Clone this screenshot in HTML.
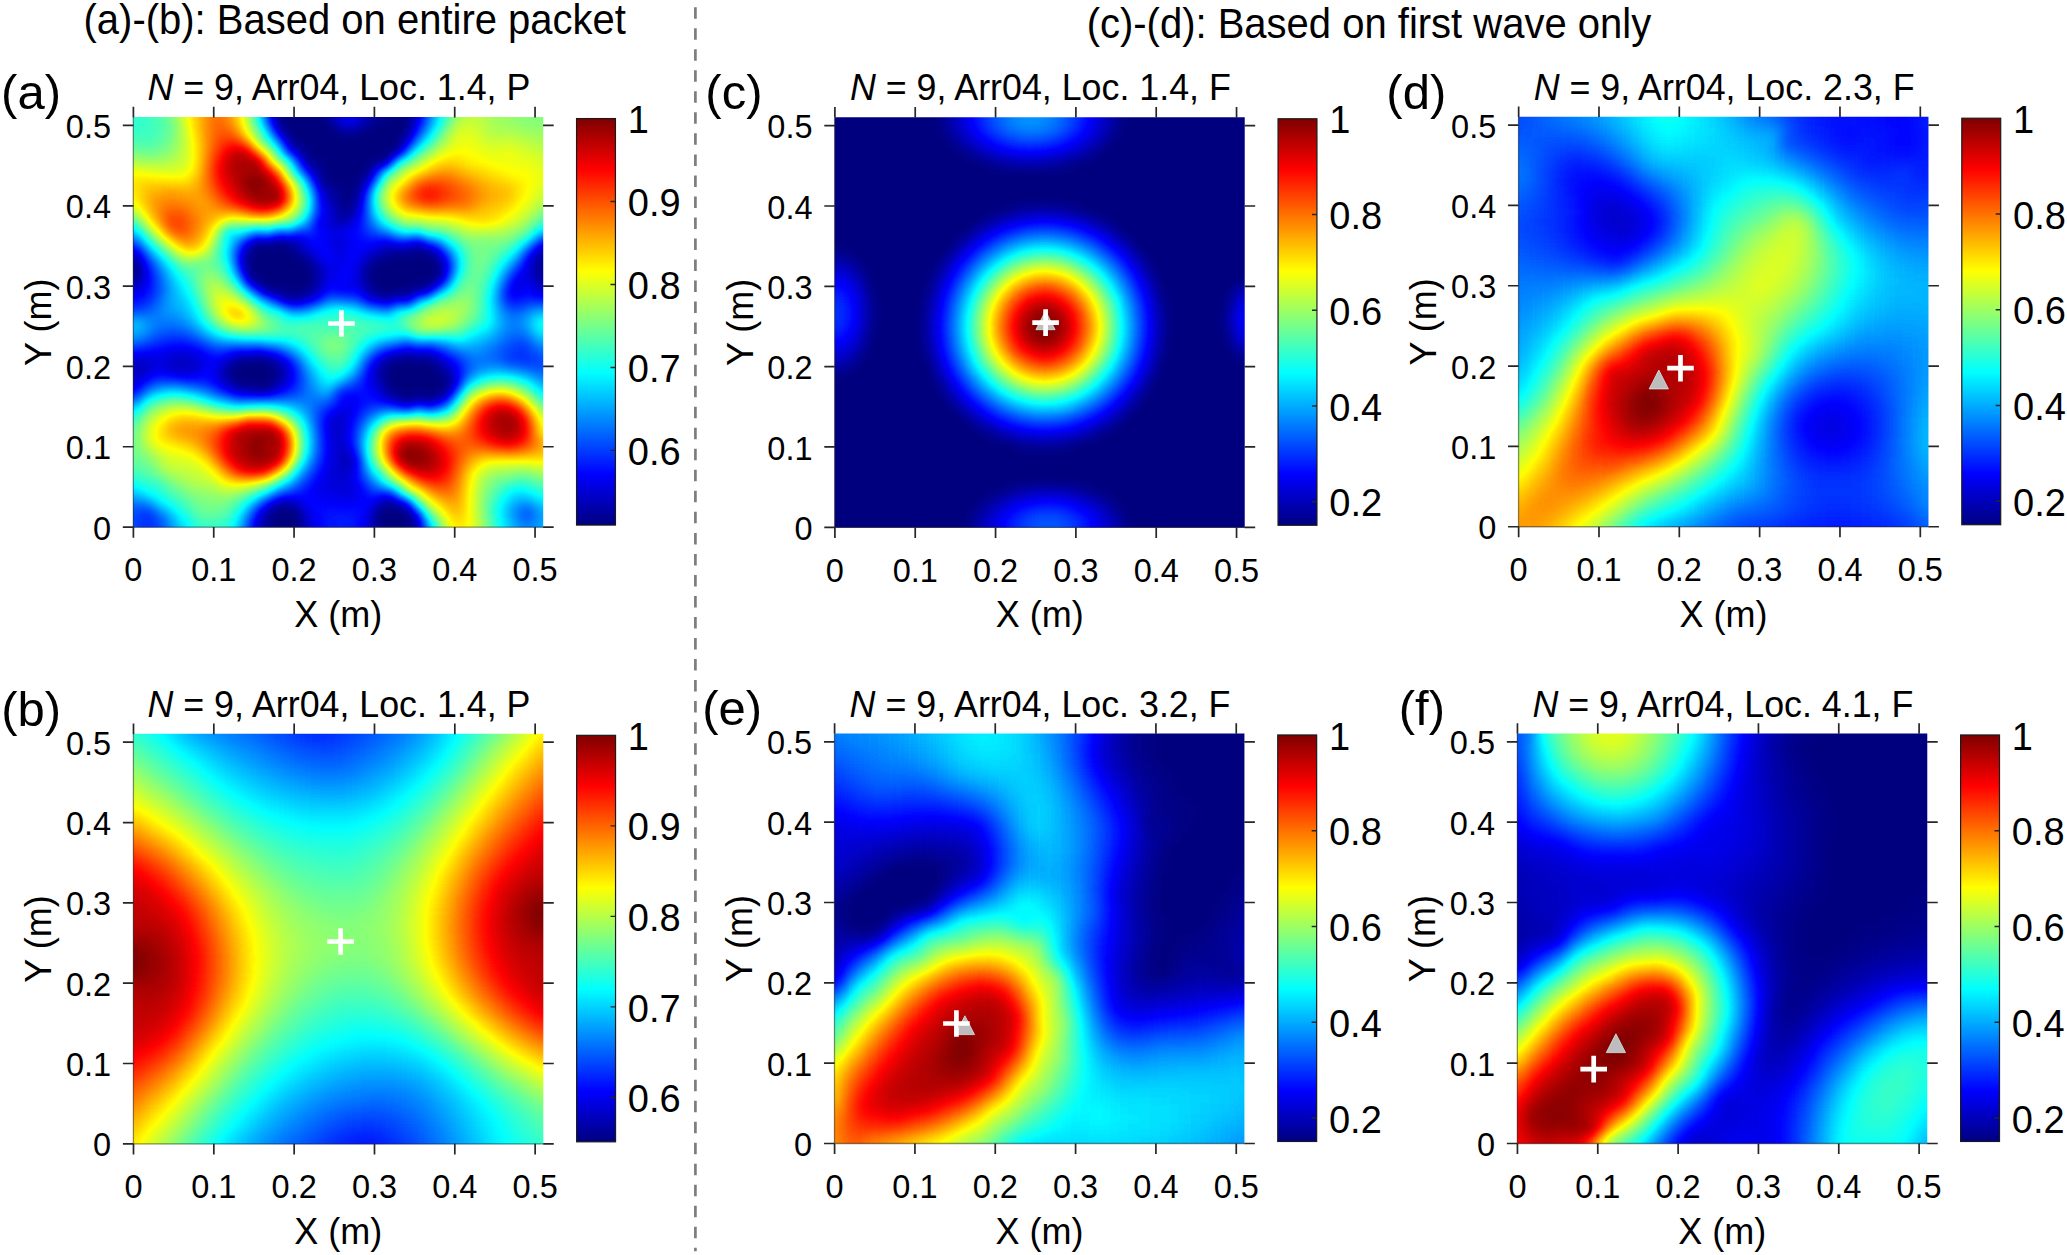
<!DOCTYPE html>
<html lang="en"><head><meta charset="utf-8"><title>Figure</title>
<style>html,body{margin:0;padding:0;background:#fff}svg{display:block}text{font-family:"Liberation Sans",sans-serif;fill:#000}.tk{font-size:32.5px}.lb{font-size:36px}.tt{font-size:36.6px}.cb{font-size:38px}.pl{font-size:49px}.hd{font-size:42px}</style></head><body>
<svg width="2067" height="1255" viewBox="0 0 2067 1255">
<defs>
<filter id="jet" filterUnits="userSpaceOnUse" x="0" y="0" width="600" height="600" color-interpolation-filters="sRGB"><feGaussianBlur stdDeviation="5.8"/><feComponentTransfer><feFuncR type="table" tableValues="0 0 0 0 .5 1 1 1 .5"/><feFuncG type="table" tableValues="0 0 .5 1 1 1 .5 0 0"/><feFuncB type="table" tableValues=".5 1 1 1 .5 0 0 0 0"/></feComponentTransfer></filter>
<linearGradient id="jg" x1="0" y1="1" x2="0" y2="0"><stop offset="0" stop-color="#000080"/><stop offset=".125" stop-color="#0000ff"/><stop offset=".375" stop-color="#00ffff"/><stop offset=".625" stop-color="#ffff00"/><stop offset=".875" stop-color="#ff0000"/><stop offset="1" stop-color="#800000"/></linearGradient>
</defs>
<rect width="2067" height="1255" fill="#fff"/>
<text class="hd" transform="translate(354.7 33.7) scale(.9524 1)" text-anchor="middle">(a)-(b): Based on entire packet</text>
<text class="hd" transform="translate(1368.9 37.5) scale(.9524 1)" text-anchor="middle">(c)-(d): Based on first wave only</text>
<path d="M695.4 7.2V1251.2" stroke="#7d7d7d" stroke-width="2.7" stroke-dasharray="11.5 9.528" fill="none"/>
<clipPath id="cla"><rect x="133.00" y="117.02" width="410.23" height="410.43"/></clipPath>
<g clip-path="url(#cla)"><g filter="url(#jet)" transform="translate(103.00 87.02)">
<path fill="#000000" d="M180 0h40.5v10.5h-40.5zM290 0h20.5v10.5h-20.5zM180 10h40.5v10.5h-40.5zM290 10h20.5v10.5h-20.5zM180 20h40.5v10.5h-40.5zM290 20h20.5v10.5h-20.5zM180 30h50.5v10.5h-50.5zM280 30h30.5v10.5h-30.5zM180 40h60.5v10.5h-60.5zM260 40h40.5v10.5h-40.5zM190 50h110.5v10.5h-110.5zM210 60h90.5v10.5h-90.5zM220 70h70.5v10.5h-70.5zM220 80h50.5v10.5h-50.5zM230 90h20.5v10.5h-20.5zM240 100h10.5v10.5h-10.5zM240 110h10.5v10.5h-10.5zM150 150h10.5v10.5h-10.5zM170 150h10.5v10.5h-10.5zM150 160h40.5v10.5h-40.5zM290 160h10.5v10.5h-10.5zM320 160h10.5v10.5h-10.5zM20 170h10.5v10.5h-10.5zM140 170h70.5v10.5h-70.5zM270 170h70.5v10.5h-70.5zM0 180h40.5v10.5h-40.5zM140 180h70.5v10.5h-70.5zM260 180h80.5v10.5h-80.5zM150 190h60.5v10.5h-60.5zM270 190h60.5v10.5h-60.5zM190 200h10.5v10.5h-10.5zM280 200h30.5v10.5h-30.5zM130 270h40.5v10.5h-40.5zM290 270h40.5v10.5h-40.5zM130 280h40.5v10.5h-40.5zM280 280h60.5v10.5h-60.5zM130 290h40.5v10.5h-40.5zM280 290h70.5v10.5h-70.5zM290 300h50.5v10.5h-50.5zM280 410h10.5v10.5h-10.5zM170 420h30.5v10.5h-30.5zM270 420h40.5v10.5h-40.5zM170 430h30.5v10.5h-30.5zM270 430h40.5v10.5h-40.5zM170 440h20.5v10.5h-20.5zM280 440h30.5v10.5h-30.5zM170 450h20.5v10.5h-20.5zM280 450h30.5v10.5h-30.5zM170 460h20.5v10.5h-20.5zM280 460h30.5v10.5h-30.5zM170 470h20.5v10.5h-20.5zM280 470h30.5v10.5h-30.5z"/>
<path fill="#010101" d="M170 30h10.5v10.5h-10.5zM270 30h10.5v10.5h-10.5zM250 40h10.5v10.5h-10.5zM200 60h10.5v10.5h-10.5zM200 70h10.5v10.5h-10.5zM250 90h10.5v10.5h-10.5zM310 160h10.5v10.5h-10.5zM270 200h10.5v10.5h-10.5zM120 280h10.5v10.5h-10.5zM300 310h10.5v10.5h-10.5z"/>
<path fill="#020202" d="M170 0h10.5v10.5h-10.5zM280 0h10.5v10.5h-10.5zM170 10h10.5v10.5h-10.5zM280 10h10.5v10.5h-10.5zM170 20h10.5v10.5h-10.5zM300 40h10.5v10.5h-10.5zM220 90h10.5v10.5h-10.5zM440 180h10.5v10.5h-10.5zM160 200h10.5v10.5h-10.5zM180 200h10.5v10.5h-10.5zM170 280h10.5v10.5h-10.5zM190 450h10.5v10.5h-10.5zM270 450h10.5v10.5h-10.5z"/>
<path fill="#030303" d="M280 20h10.5v10.5h-10.5zM210 70h10.5v10.5h-10.5zM250 100h10.5v10.5h-10.5zM180 150h10.5v10.5h-10.5zM140 160h10.5v10.5h-10.5zM0 170h10.5v10.5h-10.5zM460 180h20.5v10.5h-20.5zM170 200h10.5v10.5h-10.5zM280 270h10.5v10.5h-10.5zM320 310h10.5v10.5h-10.5zM160 430h10.5v10.5h-10.5zM190 460h10.5v10.5h-10.5zM270 460h10.5v10.5h-10.5zM190 470h10.5v10.5h-10.5zM270 470h10.5v10.5h-10.5z"/>
<path fill="#040404" d="M230 110h10.5v10.5h-10.5zM240 120h10.5v10.5h-10.5zM190 160h10.5v10.5h-10.5zM10 170h10.5v10.5h-10.5zM450 180h10.5v10.5h-10.5zM260 190h10.5v10.5h-10.5zM330 190h10.5v10.5h-10.5zM200 200h10.5v10.5h-10.5zM310 430h10.5v10.5h-10.5zM190 440h10.5v10.5h-10.5zM270 440h10.5v10.5h-10.5z"/>
<path fill="#050505" d="M240 40h10.5v10.5h-10.5zM160 150h10.5v10.5h-10.5zM440 170h10.5v10.5h-10.5zM460 170h20.5v10.5h-20.5zM430 180h10.5v10.5h-10.5zM160 450h10.5v10.5h-10.5zM160 460h10.5v10.5h-10.5zM160 470h10.5v10.5h-10.5z"/>
<path fill="#060606" d="M220 10h10.5v10.5h-10.5zM270 10h10.5v10.5h-10.5zM300 160h10.5v10.5h-10.5zM450 170h10.5v10.5h-10.5zM150 300h20.5v10.5h-20.5zM280 300h10.5v10.5h-10.5zM340 300h10.5v10.5h-10.5zM160 440h10.5v10.5h-10.5z"/>
<path fill="#070707" d="M220 0h10.5v10.5h-10.5zM270 0h10.5v10.5h-10.5zM230 100h10.5v10.5h-10.5zM30 170h10.5v10.5h-10.5zM430 170h10.5v10.5h-10.5zM20 190h10.5v10.5h-10.5zM170 290h10.5v10.5h-10.5zM160 420h10.5v10.5h-10.5z"/>
<path fill="#080808" d="M210 80h10.5v10.5h-10.5zM210 90h10.5v10.5h-10.5zM230 130h10.5v10.5h-10.5zM210 180h10.5v10.5h-10.5zM0 190h10.5v10.5h-10.5z"/>
<path fill="#090909" d="M260 30h10.5v10.5h-10.5zM180 50h10.5v10.5h-10.5zM250 110h10.5v10.5h-10.5zM280 160h10.5v10.5h-10.5zM440 160h10.5v10.5h-10.5zM10 190h10.5v10.5h-10.5zM440 190h10.5v10.5h-10.5zM330 270h10.5v10.5h-10.5zM170 410h10.5v10.5h-10.5z"/>
<path fill="#0a0a0a" d="M220 20h10.5v10.5h-10.5zM270 20h10.5v10.5h-10.5zM220 100h10.5v10.5h-10.5zM230 120h10.5v10.5h-10.5zM460 160h10.5v10.5h-10.5zM460 190h20.5v10.5h-20.5zM340 280h10.5v10.5h-10.5zM240 370h10.5v10.5h-10.5zM180 410h10.5v10.5h-10.5z"/>
<path fill="#0b0b0b" d="M190 60h10.5v10.5h-10.5zM430 160h10.5v10.5h-10.5zM450 160h10.5v10.5h-10.5zM470 160h10.5v10.5h-10.5zM260 170h10.5v10.5h-10.5zM210 190h10.5v10.5h-10.5zM450 190h10.5v10.5h-10.5zM260 200h10.5v10.5h-10.5zM320 200h10.5v10.5h-10.5zM180 210h10.5v10.5h-10.5zM170 270h10.5v10.5h-10.5zM270 280h10.5v10.5h-10.5z"/>
<path fill="#0c0c0c" d="M30 190h10.5v10.5h-10.5zM430 190h10.5v10.5h-10.5zM280 210h10.5v10.5h-10.5zM120 290h10.5v10.5h-10.5z"/>
<path fill="#0d0d0d" d="M260 10h10.5v10.5h-10.5zM240 130h10.5v10.5h-10.5zM310 150h10.5v10.5h-10.5zM310 200h10.5v10.5h-10.5zM300 260h10.5v10.5h-10.5zM140 300h10.5v10.5h-10.5z"/>
<path fill="#0e0e0e" d="M260 0h10.5v10.5h-10.5zM260 90h10.5v10.5h-10.5zM210 200h10.5v10.5h-10.5zM30 280h10.5v10.5h-10.5zM290 310h10.5v10.5h-10.5z"/>
<path fill="#0f0f0f" d="M170 40h10.5v10.5h-10.5zM20 160h10.5v10.5h-10.5zM330 160h10.5v10.5h-10.5zM190 210h10.5v10.5h-10.5zM30 270h10.5v10.5h-10.5zM70 270h10.5v10.5h-10.5zM120 270h10.5v10.5h-10.5zM270 290h10.5v10.5h-10.5zM290 410h10.5v10.5h-10.5zM310 450h10.5v10.5h-10.5z"/>
<path fill="#101010" d="M260 20h10.5v10.5h-10.5zM220 110h10.5v10.5h-10.5zM270 160h10.5v10.5h-10.5zM140 190h10.5v10.5h-10.5zM320 260h10.5v10.5h-10.5zM10 270h10.5v10.5h-10.5zM80 270h10.5v10.5h-10.5zM130 300h10.5v10.5h-10.5zM240 360h10.5v10.5h-10.5zM310 460h10.5v10.5h-10.5zM310 470h10.5v10.5h-10.5z"/>
<path fill="#111111" d="M230 150h10.5v10.5h-10.5zM410 190h10.5v10.5h-10.5zM150 260h10.5v10.5h-10.5zM0 270h10.5v10.5h-10.5zM20 270h10.5v10.5h-10.5zM70 280h10.5v10.5h-10.5zM330 310h10.5v10.5h-10.5zM230 330h10.5v10.5h-10.5zM230 340h10.5v10.5h-10.5zM230 350h10.5v10.5h-10.5z"/>
<path fill="#121212" d="M190 150h10.5v10.5h-10.5zM0 160h10.5v10.5h-10.5zM270 270h10.5v10.5h-10.5zM0 280h20.5v10.5h-20.5zM180 280h10.5v10.5h-10.5zM310 310h10.5v10.5h-10.5zM230 360h10.5v10.5h-10.5zM240 380h10.5v10.5h-10.5zM150 440h10.5v10.5h-10.5z"/>
<path fill="#131313" d="M230 30h10.5v10.5h-10.5zM250 120h10.5v10.5h-10.5zM210 170h10.5v10.5h-10.5zM40 270h10.5v10.5h-10.5zM60 270h10.5v10.5h-10.5zM90 270h10.5v10.5h-10.5zM40 280h10.5v10.5h-10.5zM80 280h10.5v10.5h-10.5zM20 290h10.5v10.5h-10.5zM230 370h10.5v10.5h-10.5zM150 430h10.5v10.5h-10.5zM150 450h10.5v10.5h-10.5zM150 460h10.5v10.5h-10.5zM150 470h10.5v10.5h-10.5z"/>
<path fill="#141414" d="M300 50h10.5v10.5h-10.5zM280 150h10.5v10.5h-10.5zM10 160h10.5v10.5h-10.5zM200 160h10.5v10.5h-10.5zM290 260h10.5v10.5h-10.5zM20 280h10.5v10.5h-10.5zM0 290h20.5v10.5h-20.5zM230 380h10.5v10.5h-10.5zM200 430h10.5v10.5h-10.5zM310 440h10.5v10.5h-10.5z"/>
<path fill="#151515" d="M420 170h10.5v10.5h-10.5zM430 200h10.5v10.5h-10.5zM300 210h10.5v10.5h-10.5zM240 390h10.5v10.5h-10.5zM270 410h10.5v10.5h-10.5zM200 440h10.5v10.5h-10.5zM200 450h10.5v10.5h-10.5zM200 460h10.5v10.5h-10.5zM200 470h10.5v10.5h-10.5z"/>
<path fill="#161616" d="M250 0h10.5v10.5h-10.5zM230 10h10.5v10.5h-10.5zM250 10h10.5v10.5h-10.5zM250 30h10.5v10.5h-10.5zM210 130h10.5v10.5h-10.5zM140 150h10.5v10.5h-10.5zM250 180h10.5v10.5h-10.5zM250 190h10.5v10.5h-10.5zM440 200h40.5v10.5h-40.5zM340 270h10.5v10.5h-10.5zM110 280h10.5v10.5h-10.5zM30 290h10.5v10.5h-10.5zM230 320h10.5v10.5h-10.5zM220 330h10.5v10.5h-10.5zM230 390h10.5v10.5h-10.5zM240 400h10.5v10.5h-10.5z"/>
<path fill="#171717" d="M230 0h10.5v10.5h-10.5zM250 20h10.5v10.5h-10.5zM310 30h10.5v10.5h-10.5zM230 160h10.5v10.5h-10.5zM260 160h10.5v10.5h-10.5zM230 170h10.5v10.5h-10.5zM220 180h10.5v10.5h-10.5zM70 260h20.5v10.5h-20.5zM310 260h10.5v10.5h-10.5zM60 280h10.5v10.5h-10.5zM220 390h10.5v10.5h-10.5zM230 400h10.5v10.5h-10.5zM190 410h10.5v10.5h-10.5zM260 430h10.5v10.5h-10.5z"/>
<path fill="#181818" d="M310 0h10.5v10.5h-10.5zM220 130h10.5v10.5h-10.5zM30 160h10.5v10.5h-10.5zM130 260h10.5v10.5h-10.5zM90 280h10.5v10.5h-10.5zM110 290h10.5v10.5h-10.5zM180 290h10.5v10.5h-10.5zM350 290h10.5v10.5h-10.5zM240 320h10.5v10.5h-10.5zM240 330h10.5v10.5h-10.5zM220 340h10.5v10.5h-10.5zM220 380h10.5v10.5h-10.5zM260 440h10.5v10.5h-10.5zM260 450h10.5v10.5h-10.5zM260 460h10.5v10.5h-10.5zM260 470h10.5v10.5h-10.5z"/>
<path fill="#191919" d="M310 10h10.5v10.5h-10.5zM230 20h10.5v10.5h-10.5zM310 20h10.5v10.5h-10.5zM440 150h10.5v10.5h-10.5zM420 180h10.5v10.5h-10.5zM0 200h10.5v10.5h-10.5zM20 200h10.5v10.5h-10.5zM50 270h10.5v10.5h-10.5zM180 270h10.5v10.5h-10.5zM280 310h10.5v10.5h-10.5zM240 350h10.5v10.5h-10.5zM250 370h10.5v10.5h-10.5zM250 400h10.5v10.5h-10.5z"/>
<path fill="#1a1a1a" d="M200 80h10.5v10.5h-10.5zM340 180h10.5v10.5h-10.5zM10 200h10.5v10.5h-10.5zM400 200h10.5v10.5h-10.5zM200 210h10.5v10.5h-10.5zM60 260h10.5v10.5h-10.5zM90 260h10.5v10.5h-10.5zM270 300h10.5v10.5h-10.5zM240 310h10.5v10.5h-10.5zM240 340h10.5v10.5h-10.5zM220 370h10.5v10.5h-10.5zM220 400h10.5v10.5h-10.5zM300 410h10.5v10.5h-10.5z"/>
<path fill="#1b1b1b" d="M230 140h10.5v10.5h-10.5zM240 150h10.5v10.5h-10.5zM300 150h10.5v10.5h-10.5zM250 170h10.5v10.5h-10.5zM30 200h10.5v10.5h-10.5zM410 200h10.5v10.5h-10.5zM140 260h10.5v10.5h-10.5zM160 260h10.5v10.5h-10.5zM210 400h10.5v10.5h-10.5zM150 420h10.5v10.5h-10.5zM200 420h10.5v10.5h-10.5z"/>
<path fill="#1c1c1c" d="M220 120h10.5v10.5h-10.5zM220 150h10.5v10.5h-10.5zM420 190h10.5v10.5h-10.5zM270 210h10.5v10.5h-10.5zM280 260h10.5v10.5h-10.5zM110 270h10.5v10.5h-10.5zM260 290h10.5v10.5h-10.5zM20 300h10.5v10.5h-10.5zM220 350h10.5v10.5h-10.5zM220 360h10.5v10.5h-10.5zM210 390h10.5v10.5h-10.5z"/>
<path fill="#1d1d1d" d="M460 150h10.5v10.5h-10.5zM340 170h10.5v10.5h-10.5zM230 180h10.5v10.5h-10.5zM220 190h10.5v10.5h-10.5zM240 200h10.5v10.5h-10.5zM50 260h10.5v10.5h-10.5zM100 270h10.5v10.5h-10.5zM50 280h10.5v10.5h-10.5zM170 300h10.5v10.5h-10.5zM230 410h20.5v10.5h-20.5zM260 420h10.5v10.5h-10.5z"/>
<path fill="#1e1e1e" d="M240 10h10.5v10.5h-10.5zM240 20h10.5v10.5h-10.5zM220 140h10.5v10.5h-10.5zM200 150h10.5v10.5h-10.5zM270 150h10.5v10.5h-10.5zM470 150h10.5v10.5h-10.5zM210 160h10.5v10.5h-10.5zM240 160h10.5v10.5h-10.5zM40 190h10.5v10.5h-10.5zM230 190h20.5v10.5h-20.5zM230 200h10.5v10.5h-10.5zM260 210h10.5v10.5h-10.5zM40 260h10.5v10.5h-10.5zM350 280h10.5v10.5h-10.5zM0 300h10.5v10.5h-10.5zM250 310h10.5v10.5h-10.5zM250 410h10.5v10.5h-10.5z"/>
<path fill="#1f1f1f" d="M240 0h10.5v10.5h-10.5zM210 100h10.5v10.5h-10.5zM250 150h10.5v10.5h-10.5zM220 170h10.5v10.5h-10.5zM40 180h10.5v10.5h-10.5zM330 260h10.5v10.5h-10.5zM260 280h10.5v10.5h-10.5zM250 390h10.5v10.5h-10.5zM200 400h10.5v10.5h-10.5zM220 410h10.5v10.5h-10.5zM210 440h10.5v10.5h-10.5zM210 450h10.5v10.5h-10.5zM210 460h10.5v10.5h-10.5zM210 470h10.5v10.5h-10.5z"/>
<path fill="#202020" d="M250 130h10.5v10.5h-10.5zM190 140h10.5v10.5h-10.5zM450 150h10.5v10.5h-10.5zM240 170h10.5v10.5h-10.5zM410 180h10.5v10.5h-10.5zM250 200h10.5v10.5h-10.5zM0 260h40.5v10.5h-40.5zM10 300h10.5v10.5h-10.5zM120 300h10.5v10.5h-10.5zM160 410h10.5v10.5h-10.5zM210 410h10.5v10.5h-10.5zM260 410h10.5v10.5h-10.5zM210 430h10.5v10.5h-10.5z"/>
<path fill="#212121" d="M240 30h10.5v10.5h-10.5zM210 140h10.5v10.5h-10.5zM130 170h10.5v10.5h-10.5zM240 300h10.5v10.5h-10.5z"/>
<path fill="#222222" d="M180 60h10.5v10.5h-10.5zM250 140h10.5v10.5h-10.5zM210 150h10.5v10.5h-10.5zM260 150h10.5v10.5h-10.5zM250 160h10.5v10.5h-10.5zM270 310h10.5v10.5h-10.5zM220 320h10.5v10.5h-10.5zM250 320h10.5v10.5h-10.5zM210 380h10.5v10.5h-10.5zM280 400h10.5v10.5h-10.5zM210 420h10.5v10.5h-10.5z"/>
<path fill="#232323" d="M210 110h10.5v10.5h-10.5zM240 140h10.5v10.5h-10.5zM240 180h10.5v10.5h-10.5zM40 200h10.5v10.5h-10.5zM0 210h30.5v10.5h-30.5zM100 260h10.5v10.5h-10.5zM100 280h10.5v10.5h-10.5zM100 290h10.5v10.5h-10.5zM30 300h10.5v10.5h-10.5zM250 300h20.5v10.5h-20.5zM250 380h10.5v10.5h-10.5zM200 410h10.5v10.5h-10.5zM240 420h10.5v10.5h-10.5zM250 430h10.5v10.5h-10.5zM250 440h10.5v10.5h-10.5zM250 450h10.5v10.5h-10.5zM250 460h10.5v10.5h-10.5zM250 470h10.5v10.5h-10.5z"/>
<path fill="#242424" d="M210 120h10.5v10.5h-10.5zM220 160h10.5v10.5h-10.5zM420 200h10.5v10.5h-10.5zM30 210h10.5v10.5h-10.5zM410 210h10.5v10.5h-10.5zM120 260h10.5v10.5h-10.5zM230 300h10.5v10.5h-10.5zM260 310h10.5v10.5h-10.5zM220 420h20.5v10.5h-20.5zM220 440h10.5v10.5h-10.5zM220 460h10.5v10.5h-10.5zM220 470h10.5v10.5h-10.5z"/>
<path fill="#252525" d="M290 150h10.5v10.5h-10.5zM420 160h10.5v10.5h-10.5zM150 200h10.5v10.5h-10.5zM220 200h10.5v10.5h-10.5zM170 210h10.5v10.5h-10.5zM70 250h10.5v10.5h-10.5zM170 260h10.5v10.5h-10.5zM350 270h10.5v10.5h-10.5zM40 290h10.5v10.5h-10.5zM250 420h10.5v10.5h-10.5zM220 430h10.5v10.5h-10.5zM220 450h10.5v10.5h-10.5z"/>
<path fill="#262626" d="M130 160h10.5v10.5h-10.5zM400 210h10.5v10.5h-10.5zM180 300h10.5v10.5h-10.5zM230 310h10.5v10.5h-10.5zM190 400h10.5v10.5h-10.5zM260 400h10.5v10.5h-10.5zM310 420h10.5v10.5h-10.5zM230 440h20.5v10.5h-20.5zM230 450h20.5v10.5h-20.5zM230 460h20.5v10.5h-20.5zM230 470h20.5v10.5h-20.5z"/>
<path fill="#272727" d="M160 20h10.5v10.5h-10.5zM270 80h10.5v10.5h-10.5zM290 210h10.5v10.5h-10.5zM60 250h10.5v10.5h-10.5zM80 250h10.5v10.5h-10.5zM90 290h10.5v10.5h-10.5zM230 430h20.5v10.5h-20.5z"/>
<path fill="#282828" d="M430 150h10.5v10.5h-10.5zM40 170h10.5v10.5h-10.5zM80 290h10.5v10.5h-10.5zM200 390h10.5v10.5h-10.5zM40 420h10.5v10.5h-10.5z"/>
<path fill="#292929" d="M160 0h10.5v10.5h-10.5zM40 210h10.5v10.5h-10.5zM210 210h10.5v10.5h-10.5zM110 260h10.5v10.5h-10.5zM260 270h10.5v10.5h-10.5zM190 280h10.5v10.5h-10.5z"/>
<path fill="#2a2a2a" d="M160 10h10.5v10.5h-10.5zM310 40h10.5v10.5h-10.5zM190 70h10.5v10.5h-10.5zM170 140h10.5v10.5h-10.5zM190 290h10.5v10.5h-10.5zM250 330h10.5v10.5h-10.5zM250 360h10.5v10.5h-10.5zM40 430h10.5v10.5h-10.5zM40 450h10.5v10.5h-10.5zM40 470h10.5v10.5h-10.5z"/>
<path fill="#2b2b2b" d="M320 150h10.5v10.5h-10.5zM400 190h10.5v10.5h-10.5zM420 210h20.5v10.5h-20.5zM50 250h10.5v10.5h-10.5zM410 260h10.5v10.5h-10.5zM420 270h10.5v10.5h-10.5zM40 440h10.5v10.5h-10.5zM40 460h10.5v10.5h-10.5z"/>
<path fill="#2c2c2c" d="M160 30h10.5v10.5h-10.5zM260 140h10.5v10.5h-10.5zM440 210h40.5v10.5h-40.5zM340 310h10.5v10.5h-10.5zM210 370h10.5v10.5h-10.5z"/>
<path fill="#2d2d2d" d="M260 100h10.5v10.5h-10.5zM200 140h10.5v10.5h-10.5zM270 260h10.5v10.5h-10.5zM420 260h10.5v10.5h-10.5zM410 270h10.5v10.5h-10.5zM250 290h10.5v10.5h-10.5zM140 440h10.5v10.5h-10.5z"/>
<path fill="#2e2e2e" d="M20 150h10.5v10.5h-10.5zM90 250h10.5v10.5h-10.5zM340 260h10.5v10.5h-10.5zM400 270h10.5v10.5h-10.5zM70 290h10.5v10.5h-10.5zM110 300h10.5v10.5h-10.5zM420 420h10.5v10.5h-10.5zM140 460h10.5v10.5h-10.5zM140 470h10.5v10.5h-10.5z"/>
<path fill="#2f2f2f" d="M20 220h10.5v10.5h-10.5zM430 270h10.5v10.5h-10.5zM50 290h10.5v10.5h-10.5zM210 330h10.5v10.5h-10.5zM180 400h10.5v10.5h-10.5zM270 400h10.5v10.5h-10.5zM140 450h10.5v10.5h-10.5z"/>
<path fill="#303030" d="M0 220h20.5v10.5h-20.5zM400 260h10.5v10.5h-10.5zM450 270h30.5v10.5h-30.5zM260 320h10.5v10.5h-10.5zM30 430h10.5v10.5h-10.5zM50 430h10.5v10.5h-10.5zM30 440h10.5v10.5h-10.5zM30 450h10.5v10.5h-10.5zM30 460h10.5v10.5h-10.5zM30 470h10.5v10.5h-10.5z"/>
<path fill="#313131" d="M50 200h10.5v10.5h-10.5zM40 250h10.5v10.5h-10.5zM410 250h10.5v10.5h-10.5zM440 270h10.5v10.5h-10.5zM60 290h10.5v10.5h-10.5zM190 300h10.5v10.5h-10.5zM30 420h10.5v10.5h-10.5zM10 430h10.5v10.5h-10.5zM140 430h10.5v10.5h-10.5zM50 440h10.5v10.5h-10.5zM50 450h10.5v10.5h-10.5zM50 460h10.5v10.5h-10.5zM50 470h10.5v10.5h-10.5z"/>
<path fill="#323232" d="M0 150h10.5v10.5h-10.5zM50 190h10.5v10.5h-10.5zM30 220h10.5v10.5h-10.5zM420 250h10.5v10.5h-10.5zM210 320h10.5v10.5h-10.5zM210 340h10.5v10.5h-10.5zM250 340h10.5v10.5h-10.5zM0 420h20.5v10.5h-20.5zM0 430h10.5v10.5h-10.5zM0 440h20.5v10.5h-20.5zM0 450h20.5v10.5h-20.5zM0 460h20.5v10.5h-20.5zM0 470h20.5v10.5h-20.5z"/>
<path fill="#333333" d="M260 130h10.5v10.5h-10.5zM210 360h10.5v10.5h-10.5zM260 390h10.5v10.5h-10.5zM20 420h10.5v10.5h-10.5zM20 430h10.5v10.5h-10.5zM20 440h10.5v10.5h-10.5zM20 450h10.5v10.5h-10.5zM20 460h10.5v10.5h-10.5zM20 470h10.5v10.5h-10.5z"/>
<path fill="#343434" d="M10 150h10.5v10.5h-10.5zM60 240h20.5v10.5h-20.5zM210 350h10.5v10.5h-10.5z"/>
<path fill="#353535" d="M130 180h10.5v10.5h-10.5zM340 190h10.5v10.5h-10.5zM300 250h10.5v10.5h-10.5zM190 270h10.5v10.5h-10.5zM360 270h10.5v10.5h-10.5zM360 280h10.5v10.5h-10.5zM220 310h10.5v10.5h-10.5z"/>
<path fill="#363636" d="M320 20h10.5v10.5h-10.5zM270 140h10.5v10.5h-10.5zM340 160h10.5v10.5h-10.5zM400 250h10.5v10.5h-10.5zM390 260h10.5v10.5h-10.5zM430 260h10.5v10.5h-10.5zM440 280h10.5v10.5h-10.5zM250 350h10.5v10.5h-10.5z"/>
<path fill="#373737" d="M410 170h10.5v10.5h-10.5zM50 180h10.5v10.5h-10.5zM450 280h30.5v10.5h-30.5zM350 300h10.5v10.5h-10.5zM200 380h10.5v10.5h-10.5z"/>
<path fill="#383838" d="M320 0h10.5v10.5h-10.5zM320 10h10.5v10.5h-10.5zM260 110h10.5v10.5h-10.5zM410 220h10.5v10.5h-10.5zM80 240h10.5v10.5h-10.5zM450 260h10.5v10.5h-10.5zM430 280h10.5v10.5h-10.5zM300 320h10.5v10.5h-10.5z"/>
<path fill="#393939" d="M260 120h10.5v10.5h-10.5zM30 150h10.5v10.5h-10.5zM50 210h10.5v10.5h-10.5zM250 210h10.5v10.5h-10.5zM40 220h10.5v10.5h-10.5zM50 240h10.5v10.5h-10.5zM100 250h10.5v10.5h-10.5zM350 260h10.5v10.5h-10.5zM460 260h20.5v10.5h-20.5z"/>
<path fill="#3a3a3a" d="M320 30h10.5v10.5h-10.5zM400 220h10.5v10.5h-10.5zM180 260h10.5v10.5h-10.5zM440 260h10.5v10.5h-10.5zM390 270h10.5v10.5h-10.5zM20 310h10.5v10.5h-10.5zM210 310h10.5v10.5h-10.5zM190 390h10.5v10.5h-10.5z"/>
<path fill="#3b3b3b" d="M330 150h10.5v10.5h-10.5zM0 250h20.5v10.5h-20.5zM30 250h10.5v10.5h-10.5zM380 270h10.5v10.5h-10.5zM50 420h10.5v10.5h-10.5zM410 420h10.5v10.5h-10.5zM420 430h10.5v10.5h-10.5z"/>
<path fill="#3c3c3c" d="M180 140h10.5v10.5h-10.5zM400 180h10.5v10.5h-10.5zM410 240h10.5v10.5h-10.5zM20 250h10.5v10.5h-10.5zM370 270h10.5v10.5h-10.5zM240 290h10.5v10.5h-10.5zM270 320h10.5v10.5h-10.5zM170 400h10.5v10.5h-10.5z"/>
<path fill="#3d3d3d" d="M150 140h10.5v10.5h-10.5zM130 150h10.5v10.5h-10.5zM240 210h10.5v10.5h-10.5zM320 250h10.5v10.5h-10.5zM380 260h10.5v10.5h-10.5zM100 300h10.5v10.5h-10.5zM200 300h10.5v10.5h-10.5zM0 310h10.5v10.5h-10.5zM60 430h10.5v10.5h-10.5z"/>
<path fill="#3e3e3e" d="M60 230h10.5v10.5h-10.5zM400 240h10.5v10.5h-10.5zM390 250h10.5v10.5h-10.5zM250 280h10.5v10.5h-10.5zM420 280h10.5v10.5h-10.5zM200 290h10.5v10.5h-10.5zM200 310h10.5v10.5h-10.5zM0 410h40.5v10.5h-40.5zM60 440h10.5v10.5h-10.5zM60 450h10.5v10.5h-10.5zM60 460h10.5v10.5h-10.5zM60 470h10.5v10.5h-10.5z"/>
<path fill="#3f3f3f" d="M40 160h10.5v10.5h-10.5zM50 220h10.5v10.5h-10.5zM50 230h10.5v10.5h-10.5zM10 310h10.5v10.5h-10.5zM420 450h10.5v10.5h-10.5z"/>
<path fill="#404040" d="M300 60h10.5v10.5h-10.5zM280 140h10.5v10.5h-10.5zM220 210h10.5v10.5h-10.5zM70 230h10.5v10.5h-10.5zM290 250h10.5v10.5h-10.5zM130 310h10.5v10.5h-10.5zM190 310h10.5v10.5h-10.5zM420 460h10.5v10.5h-10.5zM420 470h10.5v10.5h-10.5z"/>
<path fill="#414141" d="M400 230h20.5v10.5h-20.5zM40 240h10.5v10.5h-10.5z"/>
<path fill="#424242" d="M420 220h10.5v10.5h-10.5zM360 260h10.5v10.5h-10.5zM40 300h10.5v10.5h-10.5zM180 310h10.5v10.5h-10.5zM320 320h10.5v10.5h-10.5zM150 410h10.5v10.5h-10.5zM320 440h10.5v10.5h-10.5zM420 440h10.5v10.5h-10.5z"/>
<path fill="#434343" d="M170 50h10.5v10.5h-10.5zM90 240h10.5v10.5h-10.5zM420 240h10.5v10.5h-10.5zM110 250h10.5v10.5h-10.5zM310 250h10.5v10.5h-10.5zM370 260h10.5v10.5h-10.5zM140 310h10.5v10.5h-10.5zM200 320h10.5v10.5h-10.5zM410 430h10.5v10.5h-10.5z"/>
<path fill="#444444" d="M200 130h10.5v10.5h-10.5zM50 170h10.5v10.5h-10.5zM60 200h10.5v10.5h-10.5zM390 200h10.5v10.5h-10.5zM230 210h10.5v10.5h-10.5zM390 210h10.5v10.5h-10.5zM40 230h10.5v10.5h-10.5zM170 310h10.5v10.5h-10.5zM290 320h10.5v10.5h-10.5zM260 330h10.5v10.5h-10.5zM40 410h10.5v10.5h-10.5zM430 420h10.5v10.5h-10.5z"/>
<path fill="#454545" d="M330 250h10.5v10.5h-10.5zM200 280h10.5v10.5h-10.5zM370 280h10.5v10.5h-10.5zM440 290h10.5v10.5h-10.5zM210 300h10.5v10.5h-10.5zM30 310h10.5v10.5h-10.5zM140 420h10.5v10.5h-10.5zM320 460h10.5v10.5h-10.5zM320 470h10.5v10.5h-10.5z"/>
<path fill="#464646" d="M310 50h10.5v10.5h-10.5zM200 90h10.5v10.5h-10.5zM60 220h10.5v10.5h-10.5zM430 250h10.5v10.5h-10.5zM410 280h10.5v10.5h-10.5zM260 380h10.5v10.5h-10.5zM420 410h10.5v10.5h-10.5zM430 430h10.5v10.5h-10.5zM320 450h10.5v10.5h-10.5zM410 450h10.5v10.5h-10.5z"/>
<path fill="#474747" d="M60 190h10.5v10.5h-10.5zM330 200h10.5v10.5h-10.5zM190 220h10.5v10.5h-10.5zM280 220h10.5v10.5h-10.5zM80 230h10.5v10.5h-10.5zM120 250h10.5v10.5h-10.5zM380 250h10.5v10.5h-10.5zM260 260h10.5v10.5h-10.5zM460 290h20.5v10.5h-20.5zM90 300h10.5v10.5h-10.5zM150 310h20.5v10.5h-20.5zM450 420h10.5v10.5h-10.5zM410 470h10.5v10.5h-10.5z"/>
<path fill="#484848" d="M130 250h10.5v10.5h-10.5zM450 250h10.5v10.5h-10.5zM470 250h10.5v10.5h-10.5zM450 290h10.5v10.5h-10.5zM280 320h10.5v10.5h-10.5zM470 420h10.5v10.5h-10.5zM430 450h10.5v10.5h-10.5zM410 460h10.5v10.5h-10.5z"/>
<path fill="#494949" d="M60 210h10.5v10.5h-10.5zM70 220h10.5v10.5h-10.5zM390 240h10.5v10.5h-10.5zM460 250h10.5v10.5h-10.5zM200 370h10.5v10.5h-10.5zM270 390h10.5v10.5h-10.5zM460 420h10.5v10.5h-10.5zM410 440h10.5v10.5h-10.5zM430 460h10.5v10.5h-10.5zM430 470h10.5v10.5h-10.5z"/>
<path fill="#4a4a4a" d="M0 240h30.5v10.5h-30.5zM280 250h10.5v10.5h-10.5zM440 250h10.5v10.5h-10.5zM410 410h10.5v10.5h-10.5zM450 430h10.5v10.5h-10.5zM430 440h10.5v10.5h-10.5z"/>
<path fill="#4b4b4b" d="M20 140h10.5v10.5h-10.5zM160 210h10.5v10.5h-10.5zM420 230h10.5v10.5h-10.5zM360 290h10.5v10.5h-10.5zM430 290h10.5v10.5h-10.5zM120 310h10.5v10.5h-10.5zM440 420h10.5v10.5h-10.5zM460 430h20.5v10.5h-20.5zM450 450h10.5v10.5h-10.5z"/>
<path fill="#4c4c4c" d="M320 40h10.5v10.5h-10.5zM440 140h10.5v10.5h-10.5zM390 220h10.5v10.5h-10.5zM140 250h20.5v10.5h-20.5zM380 280h10.5v10.5h-10.5zM400 280h10.5v10.5h-10.5zM320 430h10.5v10.5h-10.5zM460 450h20.5v10.5h-20.5zM450 460h10.5v10.5h-10.5zM470 460h10.5v10.5h-10.5zM450 470h10.5v10.5h-10.5zM470 470h10.5v10.5h-10.5z"/>
<path fill="#4d4d4d" d="M190 80h10.5v10.5h-10.5zM270 90h10.5v10.5h-10.5zM430 220h50.5v10.5h-50.5zM30 240h10.5v10.5h-10.5zM340 250h10.5v10.5h-10.5zM370 250h10.5v10.5h-10.5zM200 330h10.5v10.5h-10.5zM400 420h10.5v10.5h-10.5zM440 430h10.5v10.5h-10.5zM450 440h10.5v10.5h-10.5zM470 440h10.5v10.5h-10.5zM460 460h10.5v10.5h-10.5zM460 470h10.5v10.5h-10.5z"/>
<path fill="#4e4e4e" d="M120 140h10.5v10.5h-10.5zM70 210h10.5v10.5h-10.5zM200 220h10.5v10.5h-10.5zM270 220h10.5v10.5h-10.5zM60 420h10.5v10.5h-10.5zM460 440h10.5v10.5h-10.5zM440 450h10.5v10.5h-10.5zM440 460h10.5v10.5h-10.5zM440 470h10.5v10.5h-10.5z"/>
<path fill="#4f4f4f" d="M270 130h10.5v10.5h-10.5zM0 140h10.5v10.5h-10.5zM60 180h10.5v10.5h-10.5zM390 190h10.5v10.5h-10.5zM180 220h10.5v10.5h-10.5zM190 260h10.5v10.5h-10.5zM390 280h10.5v10.5h-10.5zM210 290h10.5v10.5h-10.5zM290 400h10.5v10.5h-10.5zM440 440h10.5v10.5h-10.5z"/>
<path fill="#505050" d="M460 140h10.5v10.5h-10.5zM390 230h10.5v10.5h-10.5zM220 300h10.5v10.5h-10.5zM330 320h10.5v10.5h-10.5z"/>
<path fill="#515151" d="M10 140h10.5v10.5h-10.5zM470 140h10.5v10.5h-10.5zM310 210h10.5v10.5h-10.5zM80 220h10.5v10.5h-10.5zM0 230h40.5v10.5h-40.5zM50 300h10.5v10.5h-10.5zM80 300h10.5v10.5h-10.5zM190 380h10.5v10.5h-10.5zM70 440h10.5v10.5h-10.5z"/>
<path fill="#525252" d="M160 140h10.5v10.5h-10.5zM350 170h10.5v10.5h-10.5zM70 200h10.5v10.5h-10.5zM270 250h10.5v10.5h-10.5zM200 270h10.5v10.5h-10.5zM230 290h10.5v10.5h-10.5zM20 400h10.5v10.5h-10.5zM400 430h10.5v10.5h-10.5zM130 440h10.5v10.5h-10.5zM70 460h10.5v10.5h-10.5zM70 470h10.5v10.5h-10.5z"/>
<path fill="#535353" d="M160 40h10.5v10.5h-10.5zM140 140h10.5v10.5h-10.5zM450 140h10.5v10.5h-10.5zM100 240h10.5v10.5h-10.5zM360 250h10.5v10.5h-10.5zM250 270h10.5v10.5h-10.5zM440 300h10.5v10.5h-10.5zM0 400h10.5v10.5h-10.5zM70 450h10.5v10.5h-10.5z"/>
<path fill="#545454" d="M110 310h10.5v10.5h-10.5zM190 320h10.5v10.5h-10.5zM180 390h10.5v10.5h-10.5zM10 400h10.5v10.5h-10.5zM400 410h10.5v10.5h-10.5zM430 410h10.5v10.5h-10.5zM70 430h10.5v10.5h-10.5zM130 460h10.5v10.5h-10.5zM130 470h10.5v10.5h-10.5z"/>
<path fill="#555555" d="M120 160h10.5v10.5h-10.5zM140 200h10.5v10.5h-10.5zM260 220h10.5v10.5h-10.5zM90 230h10.5v10.5h-10.5zM160 250h10.5v10.5h-10.5zM130 450h10.5v10.5h-10.5zM400 450h10.5v10.5h-10.5zM400 470h10.5v10.5h-10.5z"/>
<path fill="#565656" d="M290 140h10.5v10.5h-10.5zM410 160h10.5v10.5h-10.5zM400 170h10.5v10.5h-10.5zM80 210h10.5v10.5h-10.5zM380 240h10.5v10.5h-10.5zM460 300h10.5v10.5h-10.5zM260 340h10.5v10.5h-10.5zM30 400h10.5v10.5h-10.5zM400 460h10.5v10.5h-10.5z"/>
<path fill="#575757" d="M330 20h10.5v10.5h-10.5zM170 250h10.5v10.5h-10.5zM470 300h10.5v10.5h-10.5zM200 360h10.5v10.5h-10.5zM410 400h10.5v10.5h-10.5zM400 440h10.5v10.5h-10.5z"/>
<path fill="#585858" d="M330 0h10.5v10.5h-10.5zM30 140h10.5v10.5h-10.5zM310 140h10.5v10.5h-10.5zM420 150h10.5v10.5h-10.5zM70 190h10.5v10.5h-10.5zM60 300h10.5v10.5h-10.5zM310 320h10.5v10.5h-10.5zM200 340h10.5v10.5h-10.5zM450 410h10.5v10.5h-10.5zM130 430h10.5v10.5h-10.5z"/>
<path fill="#595959" d="M330 10h10.5v10.5h-10.5zM430 140h10.5v10.5h-10.5zM350 180h10.5v10.5h-10.5zM350 250h10.5v10.5h-10.5zM210 280h10.5v10.5h-10.5zM450 300h10.5v10.5h-10.5zM470 410h10.5v10.5h-10.5z"/>
<path fill="#5a5a5a" d="M430 240h10.5v10.5h-10.5zM70 300h10.5v10.5h-10.5zM260 370h10.5v10.5h-10.5zM460 410h10.5v10.5h-10.5zM80 440h10.5v10.5h-10.5z"/>
<path fill="#5b5b5b" d="M330 30h10.5v10.5h-10.5zM450 240h30.5v10.5h-30.5zM20 320h10.5v10.5h-10.5zM50 410h10.5v10.5h-10.5z"/>
<path fill="#5c5c5c" d="M200 350h10.5v10.5h-10.5zM440 410h10.5v10.5h-10.5zM80 460h10.5v10.5h-10.5zM80 470h10.5v10.5h-10.5z"/>
<path fill="#5d5d5d" d="M350 160h10.5v10.5h-10.5zM60 170h10.5v10.5h-10.5zM370 240h10.5v10.5h-10.5zM440 240h10.5v10.5h-10.5zM240 280h10.5v10.5h-10.5zM270 330h10.5v10.5h-10.5zM160 400h10.5v10.5h-10.5zM420 400h10.5v10.5h-10.5zM80 450h10.5v10.5h-10.5z"/>
<path fill="#5e5e5e" d="M340 150h10.5v10.5h-10.5zM50 160h10.5v10.5h-10.5zM130 190h10.5v10.5h-10.5zM180 250h10.5v10.5h-10.5zM0 320h10.5v10.5h-10.5z"/>
<path fill="#5f5f5f" d="M390 180h10.5v10.5h-10.5zM80 200h10.5v10.5h-10.5zM150 210h10.5v10.5h-10.5zM420 290h10.5v10.5h-10.5zM430 300h10.5v10.5h-10.5zM390 420h10.5v10.5h-10.5zM80 430h10.5v10.5h-10.5z"/>
<path fill="#606060" d="M40 150h10.5v10.5h-10.5zM120 150h10.5v10.5h-10.5zM90 220h10.5v10.5h-10.5zM210 220h10.5v10.5h-10.5zM220 290h10.5v10.5h-10.5zM10 320h10.5v10.5h-10.5zM400 400h10.5v10.5h-10.5zM70 420h10.5v10.5h-10.5z"/>
<path fill="#616161" d="M200 120h10.5v10.5h-10.5zM250 220h10.5v10.5h-10.5zM260 250h10.5v10.5h-10.5zM370 290h10.5v10.5h-10.5zM100 310h10.5v10.5h-10.5zM140 410h10.5v10.5h-10.5z"/>
<path fill="#626262" d="M150 20h10.5v10.5h-10.5zM130 140h10.5v10.5h-10.5zM120 170h10.5v10.5h-10.5zM380 210h10.5v10.5h-10.5zM250 260h10.5v10.5h-10.5zM340 320h10.5v10.5h-10.5z"/>
<path fill="#636363" d="M150 0h10.5v10.5h-10.5zM290 70h10.5v10.5h-10.5zM200 100h10.5v10.5h-10.5zM430 230h10.5v10.5h-10.5zM20 390h10.5v10.5h-10.5zM40 400h10.5v10.5h-10.5zM390 430h10.5v10.5h-10.5z"/>
<path fill="#646464" d="M150 10h10.5v10.5h-10.5zM320 50h10.5v10.5h-10.5zM70 180h10.5v10.5h-10.5zM380 220h10.5v10.5h-10.5zM380 230h10.5v10.5h-10.5zM110 240h10.5v10.5h-10.5zM200 260h10.5v10.5h-10.5zM260 350h10.5v10.5h-10.5zM0 390h10.5v10.5h-10.5zM130 420h10.5v10.5h-10.5zM120 440h10.5v10.5h-10.5zM390 450h10.5v10.5h-10.5zM390 470h10.5v10.5h-10.5z"/>
<path fill="#656565" d="M150 30h10.5v10.5h-10.5zM270 120h10.5v10.5h-10.5zM340 200h10.5v10.5h-10.5zM450 230h10.5v10.5h-10.5zM470 230h10.5v10.5h-10.5zM30 320h10.5v10.5h-10.5zM10 390h10.5v10.5h-10.5zM60 410h10.5v10.5h-10.5zM390 410h10.5v10.5h-10.5zM90 440h10.5v10.5h-10.5zM390 440h10.5v10.5h-10.5zM390 460h10.5v10.5h-10.5z"/>
<path fill="#666666" d="M300 140h10.5v10.5h-10.5zM380 200h10.5v10.5h-10.5zM160 220h10.5v10.5h-10.5zM290 220h10.5v10.5h-10.5zM290 230h10.5v10.5h-10.5zM460 230h10.5v10.5h-10.5zM190 250h10.5v10.5h-10.5zM50 400h10.5v10.5h-10.5zM430 400h10.5v10.5h-10.5zM120 460h10.5v10.5h-10.5z"/>
<path fill="#676767" d="M80 190h10.5v10.5h-10.5zM320 210h10.5v10.5h-10.5zM440 230h10.5v10.5h-10.5zM210 270h10.5v10.5h-10.5zM220 280h10.5v10.5h-10.5zM260 360h10.5v10.5h-10.5zM30 390h10.5v10.5h-10.5zM120 470h10.5v10.5h-10.5z"/>
<path fill="#686868" d="M190 130h10.5v10.5h-10.5zM220 220h10.5v10.5h-10.5zM360 240h10.5v10.5h-10.5zM180 320h10.5v10.5h-10.5zM450 400h10.5v10.5h-10.5zM470 400h10.5v10.5h-10.5zM110 440h10.5v10.5h-10.5zM120 450h10.5v10.5h-10.5zM90 460h10.5v10.5h-10.5zM90 470h10.5v10.5h-10.5z"/>
<path fill="#696969" d="M280 80h10.5v10.5h-10.5zM440 130h10.5v10.5h-10.5zM90 210h10.5v10.5h-10.5zM180 230h10.5v10.5h-10.5zM440 310h10.5v10.5h-10.5zM270 380h10.5v10.5h-10.5zM460 400h10.5v10.5h-10.5zM100 440h10.5v10.5h-10.5zM90 450h10.5v10.5h-10.5z"/>
<path fill="#6a6a6a" d="M20 130h10.5v10.5h-10.5zM100 230h10.5v10.5h-10.5zM230 230h10.5v10.5h-10.5zM280 230h10.5v10.5h-10.5zM300 240h10.5v10.5h-10.5zM410 290h10.5v10.5h-10.5zM40 310h10.5v10.5h-10.5zM350 310h10.5v10.5h-10.5zM440 400h10.5v10.5h-10.5zM110 460h10.5v10.5h-10.5zM110 470h10.5v10.5h-10.5z"/>
<path fill="#6b6b6b" d="M0 0h40.5v10.5h-40.5zM0 10h40.5v10.5h-40.5zM0 20h40.5v10.5h-40.5zM0 30h40.5v10.5h-40.5zM170 60h10.5v10.5h-10.5zM280 130h10.5v10.5h-10.5zM400 160h10.5v10.5h-10.5zM240 220h10.5v10.5h-10.5zM220 230h10.5v10.5h-10.5zM290 240h10.5v10.5h-10.5zM110 450h10.5v10.5h-10.5zM100 460h10.5v10.5h-10.5z"/>
<path fill="#6c6c6c" d="M330 40h10.5v10.5h-10.5zM160 50h10.5v10.5h-10.5zM460 130h10.5v10.5h-10.5zM390 170h10.5v10.5h-10.5zM380 190h10.5v10.5h-10.5zM280 240h10.5v10.5h-10.5zM20 330h10.5v10.5h-10.5zM40 390h20.5v10.5h-20.5zM170 390h10.5v10.5h-10.5zM80 420h10.5v10.5h-10.5zM120 430h10.5v10.5h-10.5zM100 470h10.5v10.5h-10.5z"/>
<path fill="#6d6d6d" d="M0 40h20.5v10.5h-20.5zM30 40h10.5v10.5h-10.5zM470 130h10.5v10.5h-10.5zM120 180h10.5v10.5h-10.5zM270 240h10.5v10.5h-10.5zM230 280h10.5v10.5h-10.5zM410 390h10.5v10.5h-10.5zM70 410h10.5v10.5h-10.5zM330 440h10.5v10.5h-10.5zM100 450h10.5v10.5h-10.5z"/>
<path fill="#6e6e6e" d="M40 0h10.5v10.5h-10.5zM40 10h10.5v10.5h-10.5zM40 20h10.5v10.5h-10.5zM340 20h10.5v10.5h-10.5zM40 30h10.5v10.5h-10.5zM20 40h10.5v10.5h-10.5zM40 40h10.5v10.5h-10.5zM310 60h10.5v10.5h-10.5zM0 130h10.5v10.5h-10.5zM450 130h10.5v10.5h-10.5zM410 150h10.5v10.5h-10.5zM230 220h10.5v10.5h-10.5zM300 220h10.5v10.5h-10.5zM250 250h10.5v10.5h-10.5zM240 270h10.5v10.5h-10.5zM460 310h10.5v10.5h-10.5zM20 380h10.5v10.5h-10.5z"/>
<path fill="#6f6f6f" d="M200 110h10.5v10.5h-10.5zM350 150h10.5v10.5h-10.5zM350 190h10.5v10.5h-10.5zM170 220h10.5v10.5h-10.5zM200 230h10.5v10.5h-10.5zM370 230h10.5v10.5h-10.5zM470 310h10.5v10.5h-10.5zM190 330h10.5v10.5h-10.5zM0 380h20.5v10.5h-20.5zM420 390h10.5v10.5h-10.5zM90 430h10.5v10.5h-10.5zM110 430h10.5v10.5h-10.5z"/>
<path fill="#707070" d="M340 0h10.5v10.5h-10.5zM10 130h10.5v10.5h-10.5zM80 180h10.5v10.5h-10.5zM260 230h10.5v10.5h-10.5zM260 240h10.5v10.5h-10.5zM200 250h10.5v10.5h-10.5zM380 290h10.5v10.5h-10.5zM90 310h10.5v10.5h-10.5zM0 330h10.5v10.5h-10.5zM60 400h10.5v10.5h-10.5zM150 400h10.5v10.5h-10.5zM390 400h10.5v10.5h-10.5z"/>
<path fill="#717171" d="M340 10h10.5v10.5h-10.5zM40 50h10.5v10.5h-10.5zM110 160h10.5v10.5h-10.5zM190 230h10.5v10.5h-10.5zM270 230h10.5v10.5h-10.5zM120 240h10.5v10.5h-10.5zM450 310h10.5v10.5h-10.5zM10 330h10.5v10.5h-10.5zM100 430h10.5v10.5h-10.5zM330 460h10.5v10.5h-10.5zM330 470h10.5v10.5h-10.5z"/>
<path fill="#727272" d="M50 10h10.5v10.5h-10.5zM50 30h10.5v10.5h-10.5zM50 40h10.5v10.5h-10.5zM0 50h20.5v10.5h-20.5zM30 50h10.5v10.5h-10.5zM180 70h10.5v10.5h-10.5zM110 170h10.5v10.5h-10.5zM210 230h10.5v10.5h-10.5zM250 230h10.5v10.5h-10.5zM190 240h10.5v10.5h-10.5zM210 260h10.5v10.5h-10.5zM220 270h10.5v10.5h-10.5zM30 380h10.5v10.5h-10.5z"/>
<path fill="#737373" d="M50 0h10.5v10.5h-10.5zM50 20h10.5v10.5h-10.5zM20 50h10.5v10.5h-10.5zM330 140h10.5v10.5h-10.5zM90 200h10.5v10.5h-10.5zM170 230h10.5v10.5h-10.5zM240 230h10.5v10.5h-10.5zM250 240h10.5v10.5h-10.5zM50 310h10.5v10.5h-10.5zM190 370h10.5v10.5h-10.5zM280 390h10.5v10.5h-10.5zM130 410h10.5v10.5h-10.5zM330 450h10.5v10.5h-10.5z"/>
<path fill="#747474" d="M50 50h10.5v10.5h-10.5zM360 170h10.5v10.5h-10.5zM380 180h10.5v10.5h-10.5zM180 240h10.5v10.5h-10.5zM200 240h20.5v10.5h-20.5zM400 390h10.5v10.5h-10.5zM120 420h10.5v10.5h-10.5z"/>
<path fill="#757575" d="M340 30h10.5v10.5h-10.5zM270 110h10.5v10.5h-10.5zM430 130h10.5v10.5h-10.5zM360 160h10.5v10.5h-10.5zM220 240h30.5v10.5h-30.5zM240 260h10.5v10.5h-10.5zM230 270h10.5v10.5h-10.5zM20 370h10.5v10.5h-10.5zM80 410h10.5v10.5h-10.5zM380 420h10.5v10.5h-10.5z"/>
<path fill="#767676" d="M300 70h10.5v10.5h-10.5zM30 130h10.5v10.5h-10.5zM110 150h10.5v10.5h-10.5zM390 160h10.5v10.5h-10.5zM70 170h10.5v10.5h-10.5zM360 180h10.5v10.5h-10.5zM120 190h10.5v10.5h-10.5zM370 220h10.5v10.5h-10.5zM390 290h20.5v10.5h-20.5zM20 340h10.5v10.5h-10.5zM0 370h20.5v10.5h-20.5z"/>
<path fill="#777777" d="M60 30h10.5v10.5h-10.5zM60 40h10.5v10.5h-10.5zM270 100h10.5v10.5h-10.5zM90 170h10.5v10.5h-10.5zM170 240h10.5v10.5h-10.5zM170 320h10.5v10.5h-10.5zM30 330h10.5v10.5h-10.5zM40 380h10.5v10.5h-10.5zM430 390h10.5v10.5h-10.5zM70 400h10.5v10.5h-10.5zM380 410h10.5v10.5h-10.5zM320 420h10.5v10.5h-10.5z"/>
<path fill="#787878" d="M40 60h10.5v10.5h-10.5zM320 140h10.5v10.5h-10.5zM420 140h10.5v10.5h-10.5zM90 180h10.5v10.5h-10.5zM110 180h10.5v10.5h-10.5zM90 190h10.5v10.5h-10.5zM370 210h10.5v10.5h-10.5zM350 240h10.5v10.5h-10.5zM210 250h10.5v10.5h-10.5zM240 250h10.5v10.5h-10.5zM430 310h10.5v10.5h-10.5zM0 340h10.5v10.5h-10.5zM20 350h10.5v10.5h-10.5zM20 360h10.5v10.5h-10.5zM450 390h30.5v10.5h-30.5zM330 430h10.5v10.5h-10.5z"/>
<path fill="#797979" d="M60 10h10.5v10.5h-10.5zM380 170h10.5v10.5h-10.5zM370 200h10.5v10.5h-10.5zM310 220h10.5v10.5h-10.5zM340 240h10.5v10.5h-10.5zM0 360h10.5v10.5h-10.5zM30 370h10.5v10.5h-10.5zM390 390h10.5v10.5h-10.5zM440 390h10.5v10.5h-10.5zM90 420h10.5v10.5h-10.5z"/>
<path fill="#7a7a7a" d="M60 0h10.5v10.5h-10.5zM360 190h20.5v10.5h-20.5zM350 200h10.5v10.5h-10.5zM100 220h10.5v10.5h-10.5zM360 300h10.5v10.5h-10.5zM80 310h10.5v10.5h-10.5zM10 340h10.5v10.5h-10.5zM0 350h10.5v10.5h-10.5zM10 360h10.5v10.5h-10.5zM310 410h10.5v10.5h-10.5zM110 420h10.5v10.5h-10.5z"/>
<path fill="#7b7b7b" d="M60 20h10.5v10.5h-10.5zM60 50h10.5v10.5h-10.5zM440 120h10.5v10.5h-10.5zM400 150h10.5v10.5h-10.5zM60 160h10.5v10.5h-10.5zM130 200h10.5v10.5h-10.5zM130 240h10.5v10.5h-10.5zM160 240h10.5v10.5h-10.5zM420 300h10.5v10.5h-10.5zM130 320h10.5v10.5h-10.5zM10 350h10.5v10.5h-10.5zM40 370h10.5v10.5h-10.5zM60 390h10.5v10.5h-10.5zM380 430h10.5v10.5h-10.5z"/>
<path fill="#7c7c7c" d="M0 60h20.5v10.5h-20.5zM30 60h10.5v10.5h-10.5zM50 60h10.5v10.5h-10.5zM100 170h10.5v10.5h-10.5zM370 180h10.5v10.5h-10.5zM360 230h10.5v10.5h-10.5zM380 400h10.5v10.5h-10.5zM90 410h10.5v10.5h-10.5zM100 420h10.5v10.5h-10.5zM380 440h10.5v10.5h-10.5zM380 450h10.5v10.5h-10.5zM380 460h10.5v10.5h-10.5zM380 470h10.5v10.5h-10.5z"/>
<path fill="#7d7d7d" d="M150 40h10.5v10.5h-10.5zM20 60h10.5v10.5h-10.5zM340 140h10.5v10.5h-10.5zM380 150h10.5v10.5h-10.5zM380 160h10.5v10.5h-10.5zM150 240h10.5v10.5h-10.5zM220 260h10.5v10.5h-10.5zM60 310h10.5v10.5h-10.5zM30 360h10.5v10.5h-10.5zM120 410h10.5v10.5h-10.5z"/>
<path fill="#7e7e7e" d="M330 50h10.5v10.5h-10.5zM460 120h20.5v10.5h-20.5zM290 130h10.5v10.5h-10.5zM50 150h10.5v10.5h-10.5zM360 150h10.5v10.5h-10.5zM140 240h10.5v10.5h-10.5zM330 240h10.5v10.5h-10.5zM140 400h10.5v10.5h-10.5z"/>
<path fill="#7f7f7f" d="M440 0h40.5v10.5h-40.5zM440 10h10.5v10.5h-10.5zM430 20h50.5v10.5h-50.5zM320 60h10.5v10.5h-10.5zM180 80h10.5v10.5h-10.5zM450 120h10.5v10.5h-10.5zM40 140h10.5v10.5h-10.5zM370 150h10.5v10.5h-10.5zM370 160h10.5v10.5h-10.5zM370 170h10.5v10.5h-10.5zM160 230h10.5v10.5h-10.5zM230 260h10.5v10.5h-10.5zM70 310h10.5v10.5h-10.5zM120 320h10.5v10.5h-10.5zM30 340h10.5v10.5h-10.5zM30 350h10.5v10.5h-10.5zM100 410h10.5v10.5h-10.5z"/>
<path fill="#808080" d="M420 0h20.5v10.5h-20.5zM430 10h10.5v10.5h-10.5zM450 10h30.5v10.5h-30.5zM420 20h10.5v10.5h-10.5zM440 30h40.5v10.5h-40.5zM390 150h10.5v10.5h-10.5zM330 210h10.5v10.5h-10.5zM220 250h10.5v10.5h-10.5zM40 320h10.5v10.5h-10.5zM50 380h10.5v10.5h-10.5zM420 380h10.5v10.5h-10.5zM80 400h10.5v10.5h-10.5zM110 410h10.5v10.5h-10.5z"/>
<path fill="#818181" d="M420 10h10.5v10.5h-10.5zM420 30h20.5v10.5h-20.5zM190 90h10.5v10.5h-10.5zM410 140h10.5v10.5h-10.5zM80 170h10.5v10.5h-10.5zM360 200h10.5v10.5h-10.5zM140 210h10.5v10.5h-10.5zM110 230h10.5v10.5h-10.5z"/>
<path fill="#828282" d="M410 0h10.5v10.5h-10.5zM410 20h10.5v10.5h-10.5zM60 60h10.5v10.5h-10.5zM170 130h10.5v10.5h-10.5zM100 180h10.5v10.5h-10.5zM300 230h10.5v10.5h-10.5zM230 250h10.5v10.5h-10.5zM440 320h10.5v10.5h-10.5zM280 330h10.5v10.5h-10.5zM180 380h10.5v10.5h-10.5zM410 380h10.5v10.5h-10.5zM380 390h10.5v10.5h-10.5z"/>
<path fill="#838383" d="M410 10h10.5v10.5h-10.5zM410 30h10.5v10.5h-10.5zM290 80h10.5v10.5h-10.5zM180 130h10.5v10.5h-10.5zM340 210h10.5v10.5h-10.5z"/>
<path fill="#848484" d="M400 20h10.5v10.5h-10.5zM70 40h10.5v10.5h-10.5zM150 50h10.5v10.5h-10.5zM170 70h10.5v10.5h-10.5zM100 210h10.5v10.5h-10.5zM150 220h10.5v10.5h-10.5zM360 220h10.5v10.5h-10.5zM310 240h10.5v10.5h-10.5zM150 320h10.5v10.5h-10.5zM190 340h10.5v10.5h-10.5zM70 390h10.5v10.5h-10.5zM100 400h10.5v10.5h-10.5z"/>
<path fill="#858585" d="M400 0h10.5v10.5h-10.5zM400 10h10.5v10.5h-10.5zM70 30h10.5v10.5h-10.5zM440 40h40.5v10.5h-40.5zM190 120h10.5v10.5h-10.5zM280 120h10.5v10.5h-10.5zM430 120h10.5v10.5h-10.5zM350 140h10.5v10.5h-10.5zM360 210h10.5v10.5h-10.5zM320 240h10.5v10.5h-10.5zM140 320h10.5v10.5h-10.5zM270 370h10.5v10.5h-10.5zM280 380h10.5v10.5h-10.5zM90 400h10.5v10.5h-10.5z"/>
<path fill="#868686" d="M390 20h10.5v10.5h-10.5zM400 30h10.5v10.5h-10.5zM340 40h10.5v10.5h-10.5zM430 40h10.5v10.5h-10.5zM70 50h10.5v10.5h-10.5zM420 130h10.5v10.5h-10.5zM110 320h10.5v10.5h-10.5zM160 320h10.5v10.5h-10.5zM290 390h10.5v10.5h-10.5z"/>
<path fill="#878787" d="M390 0h10.5v10.5h-10.5zM70 10h10.5v10.5h-10.5zM390 10h10.5v10.5h-10.5zM140 20h10.5v10.5h-10.5zM420 40h10.5v10.5h-10.5zM130 130h10.5v10.5h-10.5zM110 140h10.5v10.5h-10.5zM350 210h10.5v10.5h-10.5zM350 230h10.5v10.5h-10.5zM460 320h10.5v10.5h-10.5zM40 360h10.5v10.5h-10.5zM390 380h10.5v10.5h-10.5zM130 400h10.5v10.5h-10.5z"/>
<path fill="#888888" d="M70 0h10.5v10.5h-10.5zM390 30h10.5v10.5h-10.5zM40 70h10.5v10.5h-10.5zM310 70h10.5v10.5h-10.5zM20 120h10.5v10.5h-10.5zM310 130h10.5v10.5h-10.5zM400 140h10.5v10.5h-10.5zM100 200h10.5v10.5h-10.5zM310 230h10.5v10.5h-10.5zM470 320h10.5v10.5h-10.5zM50 370h10.5v10.5h-10.5zM400 380h10.5v10.5h-10.5z"/>
<path fill="#898989" d="M140 0h10.5v10.5h-10.5zM70 20h10.5v10.5h-10.5zM350 20h10.5v10.5h-10.5zM410 40h10.5v10.5h-10.5zM50 70h10.5v10.5h-10.5zM150 130h10.5v10.5h-10.5zM350 320h10.5v10.5h-10.5zM270 340h10.5v10.5h-10.5zM190 360h10.5v10.5h-10.5zM110 400h10.5v10.5h-10.5z"/>
<path fill="#8a8a8a" d="M350 0h10.5v10.5h-10.5zM380 0h10.5v10.5h-10.5zM140 10h10.5v10.5h-10.5zM380 10h10.5v10.5h-10.5zM380 20h10.5v10.5h-10.5zM390 40h10.5v10.5h-10.5zM440 50h10.5v10.5h-10.5zM460 50h20.5v10.5h-20.5zM70 60h10.5v10.5h-10.5zM0 70h20.5v10.5h-20.5zM30 70h10.5v10.5h-10.5zM190 100h10.5v10.5h-10.5zM440 110h10.5v10.5h-10.5zM300 130h10.5v10.5h-10.5zM390 140h10.5v10.5h-10.5zM100 190h20.5v10.5h-20.5zM450 320h10.5v10.5h-10.5zM190 350h10.5v10.5h-10.5zM430 380h50.5v10.5h-50.5zM80 390h10.5v10.5h-10.5z"/>
<path fill="#8b8b8b" d="M350 10h10.5v10.5h-10.5zM380 30h10.5v10.5h-10.5zM400 40h10.5v10.5h-10.5zM430 50h10.5v10.5h-10.5zM450 50h10.5v10.5h-10.5zM20 70h10.5v10.5h-10.5zM60 70h10.5v10.5h-10.5zM0 120h10.5v10.5h-10.5zM320 220h10.5v10.5h-10.5zM60 380h10.5v10.5h-10.5zM160 390h10.5v10.5h-10.5z"/>
<path fill="#8c8c8c" d="M280 90h10.5v10.5h-10.5zM460 110h20.5v10.5h-20.5zM140 130h10.5v10.5h-10.5zM160 130h10.5v10.5h-10.5zM370 140h20.5v10.5h-20.5zM100 160h10.5v10.5h-10.5zM330 220h10.5v10.5h-10.5zM370 300h10.5v10.5h-10.5zM380 380h10.5v10.5h-10.5zM120 400h10.5v10.5h-10.5zM370 410h10.5v10.5h-10.5zM370 420h10.5v10.5h-10.5z"/>
<path fill="#8d8d8d" d="M360 20h10.5v10.5h-10.5zM140 30h10.5v10.5h-10.5zM350 30h10.5v10.5h-10.5zM380 40h10.5v10.5h-10.5zM450 110h10.5v10.5h-10.5zM10 120h10.5v10.5h-10.5zM350 220h10.5v10.5h-10.5zM50 320h10.5v10.5h-10.5zM370 400h10.5v10.5h-10.5z"/>
<path fill="#8e8e8e" d="M360 0h10.5v10.5h-10.5zM370 20h10.5v10.5h-10.5zM320 130h20.5v10.5h-20.5zM360 140h10.5v10.5h-10.5zM120 200h10.5v10.5h-10.5zM410 300h10.5v10.5h-10.5zM330 330h10.5v10.5h-10.5zM70 380h10.5v10.5h-10.5zM90 390h10.5v10.5h-10.5zM370 440h10.5v10.5h-10.5zM370 450h10.5v10.5h-10.5zM370 460h10.5v10.5h-10.5zM370 470h10.5v10.5h-10.5z"/>
<path fill="#8f8f8f" d="M370 0h10.5v10.5h-10.5zM360 10h20.5v10.5h-20.5zM420 50h10.5v10.5h-10.5zM440 60h10.5v10.5h-10.5zM120 130h10.5v10.5h-10.5zM340 220h10.5v10.5h-10.5zM40 330h10.5v10.5h-10.5zM370 430h10.5v10.5h-10.5z"/>
<path fill="#909090" d="M340 50h10.5v10.5h-10.5zM450 60h30.5v10.5h-30.5zM70 70h10.5v10.5h-10.5zM150 230h10.5v10.5h-10.5zM100 390h10.5v10.5h-10.5zM370 390h10.5v10.5h-10.5z"/>
<path fill="#919191" d="M360 30h20.5v10.5h-20.5zM410 50h10.5v10.5h-10.5zM440 100h10.5v10.5h-10.5zM430 110h10.5v10.5h-10.5zM410 130h10.5v10.5h-10.5zM320 330h10.5v10.5h-10.5zM80 380h10.5v10.5h-10.5zM300 400h10.5v10.5h-10.5z"/>
<path fill="#929292" d="M390 50h10.5v10.5h-10.5zM160 60h10.5v10.5h-10.5zM330 60h10.5v10.5h-10.5zM430 60h10.5v10.5h-10.5zM190 110h10.5v10.5h-10.5zM100 320h10.5v10.5h-10.5zM180 330h10.5v10.5h-10.5zM290 330h10.5v10.5h-10.5zM340 330h10.5v10.5h-10.5zM50 360h10.5v10.5h-10.5zM270 360h10.5v10.5h-10.5zM310 400h10.5v10.5h-10.5z"/>
<path fill="#939393" d="M380 50h10.5v10.5h-10.5zM460 100h20.5v10.5h-20.5zM30 120h10.5v10.5h-10.5zM420 120h10.5v10.5h-10.5zM340 130h10.5v10.5h-10.5zM70 160h10.5v10.5h-10.5zM430 320h10.5v10.5h-10.5zM440 330h10.5v10.5h-10.5zM40 350h10.5v10.5h-10.5zM90 380h10.5v10.5h-10.5z"/>
<path fill="#949494" d="M370 40h10.5v10.5h-10.5zM400 50h10.5v10.5h-10.5zM440 70h10.5v10.5h-10.5zM280 100h10.5v10.5h-10.5zM450 100h10.5v10.5h-10.5zM110 220h10.5v10.5h-10.5zM360 310h10.5v10.5h-10.5zM270 350h10.5v10.5h-10.5zM60 370h10.5v10.5h-10.5zM330 420h10.5v10.5h-10.5z"/>
<path fill="#959595" d="M140 40h10.5v10.5h-10.5zM80 60h10.5v10.5h-10.5zM420 60h10.5v10.5h-10.5zM80 70h10.5v10.5h-10.5zM450 70h30.5v10.5h-30.5zM290 90h10.5v10.5h-10.5zM280 110h10.5v10.5h-10.5zM110 200h10.5v10.5h-10.5zM130 210h10.5v10.5h-10.5zM340 230h10.5v10.5h-10.5zM70 370h10.5v10.5h-10.5zM320 410h10.5v10.5h-10.5zM340 440h10.5v10.5h-10.5z"/>
<path fill="#969696" d="M80 50h10.5v10.5h-10.5zM320 230h10.5v10.5h-10.5zM40 340h10.5v10.5h-10.5zM80 370h10.5v10.5h-10.5zM100 380h10.5v10.5h-10.5zM110 390h10.5v10.5h-10.5zM150 390h10.5v10.5h-10.5z"/>
<path fill="#979797" d="M430 70h10.5v10.5h-10.5zM60 80h20.5v10.5h-20.5zM300 80h10.5v10.5h-10.5zM440 90h10.5v10.5h-10.5zM440 340h10.5v10.5h-10.5zM370 380h10.5v10.5h-10.5zM340 460h10.5v10.5h-10.5z"/>
<path fill="#989898" d="M80 40h10.5v10.5h-10.5zM350 40h20.5v10.5h-20.5zM370 50h10.5v10.5h-10.5zM410 60h10.5v10.5h-10.5zM440 80h10.5v10.5h-10.5zM460 90h20.5v10.5h-20.5zM430 100h10.5v10.5h-10.5zM350 130h10.5v10.5h-10.5zM400 130h10.5v10.5h-10.5zM60 150h10.5v10.5h-10.5zM120 230h10.5v10.5h-10.5zM90 370h10.5v10.5h-10.5zM400 370h10.5v10.5h-10.5zM340 470h10.5v10.5h-10.5z"/>
<path fill="#999999" d="M380 60h20.5v10.5h-20.5zM320 70h10.5v10.5h-10.5zM50 80h10.5v10.5h-10.5zM450 80h30.5v10.5h-30.5zM450 90h10.5v10.5h-10.5zM50 140h10.5v10.5h-10.5zM60 320h10.5v10.5h-10.5zM90 320h10.5v10.5h-10.5zM300 330h10.5v10.5h-10.5zM460 330h10.5v10.5h-10.5zM60 360h10.5v10.5h-10.5zM340 450h10.5v10.5h-10.5z"/>
<path fill="#9a9a9a" d="M350 50h10.5v10.5h-10.5zM420 70h10.5v10.5h-10.5zM40 80h10.5v10.5h-10.5zM180 120h10.5v10.5h-10.5zM290 120h10.5v10.5h-10.5zM40 130h10.5v10.5h-10.5zM110 210h10.5v10.5h-10.5zM330 230h10.5v10.5h-10.5zM310 330h10.5v10.5h-10.5zM470 330h10.5v10.5h-10.5zM410 370h10.5v10.5h-10.5z"/>
<path fill="#9b9b9b" d="M360 50h10.5v10.5h-10.5zM410 70h10.5v10.5h-10.5zM80 80h10.5v10.5h-10.5zM430 80h10.5v10.5h-10.5zM430 90h10.5v10.5h-10.5zM420 110h10.5v10.5h-10.5zM410 120h10.5v10.5h-10.5zM70 360h10.5v10.5h-10.5zM390 370h10.5v10.5h-10.5zM420 370h10.5v10.5h-10.5z"/>
<path fill="#9c9c9c" d="M340 60h10.5v10.5h-10.5zM370 60h10.5v10.5h-10.5zM400 60h10.5v10.5h-10.5zM390 70h20.5v10.5h-20.5zM20 110h10.5v10.5h-10.5zM420 310h10.5v10.5h-10.5zM450 330h10.5v10.5h-10.5zM380 370h10.5v10.5h-10.5z"/>
<path fill="#9d9d9d" d="M380 300h10.5v10.5h-10.5zM50 330h10.5v10.5h-10.5zM460 340h10.5v10.5h-10.5zM440 370h10.5v10.5h-10.5zM340 430h10.5v10.5h-10.5z"/>
<path fill="#9e9e9e" d="M80 0h10.5v10.5h-10.5zM80 10h10.5v10.5h-10.5zM80 30h10.5v10.5h-10.5zM380 70h10.5v10.5h-10.5zM0 80h30.5v10.5h-30.5zM400 80h30.5v10.5h-30.5zM0 110h10.5v10.5h-10.5zM400 300h10.5v10.5h-10.5zM70 320h10.5v10.5h-10.5zM470 340h10.5v10.5h-10.5zM460 370h20.5v10.5h-20.5zM360 440h10.5v10.5h-10.5z"/>
<path fill="#9f9f9f" d="M80 20h10.5v10.5h-10.5zM350 60h20.5v10.5h-20.5zM30 80h10.5v10.5h-10.5zM420 100h10.5v10.5h-10.5zM100 150h10.5v10.5h-10.5zM80 360h10.5v10.5h-10.5zM450 370h10.5v10.5h-10.5zM360 450h10.5v10.5h-10.5zM360 460h10.5v10.5h-10.5zM360 470h10.5v10.5h-10.5z"/>
<path fill="#a0a0a0" d="M420 90h10.5v10.5h-10.5zM10 110h10.5v10.5h-10.5zM90 160h10.5v10.5h-10.5zM80 320h10.5v10.5h-10.5zM430 370h10.5v10.5h-10.5z"/>
<path fill="#a1a1a1" d="M370 70h10.5v10.5h-10.5zM310 80h10.5v10.5h-10.5zM390 130h10.5v10.5h-10.5zM120 210h10.5v10.5h-10.5zM140 220h10.5v10.5h-10.5zM140 230h10.5v10.5h-10.5zM450 340h10.5v10.5h-10.5zM360 430h10.5v10.5h-10.5z"/>
<path fill="#a2a2a2" d="M360 70h10.5v10.5h-10.5zM20 100h10.5v10.5h-10.5zM410 110h10.5v10.5h-10.5zM400 120h10.5v10.5h-10.5zM360 130h10.5v10.5h-10.5zM130 230h10.5v10.5h-10.5zM50 350h10.5v10.5h-10.5zM300 390h10.5v10.5h-10.5zM360 400h10.5v10.5h-10.5zM360 410h10.5v10.5h-10.5zM360 420h10.5v10.5h-10.5z"/>
<path fill="#a3a3a3" d="M390 80h10.5v10.5h-10.5zM20 90h10.5v10.5h-10.5zM120 390h10.5v10.5h-10.5zM350 440h10.5v10.5h-10.5z"/>
<path fill="#a4a4a4" d="M410 90h10.5v10.5h-10.5zM0 100h10.5v10.5h-10.5zM30 110h10.5v10.5h-10.5zM390 300h10.5v10.5h-10.5zM50 340h10.5v10.5h-10.5zM140 390h10.5v10.5h-10.5zM360 390h10.5v10.5h-10.5zM350 460h10.5v10.5h-10.5z"/>
<path fill="#a5a5a5" d="M330 70h10.5v10.5h-10.5zM0 90h20.5v10.5h-20.5zM180 90h10.5v10.5h-10.5zM10 100h10.5v10.5h-10.5zM350 330h10.5v10.5h-10.5zM430 330h10.5v10.5h-10.5zM60 350h10.5v10.5h-10.5zM350 470h10.5v10.5h-10.5z"/>
<path fill="#a6a6a6" d="M380 80h10.5v10.5h-10.5zM70 90h10.5v10.5h-10.5zM110 130h10.5v10.5h-10.5zM80 160h10.5v10.5h-10.5zM100 370h10.5v10.5h-10.5zM130 390h10.5v10.5h-10.5zM350 450h10.5v10.5h-10.5z"/>
<path fill="#a7a7a7" d="M30 100h10.5v10.5h-10.5zM410 100h10.5v10.5h-10.5zM300 120h10.5v10.5h-10.5zM370 130h10.5v10.5h-10.5zM370 370h10.5v10.5h-10.5zM110 380h10.5v10.5h-10.5z"/>
<path fill="#a8a8a8" d="M130 20h10.5v10.5h-10.5zM90 60h10.5v10.5h-10.5zM90 70h10.5v10.5h-10.5zM350 70h10.5v10.5h-10.5zM30 90h10.5v10.5h-10.5zM50 90h20.5v10.5h-20.5zM80 90h10.5v10.5h-10.5zM400 90h10.5v10.5h-10.5z"/>
<path fill="#a9a9a9" d="M90 50h10.5v10.5h-10.5zM40 90h10.5v10.5h-10.5zM310 120h10.5v10.5h-10.5zM380 130h10.5v10.5h-10.5zM120 220h10.5v10.5h-10.5zM170 380h10.5v10.5h-10.5zM340 420h10.5v10.5h-10.5zM350 430h10.5v10.5h-10.5z"/>
<path fill="#aaaaaa" d="M130 0h10.5v10.5h-10.5zM340 70h10.5v10.5h-10.5zM370 80h10.5v10.5h-10.5zM380 120h20.5v10.5h-20.5zM60 330h10.5v10.5h-10.5zM90 360h10.5v10.5h-10.5zM330 410h10.5v10.5h-10.5z"/>
<path fill="#ababab" d="M130 10h10.5v10.5h-10.5zM300 90h10.5v10.5h-10.5zM430 340h10.5v10.5h-10.5zM70 350h10.5v10.5h-10.5zM360 380h10.5v10.5h-10.5z"/>
<path fill="#acacac" d="M90 40h10.5v10.5h-10.5zM90 80h10.5v10.5h-10.5zM390 90h10.5v10.5h-10.5zM400 110h10.5v10.5h-10.5zM100 140h10.5v10.5h-10.5z"/>
<path fill="#adadad" d="M130 30h10.5v10.5h-10.5zM360 80h10.5v10.5h-10.5zM40 120h10.5v10.5h-10.5zM440 360h10.5v10.5h-10.5z"/>
<path fill="#aeaeae" d="M90 20h10.5v10.5h-10.5zM370 120h10.5v10.5h-10.5zM180 370h10.5v10.5h-10.5z"/>
<path fill="#afafaf" d="M90 0h10.5v10.5h-10.5zM90 10h10.5v10.5h-10.5zM90 30h10.5v10.5h-10.5zM320 80h10.5v10.5h-10.5zM380 90h10.5v10.5h-10.5zM290 100h10.5v10.5h-10.5zM290 110h10.5v10.5h-10.5zM440 350h10.5v10.5h-10.5zM460 360h20.5v10.5h-20.5z"/>
<path fill="#b0b0b0" d="M390 110h10.5v10.5h-10.5zM360 320h10.5v10.5h-10.5zM80 350h10.5v10.5h-10.5zM450 360h10.5v10.5h-10.5z"/>
<path fill="#b1b1b1" d="M40 100h10.5v10.5h-10.5zM400 100h10.5v10.5h-10.5zM320 120h10.5v10.5h-10.5zM340 120h10.5v10.5h-10.5zM60 340h10.5v10.5h-10.5zM280 370h10.5v10.5h-10.5zM350 420h10.5v10.5h-10.5z"/>
<path fill="#b2b2b2" d="M390 100h10.5v10.5h-10.5zM330 120h10.5v10.5h-10.5zM70 330h10.5v10.5h-10.5zM110 330h10.5v10.5h-10.5z"/>
<path fill="#b3b3b3" d="M160 70h10.5v10.5h-10.5zM90 90h10.5v10.5h-10.5zM80 100h10.5v10.5h-10.5zM40 110h10.5v10.5h-10.5zM380 110h10.5v10.5h-10.5zM460 350h20.5v10.5h-20.5z"/>
<path fill="#b4b4b4" d="M350 80h10.5v10.5h-10.5zM50 100h10.5v10.5h-10.5zM350 120h20.5v10.5h-20.5zM100 130h10.5v10.5h-10.5zM70 150h10.5v10.5h-10.5zM90 150h10.5v10.5h-10.5zM130 220h10.5v10.5h-10.5zM90 330h10.5v10.5h-10.5zM290 380h10.5v10.5h-10.5zM320 400h10.5v10.5h-10.5z"/>
<path fill="#b5b5b5" d="M370 90h10.5v10.5h-10.5zM380 100h10.5v10.5h-10.5zM50 130h10.5v10.5h-10.5zM370 310h10.5v10.5h-10.5zM80 330h10.5v10.5h-10.5zM100 330h10.5v10.5h-10.5zM280 340h10.5v10.5h-10.5zM450 350h10.5v10.5h-10.5zM430 360h10.5v10.5h-10.5zM350 410h10.5v10.5h-10.5z"/>
<path fill="#b6b6b6" d="M90 100h10.5v10.5h-10.5zM90 110h10.5v10.5h-10.5z"/>
<path fill="#b7b7b7" d="M60 100h20.5v10.5h-20.5zM100 110h10.5v10.5h-10.5zM100 120h20.5v10.5h-20.5zM170 330h10.5v10.5h-10.5zM360 370h10.5v10.5h-10.5zM340 410h10.5v10.5h-10.5z"/>
<path fill="#b8b8b8" d="M330 80h10.5v10.5h-10.5zM120 120h10.5v10.5h-10.5zM340 340h10.5v10.5h-10.5z"/>
<path fill="#b9b9b9" d="M130 40h10.5v10.5h-10.5zM140 50h10.5v10.5h-10.5zM150 60h10.5v10.5h-10.5zM340 80h10.5v10.5h-10.5zM70 340h10.5v10.5h-10.5zM90 350h10.5v10.5h-10.5z"/>
<path fill="#bababa" d="M120 20h10.5v10.5h-10.5zM370 110h10.5v10.5h-10.5zM130 120h10.5v10.5h-10.5zM90 140h10.5v10.5h-10.5zM410 310h10.5v10.5h-10.5zM100 360h10.5v10.5h-10.5zM420 360h10.5v10.5h-10.5z"/>
<path fill="#bbbbbb" d="M120 0h10.5v10.5h-10.5zM100 20h10.5v10.5h-10.5zM50 110h10.5v10.5h-10.5zM80 110h10.5v10.5h-10.5zM90 120h10.5v10.5h-10.5zM80 340h10.5v10.5h-10.5zM430 350h10.5v10.5h-10.5zM350 400h10.5v10.5h-10.5z"/>
<path fill="#bcbcbc" d="M100 0h10.5v10.5h-10.5zM100 10h10.5v10.5h-10.5zM120 10h10.5v10.5h-10.5zM360 90h10.5v10.5h-10.5zM370 100h10.5v10.5h-10.5zM70 110h10.5v10.5h-10.5zM80 150h10.5v10.5h-10.5zM120 330h10.5v10.5h-10.5zM90 340h10.5v10.5h-10.5z"/>
<path fill="#bdbdbd" d="M100 50h10.5v10.5h-10.5zM50 120h10.5v10.5h-10.5zM170 120h10.5v10.5h-10.5zM90 130h10.5v10.5h-10.5zM330 340h10.5v10.5h-10.5zM350 340h10.5v10.5h-10.5zM370 360h20.5v10.5h-20.5z"/>
<path fill="#bebebe" d="M100 30h10.5v10.5h-10.5zM100 40h10.5v10.5h-10.5zM100 60h10.5v10.5h-10.5zM60 110h10.5v10.5h-10.5zM110 370h10.5v10.5h-10.5zM350 390h10.5v10.5h-10.5z"/>
<path fill="#bfbfbf" d="M120 30h10.5v10.5h-10.5zM120 380h10.5v10.5h-10.5z"/>
<path fill="#c0c0c0" d="M170 80h10.5v10.5h-10.5zM100 100h10.5v10.5h-10.5zM60 140h10.5v10.5h-10.5zM420 320h10.5v10.5h-10.5zM180 340h10.5v10.5h-10.5zM390 360h10.5v10.5h-10.5zM410 360h10.5v10.5h-10.5z"/>
<path fill="#c1c1c1" d="M130 330h10.5v10.5h-10.5zM360 330h10.5v10.5h-10.5z"/>
<path fill="#c2c2c2" d="M100 70h10.5v10.5h-10.5zM350 90h10.5v10.5h-10.5zM100 340h10.5v10.5h-10.5zM360 360h10.5v10.5h-10.5zM330 400h10.5v10.5h-10.5z"/>
<path fill="#c3c3c3" d="M110 20h10.5v10.5h-10.5zM300 110h10.5v10.5h-10.5zM360 110h10.5v10.5h-10.5zM80 120h10.5v10.5h-10.5zM400 360h10.5v10.5h-10.5z"/>
<path fill="#c4c4c4" d="M110 0h10.5v10.5h-10.5zM100 90h10.5v10.5h-10.5zM310 90h10.5v10.5h-10.5zM360 100h10.5v10.5h-10.5zM100 350h10.5v10.5h-10.5zM350 380h10.5v10.5h-10.5zM340 400h10.5v10.5h-10.5z"/>
<path fill="#c5c5c5" d="M110 10h10.5v10.5h-10.5zM100 80h10.5v10.5h-10.5zM300 100h10.5v10.5h-10.5zM110 110h10.5v10.5h-10.5z"/>
<path fill="#c6c6c6" d="M180 110h10.5v10.5h-10.5zM80 140h10.5v10.5h-10.5zM290 340h10.5v10.5h-10.5zM280 350h10.5v10.5h-10.5zM310 390h10.5v10.5h-10.5z"/>
<path fill="#c7c7c7" d="M110 30h10.5v10.5h-10.5z"/>
<path fill="#c8c8c8" d="M110 40h10.5v10.5h-10.5zM60 120h10.5v10.5h-10.5zM140 120h10.5v10.5h-10.5zM380 310h10.5v10.5h-10.5zM320 340h10.5v10.5h-10.5zM350 350h10.5v10.5h-10.5zM280 360h10.5v10.5h-10.5z"/>
<path fill="#c9c9c9" d="M120 40h10.5v10.5h-10.5zM340 90h10.5v10.5h-10.5zM350 110h10.5v10.5h-10.5zM70 120h10.5v10.5h-10.5zM80 130h10.5v10.5h-10.5zM360 340h10.5v10.5h-10.5zM360 350h10.5v10.5h-10.5z"/>
<path fill="#cacaca" d="M320 90h10.5v10.5h-10.5zM180 100h10.5v10.5h-10.5zM350 100h10.5v10.5h-10.5zM350 370h10.5v10.5h-10.5z"/>
<path fill="#cbcbcb" d="M340 110h10.5v10.5h-10.5z"/>
<path fill="#cccccc" d="M110 50h10.5v10.5h-10.5zM330 90h10.5v10.5h-10.5z"/>
<path fill="#cdcdcd" d="M70 140h10.5v10.5h-10.5zM110 340h10.5v10.5h-10.5zM350 360h10.5v10.5h-10.5z"/>
<path fill="#cecece" d="M60 130h10.5v10.5h-10.5zM370 320h10.5v10.5h-10.5z"/>
<path fill="#cfcfcf" d="M310 110h10.5v10.5h-10.5zM340 350h10.5v10.5h-10.5zM180 360h10.5v10.5h-10.5zM340 390h10.5v10.5h-10.5z"/>
<path fill="#d0d0d0" d="M110 100h10.5v10.5h-10.5zM300 340h10.5v10.5h-10.5zM370 350h10.5v10.5h-10.5zM110 360h10.5v10.5h-10.5z"/>
<path fill="#d1d1d1" d="M340 100h10.5v10.5h-10.5zM120 110h10.5v10.5h-10.5zM160 120h10.5v10.5h-10.5zM70 130h10.5v10.5h-10.5zM310 340h10.5v10.5h-10.5zM420 350h10.5v10.5h-10.5z"/>
<path fill="#d2d2d2" d="M110 60h10.5v10.5h-10.5zM400 310h10.5v10.5h-10.5z"/>
<path fill="#d3d3d3" d="M130 50h10.5v10.5h-10.5zM330 110h10.5v10.5h-10.5zM180 350h10.5v10.5h-10.5z"/>
<path fill="#d4d4d4" d="M110 350h10.5v10.5h-10.5z"/>
<path fill="#d5d5d5" d="M120 50h10.5v10.5h-10.5zM310 100h10.5v10.5h-10.5zM320 110h10.5v10.5h-10.5zM320 390h10.5v10.5h-10.5z"/>
<path fill="#d6d6d6" d="M390 310h10.5v10.5h-10.5zM130 380h10.5v10.5h-10.5z"/>
<path fill="#d7d7d7" d="M150 120h10.5v10.5h-10.5zM150 330h10.5v10.5h-10.5zM160 380h10.5v10.5h-10.5zM330 390h10.5v10.5h-10.5z"/>
<path fill="#d8d8d8" d="M110 90h10.5v10.5h-10.5zM330 100h10.5v10.5h-10.5zM420 330h10.5v10.5h-10.5z"/>
<path fill="#d9d9d9" d="M340 380h10.5v10.5h-10.5z"/>
<path fill="#dadada" d="M370 330h10.5v10.5h-10.5zM370 340h10.5v10.5h-10.5zM420 340h10.5v10.5h-10.5zM380 350h10.5v10.5h-10.5zM340 360h10.5v10.5h-10.5zM120 370h10.5v10.5h-10.5z"/>
<path fill="#dbdbdb" d="M160 330h10.5v10.5h-10.5z"/>
<path fill="#dcdcdc" d="M110 70h10.5v10.5h-10.5z"/>
<path fill="#dddddd" d="M330 350h10.5v10.5h-10.5z"/>
<path fill="#dedede" d="M110 80h10.5v10.5h-10.5z"/>
<path fill="#dfdfdf" d="M340 370h10.5v10.5h-10.5zM300 380h10.5v10.5h-10.5z"/>
<path fill="#e0e0e0" d="M120 100h10.5v10.5h-10.5zM320 100h10.5v10.5h-10.5zM140 330h10.5v10.5h-10.5z"/>
<path fill="#e2e2e2" d="M130 110h10.5v10.5h-10.5zM410 350h10.5v10.5h-10.5z"/>
<path fill="#e4e4e4" d="M120 60h10.5v10.5h-10.5zM120 340h10.5v10.5h-10.5z"/>
<path fill="#e5e5e5" d="M410 320h10.5v10.5h-10.5zM120 350h10.5v10.5h-10.5zM290 350h10.5v10.5h-10.5zM390 350h10.5v10.5h-10.5zM140 380h10.5v10.5h-10.5z"/>
<path fill="#e6e6e6" d="M380 320h10.5v10.5h-10.5zM330 380h10.5v10.5h-10.5z"/>
<path fill="#e7e7e7" d="M170 90h10.5v10.5h-10.5z"/>
<path fill="#e8e8e8" d="M120 90h10.5v10.5h-10.5zM120 360h10.5v10.5h-10.5zM150 380h10.5v10.5h-10.5z"/>
<path fill="#e9e9e9" d="M380 340h10.5v10.5h-10.5zM330 360h10.5v10.5h-10.5z"/>
<path fill="#eaeaea" d="M400 350h10.5v10.5h-10.5z"/>
<path fill="#ececec" d="M140 60h10.5v10.5h-10.5zM160 80h10.5v10.5h-10.5zM320 350h10.5v10.5h-10.5zM310 380h10.5v10.5h-10.5z"/>
<path fill="#ededed" d="M120 70h10.5v10.5h-10.5zM120 80h10.5v10.5h-10.5zM130 100h10.5v10.5h-10.5zM320 380h10.5v10.5h-10.5z"/>
<path fill="#eeeeee" d="M140 110h10.5v10.5h-10.5zM380 330h10.5v10.5h-10.5zM130 370h10.5v10.5h-10.5zM170 370h10.5v10.5h-10.5zM290 370h10.5v10.5h-10.5zM330 370h10.5v10.5h-10.5z"/>
<path fill="#f0f0f0" d="M130 60h10.5v10.5h-10.5zM130 90h10.5v10.5h-10.5zM410 340h10.5v10.5h-10.5z"/>
<path fill="#f1f1f1" d="M160 100h10.5v10.5h-10.5zM130 350h10.5v10.5h-10.5z"/>
<path fill="#f2f2f2" d="M390 320h10.5v10.5h-10.5zM390 340h10.5v10.5h-10.5zM130 360h10.5v10.5h-10.5zM140 370h10.5v10.5h-10.5z"/>
<path fill="#f3f3f3" d="M140 70h10.5v10.5h-10.5zM130 80h20.5v10.5h-20.5zM410 330h10.5v10.5h-10.5zM160 350h10.5v10.5h-10.5zM300 350h20.5v10.5h-20.5zM160 360h10.5v10.5h-10.5z"/>
<path fill="#f4f4f4" d="M150 80h10.5v10.5h-10.5zM400 320h10.5v10.5h-10.5zM390 330h10.5v10.5h-10.5z"/>
<path fill="#f5f5f5" d="M140 100h10.5v10.5h-10.5zM140 340h10.5v10.5h-10.5zM170 340h10.5v10.5h-10.5zM290 360h10.5v10.5h-10.5z"/>
<path fill="#f6f6f6" d="M130 70h10.5v10.5h-10.5zM130 340h10.5v10.5h-10.5zM400 340h10.5v10.5h-10.5zM140 350h10.5v10.5h-10.5zM320 360h10.5v10.5h-10.5zM150 370h10.5v10.5h-10.5z"/>
<path fill="#f7f7f7" d="M150 110h10.5v10.5h-10.5zM150 340h10.5v10.5h-10.5zM140 360h10.5v10.5h-10.5zM170 360h10.5v10.5h-10.5zM160 370h10.5v10.5h-10.5z"/>
<path fill="#f8f8f8" d="M400 330h10.5v10.5h-10.5zM320 370h10.5v10.5h-10.5z"/>
<path fill="#f9f9f9" d="M160 90h10.5v10.5h-10.5zM170 350h10.5v10.5h-10.5z"/>
<path fill="#fafafa" d="M160 110h20.5v10.5h-20.5zM160 340h10.5v10.5h-10.5zM310 360h10.5v10.5h-10.5z"/>
<path fill="#fcfcfc" d="M150 100h10.5v10.5h-10.5zM170 100h10.5v10.5h-10.5zM300 370h20.5v10.5h-20.5z"/>
<path fill="#fdfdfd" d="M150 70h10.5v10.5h-10.5z"/>
<path fill="#fefefe" d="M150 360h10.5v10.5h-10.5z"/>
<path fill="#ffffff" d="M140 90h20.5v10.5h-20.5zM150 350h10.5v10.5h-10.5zM300 360h10.5v10.5h-10.5z"/>
</g></g>
<path d="M133.30 117.42V527.10H543.08" fill="none" stroke="#262626" stroke-width="1.3" stroke-opacity="0.5"/>
<path d="M133.40 527.10v10.6M133.40 117.42v-10.6M133.40 527.10h-10.6M543.08 527.10h10.6M213.73 527.10v10.6M213.73 117.42v-10.6M133.40 446.77h-10.6M543.08 446.77h10.6M294.06 527.10v10.6M294.06 117.42v-10.6M133.40 366.44h-10.6M543.08 366.44h10.6M374.39 527.10v10.6M374.39 117.42v-10.6M133.40 286.11h-10.6M543.08 286.11h10.6M454.72 527.10v10.6M454.72 117.42v-10.6M133.40 205.78h-10.6M543.08 205.78h10.6M535.05 527.10v10.6M535.05 117.42v-10.6M133.40 125.45h-10.6M543.08 125.45h10.6" stroke="#262626" stroke-width="1.7" fill="none"/>
<text class="tk" x="133.40" y="581.30" text-anchor="middle">0</text>
<text class="tk" x="111.00" y="539.70" text-anchor="end">0</text>
<text class="tk" x="213.73" y="581.30" text-anchor="middle">0.1</text>
<text class="tk" x="111.00" y="459.37" text-anchor="end">0.1</text>
<text class="tk" x="294.06" y="581.30" text-anchor="middle">0.2</text>
<text class="tk" x="111.00" y="379.04" text-anchor="end">0.2</text>
<text class="tk" x="374.39" y="581.30" text-anchor="middle">0.3</text>
<text class="tk" x="111.00" y="298.71" text-anchor="end">0.3</text>
<text class="tk" x="454.72" y="581.30" text-anchor="middle">0.4</text>
<text class="tk" x="111.00" y="218.38" text-anchor="end">0.4</text>
<text class="tk" x="535.05" y="581.30" text-anchor="middle">0.5</text>
<text class="tk" x="111.00" y="138.05" text-anchor="end">0.5</text>
<text class="lb" x="338.24" y="627.10" text-anchor="middle">X (m)</text>
<text class="lb" transform="translate(51.00 322.26) rotate(-90)" text-anchor="middle">Y (m)</text>
<text class="tt" transform="translate(338.84 100.22) scale(.978 1)" text-anchor="middle"><tspan font-style="italic">N</tspan> = 9, Arr04, Loc. 1.4, P</text>
<text class="pl" x="61.00" y="109.02" text-anchor="end">(a)</text>
<rect x="576.55" y="118.57" width="38.9" height="406.50" fill="url(#jg)" stroke="#1a1a1a" stroke-width="1.2"/>
<text class="cb" x="627.75" y="465.01">0.6</text>
<text class="cb" x="627.75" y="382.05">0.7</text>
<text class="cb" x="627.75" y="299.09">0.8</text>
<text class="cb" x="627.75" y="216.13">0.9</text>
<text class="cb" x="627.75" y="133.17">1</text>
<path d="M615.45 450.41h-5M615.45 367.45h-5M615.45 284.49h-5M615.45 201.53h-5" stroke="#262626" stroke-width="1.4" fill="none"/>
<path d="M328.1 323.5h26.6M341.4 310.2v26.6" stroke="#fff" stroke-width="4.7" fill="none"/>
<clipPath id="clb"><rect x="133.10" y="733.77" width="410.23" height="410.43"/></clipPath>
<g clip-path="url(#clb)"><g filter="url(#jet)" transform="translate(103.10 703.77)">
<path fill="#252525" d="M250 440h20.5v10.5h-20.5zM260 460h10.5v10.5h-10.5z"/>
<path fill="#262626" d="M270 440h10.5v10.5h-10.5zM250 450h20.5v10.5h-20.5zM250 460h10.5v10.5h-10.5zM250 470h20.5v10.5h-20.5z"/>
<path fill="#272727" d="M250 430h20.5v10.5h-20.5zM240 440h10.5v10.5h-10.5zM270 450h10.5v10.5h-10.5zM240 460h10.5v10.5h-10.5zM270 460h10.5v10.5h-10.5zM240 470h10.5v10.5h-10.5zM270 470h10.5v10.5h-10.5z"/>
<path fill="#282828" d="M270 430h10.5v10.5h-10.5zM240 450h10.5v10.5h-10.5z"/>
<path fill="#292929" d="M240 430h10.5v10.5h-10.5zM230 440h10.5v10.5h-10.5zM280 440h10.5v10.5h-10.5zM280 460h10.5v10.5h-10.5zM280 470h10.5v10.5h-10.5z"/>
<path fill="#2a2a2a" d="M210 20h10.5v10.5h-10.5zM230 450h10.5v10.5h-10.5zM280 450h10.5v10.5h-10.5zM230 460h10.5v10.5h-10.5zM230 470h10.5v10.5h-10.5z"/>
<path fill="#2b2b2b" d="M210 0h10.5v10.5h-10.5zM210 10h10.5v10.5h-10.5zM200 20h10.5v10.5h-10.5zM220 20h10.5v10.5h-10.5zM230 430h10.5v10.5h-10.5zM280 430h10.5v10.5h-10.5z"/>
<path fill="#2c2c2c" d="M200 0h10.5v10.5h-10.5zM220 0h10.5v10.5h-10.5zM200 10h10.5v10.5h-10.5zM220 10h10.5v10.5h-10.5zM210 30h10.5v10.5h-10.5zM260 420h10.5v10.5h-10.5zM220 440h10.5v10.5h-10.5zM290 440h10.5v10.5h-10.5zM290 460h10.5v10.5h-10.5zM290 470h10.5v10.5h-10.5z"/>
<path fill="#2d2d2d" d="M230 0h10.5v10.5h-10.5zM230 10h10.5v10.5h-10.5zM190 20h10.5v10.5h-10.5zM230 20h10.5v10.5h-10.5zM200 30h10.5v10.5h-10.5zM220 30h10.5v10.5h-10.5zM250 420h10.5v10.5h-10.5zM270 420h10.5v10.5h-10.5zM220 450h10.5v10.5h-10.5zM290 450h10.5v10.5h-10.5zM220 460h10.5v10.5h-10.5zM220 470h10.5v10.5h-10.5z"/>
<path fill="#2e2e2e" d="M190 0h10.5v10.5h-10.5zM190 10h10.5v10.5h-10.5zM230 30h10.5v10.5h-10.5zM240 420h10.5v10.5h-10.5zM220 430h10.5v10.5h-10.5zM290 430h10.5v10.5h-10.5z"/>
<path fill="#2f2f2f" d="M240 0h10.5v10.5h-10.5zM240 10h10.5v10.5h-10.5zM240 20h10.5v10.5h-10.5zM190 30h10.5v10.5h-10.5zM280 420h10.5v10.5h-10.5zM210 440h10.5v10.5h-10.5zM300 440h10.5v10.5h-10.5z"/>
<path fill="#303030" d="M180 0h10.5v10.5h-10.5zM180 20h10.5v10.5h-10.5zM240 30h10.5v10.5h-10.5zM210 450h10.5v10.5h-10.5zM300 450h10.5v10.5h-10.5zM210 460h10.5v10.5h-10.5zM300 460h10.5v10.5h-10.5zM210 470h10.5v10.5h-10.5zM300 470h10.5v10.5h-10.5z"/>
<path fill="#313131" d="M180 10h10.5v10.5h-10.5zM250 20h10.5v10.5h-10.5zM260 410h10.5v10.5h-10.5zM230 420h10.5v10.5h-10.5zM300 430h10.5v10.5h-10.5z"/>
<path fill="#323232" d="M250 0h10.5v10.5h-10.5zM250 10h10.5v10.5h-10.5zM170 20h10.5v10.5h-10.5zM180 30h10.5v10.5h-10.5zM210 40h20.5v10.5h-20.5zM250 410h10.5v10.5h-10.5zM270 410h10.5v10.5h-10.5zM290 420h10.5v10.5h-10.5zM210 430h10.5v10.5h-10.5z"/>
<path fill="#333333" d="M170 0h10.5v10.5h-10.5zM170 10h10.5v10.5h-10.5zM250 30h10.5v10.5h-10.5zM200 40h10.5v10.5h-10.5zM230 40h10.5v10.5h-10.5zM240 410h10.5v10.5h-10.5zM280 410h10.5v10.5h-10.5zM220 420h10.5v10.5h-10.5zM200 440h10.5v10.5h-10.5zM200 460h10.5v10.5h-10.5z"/>
<path fill="#343434" d="M260 20h10.5v10.5h-10.5zM170 30h10.5v10.5h-10.5zM310 440h10.5v10.5h-10.5zM200 450h10.5v10.5h-10.5zM310 450h10.5v10.5h-10.5zM310 460h10.5v10.5h-10.5zM200 470h10.5v10.5h-10.5zM310 470h10.5v10.5h-10.5z"/>
<path fill="#353535" d="M260 0h10.5v10.5h-10.5zM260 10h10.5v10.5h-10.5zM160 20h10.5v10.5h-10.5zM190 40h10.5v10.5h-10.5zM240 40h10.5v10.5h-10.5zM230 410h10.5v10.5h-10.5zM290 410h10.5v10.5h-10.5zM300 420h10.5v10.5h-10.5zM200 430h10.5v10.5h-10.5zM310 430h10.5v10.5h-10.5z"/>
<path fill="#363636" d="M160 0h10.5v10.5h-10.5zM160 10h10.5v10.5h-10.5zM260 30h10.5v10.5h-10.5zM220 50h10.5v10.5h-10.5zM190 440h10.5v10.5h-10.5z"/>
<path fill="#373737" d="M270 0h10.5v10.5h-10.5zM270 20h10.5v10.5h-10.5zM160 30h10.5v10.5h-10.5zM180 40h10.5v10.5h-10.5zM250 40h10.5v10.5h-10.5zM210 50h10.5v10.5h-10.5zM230 50h10.5v10.5h-10.5zM260 400h20.5v10.5h-20.5zM210 420h10.5v10.5h-10.5zM190 450h10.5v10.5h-10.5zM190 460h10.5v10.5h-10.5zM190 470h10.5v10.5h-10.5z"/>
<path fill="#383838" d="M270 10h10.5v10.5h-10.5zM150 20h10.5v10.5h-10.5zM270 30h10.5v10.5h-10.5zM200 50h10.5v10.5h-10.5zM250 400h10.5v10.5h-10.5zM280 400h10.5v10.5h-10.5zM220 410h10.5v10.5h-10.5zM300 410h10.5v10.5h-10.5zM310 420h10.5v10.5h-10.5zM320 440h10.5v10.5h-10.5zM320 460h10.5v10.5h-10.5z"/>
<path fill="#393939" d="M150 0h10.5v10.5h-10.5zM150 10h10.5v10.5h-10.5zM190 50h10.5v10.5h-10.5zM240 50h10.5v10.5h-10.5zM240 400h10.5v10.5h-10.5zM190 430h10.5v10.5h-10.5zM320 450h10.5v10.5h-10.5zM320 470h10.5v10.5h-10.5z"/>
<path fill="#3a3a3a" d="M280 0h10.5v10.5h-10.5zM140 20h10.5v10.5h-10.5zM280 20h10.5v10.5h-10.5zM150 30h10.5v10.5h-10.5zM170 40h10.5v10.5h-10.5zM260 40h10.5v10.5h-10.5zM290 400h10.5v10.5h-10.5zM200 420h10.5v10.5h-10.5zM320 430h10.5v10.5h-10.5zM180 440h10.5v10.5h-10.5zM180 460h10.5v10.5h-10.5z"/>
<path fill="#3b3b3b" d="M140 0h10.5v10.5h-10.5zM280 10h10.5v10.5h-10.5zM250 50h10.5v10.5h-10.5zM230 400h10.5v10.5h-10.5zM210 410h10.5v10.5h-10.5zM310 410h10.5v10.5h-10.5zM180 450h10.5v10.5h-10.5zM180 470h10.5v10.5h-10.5z"/>
<path fill="#3c3c3c" d="M140 10h10.5v10.5h-10.5zM280 30h10.5v10.5h-10.5zM180 50h10.5v10.5h-10.5zM210 60h30.5v10.5h-30.5zM270 390h10.5v10.5h-10.5zM300 400h10.5v10.5h-10.5zM180 430h10.5v10.5h-10.5z"/>
<path fill="#3d3d3d" d="M130 20h10.5v10.5h-10.5zM290 20h10.5v10.5h-10.5zM140 30h10.5v10.5h-10.5zM160 40h10.5v10.5h-10.5zM270 40h10.5v10.5h-10.5zM200 60h10.5v10.5h-10.5zM240 60h10.5v10.5h-10.5zM260 390h10.5v10.5h-10.5zM280 390h10.5v10.5h-10.5zM220 400h10.5v10.5h-10.5zM320 420h10.5v10.5h-10.5zM330 440h10.5v10.5h-10.5zM330 460h10.5v10.5h-10.5zM330 470h10.5v10.5h-10.5z"/>
<path fill="#3e3e3e" d="M130 0h10.5v10.5h-10.5zM290 0h10.5v10.5h-10.5zM130 10h10.5v10.5h-10.5zM290 10h10.5v10.5h-10.5zM170 50h10.5v10.5h-10.5zM260 50h10.5v10.5h-10.5zM250 390h10.5v10.5h-10.5zM290 390h10.5v10.5h-10.5zM200 410h10.5v10.5h-10.5zM190 420h10.5v10.5h-10.5zM330 430h10.5v10.5h-10.5zM170 440h10.5v10.5h-10.5zM330 450h10.5v10.5h-10.5zM170 460h10.5v10.5h-10.5z"/>
<path fill="#3f3f3f" d="M120 20h10.5v10.5h-10.5zM130 30h10.5v10.5h-10.5zM290 30h10.5v10.5h-10.5zM190 60h10.5v10.5h-10.5zM240 390h10.5v10.5h-10.5zM310 400h10.5v10.5h-10.5zM320 410h10.5v10.5h-10.5zM170 450h10.5v10.5h-10.5zM170 470h10.5v10.5h-10.5z"/>
<path fill="#404040" d="M120 0h10.5v10.5h-10.5zM120 10h10.5v10.5h-10.5zM150 40h10.5v10.5h-10.5zM280 40h10.5v10.5h-10.5zM250 60h10.5v10.5h-10.5zM230 390h10.5v10.5h-10.5zM300 390h10.5v10.5h-10.5zM210 400h10.5v10.5h-10.5zM170 430h10.5v10.5h-10.5z"/>
<path fill="#414141" d="M300 20h10.5v10.5h-10.5zM160 50h10.5v10.5h-10.5zM270 50h10.5v10.5h-10.5zM180 60h10.5v10.5h-10.5zM220 70h10.5v10.5h-10.5zM180 420h10.5v10.5h-10.5zM330 420h10.5v10.5h-10.5z"/>
<path fill="#424242" d="M300 0h10.5v10.5h-10.5zM300 10h10.5v10.5h-10.5zM110 20h10.5v10.5h-10.5zM120 30h10.5v10.5h-10.5zM210 70h10.5v10.5h-10.5zM230 70h10.5v10.5h-10.5zM260 380h30.5v10.5h-30.5zM190 410h10.5v10.5h-10.5zM160 440h10.5v10.5h-10.5zM340 440h10.5v10.5h-10.5z"/>
<path fill="#434343" d="M110 0h10.5v10.5h-10.5zM110 10h10.5v10.5h-10.5zM300 30h10.5v10.5h-10.5zM140 40h10.5v10.5h-10.5zM260 60h10.5v10.5h-10.5zM200 70h10.5v10.5h-10.5zM240 70h10.5v10.5h-10.5zM250 380h10.5v10.5h-10.5zM290 380h10.5v10.5h-10.5zM220 390h10.5v10.5h-10.5zM310 390h10.5v10.5h-10.5zM200 400h10.5v10.5h-10.5zM320 400h10.5v10.5h-10.5zM160 450h10.5v10.5h-10.5zM340 450h10.5v10.5h-10.5zM160 460h10.5v10.5h-10.5zM340 460h10.5v10.5h-10.5zM160 470h10.5v10.5h-10.5zM340 470h10.5v10.5h-10.5z"/>
<path fill="#444444" d="M290 40h10.5v10.5h-10.5zM150 50h10.5v10.5h-10.5zM280 50h10.5v10.5h-10.5zM170 60h10.5v10.5h-10.5zM240 380h10.5v10.5h-10.5zM330 410h10.5v10.5h-10.5zM340 430h10.5v10.5h-10.5z"/>
<path fill="#454545" d="M100 20h10.5v10.5h-10.5zM110 30h10.5v10.5h-10.5zM130 40h10.5v10.5h-10.5zM190 70h10.5v10.5h-10.5zM250 70h10.5v10.5h-10.5zM300 380h10.5v10.5h-10.5zM210 390h10.5v10.5h-10.5zM160 430h10.5v10.5h-10.5z"/>
<path fill="#464646" d="M100 0h10.5v10.5h-10.5zM310 20h10.5v10.5h-10.5zM160 60h10.5v10.5h-10.5zM270 60h10.5v10.5h-10.5zM230 380h10.5v10.5h-10.5zM320 390h10.5v10.5h-10.5zM180 410h10.5v10.5h-10.5zM170 420h10.5v10.5h-10.5zM340 420h10.5v10.5h-10.5z"/>
<path fill="#474747" d="M310 0h10.5v10.5h-10.5zM100 10h10.5v10.5h-10.5zM310 10h10.5v10.5h-10.5zM140 50h10.5v10.5h-10.5zM180 70h10.5v10.5h-10.5zM260 370h30.5v10.5h-30.5zM310 380h10.5v10.5h-10.5zM190 400h10.5v10.5h-10.5zM330 400h10.5v10.5h-10.5zM150 440h10.5v10.5h-10.5zM150 460h10.5v10.5h-10.5z"/>
<path fill="#484848" d="M100 30h10.5v10.5h-10.5zM310 30h10.5v10.5h-10.5zM120 40h10.5v10.5h-10.5zM300 40h10.5v10.5h-10.5zM290 50h10.5v10.5h-10.5zM260 70h10.5v10.5h-10.5zM210 80h30.5v10.5h-30.5zM250 370h10.5v10.5h-10.5zM290 370h10.5v10.5h-10.5zM220 380h10.5v10.5h-10.5zM350 440h10.5v10.5h-10.5zM150 450h10.5v10.5h-10.5zM350 450h10.5v10.5h-10.5zM350 460h10.5v10.5h-10.5zM150 470h10.5v10.5h-10.5zM350 470h10.5v10.5h-10.5z"/>
<path fill="#494949" d="M90 20h10.5v10.5h-10.5zM150 60h10.5v10.5h-10.5zM280 60h10.5v10.5h-10.5zM170 70h10.5v10.5h-10.5zM200 80h10.5v10.5h-10.5zM240 80h10.5v10.5h-10.5zM200 390h10.5v10.5h-10.5zM340 410h10.5v10.5h-10.5zM150 430h10.5v10.5h-10.5zM350 430h10.5v10.5h-10.5z"/>
<path fill="#4a4a4a" d="M90 0h10.5v10.5h-10.5zM90 10h10.5v10.5h-10.5zM130 50h10.5v10.5h-10.5zM240 370h10.5v10.5h-10.5zM300 370h10.5v10.5h-10.5zM170 410h10.5v10.5h-10.5zM160 420h10.5v10.5h-10.5z"/>
<path fill="#4b4b4b" d="M270 70h10.5v10.5h-10.5zM190 80h10.5v10.5h-10.5zM250 80h10.5v10.5h-10.5zM230 370h10.5v10.5h-10.5zM210 380h10.5v10.5h-10.5zM320 380h10.5v10.5h-10.5zM330 390h10.5v10.5h-10.5zM180 400h10.5v10.5h-10.5zM350 420h10.5v10.5h-10.5z"/>
<path fill="#4c4c4c" d="M320 0h10.5v10.5h-10.5zM320 20h10.5v10.5h-10.5zM90 30h10.5v10.5h-10.5zM110 40h10.5v10.5h-10.5zM140 60h10.5v10.5h-10.5zM160 70h10.5v10.5h-10.5zM310 370h10.5v10.5h-10.5zM190 390h10.5v10.5h-10.5zM340 400h10.5v10.5h-10.5zM140 440h10.5v10.5h-10.5z"/>
<path fill="#4d4d4d" d="M320 10h10.5v10.5h-10.5zM80 20h10.5v10.5h-10.5zM320 30h10.5v10.5h-10.5zM310 40h10.5v10.5h-10.5zM300 50h10.5v10.5h-10.5zM290 60h10.5v10.5h-10.5zM180 80h10.5v10.5h-10.5zM260 80h10.5v10.5h-10.5zM260 360h30.5v10.5h-30.5zM360 440h10.5v10.5h-10.5zM140 450h10.5v10.5h-10.5zM140 460h10.5v10.5h-10.5zM360 460h10.5v10.5h-10.5zM140 470h10.5v10.5h-10.5z"/>
<path fill="#4e4e4e" d="M80 0h10.5v10.5h-10.5zM120 50h10.5v10.5h-10.5zM280 70h10.5v10.5h-10.5zM220 90h20.5v10.5h-20.5zM250 360h10.5v10.5h-10.5zM290 360h10.5v10.5h-10.5zM220 370h10.5v10.5h-10.5zM200 380h10.5v10.5h-10.5zM350 410h10.5v10.5h-10.5zM360 430h10.5v10.5h-10.5zM360 450h10.5v10.5h-10.5zM360 470h10.5v10.5h-10.5z"/>
<path fill="#4f4f4f" d="M80 10h10.5v10.5h-10.5zM150 70h10.5v10.5h-10.5zM170 80h10.5v10.5h-10.5zM210 90h10.5v10.5h-10.5zM240 90h10.5v10.5h-10.5zM240 360h10.5v10.5h-10.5zM330 380h10.5v10.5h-10.5zM340 390h10.5v10.5h-10.5zM170 400h10.5v10.5h-10.5zM160 410h10.5v10.5h-10.5zM150 420h10.5v10.5h-10.5zM140 430h10.5v10.5h-10.5z"/>
<path fill="#505050" d="M80 30h10.5v10.5h-10.5zM100 40h10.5v10.5h-10.5zM130 60h10.5v10.5h-10.5zM270 80h10.5v10.5h-10.5zM200 90h10.5v10.5h-10.5zM300 360h10.5v10.5h-10.5zM210 370h10.5v10.5h-10.5zM320 370h10.5v10.5h-10.5zM180 390h10.5v10.5h-10.5z"/>
<path fill="#515151" d="M110 50h10.5v10.5h-10.5zM310 50h10.5v10.5h-10.5zM160 80h10.5v10.5h-10.5zM190 90h10.5v10.5h-10.5zM250 90h10.5v10.5h-10.5zM230 360h10.5v10.5h-10.5zM190 380h10.5v10.5h-10.5zM350 400h10.5v10.5h-10.5zM360 420h10.5v10.5h-10.5z"/>
<path fill="#525252" d="M330 0h10.5v10.5h-10.5zM330 20h10.5v10.5h-10.5zM320 40h10.5v10.5h-10.5zM300 60h10.5v10.5h-10.5zM140 70h10.5v10.5h-10.5zM290 70h10.5v10.5h-10.5zM260 350h20.5v10.5h-20.5zM310 360h10.5v10.5h-10.5zM130 440h10.5v10.5h-10.5zM370 440h10.5v10.5h-10.5zM130 460h10.5v10.5h-10.5zM370 460h10.5v10.5h-10.5z"/>
<path fill="#535353" d="M330 10h10.5v10.5h-10.5zM120 60h10.5v10.5h-10.5zM180 90h10.5v10.5h-10.5zM260 90h10.5v10.5h-10.5zM250 350h10.5v10.5h-10.5zM280 350h10.5v10.5h-10.5zM220 360h10.5v10.5h-10.5zM200 370h10.5v10.5h-10.5zM360 410h10.5v10.5h-10.5zM370 430h10.5v10.5h-10.5zM130 450h10.5v10.5h-10.5zM370 450h10.5v10.5h-10.5zM130 470h10.5v10.5h-10.5zM370 470h10.5v10.5h-10.5z"/>
<path fill="#545454" d="M70 0h10.5v10.5h-10.5zM70 20h10.5v10.5h-10.5zM330 30h10.5v10.5h-10.5zM90 40h10.5v10.5h-10.5zM150 80h10.5v10.5h-10.5zM280 80h10.5v10.5h-10.5zM290 350h10.5v10.5h-10.5zM330 370h10.5v10.5h-10.5zM340 380h10.5v10.5h-10.5zM170 390h10.5v10.5h-10.5zM350 390h10.5v10.5h-10.5zM160 400h10.5v10.5h-10.5zM150 410h10.5v10.5h-10.5zM130 430h10.5v10.5h-10.5z"/>
<path fill="#555555" d="M70 10h10.5v10.5h-10.5zM130 70h10.5v10.5h-10.5zM170 90h10.5v10.5h-10.5zM210 100h30.5v10.5h-30.5zM240 350h10.5v10.5h-10.5zM180 380h10.5v10.5h-10.5zM140 420h10.5v10.5h-10.5z"/>
<path fill="#565656" d="M70 30h10.5v10.5h-10.5zM100 50h10.5v10.5h-10.5zM270 90h10.5v10.5h-10.5zM200 100h10.5v10.5h-10.5zM240 100h10.5v10.5h-10.5zM230 350h10.5v10.5h-10.5zM300 350h10.5v10.5h-10.5zM210 360h10.5v10.5h-10.5zM320 360h10.5v10.5h-10.5zM360 400h10.5v10.5h-10.5zM370 420h10.5v10.5h-10.5z"/>
<path fill="#575757" d="M320 50h10.5v10.5h-10.5zM310 60h10.5v10.5h-10.5zM300 70h10.5v10.5h-10.5zM140 80h10.5v10.5h-10.5zM160 90h10.5v10.5h-10.5zM190 100h10.5v10.5h-10.5zM250 100h10.5v10.5h-10.5zM190 370h10.5v10.5h-10.5zM380 440h10.5v10.5h-10.5z"/>
<path fill="#585858" d="M330 40h10.5v10.5h-10.5zM110 60h10.5v10.5h-10.5zM290 80h10.5v10.5h-10.5zM260 340h20.5v10.5h-20.5zM220 350h10.5v10.5h-10.5zM310 350h10.5v10.5h-10.5zM370 410h10.5v10.5h-10.5zM120 440h10.5v10.5h-10.5zM380 450h10.5v10.5h-10.5zM380 460h10.5v10.5h-10.5zM380 470h10.5v10.5h-10.5z"/>
<path fill="#595959" d="M340 0h10.5v10.5h-10.5zM340 10h10.5v10.5h-10.5zM340 20h10.5v10.5h-10.5zM80 40h10.5v10.5h-10.5zM120 70h10.5v10.5h-10.5zM180 100h10.5v10.5h-10.5zM260 100h10.5v10.5h-10.5zM250 340h10.5v10.5h-10.5zM280 340h10.5v10.5h-10.5zM200 360h10.5v10.5h-10.5zM340 370h10.5v10.5h-10.5zM350 380h10.5v10.5h-10.5zM160 390h10.5v10.5h-10.5zM380 430h10.5v10.5h-10.5zM120 450h10.5v10.5h-10.5zM120 460h10.5v10.5h-10.5zM120 470h10.5v10.5h-10.5z"/>
<path fill="#5a5a5a" d="M60 20h10.5v10.5h-10.5zM340 30h10.5v10.5h-10.5zM150 90h10.5v10.5h-10.5zM280 90h10.5v10.5h-10.5zM240 340h10.5v10.5h-10.5zM290 340h10.5v10.5h-10.5zM330 360h10.5v10.5h-10.5zM170 380h10.5v10.5h-10.5zM360 390h10.5v10.5h-10.5zM150 400h10.5v10.5h-10.5zM140 410h10.5v10.5h-10.5z"/>
<path fill="#5b5b5b" d="M60 0h10.5v10.5h-10.5zM60 10h10.5v10.5h-10.5zM90 50h10.5v10.5h-10.5zM130 80h10.5v10.5h-10.5zM170 100h10.5v10.5h-10.5zM210 110h40.5v10.5h-40.5zM210 350h10.5v10.5h-10.5zM180 370h10.5v10.5h-10.5zM370 400h10.5v10.5h-10.5zM130 420h10.5v10.5h-10.5zM380 420h10.5v10.5h-10.5zM120 430h10.5v10.5h-10.5z"/>
<path fill="#5c5c5c" d="M100 60h10.5v10.5h-10.5zM320 60h10.5v10.5h-10.5zM310 70h10.5v10.5h-10.5zM270 100h10.5v10.5h-10.5zM200 110h10.5v10.5h-10.5zM230 340h10.5v10.5h-10.5zM300 340h10.5v10.5h-10.5zM320 350h10.5v10.5h-10.5zM190 360h10.5v10.5h-10.5z"/>
<path fill="#5d5d5d" d="M60 30h10.5v10.5h-10.5zM330 50h10.5v10.5h-10.5zM110 70h10.5v10.5h-10.5zM300 80h10.5v10.5h-10.5zM140 90h10.5v10.5h-10.5zM160 100h10.5v10.5h-10.5zM190 110h10.5v10.5h-10.5zM250 110h10.5v10.5h-10.5zM380 410h10.5v10.5h-10.5zM390 440h10.5v10.5h-10.5zM390 450h10.5v10.5h-10.5zM390 460h10.5v10.5h-10.5zM390 470h10.5v10.5h-10.5z"/>
<path fill="#5e5e5e" d="M290 90h10.5v10.5h-10.5zM250 330h30.5v10.5h-30.5zM220 340h10.5v10.5h-10.5zM200 350h10.5v10.5h-10.5zM390 430h10.5v10.5h-10.5zM110 440h10.5v10.5h-10.5z"/>
<path fill="#5f5f5f" d="M70 40h10.5v10.5h-10.5zM340 40h10.5v10.5h-10.5zM120 80h10.5v10.5h-10.5zM280 100h10.5v10.5h-10.5zM180 110h10.5v10.5h-10.5zM260 110h10.5v10.5h-10.5zM280 330h10.5v10.5h-10.5zM310 340h10.5v10.5h-10.5zM340 360h10.5v10.5h-10.5zM170 370h10.5v10.5h-10.5zM350 370h10.5v10.5h-10.5zM160 380h10.5v10.5h-10.5zM360 380h10.5v10.5h-10.5zM150 390h10.5v10.5h-10.5zM370 390h10.5v10.5h-10.5zM140 400h10.5v10.5h-10.5zM390 420h10.5v10.5h-10.5zM110 460h10.5v10.5h-10.5zM110 470h10.5v10.5h-10.5z"/>
<path fill="#606060" d="M50 20h10.5v10.5h-10.5zM350 20h10.5v10.5h-10.5zM80 50h10.5v10.5h-10.5zM150 100h10.5v10.5h-10.5zM220 120h20.5v10.5h-20.5zM240 330h10.5v10.5h-10.5zM290 330h10.5v10.5h-10.5zM210 340h10.5v10.5h-10.5zM180 360h10.5v10.5h-10.5zM380 400h10.5v10.5h-10.5zM130 410h10.5v10.5h-10.5zM110 450h10.5v10.5h-10.5z"/>
<path fill="#616161" d="M50 0h10.5v10.5h-10.5zM350 0h10.5v10.5h-10.5zM50 10h10.5v10.5h-10.5zM350 10h10.5v10.5h-10.5zM130 90h10.5v10.5h-10.5zM170 110h10.5v10.5h-10.5zM270 110h10.5v10.5h-10.5zM200 120h20.5v10.5h-20.5zM240 120h10.5v10.5h-10.5zM230 330h10.5v10.5h-10.5zM190 350h10.5v10.5h-10.5zM330 350h10.5v10.5h-10.5zM390 410h10.5v10.5h-10.5zM120 420h10.5v10.5h-10.5zM110 430h10.5v10.5h-10.5zM400 440h10.5v10.5h-10.5zM400 460h10.5v10.5h-10.5zM400 470h10.5v10.5h-10.5z"/>
<path fill="#626262" d="M350 30h10.5v10.5h-10.5zM90 60h10.5v10.5h-10.5zM100 70h10.5v10.5h-10.5zM320 70h10.5v10.5h-10.5zM310 80h10.5v10.5h-10.5zM250 120h10.5v10.5h-10.5zM400 430h10.5v10.5h-10.5zM400 450h10.5v10.5h-10.5z"/>
<path fill="#636363" d="M50 30h10.5v10.5h-10.5zM330 60h10.5v10.5h-10.5zM110 80h10.5v10.5h-10.5zM300 90h10.5v10.5h-10.5zM290 100h10.5v10.5h-10.5zM160 110h10.5v10.5h-10.5zM190 120h10.5v10.5h-10.5zM250 320h20.5v10.5h-20.5zM220 330h10.5v10.5h-10.5zM300 330h10.5v10.5h-10.5zM200 340h10.5v10.5h-10.5z"/>
<path fill="#646464" d="M40 20h10.5v10.5h-10.5zM60 40h10.5v10.5h-10.5zM340 50h10.5v10.5h-10.5zM140 100h10.5v10.5h-10.5zM180 120h10.5v10.5h-10.5zM260 120h10.5v10.5h-10.5zM240 320h10.5v10.5h-10.5zM270 320h10.5v10.5h-10.5zM320 340h10.5v10.5h-10.5zM160 370h10.5v10.5h-10.5zM150 380h10.5v10.5h-10.5zM400 420h10.5v10.5h-10.5zM410 440h10.5v10.5h-10.5z"/>
<path fill="#656565" d="M40 0h10.5v10.5h-10.5zM40 10h10.5v10.5h-10.5zM70 50h10.5v10.5h-10.5zM120 90h10.5v10.5h-10.5zM280 110h10.5v10.5h-10.5zM210 130h40.5v10.5h-40.5zM280 320h10.5v10.5h-10.5zM210 330h10.5v10.5h-10.5zM180 350h10.5v10.5h-10.5zM170 360h10.5v10.5h-10.5zM360 370h10.5v10.5h-10.5zM370 380h10.5v10.5h-10.5zM140 390h10.5v10.5h-10.5zM380 390h10.5v10.5h-10.5zM410 450h10.5v10.5h-10.5zM410 460h10.5v10.5h-10.5zM410 470h10.5v10.5h-10.5z"/>
<path fill="#666666" d="M150 110h10.5v10.5h-10.5zM170 120h10.5v10.5h-10.5zM200 130h10.5v10.5h-10.5zM230 320h10.5v10.5h-10.5zM350 360h10.5v10.5h-10.5zM130 400h10.5v10.5h-10.5zM390 400h10.5v10.5h-10.5zM120 410h10.5v10.5h-10.5zM410 430h10.5v10.5h-10.5zM100 440h10.5v10.5h-10.5z"/>
<path fill="#676767" d="M360 20h10.5v10.5h-10.5zM40 30h10.5v10.5h-10.5zM350 40h10.5v10.5h-10.5zM80 60h10.5v10.5h-10.5zM130 100h10.5v10.5h-10.5zM270 120h10.5v10.5h-10.5zM190 130h10.5v10.5h-10.5zM250 130h10.5v10.5h-10.5zM290 320h10.5v10.5h-10.5zM310 330h10.5v10.5h-10.5zM190 340h10.5v10.5h-10.5zM340 350h10.5v10.5h-10.5zM400 410h10.5v10.5h-10.5zM420 440h10.5v10.5h-10.5zM100 450h10.5v10.5h-10.5zM100 460h10.5v10.5h-10.5zM100 470h10.5v10.5h-10.5z"/>
<path fill="#686868" d="M360 0h10.5v10.5h-10.5zM360 10h10.5v10.5h-10.5zM90 70h10.5v10.5h-10.5zM320 80h10.5v10.5h-10.5zM310 90h10.5v10.5h-10.5zM300 100h10.5v10.5h-10.5zM250 310h20.5v10.5h-20.5zM220 320h10.5v10.5h-10.5zM200 330h10.5v10.5h-10.5zM110 420h10.5v10.5h-10.5zM420 450h10.5v10.5h-10.5zM420 460h10.5v10.5h-10.5zM420 470h10.5v10.5h-10.5z"/>
<path fill="#696969" d="M30 20h10.5v10.5h-10.5zM360 30h10.5v10.5h-10.5zM330 70h10.5v10.5h-10.5zM100 80h10.5v10.5h-10.5zM290 110h10.5v10.5h-10.5zM160 120h10.5v10.5h-10.5zM180 130h10.5v10.5h-10.5zM260 130h10.5v10.5h-10.5zM220 140h30.5v10.5h-30.5zM240 310h10.5v10.5h-10.5zM270 310h10.5v10.5h-10.5zM330 340h10.5v10.5h-10.5zM410 420h10.5v10.5h-10.5zM100 430h10.5v10.5h-10.5zM420 430h10.5v10.5h-10.5z"/>
<path fill="#6a6a6a" d="M30 0h10.5v10.5h-10.5zM0 20h20.5v10.5h-20.5zM50 40h10.5v10.5h-10.5zM60 50h10.5v10.5h-10.5zM340 60h10.5v10.5h-10.5zM110 90h10.5v10.5h-10.5zM140 110h10.5v10.5h-10.5zM280 120h10.5v10.5h-10.5zM210 140h10.5v10.5h-10.5zM230 310h10.5v10.5h-10.5zM210 320h10.5v10.5h-10.5zM300 320h10.5v10.5h-10.5zM170 350h10.5v10.5h-10.5zM160 360h10.5v10.5h-10.5zM150 370h10.5v10.5h-10.5z"/>
<path fill="#6b6b6b" d="M0 0h20.5v10.5h-20.5zM30 10h10.5v10.5h-10.5zM20 20h10.5v10.5h-10.5zM270 130h10.5v10.5h-10.5zM200 140h10.5v10.5h-10.5zM250 140h10.5v10.5h-10.5zM280 310h10.5v10.5h-10.5zM180 340h10.5v10.5h-10.5zM140 380h10.5v10.5h-10.5zM380 380h10.5v10.5h-10.5zM130 390h10.5v10.5h-10.5zM390 390h10.5v10.5h-10.5zM400 400h10.5v10.5h-10.5zM430 440h10.5v10.5h-10.5z"/>
<path fill="#6c6c6c" d="M20 0h10.5v10.5h-10.5zM0 10h20.5v10.5h-20.5zM30 30h10.5v10.5h-10.5zM350 50h10.5v10.5h-10.5zM70 60h10.5v10.5h-10.5zM120 100h10.5v10.5h-10.5zM150 120h10.5v10.5h-10.5zM170 130h10.5v10.5h-10.5zM190 140h10.5v10.5h-10.5zM230 150h10.5v10.5h-10.5zM220 310h10.5v10.5h-10.5zM190 330h10.5v10.5h-10.5zM320 330h10.5v10.5h-10.5zM370 370h10.5v10.5h-10.5zM120 400h10.5v10.5h-10.5zM410 410h10.5v10.5h-10.5zM420 420h10.5v10.5h-10.5zM450 440h10.5v10.5h-10.5zM430 450h10.5v10.5h-10.5zM430 460h10.5v10.5h-10.5zM430 470h10.5v10.5h-10.5z"/>
<path fill="#6d6d6d" d="M20 10h10.5v10.5h-10.5zM10 30h10.5v10.5h-10.5zM80 70h10.5v10.5h-10.5zM260 140h10.5v10.5h-10.5zM210 150h20.5v10.5h-20.5zM240 150h10.5v10.5h-10.5zM240 300h30.5v10.5h-30.5zM290 310h10.5v10.5h-10.5zM200 320h10.5v10.5h-10.5zM360 360h10.5v10.5h-10.5zM430 430h10.5v10.5h-10.5zM90 440h10.5v10.5h-10.5zM460 440h20.5v10.5h-20.5zM450 450h10.5v10.5h-10.5zM450 460h10.5v10.5h-10.5zM470 460h10.5v10.5h-10.5zM450 470h10.5v10.5h-10.5zM470 470h10.5v10.5h-10.5z"/>
<path fill="#6e6e6e" d="M370 20h10.5v10.5h-10.5zM0 30h10.5v10.5h-10.5zM20 30h10.5v10.5h-10.5zM40 40h10.5v10.5h-10.5zM90 80h10.5v10.5h-10.5zM320 90h10.5v10.5h-10.5zM310 100h10.5v10.5h-10.5zM130 110h10.5v10.5h-10.5zM300 110h10.5v10.5h-10.5zM290 120h10.5v10.5h-10.5zM160 130h10.5v10.5h-10.5zM180 140h10.5v10.5h-10.5zM250 150h10.5v10.5h-10.5zM230 300h10.5v10.5h-10.5zM270 300h10.5v10.5h-10.5zM210 310h10.5v10.5h-10.5zM350 350h10.5v10.5h-10.5zM110 410h10.5v10.5h-10.5zM450 430h10.5v10.5h-10.5zM440 440h10.5v10.5h-10.5zM460 450h20.5v10.5h-20.5zM90 460h10.5v10.5h-10.5zM440 460h10.5v10.5h-10.5zM460 460h10.5v10.5h-10.5zM440 470h10.5v10.5h-10.5zM460 470h10.5v10.5h-10.5z"/>
<path fill="#6f6f6f" d="M370 0h10.5v10.5h-10.5zM370 10h10.5v10.5h-10.5zM360 40h10.5v10.5h-10.5zM330 80h10.5v10.5h-10.5zM100 90h10.5v10.5h-10.5zM280 130h10.5v10.5h-10.5zM200 150h10.5v10.5h-10.5zM310 320h10.5v10.5h-10.5zM160 350h10.5v10.5h-10.5zM460 430h20.5v10.5h-20.5zM90 450h10.5v10.5h-10.5zM440 450h10.5v10.5h-10.5zM90 470h10.5v10.5h-10.5z"/>
<path fill="#707070" d="M50 50h10.5v10.5h-10.5zM340 70h10.5v10.5h-10.5zM140 120h10.5v10.5h-10.5zM270 140h10.5v10.5h-10.5zM190 150h10.5v10.5h-10.5zM220 160h30.5v10.5h-30.5zM220 300h10.5v10.5h-10.5zM280 300h10.5v10.5h-10.5zM180 330h10.5v10.5h-10.5zM170 340h10.5v10.5h-10.5zM340 340h10.5v10.5h-10.5zM150 360h10.5v10.5h-10.5zM140 370h10.5v10.5h-10.5zM400 390h10.5v10.5h-10.5zM410 400h10.5v10.5h-10.5zM420 410h10.5v10.5h-10.5zM100 420h10.5v10.5h-10.5zM440 430h10.5v10.5h-10.5z"/>
<path fill="#717171" d="M370 30h10.5v10.5h-10.5zM60 60h10.5v10.5h-10.5zM110 100h10.5v10.5h-10.5zM170 140h10.5v10.5h-10.5zM260 150h10.5v10.5h-10.5zM210 160h10.5v10.5h-10.5zM240 290h20.5v10.5h-20.5zM200 310h10.5v10.5h-10.5zM300 310h10.5v10.5h-10.5zM190 320h10.5v10.5h-10.5zM130 380h10.5v10.5h-10.5zM430 420h10.5v10.5h-10.5zM90 430h10.5v10.5h-10.5z"/>
<path fill="#727272" d="M350 60h10.5v10.5h-10.5zM70 70h10.5v10.5h-10.5zM120 110h10.5v10.5h-10.5zM150 130h10.5v10.5h-10.5zM250 160h10.5v10.5h-10.5zM230 290h10.5v10.5h-10.5zM260 290h10.5v10.5h-10.5zM330 330h10.5v10.5h-10.5zM390 380h10.5v10.5h-10.5z"/>
<path fill="#737373" d="M300 120h10.5v10.5h-10.5zM290 130h10.5v10.5h-10.5zM280 140h10.5v10.5h-10.5zM180 150h10.5v10.5h-10.5zM200 160h10.5v10.5h-10.5zM230 170h20.5v10.5h-20.5zM270 290h10.5v10.5h-10.5zM210 300h10.5v10.5h-10.5zM380 370h10.5v10.5h-10.5zM120 390h10.5v10.5h-10.5zM450 420h30.5v10.5h-30.5z"/>
<path fill="#747474" d="M30 40h10.5v10.5h-10.5zM40 50h10.5v10.5h-10.5zM80 80h10.5v10.5h-10.5zM320 100h10.5v10.5h-10.5zM310 110h10.5v10.5h-10.5zM130 120h10.5v10.5h-10.5zM160 140h10.5v10.5h-10.5zM270 150h10.5v10.5h-10.5zM190 160h10.5v10.5h-10.5zM260 160h10.5v10.5h-10.5zM220 170h10.5v10.5h-10.5zM220 290h10.5v10.5h-10.5zM290 300h10.5v10.5h-10.5zM320 320h10.5v10.5h-10.5zM370 360h10.5v10.5h-10.5zM110 400h10.5v10.5h-10.5zM420 400h10.5v10.5h-10.5zM440 420h10.5v10.5h-10.5z"/>
<path fill="#757575" d="M0 40h20.5v10.5h-20.5zM360 50h10.5v10.5h-10.5zM90 90h10.5v10.5h-10.5zM330 90h10.5v10.5h-10.5zM170 150h10.5v10.5h-10.5zM210 170h10.5v10.5h-10.5zM250 170h10.5v10.5h-10.5zM250 280h10.5v10.5h-10.5zM190 310h10.5v10.5h-10.5zM180 320h10.5v10.5h-10.5zM170 330h10.5v10.5h-10.5zM160 340h10.5v10.5h-10.5zM360 350h10.5v10.5h-10.5zM100 410h10.5v10.5h-10.5zM430 410h10.5v10.5h-10.5zM80 440h10.5v10.5h-10.5z"/>
<path fill="#767676" d="M380 20h10.5v10.5h-10.5zM20 40h10.5v10.5h-10.5zM50 60h10.5v10.5h-10.5zM100 100h10.5v10.5h-10.5zM140 130h10.5v10.5h-10.5zM200 170h10.5v10.5h-10.5zM230 280h20.5v10.5h-20.5zM260 280h10.5v10.5h-10.5zM280 290h10.5v10.5h-10.5zM200 300h10.5v10.5h-10.5zM310 310h10.5v10.5h-10.5zM150 350h10.5v10.5h-10.5zM140 360h10.5v10.5h-10.5zM410 390h10.5v10.5h-10.5zM80 460h10.5v10.5h-10.5z"/>
<path fill="#777777" d="M380 0h10.5v10.5h-10.5zM380 10h10.5v10.5h-10.5zM60 70h10.5v10.5h-10.5zM340 80h10.5v10.5h-10.5zM180 160h10.5v10.5h-10.5zM270 160h10.5v10.5h-10.5zM260 170h10.5v10.5h-10.5zM220 180h30.5v10.5h-30.5zM210 290h10.5v10.5h-10.5zM350 340h10.5v10.5h-10.5zM130 370h10.5v10.5h-10.5zM450 410h30.5v10.5h-30.5zM80 450h10.5v10.5h-10.5zM80 470h10.5v10.5h-10.5z"/>
<path fill="#787878" d="M380 30h10.5v10.5h-10.5zM370 40h10.5v10.5h-10.5zM110 110h10.5v10.5h-10.5zM150 140h10.5v10.5h-10.5zM290 140h10.5v10.5h-10.5zM280 150h10.5v10.5h-10.5zM190 170h10.5v10.5h-10.5zM210 180h10.5v10.5h-10.5zM250 180h10.5v10.5h-10.5zM220 280h10.5v10.5h-10.5zM270 280h10.5v10.5h-10.5zM300 300h10.5v10.5h-10.5zM400 380h10.5v10.5h-10.5zM440 410h10.5v10.5h-10.5zM90 420h10.5v10.5h-10.5z"/>
<path fill="#797979" d="M350 70h10.5v10.5h-10.5zM70 80h10.5v10.5h-10.5zM120 120h10.5v10.5h-10.5zM310 120h10.5v10.5h-10.5zM300 130h10.5v10.5h-10.5zM160 150h10.5v10.5h-10.5zM240 270h20.5v10.5h-20.5zM290 290h10.5v10.5h-10.5zM190 300h10.5v10.5h-10.5zM340 330h10.5v10.5h-10.5zM120 380h10.5v10.5h-10.5zM80 430h10.5v10.5h-10.5z"/>
<path fill="#7a7a7a" d="M30 50h10.5v10.5h-10.5zM80 90h10.5v10.5h-10.5zM320 110h10.5v10.5h-10.5zM170 160h10.5v10.5h-10.5zM270 170h10.5v10.5h-10.5zM200 180h10.5v10.5h-10.5zM260 180h10.5v10.5h-10.5zM220 190h30.5v10.5h-30.5zM230 270h10.5v10.5h-10.5zM260 270h10.5v10.5h-10.5zM210 280h10.5v10.5h-10.5zM280 280h10.5v10.5h-10.5zM200 290h10.5v10.5h-10.5zM180 310h10.5v10.5h-10.5zM170 320h10.5v10.5h-10.5zM390 370h10.5v10.5h-10.5zM110 390h10.5v10.5h-10.5zM430 400h10.5v10.5h-10.5z"/>
<path fill="#7b7b7b" d="M0 50h20.5v10.5h-20.5zM40 60h10.5v10.5h-10.5zM360 60h10.5v10.5h-10.5zM130 130h10.5v10.5h-10.5zM280 160h10.5v10.5h-10.5zM180 170h10.5v10.5h-10.5zM250 190h10.5v10.5h-10.5zM330 320h10.5v10.5h-10.5zM160 330h10.5v10.5h-10.5zM150 340h10.5v10.5h-10.5zM380 360h10.5v10.5h-10.5zM420 390h10.5v10.5h-10.5z"/>
<path fill="#7c7c7c" d="M20 50h10.5v10.5h-10.5zM90 100h10.5v10.5h-10.5zM330 100h10.5v10.5h-10.5zM140 140h10.5v10.5h-10.5zM290 150h10.5v10.5h-10.5zM190 180h10.5v10.5h-10.5zM210 190h10.5v10.5h-10.5zM220 270h10.5v10.5h-10.5zM270 270h10.5v10.5h-10.5zM320 310h10.5v10.5h-10.5zM140 350h10.5v10.5h-10.5zM100 400h10.5v10.5h-10.5zM450 400h30.5v10.5h-30.5z"/>
<path fill="#7d7d7d" d="M390 20h10.5v10.5h-10.5zM370 50h10.5v10.5h-10.5zM50 70h10.5v10.5h-10.5zM340 90h10.5v10.5h-10.5zM100 110h10.5v10.5h-10.5zM300 140h10.5v10.5h-10.5zM150 150h10.5v10.5h-10.5zM270 180h10.5v10.5h-10.5zM200 190h10.5v10.5h-10.5zM260 190h10.5v10.5h-10.5zM220 200h30.5v10.5h-30.5zM230 260h40.5v10.5h-40.5zM200 280h10.5v10.5h-10.5zM190 290h10.5v10.5h-10.5zM310 300h10.5v10.5h-10.5zM370 350h10.5v10.5h-10.5zM410 380h10.5v10.5h-10.5zM440 400h10.5v10.5h-10.5z"/>
<path fill="#7e7e7e" d="M390 0h10.5v10.5h-10.5zM60 80h10.5v10.5h-10.5zM160 160h10.5v10.5h-10.5zM170 170h10.5v10.5h-10.5zM280 170h10.5v10.5h-10.5zM250 200h10.5v10.5h-10.5zM210 270h10.5v10.5h-10.5zM280 270h10.5v10.5h-10.5zM290 280h10.5v10.5h-10.5zM300 290h10.5v10.5h-10.5zM180 300h10.5v10.5h-10.5zM130 360h10.5v10.5h-10.5zM90 410h10.5v10.5h-10.5zM70 440h10.5v10.5h-10.5z"/>
<path fill="#7f7f7f" d="M390 10h10.5v10.5h-10.5zM350 80h10.5v10.5h-10.5zM110 120h10.5v10.5h-10.5zM310 130h10.5v10.5h-10.5zM180 180h10.5v10.5h-10.5zM190 190h10.5v10.5h-10.5zM210 200h10.5v10.5h-10.5zM260 200h10.5v10.5h-10.5zM230 210h20.5v10.5h-20.5zM240 250h20.5v10.5h-20.5zM220 260h10.5v10.5h-10.5zM270 260h10.5v10.5h-10.5zM170 310h10.5v10.5h-10.5zM360 340h10.5v10.5h-10.5zM120 370h10.5v10.5h-10.5zM70 450h10.5v10.5h-10.5zM70 460h10.5v10.5h-10.5zM70 470h10.5v10.5h-10.5z"/>
<path fill="#808080" d="M390 30h10.5v10.5h-10.5zM380 40h10.5v10.5h-10.5zM70 90h10.5v10.5h-10.5zM320 120h10.5v10.5h-10.5zM120 130h10.5v10.5h-10.5zM290 160h10.5v10.5h-10.5zM270 190h10.5v10.5h-10.5zM200 200h10.5v10.5h-10.5zM220 210h10.5v10.5h-10.5zM250 210h10.5v10.5h-10.5zM230 250h10.5v10.5h-10.5zM260 250h10.5v10.5h-10.5zM210 260h10.5v10.5h-10.5zM200 270h10.5v10.5h-10.5zM160 320h10.5v10.5h-10.5zM400 370h10.5v10.5h-10.5zM80 420h10.5v10.5h-10.5z"/>
<path fill="#818181" d="M30 60h10.5v10.5h-10.5zM40 70h10.5v10.5h-10.5zM360 70h10.5v10.5h-10.5zM130 140h10.5v10.5h-10.5zM280 180h10.5v10.5h-10.5zM210 210h10.5v10.5h-10.5zM260 210h10.5v10.5h-10.5zM230 220h30.5v10.5h-30.5zM240 240h30.5v10.5h-30.5zM220 250h10.5v10.5h-10.5zM270 250h10.5v10.5h-10.5zM280 260h10.5v10.5h-10.5zM190 280h10.5v10.5h-10.5zM150 330h10.5v10.5h-10.5zM350 330h10.5v10.5h-10.5zM110 380h10.5v10.5h-10.5zM430 390h10.5v10.5h-10.5zM70 430h10.5v10.5h-10.5z"/>
<path fill="#828282" d="M0 60h20.5v10.5h-20.5zM80 100h10.5v10.5h-10.5zM330 110h10.5v10.5h-10.5zM140 150h10.5v10.5h-10.5zM300 150h10.5v10.5h-10.5zM150 160h10.5v10.5h-10.5zM160 170h10.5v10.5h-10.5zM170 180h10.5v10.5h-10.5zM180 190h10.5v10.5h-10.5zM270 200h10.5v10.5h-10.5zM220 220h10.5v10.5h-10.5zM260 220h10.5v10.5h-10.5zM240 230h30.5v10.5h-30.5zM230 240h10.5v10.5h-10.5zM290 270h10.5v10.5h-10.5zM180 290h10.5v10.5h-10.5zM340 320h10.5v10.5h-10.5zM140 340h10.5v10.5h-10.5zM450 390h10.5v10.5h-10.5z"/>
<path fill="#838383" d="M20 60h10.5v10.5h-10.5zM90 110h10.5v10.5h-10.5zM290 170h10.5v10.5h-10.5zM190 200h10.5v10.5h-10.5zM200 210h10.5v10.5h-10.5zM270 210h10.5v10.5h-10.5zM210 220h10.5v10.5h-10.5zM220 230h20.5v10.5h-20.5zM270 230h10.5v10.5h-10.5zM220 240h10.5v10.5h-10.5zM270 240h10.5v10.5h-10.5zM210 250h10.5v10.5h-10.5zM200 260h10.5v10.5h-10.5zM300 280h10.5v10.5h-10.5zM170 300h10.5v10.5h-10.5zM330 310h10.5v10.5h-10.5zM390 360h10.5v10.5h-10.5zM420 380h10.5v10.5h-10.5zM100 390h10.5v10.5h-10.5zM460 390h20.5v10.5h-20.5z"/>
<path fill="#848484" d="M370 60h10.5v10.5h-10.5zM50 80h10.5v10.5h-10.5zM340 100h10.5v10.5h-10.5zM310 140h10.5v10.5h-10.5zM280 190h10.5v10.5h-10.5zM270 220h10.5v10.5h-10.5zM210 230h10.5v10.5h-10.5zM210 240h10.5v10.5h-10.5zM280 250h10.5v10.5h-10.5zM190 270h10.5v10.5h-10.5zM310 290h10.5v10.5h-10.5zM320 300h10.5v10.5h-10.5zM130 350h10.5v10.5h-10.5zM440 390h10.5v10.5h-10.5zM90 400h10.5v10.5h-10.5z"/>
<path fill="#858585" d="M400 20h10.5v10.5h-10.5zM100 120h10.5v10.5h-10.5zM280 200h10.5v10.5h-10.5zM190 210h10.5v10.5h-10.5zM200 220h10.5v10.5h-10.5zM280 240h10.5v10.5h-10.5zM200 250h10.5v10.5h-10.5zM180 280h10.5v10.5h-10.5zM160 310h10.5v10.5h-10.5zM380 350h10.5v10.5h-10.5z"/>
<path fill="#868686" d="M400 0h10.5v10.5h-10.5zM380 50h10.5v10.5h-10.5zM60 90h10.5v10.5h-10.5zM350 90h10.5v10.5h-10.5zM110 130h10.5v10.5h-10.5zM320 130h10.5v10.5h-10.5zM300 160h10.5v10.5h-10.5zM290 180h10.5v10.5h-10.5zM170 190h10.5v10.5h-10.5zM180 200h10.5v10.5h-10.5zM280 210h10.5v10.5h-10.5zM200 230h10.5v10.5h-10.5zM280 230h10.5v10.5h-10.5zM200 240h10.5v10.5h-10.5zM190 260h10.5v10.5h-10.5zM290 260h10.5v10.5h-10.5zM120 360h10.5v10.5h-10.5zM410 370h10.5v10.5h-10.5zM80 410h10.5v10.5h-10.5zM60 440h10.5v10.5h-10.5z"/>
<path fill="#878787" d="M400 10h10.5v10.5h-10.5zM120 140h10.5v10.5h-10.5zM130 150h10.5v10.5h-10.5zM140 160h10.5v10.5h-10.5zM150 170h10.5v10.5h-10.5zM160 180h10.5v10.5h-10.5zM190 220h10.5v10.5h-10.5zM280 220h10.5v10.5h-10.5zM170 290h10.5v10.5h-10.5zM150 320h10.5v10.5h-10.5zM370 340h10.5v10.5h-10.5zM60 450h10.5v10.5h-10.5zM60 460h10.5v10.5h-10.5zM60 470h10.5v10.5h-10.5z"/>
<path fill="#888888" d="M400 30h10.5v10.5h-10.5zM390 40h10.5v10.5h-10.5zM30 70h10.5v10.5h-10.5zM40 80h10.5v10.5h-10.5zM360 80h10.5v10.5h-10.5zM70 100h10.5v10.5h-10.5zM330 120h10.5v10.5h-10.5zM310 150h10.5v10.5h-10.5zM290 190h10.5v10.5h-10.5zM180 210h10.5v10.5h-10.5zM190 230h10.5v10.5h-10.5zM190 250h10.5v10.5h-10.5zM290 250h10.5v10.5h-10.5zM180 270h10.5v10.5h-10.5zM300 270h10.5v10.5h-10.5zM140 330h10.5v10.5h-10.5zM110 370h10.5v10.5h-10.5zM70 420h10.5v10.5h-10.5z"/>
<path fill="#898989" d="M0 70h20.5v10.5h-20.5zM300 170h10.5v10.5h-10.5zM170 200h10.5v10.5h-10.5zM190 240h10.5v10.5h-10.5zM290 240h10.5v10.5h-10.5zM310 280h10.5v10.5h-10.5zM160 300h10.5v10.5h-10.5zM360 330h10.5v10.5h-10.5zM430 380h10.5v10.5h-10.5zM60 430h10.5v10.5h-10.5z"/>
<path fill="#8a8a8a" d="M20 70h10.5v10.5h-10.5zM370 70h10.5v10.5h-10.5zM80 110h10.5v10.5h-10.5zM340 110h10.5v10.5h-10.5zM290 200h10.5v10.5h-10.5zM180 220h10.5v10.5h-10.5zM290 230h10.5v10.5h-10.5zM180 260h10.5v10.5h-10.5zM170 280h10.5v10.5h-10.5zM130 340h10.5v10.5h-10.5zM400 360h10.5v10.5h-10.5zM100 380h10.5v10.5h-10.5z"/>
<path fill="#8b8b8b" d="M50 90h10.5v10.5h-10.5zM90 120h10.5v10.5h-10.5zM320 140h10.5v10.5h-10.5zM160 190h10.5v10.5h-10.5zM290 210h10.5v10.5h-10.5zM290 220h10.5v10.5h-10.5zM180 250h10.5v10.5h-10.5zM300 260h10.5v10.5h-10.5zM320 290h10.5v10.5h-10.5zM330 300h10.5v10.5h-10.5zM340 310h10.5v10.5h-10.5zM350 320h10.5v10.5h-10.5zM450 380h10.5v10.5h-10.5zM90 390h10.5v10.5h-10.5z"/>
<path fill="#8c8c8c" d="M350 100h10.5v10.5h-10.5zM100 130h10.5v10.5h-10.5zM310 160h10.5v10.5h-10.5zM150 180h10.5v10.5h-10.5zM300 180h10.5v10.5h-10.5zM170 210h10.5v10.5h-10.5zM180 230h10.5v10.5h-10.5zM180 240h10.5v10.5h-10.5zM150 310h10.5v10.5h-10.5zM120 350h10.5v10.5h-10.5zM420 370h10.5v10.5h-10.5zM460 380h20.5v10.5h-20.5z"/>
<path fill="#8d8d8d" d="M380 60h10.5v10.5h-10.5zM330 130h10.5v10.5h-10.5zM110 140h10.5v10.5h-10.5zM130 160h10.5v10.5h-10.5zM140 170h10.5v10.5h-10.5zM170 270h10.5v10.5h-10.5zM390 350h10.5v10.5h-10.5zM440 380h10.5v10.5h-10.5zM80 400h10.5v10.5h-10.5z"/>
<path fill="#8e8e8e" d="M410 20h10.5v10.5h-10.5zM360 90h10.5v10.5h-10.5zM60 100h10.5v10.5h-10.5zM120 150h10.5v10.5h-10.5zM300 190h10.5v10.5h-10.5zM160 200h10.5v10.5h-10.5zM170 220h10.5v10.5h-10.5zM300 250h10.5v10.5h-10.5zM310 270h10.5v10.5h-10.5zM160 290h10.5v10.5h-10.5zM140 320h10.5v10.5h-10.5zM110 360h10.5v10.5h-10.5zM50 440h10.5v10.5h-10.5z"/>
<path fill="#8f8f8f" d="M410 0h10.5v10.5h-10.5zM390 50h10.5v10.5h-10.5zM30 80h10.5v10.5h-10.5zM300 240h10.5v10.5h-10.5zM170 260h10.5v10.5h-10.5zM380 340h10.5v10.5h-10.5zM70 410h10.5v10.5h-10.5zM50 460h10.5v10.5h-10.5zM50 470h10.5v10.5h-10.5z"/>
<path fill="#909090" d="M410 10h10.5v10.5h-10.5zM10 80h10.5v10.5h-10.5zM40 90h10.5v10.5h-10.5zM70 110h10.5v10.5h-10.5zM340 120h10.5v10.5h-10.5zM320 150h10.5v10.5h-10.5zM310 170h10.5v10.5h-10.5zM150 190h10.5v10.5h-10.5zM300 200h10.5v10.5h-10.5zM170 230h10.5v10.5h-10.5zM300 230h10.5v10.5h-10.5zM170 240h10.5v10.5h-10.5zM170 250h10.5v10.5h-10.5zM50 450h10.5v10.5h-10.5z"/>
<path fill="#919191" d="M410 30h10.5v10.5h-10.5zM400 40h10.5v10.5h-10.5zM0 80h10.5v10.5h-10.5zM20 80h10.5v10.5h-10.5zM370 80h10.5v10.5h-10.5zM160 210h10.5v10.5h-10.5zM300 210h10.5v10.5h-10.5zM300 220h10.5v10.5h-10.5zM160 280h10.5v10.5h-10.5zM320 280h10.5v10.5h-10.5zM150 300h10.5v10.5h-10.5zM130 330h10.5v10.5h-10.5zM410 360h10.5v10.5h-10.5zM100 370h10.5v10.5h-10.5zM60 420h10.5v10.5h-10.5z"/>
<path fill="#929292" d="M80 120h10.5v10.5h-10.5zM140 180h10.5v10.5h-10.5zM310 260h10.5v10.5h-10.5zM370 330h10.5v10.5h-10.5zM50 430h10.5v10.5h-10.5z"/>
<path fill="#939393" d="M380 70h10.5v10.5h-10.5zM350 110h10.5v10.5h-10.5zM90 130h10.5v10.5h-10.5zM330 140h10.5v10.5h-10.5zM130 170h10.5v10.5h-10.5zM310 180h10.5v10.5h-10.5zM160 220h10.5v10.5h-10.5zM160 270h10.5v10.5h-10.5zM330 290h10.5v10.5h-10.5zM360 320h10.5v10.5h-10.5zM120 340h10.5v10.5h-10.5zM430 370h10.5v10.5h-10.5zM90 380h10.5v10.5h-10.5z"/>
<path fill="#949494" d="M50 100h10.5v10.5h-10.5zM100 140h10.5v10.5h-10.5zM120 160h10.5v10.5h-10.5zM320 160h10.5v10.5h-10.5zM150 200h10.5v10.5h-10.5zM340 300h10.5v10.5h-10.5zM140 310h10.5v10.5h-10.5zM350 310h10.5v10.5h-10.5zM400 350h10.5v10.5h-10.5zM80 390h10.5v10.5h-10.5z"/>
<path fill="#959595" d="M360 100h10.5v10.5h-10.5zM110 150h10.5v10.5h-10.5zM160 230h10.5v10.5h-10.5zM310 250h10.5v10.5h-10.5zM160 260h10.5v10.5h-10.5zM150 290h10.5v10.5h-10.5zM450 370h30.5v10.5h-30.5zM40 440h10.5v10.5h-10.5z"/>
<path fill="#969696" d="M420 20h10.5v10.5h-10.5zM390 60h10.5v10.5h-10.5zM60 110h10.5v10.5h-10.5zM340 130h10.5v10.5h-10.5zM310 190h10.5v10.5h-10.5zM160 240h10.5v10.5h-10.5zM160 250h10.5v10.5h-10.5zM320 270h10.5v10.5h-10.5zM110 350h10.5v10.5h-10.5zM420 360h10.5v10.5h-10.5zM70 400h10.5v10.5h-10.5zM40 460h10.5v10.5h-10.5z"/>
<path fill="#979797" d="M420 0h10.5v10.5h-10.5zM420 10h10.5v10.5h-10.5zM400 50h10.5v10.5h-10.5zM30 90h10.5v10.5h-10.5zM140 190h10.5v10.5h-10.5zM310 200h10.5v10.5h-10.5zM150 210h10.5v10.5h-10.5zM310 240h10.5v10.5h-10.5zM130 320h10.5v10.5h-10.5zM440 370h10.5v10.5h-10.5zM60 410h10.5v10.5h-10.5zM40 450h10.5v10.5h-10.5zM40 470h10.5v10.5h-10.5z"/>
<path fill="#989898" d="M0 90h20.5v10.5h-20.5zM370 90h10.5v10.5h-10.5zM330 150h10.5v10.5h-10.5zM320 170h10.5v10.5h-10.5zM310 210h10.5v10.5h-10.5zM310 220h10.5v10.5h-10.5zM310 230h10.5v10.5h-10.5zM150 280h10.5v10.5h-10.5zM390 340h10.5v10.5h-10.5zM100 360h10.5v10.5h-10.5z"/>
<path fill="#999999" d="M420 30h10.5v10.5h-10.5zM410 40h10.5v10.5h-10.5zM20 90h10.5v10.5h-10.5zM40 100h10.5v10.5h-10.5zM70 120h10.5v10.5h-10.5zM350 120h10.5v10.5h-10.5zM130 180h10.5v10.5h-10.5zM330 280h10.5v10.5h-10.5zM140 300h10.5v10.5h-10.5zM50 420h10.5v10.5h-10.5zM40 430h10.5v10.5h-10.5z"/>
<path fill="#9a9a9a" d="M380 80h10.5v10.5h-10.5zM150 220h10.5v10.5h-10.5zM320 260h10.5v10.5h-10.5zM380 330h10.5v10.5h-10.5z"/>
<path fill="#9b9b9b" d="M80 130h10.5v10.5h-10.5zM90 140h10.5v10.5h-10.5zM340 140h10.5v10.5h-10.5zM120 170h10.5v10.5h-10.5zM320 180h10.5v10.5h-10.5zM140 200h10.5v10.5h-10.5zM150 230h10.5v10.5h-10.5zM150 270h10.5v10.5h-10.5zM120 330h10.5v10.5h-10.5zM90 370h10.5v10.5h-10.5z"/>
<path fill="#9c9c9c" d="M390 70h10.5v10.5h-10.5zM360 110h10.5v10.5h-10.5zM100 150h10.5v10.5h-10.5zM110 160h10.5v10.5h-10.5zM150 240h10.5v10.5h-10.5zM150 260h10.5v10.5h-10.5zM340 290h10.5v10.5h-10.5zM370 320h10.5v10.5h-10.5zM410 350h10.5v10.5h-10.5zM80 380h10.5v10.5h-10.5z"/>
<path fill="#9d9d9d" d="M50 110h10.5v10.5h-10.5zM330 160h10.5v10.5h-10.5zM150 250h10.5v10.5h-10.5zM320 250h10.5v10.5h-10.5zM350 300h10.5v10.5h-10.5zM130 310h10.5v10.5h-10.5zM360 310h10.5v10.5h-10.5zM110 340h10.5v10.5h-10.5z"/>
<path fill="#9e9e9e" d="M370 100h10.5v10.5h-10.5zM130 190h10.5v10.5h-10.5zM320 190h10.5v10.5h-10.5zM140 210h10.5v10.5h-10.5zM140 290h10.5v10.5h-10.5zM430 360h10.5v10.5h-10.5zM70 390h10.5v10.5h-10.5z"/>
<path fill="#9f9f9f" d="M430 20h10.5v10.5h-10.5zM400 60h10.5v10.5h-10.5zM30 100h10.5v10.5h-10.5zM60 120h10.5v10.5h-10.5zM350 130h10.5v10.5h-10.5zM320 240h10.5v10.5h-10.5zM330 270h10.5v10.5h-10.5zM100 350h10.5v10.5h-10.5zM450 360h10.5v10.5h-10.5zM60 400h10.5v10.5h-10.5zM30 440h10.5v10.5h-10.5z"/>
<path fill="#a0a0a0" d="M430 0h10.5v10.5h-10.5zM430 10h10.5v10.5h-10.5zM410 50h10.5v10.5h-10.5zM320 200h10.5v10.5h-10.5zM400 340h10.5v10.5h-10.5zM460 360h20.5v10.5h-20.5zM50 410h10.5v10.5h-10.5zM40 420h10.5v10.5h-10.5zM30 460h10.5v10.5h-10.5zM30 470h10.5v10.5h-10.5z"/>
<path fill="#a1a1a1" d="M450 20h10.5v10.5h-10.5zM420 40h10.5v10.5h-10.5zM380 90h10.5v10.5h-10.5zM0 100h20.5v10.5h-20.5zM340 150h10.5v10.5h-10.5zM330 170h10.5v10.5h-10.5zM120 180h10.5v10.5h-10.5zM320 210h10.5v10.5h-10.5zM140 220h10.5v10.5h-10.5zM320 220h10.5v10.5h-10.5zM320 230h10.5v10.5h-10.5zM140 280h10.5v10.5h-10.5zM120 320h10.5v10.5h-10.5zM440 360h10.5v10.5h-10.5zM0 440h20.5v10.5h-20.5zM30 450h10.5v10.5h-10.5z"/>
<path fill="#a2a2a2" d="M450 0h10.5v10.5h-10.5zM460 20h20.5v10.5h-20.5zM430 30h10.5v10.5h-10.5zM20 100h10.5v10.5h-10.5zM40 110h10.5v10.5h-10.5zM360 120h10.5v10.5h-10.5zM70 130h10.5v10.5h-10.5zM420 350h10.5v10.5h-10.5zM20 440h10.5v10.5h-10.5zM10 450h10.5v10.5h-10.5zM0 460h20.5v10.5h-20.5zM10 470h10.5v10.5h-10.5z"/>
<path fill="#a3a3a3" d="M460 0h20.5v10.5h-20.5zM450 10h30.5v10.5h-30.5zM440 20h10.5v10.5h-10.5zM390 80h10.5v10.5h-10.5zM110 170h10.5v10.5h-10.5zM130 200h10.5v10.5h-10.5zM330 260h10.5v10.5h-10.5zM340 280h10.5v10.5h-10.5zM130 300h10.5v10.5h-10.5zM390 330h10.5v10.5h-10.5zM90 360h10.5v10.5h-10.5zM30 430h10.5v10.5h-10.5zM0 450h10.5v10.5h-10.5zM20 460h10.5v10.5h-10.5zM0 470h10.5v10.5h-10.5z"/>
<path fill="#a4a4a4" d="M440 0h10.5v10.5h-10.5zM450 30h10.5v10.5h-10.5zM80 140h10.5v10.5h-10.5zM90 150h10.5v10.5h-10.5zM330 180h10.5v10.5h-10.5zM140 230h10.5v10.5h-10.5zM140 270h10.5v10.5h-10.5zM10 430h10.5v10.5h-10.5zM20 450h10.5v10.5h-10.5zM20 470h10.5v10.5h-10.5z"/>
<path fill="#a5a5a5" d="M440 10h10.5v10.5h-10.5zM460 30h20.5v10.5h-20.5zM400 70h10.5v10.5h-10.5zM370 110h10.5v10.5h-10.5zM350 140h10.5v10.5h-10.5zM100 160h10.5v10.5h-10.5zM140 240h10.5v10.5h-10.5zM140 250h10.5v10.5h-10.5zM140 260h10.5v10.5h-10.5zM110 330h10.5v10.5h-10.5zM80 370h10.5v10.5h-10.5zM0 430h10.5v10.5h-10.5z"/>
<path fill="#a6a6a6" d="M440 30h10.5v10.5h-10.5zM50 120h10.5v10.5h-10.5zM340 160h10.5v10.5h-10.5zM350 290h10.5v10.5h-10.5zM380 320h10.5v10.5h-10.5zM70 380h10.5v10.5h-10.5zM60 390h10.5v10.5h-10.5zM20 430h10.5v10.5h-10.5z"/>
<path fill="#a7a7a7" d="M420 50h10.5v10.5h-10.5zM410 60h10.5v10.5h-10.5zM120 190h10.5v10.5h-10.5zM330 190h10.5v10.5h-10.5zM130 210h10.5v10.5h-10.5zM330 250h10.5v10.5h-10.5zM360 300h10.5v10.5h-10.5zM370 310h10.5v10.5h-10.5zM50 400h10.5v10.5h-10.5zM40 410h10.5v10.5h-10.5z"/>
<path fill="#a8a8a8" d="M380 100h10.5v10.5h-10.5zM360 130h10.5v10.5h-10.5zM130 290h10.5v10.5h-10.5zM120 310h10.5v10.5h-10.5zM100 340h10.5v10.5h-10.5zM410 340h10.5v10.5h-10.5z"/>
<path fill="#a9a9a9" d="M30 110h10.5v10.5h-10.5zM330 240h10.5v10.5h-10.5zM340 270h10.5v10.5h-10.5z"/>
<path fill="#aaaaaa" d="M430 40h10.5v10.5h-10.5zM390 90h10.5v10.5h-10.5zM10 110h10.5v10.5h-10.5zM60 130h10.5v10.5h-10.5zM110 180h10.5v10.5h-10.5zM330 200h10.5v10.5h-10.5zM430 350h10.5v10.5h-10.5zM30 420h10.5v10.5h-10.5z"/>
<path fill="#ababab" d="M0 110h10.5v10.5h-10.5zM350 150h10.5v10.5h-10.5zM340 170h10.5v10.5h-10.5zM330 210h10.5v10.5h-10.5zM130 220h10.5v10.5h-10.5zM330 220h10.5v10.5h-10.5zM330 230h10.5v10.5h-10.5zM90 350h10.5v10.5h-10.5zM450 350h10.5v10.5h-10.5z"/>
<path fill="#acacac" d="M450 40h10.5v10.5h-10.5zM400 80h10.5v10.5h-10.5zM20 110h10.5v10.5h-10.5zM40 120h10.5v10.5h-10.5zM370 120h10.5v10.5h-10.5zM70 140h10.5v10.5h-10.5zM130 280h10.5v10.5h-10.5zM400 330h10.5v10.5h-10.5zM460 350h20.5v10.5h-20.5zM0 420h20.5v10.5h-20.5z"/>
<path fill="#adadad" d="M460 40h20.5v10.5h-20.5zM80 150h10.5v10.5h-10.5zM100 170h10.5v10.5h-10.5zM120 200h10.5v10.5h-10.5zM130 230h10.5v10.5h-10.5zM340 260h10.5v10.5h-10.5zM350 280h10.5v10.5h-10.5zM110 320h10.5v10.5h-10.5zM440 350h10.5v10.5h-10.5zM20 420h10.5v10.5h-10.5z"/>
<path fill="#aeaeae" d="M440 40h10.5v10.5h-10.5zM420 60h10.5v10.5h-10.5zM410 70h10.5v10.5h-10.5zM380 110h10.5v10.5h-10.5zM90 160h10.5v10.5h-10.5zM130 270h10.5v10.5h-10.5zM120 300h10.5v10.5h-10.5zM80 360h10.5v10.5h-10.5zM40 400h10.5v10.5h-10.5z"/>
<path fill="#afafaf" d="M360 140h10.5v10.5h-10.5zM340 180h10.5v10.5h-10.5zM130 240h10.5v10.5h-10.5zM390 320h10.5v10.5h-10.5zM420 340h10.5v10.5h-10.5zM70 370h10.5v10.5h-10.5zM60 380h10.5v10.5h-10.5zM50 390h10.5v10.5h-10.5z"/>
<path fill="#b0b0b0" d="M430 50h10.5v10.5h-10.5zM350 160h10.5v10.5h-10.5zM130 250h10.5v10.5h-10.5zM130 260h10.5v10.5h-10.5zM360 290h10.5v10.5h-10.5zM30 410h10.5v10.5h-10.5z"/>
<path fill="#b1b1b1" d="M390 100h10.5v10.5h-10.5zM50 130h10.5v10.5h-10.5zM110 190h10.5v10.5h-10.5zM120 210h10.5v10.5h-10.5zM340 250h10.5v10.5h-10.5zM370 300h10.5v10.5h-10.5zM380 310h10.5v10.5h-10.5zM100 330h10.5v10.5h-10.5z"/>
<path fill="#b2b2b2" d="M450 50h10.5v10.5h-10.5zM470 50h10.5v10.5h-10.5zM400 90h10.5v10.5h-10.5zM370 130h10.5v10.5h-10.5zM340 190h10.5v10.5h-10.5zM0 410h20.5v10.5h-20.5z"/>
<path fill="#b3b3b3" d="M460 50h10.5v10.5h-10.5zM350 270h10.5v10.5h-10.5zM120 290h10.5v10.5h-10.5zM20 410h10.5v10.5h-10.5z"/>
<path fill="#b4b4b4" d="M440 50h10.5v10.5h-10.5zM410 80h10.5v10.5h-10.5zM30 120h10.5v10.5h-10.5zM60 140h10.5v10.5h-10.5zM100 180h10.5v10.5h-10.5zM340 200h10.5v10.5h-10.5zM340 240h10.5v10.5h-10.5zM110 310h10.5v10.5h-10.5zM410 330h10.5v10.5h-10.5zM90 340h10.5v10.5h-10.5z"/>
<path fill="#b5b5b5" d="M420 70h10.5v10.5h-10.5zM0 120h20.5v10.5h-20.5zM380 120h10.5v10.5h-10.5zM360 150h10.5v10.5h-10.5zM350 170h10.5v10.5h-10.5zM340 210h10.5v10.5h-10.5zM120 220h10.5v10.5h-10.5zM340 230h10.5v10.5h-10.5z"/>
<path fill="#b6b6b6" d="M430 60h10.5v10.5h-10.5zM20 120h10.5v10.5h-10.5zM70 150h10.5v10.5h-10.5zM90 170h10.5v10.5h-10.5zM340 220h10.5v10.5h-10.5zM430 340h10.5v10.5h-10.5zM40 390h10.5v10.5h-10.5z"/>
<path fill="#b7b7b7" d="M390 110h10.5v10.5h-10.5zM40 130h10.5v10.5h-10.5zM80 160h10.5v10.5h-10.5zM110 200h10.5v10.5h-10.5zM120 280h10.5v10.5h-10.5zM360 280h10.5v10.5h-10.5zM80 350h10.5v10.5h-10.5zM30 400h10.5v10.5h-10.5z"/>
<path fill="#b8b8b8" d="M120 230h10.5v10.5h-10.5zM350 260h10.5v10.5h-10.5zM400 320h10.5v10.5h-10.5zM450 340h30.5v10.5h-30.5zM70 360h10.5v10.5h-10.5zM60 370h10.5v10.5h-10.5zM50 380h10.5v10.5h-10.5z"/>
<path fill="#b9b9b9" d="M450 60h30.5v10.5h-30.5zM400 100h10.5v10.5h-10.5zM370 140h10.5v10.5h-10.5zM350 180h10.5v10.5h-10.5zM100 320h10.5v10.5h-10.5zM440 340h10.5v10.5h-10.5zM10 400h10.5v10.5h-10.5z"/>
<path fill="#bababa" d="M120 240h10.5v10.5h-10.5zM120 270h10.5v10.5h-10.5zM370 290h10.5v10.5h-10.5zM110 300h10.5v10.5h-10.5zM390 310h10.5v10.5h-10.5zM0 400h10.5v10.5h-10.5z"/>
<path fill="#bbbbbb" d="M440 60h10.5v10.5h-10.5zM420 80h10.5v10.5h-10.5zM410 90h10.5v10.5h-10.5zM360 160h10.5v10.5h-10.5zM120 250h10.5v10.5h-10.5zM120 260h10.5v10.5h-10.5zM380 300h10.5v10.5h-10.5zM420 330h10.5v10.5h-10.5zM20 400h10.5v10.5h-10.5z"/>
<path fill="#bcbcbc" d="M380 130h10.5v10.5h-10.5zM50 140h10.5v10.5h-10.5zM100 190h10.5v10.5h-10.5zM110 210h10.5v10.5h-10.5zM350 250h10.5v10.5h-10.5z"/>
<path fill="#bdbdbd" d="M430 70h10.5v10.5h-10.5zM350 190h10.5v10.5h-10.5zM360 270h10.5v10.5h-10.5zM90 330h10.5v10.5h-10.5z"/>
<path fill="#bebebe" d="M390 120h10.5v10.5h-10.5zM30 130h10.5v10.5h-10.5z"/>
<path fill="#bfbfbf" d="M450 70h10.5v10.5h-10.5zM470 70h10.5v10.5h-10.5zM60 150h10.5v10.5h-10.5zM370 150h10.5v10.5h-10.5zM90 180h10.5v10.5h-10.5zM350 200h10.5v10.5h-10.5zM350 240h10.5v10.5h-10.5zM110 290h10.5v10.5h-10.5zM40 380h10.5v10.5h-10.5zM30 390h10.5v10.5h-10.5z"/>
<path fill="#c0c0c0" d="M460 70h10.5v10.5h-10.5zM400 110h10.5v10.5h-10.5zM0 130h20.5v10.5h-20.5zM70 160h10.5v10.5h-10.5zM80 170h10.5v10.5h-10.5zM360 170h10.5v10.5h-10.5zM110 220h10.5v10.5h-10.5zM350 230h10.5v10.5h-10.5zM410 320h10.5v10.5h-10.5zM80 340h10.5v10.5h-10.5zM50 370h10.5v10.5h-10.5zM10 390h10.5v10.5h-10.5z"/>
<path fill="#c1c1c1" d="M440 70h10.5v10.5h-10.5zM410 100h10.5v10.5h-10.5zM20 130h10.5v10.5h-10.5zM350 210h10.5v10.5h-10.5zM350 220h10.5v10.5h-10.5zM370 280h10.5v10.5h-10.5zM100 310h10.5v10.5h-10.5zM60 360h10.5v10.5h-10.5zM0 390h10.5v10.5h-10.5z"/>
<path fill="#c2c2c2" d="M420 90h10.5v10.5h-10.5zM40 140h10.5v10.5h-10.5zM380 140h10.5v10.5h-10.5zM100 200h10.5v10.5h-10.5zM70 350h10.5v10.5h-10.5zM20 390h10.5v10.5h-10.5z"/>
<path fill="#c3c3c3" d="M430 80h10.5v10.5h-10.5zM110 230h10.5v10.5h-10.5zM360 260h10.5v10.5h-10.5zM110 280h10.5v10.5h-10.5zM400 310h10.5v10.5h-10.5zM430 330h10.5v10.5h-10.5z"/>
<path fill="#c4c4c4" d="M360 180h10.5v10.5h-10.5zM380 290h10.5v10.5h-10.5zM390 300h10.5v10.5h-10.5zM450 330h10.5v10.5h-10.5z"/>
<path fill="#c5c5c5" d="M450 80h10.5v10.5h-10.5zM390 130h10.5v10.5h-10.5zM370 160h10.5v10.5h-10.5zM460 330h20.5v10.5h-20.5z"/>
<path fill="#c6c6c6" d="M460 80h20.5v10.5h-20.5zM400 120h10.5v10.5h-10.5zM90 190h10.5v10.5h-10.5zM110 240h10.5v10.5h-10.5zM110 270h10.5v10.5h-10.5zM90 320h10.5v10.5h-10.5zM440 330h10.5v10.5h-10.5zM30 380h10.5v10.5h-10.5z"/>
<path fill="#c7c7c7" d="M440 80h10.5v10.5h-10.5zM50 150h10.5v10.5h-10.5zM100 210h10.5v10.5h-10.5zM110 250h10.5v10.5h-10.5zM360 250h10.5v10.5h-10.5zM110 260h10.5v10.5h-10.5zM100 300h10.5v10.5h-10.5zM40 370h10.5v10.5h-10.5z"/>
<path fill="#c8c8c8" d="M420 100h10.5v10.5h-10.5zM410 110h10.5v10.5h-10.5zM80 180h10.5v10.5h-10.5zM360 190h10.5v10.5h-10.5zM370 270h10.5v10.5h-10.5zM420 320h10.5v10.5h-10.5zM0 380h20.5v10.5h-20.5z"/>
<path fill="#c9c9c9" d="M30 140h10.5v10.5h-10.5zM380 150h10.5v10.5h-10.5zM60 160h10.5v10.5h-10.5zM70 170h10.5v10.5h-10.5zM360 240h10.5v10.5h-10.5zM80 330h10.5v10.5h-10.5zM20 380h10.5v10.5h-10.5z"/>
<path fill="#cacaca" d="M430 90h10.5v10.5h-10.5zM370 170h10.5v10.5h-10.5zM360 200h10.5v10.5h-10.5zM50 360h10.5v10.5h-10.5z"/>
<path fill="#cbcbcb" d="M0 140h20.5v10.5h-20.5zM390 140h10.5v10.5h-10.5zM100 220h10.5v10.5h-10.5zM360 230h10.5v10.5h-10.5zM380 280h10.5v10.5h-10.5zM70 340h10.5v10.5h-10.5zM60 350h10.5v10.5h-10.5z"/>
<path fill="#cccccc" d="M450 90h30.5v10.5h-30.5zM20 140h10.5v10.5h-10.5zM360 210h10.5v10.5h-10.5zM360 220h10.5v10.5h-10.5zM100 290h10.5v10.5h-10.5zM410 310h10.5v10.5h-10.5z"/>
<path fill="#cdcdcd" d="M440 90h10.5v10.5h-10.5zM400 130h10.5v10.5h-10.5zM40 150h10.5v10.5h-10.5zM90 200h10.5v10.5h-10.5zM370 260h10.5v10.5h-10.5zM390 290h10.5v10.5h-10.5zM400 300h10.5v10.5h-10.5zM90 310h10.5v10.5h-10.5z"/>
<path fill="#cecece" d="M420 110h10.5v10.5h-10.5zM410 120h10.5v10.5h-10.5zM30 370h10.5v10.5h-10.5z"/>
<path fill="#cfcfcf" d="M380 160h10.5v10.5h-10.5zM370 180h10.5v10.5h-10.5zM100 230h10.5v10.5h-10.5zM100 280h10.5v10.5h-10.5zM430 320h10.5v10.5h-10.5z"/>
<path fill="#d0d0d0" d="M430 100h10.5v10.5h-10.5zM50 160h10.5v10.5h-10.5zM80 190h10.5v10.5h-10.5zM450 320h10.5v10.5h-10.5zM40 360h10.5v10.5h-10.5zM0 370h20.5v10.5h-20.5z"/>
<path fill="#d1d1d1" d="M390 150h10.5v10.5h-10.5zM70 180h10.5v10.5h-10.5zM100 240h10.5v10.5h-10.5zM370 250h10.5v10.5h-10.5zM100 270h10.5v10.5h-10.5zM80 320h10.5v10.5h-10.5zM460 320h20.5v10.5h-20.5zM20 370h10.5v10.5h-10.5z"/>
<path fill="#d2d2d2" d="M450 100h30.5v10.5h-30.5zM60 170h10.5v10.5h-10.5zM370 190h10.5v10.5h-10.5zM90 210h10.5v10.5h-10.5zM100 250h10.5v10.5h-10.5zM100 260h10.5v10.5h-10.5zM380 270h10.5v10.5h-10.5zM440 320h10.5v10.5h-10.5z"/>
<path fill="#d3d3d3" d="M440 100h10.5v10.5h-10.5zM400 140h10.5v10.5h-10.5zM90 300h10.5v10.5h-10.5zM420 310h10.5v10.5h-10.5zM50 350h10.5v10.5h-10.5z"/>
<path fill="#d4d4d4" d="M420 120h10.5v10.5h-10.5zM410 130h10.5v10.5h-10.5zM30 150h10.5v10.5h-10.5zM380 170h10.5v10.5h-10.5zM370 240h10.5v10.5h-10.5zM70 330h10.5v10.5h-10.5zM60 340h10.5v10.5h-10.5z"/>
<path fill="#d5d5d5" d="M0 150h20.5v10.5h-20.5zM370 200h10.5v10.5h-10.5zM390 280h10.5v10.5h-10.5zM410 300h10.5v10.5h-10.5z"/>
<path fill="#d6d6d6" d="M430 110h10.5v10.5h-10.5zM20 150h10.5v10.5h-10.5zM370 210h10.5v10.5h-10.5zM90 220h10.5v10.5h-10.5zM370 220h10.5v10.5h-10.5zM370 230h10.5v10.5h-10.5zM400 290h10.5v10.5h-10.5zM30 360h10.5v10.5h-10.5z"/>
<path fill="#d7d7d7" d="M40 160h10.5v10.5h-10.5zM390 160h10.5v10.5h-10.5zM80 200h10.5v10.5h-10.5zM380 260h10.5v10.5h-10.5zM90 290h10.5v10.5h-10.5zM0 360h20.5v10.5h-20.5z"/>
<path fill="#d8d8d8" d="M450 110h30.5v10.5h-30.5zM80 310h10.5v10.5h-10.5zM40 350h10.5v10.5h-10.5zM20 360h10.5v10.5h-10.5z"/>
<path fill="#d9d9d9" d="M440 110h10.5v10.5h-10.5zM400 150h10.5v10.5h-10.5zM50 170h10.5v10.5h-10.5zM60 180h10.5v10.5h-10.5zM380 180h10.5v10.5h-10.5zM70 190h10.5v10.5h-10.5zM90 230h10.5v10.5h-10.5z"/>
<path fill="#dadada" d="M420 130h10.5v10.5h-10.5zM410 140h10.5v10.5h-10.5zM380 250h10.5v10.5h-10.5zM90 280h10.5v10.5h-10.5zM430 310h10.5v10.5h-10.5z"/>
<path fill="#dbdbdb" d="M390 270h10.5v10.5h-10.5zM70 320h10.5v10.5h-10.5zM50 340h10.5v10.5h-10.5z"/>
<path fill="#dcdcdc" d="M430 120h10.5v10.5h-10.5zM380 190h10.5v10.5h-10.5zM80 210h10.5v10.5h-10.5zM90 240h10.5v10.5h-10.5zM90 270h10.5v10.5h-10.5zM420 300h10.5v10.5h-10.5zM450 310h30.5v10.5h-30.5z"/>
<path fill="#dddddd" d="M450 120h10.5v10.5h-10.5zM30 160h10.5v10.5h-10.5zM390 170h10.5v10.5h-10.5zM380 240h10.5v10.5h-10.5zM90 250h10.5v10.5h-10.5zM90 260h10.5v10.5h-10.5zM400 280h10.5v10.5h-10.5zM410 290h10.5v10.5h-10.5zM440 310h10.5v10.5h-10.5zM60 330h10.5v10.5h-10.5zM30 350h10.5v10.5h-10.5z"/>
<path fill="#dedede" d="M460 120h20.5v10.5h-20.5zM10 160h10.5v10.5h-10.5zM80 300h10.5v10.5h-10.5zM0 350h20.5v10.5h-20.5z"/>
<path fill="#dfdfdf" d="M440 120h10.5v10.5h-10.5zM420 140h10.5v10.5h-10.5zM0 160h10.5v10.5h-10.5zM20 160h10.5v10.5h-10.5zM400 160h10.5v10.5h-10.5zM40 170h10.5v10.5h-10.5zM70 200h10.5v10.5h-10.5zM380 200h10.5v10.5h-10.5zM380 230h10.5v10.5h-10.5zM390 260h10.5v10.5h-10.5zM20 350h10.5v10.5h-10.5z"/>
<path fill="#e0e0e0" d="M410 150h10.5v10.5h-10.5zM50 180h10.5v10.5h-10.5zM60 190h10.5v10.5h-10.5zM380 210h10.5v10.5h-10.5zM80 220h10.5v10.5h-10.5zM380 220h10.5v10.5h-10.5zM40 340h10.5v10.5h-10.5z"/>
<path fill="#e1e1e1" d="M430 130h10.5v10.5h-10.5zM80 290h10.5v10.5h-10.5zM70 310h10.5v10.5h-10.5z"/>
<path fill="#e2e2e2" d="M450 130h10.5v10.5h-10.5zM390 180h10.5v10.5h-10.5zM390 250h10.5v10.5h-10.5zM400 270h10.5v10.5h-10.5zM50 330h10.5v10.5h-10.5z"/>
<path fill="#e3e3e3" d="M460 130h20.5v10.5h-20.5zM80 230h10.5v10.5h-10.5zM410 280h10.5v10.5h-10.5zM420 290h10.5v10.5h-10.5zM430 300h10.5v10.5h-10.5zM60 320h10.5v10.5h-10.5z"/>
<path fill="#e4e4e4" d="M440 130h10.5v10.5h-10.5zM420 150h10.5v10.5h-10.5zM410 160h10.5v10.5h-10.5zM30 170h10.5v10.5h-10.5zM400 170h10.5v10.5h-10.5zM70 210h10.5v10.5h-10.5zM80 280h10.5v10.5h-10.5zM450 300h30.5v10.5h-30.5zM0 340h20.5v10.5h-20.5zM30 340h10.5v10.5h-10.5z"/>
<path fill="#e5e5e5" d="M430 140h10.5v10.5h-10.5zM0 170h30.5v10.5h-30.5zM40 180h10.5v10.5h-10.5zM50 190h10.5v10.5h-10.5zM390 190h10.5v10.5h-10.5zM60 200h10.5v10.5h-10.5zM80 240h10.5v10.5h-10.5zM390 240h10.5v10.5h-10.5zM400 260h10.5v10.5h-10.5zM440 300h10.5v10.5h-10.5zM20 340h10.5v10.5h-10.5z"/>
<path fill="#e6e6e6" d="M390 230h10.5v10.5h-10.5zM80 250h10.5v10.5h-10.5zM80 260h10.5v10.5h-10.5zM80 270h10.5v10.5h-10.5zM70 300h10.5v10.5h-10.5zM40 330h10.5v10.5h-10.5z"/>
<path fill="#e7e7e7" d="M450 140h30.5v10.5h-30.5zM390 200h10.5v10.5h-10.5zM70 220h10.5v10.5h-10.5zM410 270h10.5v10.5h-10.5zM60 310h10.5v10.5h-10.5z"/>
<path fill="#e8e8e8" d="M440 140h10.5v10.5h-10.5zM400 180h10.5v10.5h-10.5zM390 210h10.5v10.5h-10.5zM390 220h10.5v10.5h-10.5zM400 250h10.5v10.5h-10.5zM420 280h10.5v10.5h-10.5zM430 290h10.5v10.5h-10.5zM50 320h10.5v10.5h-10.5z"/>
<path fill="#e9e9e9" d="M430 150h10.5v10.5h-10.5zM420 160h10.5v10.5h-10.5zM410 170h10.5v10.5h-10.5zM0 180h20.5v10.5h-20.5zM30 180h10.5v10.5h-10.5zM40 190h10.5v10.5h-10.5zM50 200h10.5v10.5h-10.5zM60 210h10.5v10.5h-10.5zM70 290h10.5v10.5h-10.5zM450 290h30.5v10.5h-30.5zM0 330h40.5v10.5h-40.5z"/>
<path fill="#eaeaea" d="M450 150h10.5v10.5h-10.5zM20 180h10.5v10.5h-10.5zM70 230h10.5v10.5h-10.5zM400 240h10.5v10.5h-10.5zM410 260h10.5v10.5h-10.5zM440 290h10.5v10.5h-10.5zM40 320h10.5v10.5h-10.5z"/>
<path fill="#ebebeb" d="M460 150h20.5v10.5h-20.5zM420 270h10.5v10.5h-10.5zM70 280h10.5v10.5h-10.5zM60 300h10.5v10.5h-10.5zM50 310h10.5v10.5h-10.5z"/>
<path fill="#ececec" d="M440 150h10.5v10.5h-10.5zM10 190h10.5v10.5h-10.5zM30 190h10.5v10.5h-10.5zM400 190h10.5v10.5h-10.5zM40 200h10.5v10.5h-10.5zM50 210h10.5v10.5h-10.5zM60 220h10.5v10.5h-10.5zM400 230h10.5v10.5h-10.5zM70 240h10.5v10.5h-10.5zM410 250h10.5v10.5h-10.5zM420 260h10.5v10.5h-10.5zM430 280h10.5v10.5h-10.5zM0 320h20.5v10.5h-20.5zM30 320h10.5v10.5h-10.5z"/>
<path fill="#ededed" d="M430 160h10.5v10.5h-10.5zM420 170h10.5v10.5h-10.5zM0 190h10.5v10.5h-10.5zM20 190h10.5v10.5h-10.5zM70 250h10.5v10.5h-10.5zM70 260h10.5v10.5h-10.5zM70 270h10.5v10.5h-10.5zM450 280h30.5v10.5h-30.5zM60 290h10.5v10.5h-10.5zM40 310h10.5v10.5h-10.5zM20 320h10.5v10.5h-10.5z"/>
<path fill="#eeeeee" d="M450 160h30.5v10.5h-30.5zM410 180h10.5v10.5h-10.5zM10 200h10.5v10.5h-10.5zM30 200h10.5v10.5h-10.5zM400 200h10.5v10.5h-10.5zM40 210h10.5v10.5h-10.5zM400 220h10.5v10.5h-10.5zM410 240h10.5v10.5h-10.5zM420 250h10.5v10.5h-10.5zM430 270h10.5v10.5h-10.5zM440 280h10.5v10.5h-10.5zM50 300h10.5v10.5h-10.5zM0 310h20.5v10.5h-20.5zM30 310h10.5v10.5h-10.5z"/>
<path fill="#efefef" d="M440 160h10.5v10.5h-10.5zM0 200h10.5v10.5h-10.5zM20 200h10.5v10.5h-10.5zM30 210h10.5v10.5h-10.5zM400 210h10.5v10.5h-10.5zM60 230h10.5v10.5h-10.5zM430 260h10.5v10.5h-10.5zM450 270h30.5v10.5h-30.5zM30 300h20.5v10.5h-20.5zM20 310h10.5v10.5h-10.5z"/>
<path fill="#f0f0f0" d="M430 170h10.5v10.5h-10.5zM0 210h30.5v10.5h-30.5zM50 220h10.5v10.5h-10.5zM420 240h10.5v10.5h-10.5zM430 250h10.5v10.5h-10.5zM450 260h30.5v10.5h-30.5zM440 270h10.5v10.5h-10.5zM60 280h10.5v10.5h-10.5zM30 290h10.5v10.5h-10.5zM50 290h10.5v10.5h-10.5zM0 300h30.5v10.5h-30.5z"/>
<path fill="#f1f1f1" d="M450 170h10.5v10.5h-10.5zM470 170h10.5v10.5h-10.5zM410 190h10.5v10.5h-10.5zM30 220h20.5v10.5h-20.5zM410 230h10.5v10.5h-10.5zM430 240h10.5v10.5h-10.5zM450 250h30.5v10.5h-30.5zM440 260h10.5v10.5h-10.5zM0 290h30.5v10.5h-30.5zM40 290h10.5v10.5h-10.5z"/>
<path fill="#f2f2f2" d="M440 170h10.5v10.5h-10.5zM460 170h10.5v10.5h-10.5zM420 180h10.5v10.5h-10.5zM0 220h30.5v10.5h-30.5zM60 240h10.5v10.5h-10.5zM440 240h40.5v10.5h-40.5zM440 250h10.5v10.5h-10.5zM60 270h10.5v10.5h-10.5z"/>
<path fill="#f3f3f3" d="M410 220h10.5v10.5h-10.5zM50 230h10.5v10.5h-10.5zM420 230h10.5v10.5h-10.5zM60 250h10.5v10.5h-10.5zM60 260h10.5v10.5h-10.5zM50 280h10.5v10.5h-10.5z"/>
<path fill="#f4f4f4" d="M410 200h10.5v10.5h-10.5zM410 210h10.5v10.5h-10.5zM0 280h50.5v10.5h-50.5z"/>
<path fill="#f5f5f5" d="M430 180h10.5v10.5h-10.5zM40 230h10.5v10.5h-10.5zM50 270h10.5v10.5h-10.5z"/>
<path fill="#f6f6f6" d="M450 180h10.5v10.5h-10.5zM420 190h10.5v10.5h-10.5zM430 230h10.5v10.5h-10.5zM50 240h10.5v10.5h-10.5z"/>
<path fill="#f7f7f7" d="M440 180h10.5v10.5h-10.5zM460 180h20.5v10.5h-20.5zM420 220h10.5v10.5h-10.5zM0 230h40.5v10.5h-40.5zM440 230h40.5v10.5h-40.5zM50 250h10.5v10.5h-10.5zM50 260h10.5v10.5h-10.5zM40 270h10.5v10.5h-10.5z"/>
<path fill="#f9f9f9" d="M420 200h10.5v10.5h-10.5zM420 210h10.5v10.5h-10.5zM40 240h10.5v10.5h-10.5zM0 270h40.5v10.5h-40.5z"/>
<path fill="#fafafa" d="M430 190h10.5v10.5h-10.5zM40 260h10.5v10.5h-10.5z"/>
<path fill="#fbfbfb" d="M450 190h10.5v10.5h-10.5zM470 190h10.5v10.5h-10.5zM430 220h10.5v10.5h-10.5zM40 250h10.5v10.5h-10.5z"/>
<path fill="#fcfcfc" d="M440 190h10.5v10.5h-10.5zM460 190h10.5v10.5h-10.5zM440 220h40.5v10.5h-40.5zM30 240h10.5v10.5h-10.5z"/>
<path fill="#fdfdfd" d="M0 240h30.5v10.5h-30.5z"/>
<path fill="#fefefe" d="M0 260h40.5v10.5h-40.5z"/>
<path fill="#ffffff" d="M430 200h50.5v10.5h-50.5zM430 210h50.5v10.5h-50.5zM0 250h40.5v10.5h-40.5z"/>
</g></g>
<path d="M133.40 734.17V1143.85H543.18" fill="none" stroke="#262626" stroke-width="1.3" stroke-opacity="0.5"/>
<path d="M133.50 1143.85v10.6M133.50 734.17v-10.6M133.50 1143.85h-10.6M543.18 1143.85h10.6M213.83 1143.85v10.6M213.83 734.17v-10.6M133.50 1063.52h-10.6M543.18 1063.52h10.6M294.16 1143.85v10.6M294.16 734.17v-10.6M133.50 983.19h-10.6M543.18 983.19h10.6M374.49 1143.85v10.6M374.49 734.17v-10.6M133.50 902.86h-10.6M543.18 902.86h10.6M454.82 1143.85v10.6M454.82 734.17v-10.6M133.50 822.53h-10.6M543.18 822.53h10.6M535.15 1143.85v10.6M535.15 734.17v-10.6M133.50 742.20h-10.6M543.18 742.20h10.6" stroke="#262626" stroke-width="1.7" fill="none"/>
<text class="tk" x="133.50" y="1198.05" text-anchor="middle">0</text>
<text class="tk" x="111.10" y="1156.45" text-anchor="end">0</text>
<text class="tk" x="213.83" y="1198.05" text-anchor="middle">0.1</text>
<text class="tk" x="111.10" y="1076.12" text-anchor="end">0.1</text>
<text class="tk" x="294.16" y="1198.05" text-anchor="middle">0.2</text>
<text class="tk" x="111.10" y="995.79" text-anchor="end">0.2</text>
<text class="tk" x="374.49" y="1198.05" text-anchor="middle">0.3</text>
<text class="tk" x="111.10" y="915.46" text-anchor="end">0.3</text>
<text class="tk" x="454.82" y="1198.05" text-anchor="middle">0.4</text>
<text class="tk" x="111.10" y="835.13" text-anchor="end">0.4</text>
<text class="tk" x="535.15" y="1198.05" text-anchor="middle">0.5</text>
<text class="tk" x="111.10" y="754.80" text-anchor="end">0.5</text>
<text class="lb" x="338.34" y="1243.85" text-anchor="middle">X (m)</text>
<text class="lb" transform="translate(51.10 939.01) rotate(-90)" text-anchor="middle">Y (m)</text>
<text class="tt" transform="translate(338.94 716.97) scale(.978 1)" text-anchor="middle"><tspan font-style="italic">N</tspan> = 9, Arr04, Loc. 1.4, P</text>
<text class="pl" x="61.10" y="725.77" text-anchor="end">(b)</text>
<rect x="576.65" y="735.32" width="38.9" height="406.50" fill="url(#jg)" stroke="#1a1a1a" stroke-width="1.2"/>
<text class="cb" x="627.85" y="1112.06">0.6</text>
<text class="cb" x="627.85" y="1021.52">0.7</text>
<text class="cb" x="627.85" y="930.99">0.8</text>
<text class="cb" x="627.85" y="840.45">0.9</text>
<text class="cb" x="627.85" y="749.92">1</text>
<path d="M615.55 1097.46h-5M615.55 1006.92h-5M615.55 916.39h-5M615.55 825.85h-5" stroke="#262626" stroke-width="1.4" fill="none"/>
<path d="M327.3 941.5h26.6M340.6 928.2v26.6" stroke="#fff" stroke-width="4.7" fill="none"/>
<clipPath id="clc"><rect x="834.50" y="117.22" width="410.23" height="410.43"/></clipPath>
<g clip-path="url(#clc)"><g filter="url(#jet)" transform="translate(804.50 87.22)">
<path fill="#000000" d="M0 0h140.5v10.5h-140.5zM320 0h160.5v10.5h-160.5zM0 10h140.5v10.5h-140.5zM320 10h160.5v10.5h-160.5zM0 20h140.5v10.5h-140.5zM320 20h160.5v10.5h-160.5zM0 30h140.5v10.5h-140.5zM320 30h160.5v10.5h-160.5zM0 40h140.5v10.5h-140.5zM310 40h170.5v10.5h-170.5zM0 50h150.5v10.5h-150.5zM300 50h180.5v10.5h-180.5zM0 60h160.5v10.5h-160.5zM290 60h190.5v10.5h-190.5zM0 70h180.5v10.5h-180.5zM270 70h210.5v10.5h-210.5zM0 80h480.5v10.5h-480.5zM0 90h480.5v10.5h-480.5zM0 100h480.5v10.5h-480.5zM0 110h480.5v10.5h-480.5zM0 120h200.5v10.5h-200.5zM280 120h200.5v10.5h-200.5zM0 130h180.5v10.5h-180.5zM300 130h180.5v10.5h-180.5zM0 140h170.5v10.5h-170.5zM310 140h170.5v10.5h-170.5zM0 150h150.5v10.5h-150.5zM330 150h150.5v10.5h-150.5zM40 160h110.5v10.5h-110.5zM330 160h150.5v10.5h-150.5zM50 170h90.5v10.5h-90.5zM340 170h140.5v10.5h-140.5zM60 180h70.5v10.5h-70.5zM350 180h130.5v10.5h-130.5zM60 190h70.5v10.5h-70.5zM350 190h90.5v10.5h-90.5zM70 200h50.5v10.5h-50.5zM360 200h70.5v10.5h-70.5zM70 210h50.5v10.5h-50.5zM360 210h60.5v10.5h-60.5zM70 220h50.5v10.5h-50.5zM360 220h60.5v10.5h-60.5zM70 230h50.5v10.5h-50.5zM360 230h60.5v10.5h-60.5zM70 240h50.5v10.5h-50.5zM360 240h60.5v10.5h-60.5zM60 250h60.5v10.5h-60.5zM360 250h70.5v10.5h-70.5zM60 260h60.5v10.5h-60.5zM360 260h70.5v10.5h-70.5zM50 270h80.5v10.5h-80.5zM350 270h130.5v10.5h-130.5zM40 280h90.5v10.5h-90.5zM350 280h130.5v10.5h-130.5zM0 290h130.5v10.5h-130.5zM350 290h130.5v10.5h-130.5zM0 300h140.5v10.5h-140.5zM340 300h140.5v10.5h-140.5zM0 310h150.5v10.5h-150.5zM330 310h150.5v10.5h-150.5zM0 320h160.5v10.5h-160.5zM320 320h160.5v10.5h-160.5zM0 330h170.5v10.5h-170.5zM310 330h170.5v10.5h-170.5zM0 340h180.5v10.5h-180.5zM300 340h180.5v10.5h-180.5zM0 350h210.5v10.5h-210.5zM270 350h210.5v10.5h-210.5zM0 360h480.5v10.5h-480.5zM0 370h480.5v10.5h-480.5zM0 380h480.5v10.5h-480.5zM0 390h480.5v10.5h-480.5zM0 400h200.5v10.5h-200.5zM290 400h190.5v10.5h-190.5zM0 410h180.5v10.5h-180.5zM310 410h170.5v10.5h-170.5zM0 420h170.5v10.5h-170.5zM320 420h160.5v10.5h-160.5zM0 430h160.5v10.5h-160.5zM320 430h160.5v10.5h-160.5zM0 440h160.5v10.5h-160.5zM320 440h160.5v10.5h-160.5zM0 450h160.5v10.5h-160.5zM320 450h160.5v10.5h-160.5zM0 460h160.5v10.5h-160.5zM320 460h160.5v10.5h-160.5zM0 470h160.5v10.5h-160.5zM320 470h160.5v10.5h-160.5z"/>
<path fill="#010101" d="M320 150h10.5v10.5h-10.5zM30 160h10.5v10.5h-10.5zM450 190h10.5v10.5h-10.5zM350 200h10.5v10.5h-10.5zM160 430h10.5v10.5h-10.5zM160 440h10.5v10.5h-10.5zM160 450h10.5v10.5h-10.5zM160 460h10.5v10.5h-10.5zM160 470h10.5v10.5h-10.5z"/>
<path fill="#020202" d="M310 0h10.5v10.5h-10.5zM310 10h10.5v10.5h-10.5zM310 20h10.5v10.5h-10.5zM310 30h10.5v10.5h-10.5zM180 70h10.5v10.5h-10.5zM270 120h10.5v10.5h-10.5zM150 150h10.5v10.5h-10.5zM0 160h30.5v10.5h-30.5zM440 190h10.5v10.5h-10.5zM460 190h20.5v10.5h-20.5zM60 200h10.5v10.5h-10.5zM120 200h10.5v10.5h-10.5zM420 210h10.5v10.5h-10.5zM60 240h10.5v10.5h-10.5zM0 280h40.5v10.5h-40.5zM340 290h10.5v10.5h-10.5zM180 340h10.5v10.5h-10.5zM290 340h10.5v10.5h-10.5zM280 400h10.5v10.5h-10.5zM300 410h10.5v10.5h-10.5zM310 420h10.5v10.5h-10.5z"/>
<path fill="#030303" d="M260 70h10.5v10.5h-10.5zM200 120h10.5v10.5h-10.5zM130 290h10.5v10.5h-10.5z"/>
<path fill="#040404" d="M160 60h10.5v10.5h-10.5z"/>
<path fill="#050505" d="M340 180h10.5v10.5h-10.5zM210 350h10.5v10.5h-10.5zM260 350h10.5v10.5h-10.5zM200 400h10.5v10.5h-10.5z"/>
<path fill="#060606" d="M180 130h10.5v10.5h-10.5zM290 130h10.5v10.5h-10.5zM50 180h10.5v10.5h-10.5zM130 180h10.5v10.5h-10.5zM60 210h10.5v10.5h-10.5zM60 230h10.5v10.5h-10.5zM420 240h10.5v10.5h-10.5zM350 260h10.5v10.5h-10.5zM430 260h10.5v10.5h-10.5zM180 410h10.5v10.5h-10.5z"/>
<path fill="#070707" d="M140 40h10.5v10.5h-10.5zM280 60h10.5v10.5h-10.5zM190 70h10.5v10.5h-10.5zM350 210h10.5v10.5h-10.5zM60 220h10.5v10.5h-10.5zM50 260h10.5v10.5h-10.5zM120 260h10.5v10.5h-10.5zM170 420h10.5v10.5h-10.5z"/>
<path fill="#080808" d="M250 70h10.5v10.5h-10.5zM120 210h10.5v10.5h-10.5zM440 260h40.5v10.5h-40.5zM220 350h10.5v10.5h-10.5zM250 350h10.5v10.5h-10.5zM310 440h10.5v10.5h-10.5zM310 450h10.5v10.5h-10.5zM310 460h10.5v10.5h-10.5zM310 470h10.5v10.5h-10.5z"/>
<path fill="#090909" d="M150 50h10.5v10.5h-10.5zM210 120h10.5v10.5h-10.5zM260 120h10.5v10.5h-10.5zM40 170h10.5v10.5h-10.5zM420 220h10.5v10.5h-10.5zM420 230h10.5v10.5h-10.5zM350 250h10.5v10.5h-10.5zM270 400h10.5v10.5h-10.5zM310 430h10.5v10.5h-10.5z"/>
<path fill="#0a0a0a" d="M300 40h10.5v10.5h-10.5zM350 220h10.5v10.5h-10.5zM120 250h10.5v10.5h-10.5zM40 270h10.5v10.5h-10.5zM230 350h20.5v10.5h-20.5z"/>
<path fill="#0b0b0b" d="M140 0h10.5v10.5h-10.5zM140 10h10.5v10.5h-10.5zM140 20h10.5v10.5h-10.5zM140 30h10.5v10.5h-10.5zM200 70h10.5v10.5h-10.5zM240 70h10.5v10.5h-10.5zM120 220h10.5v10.5h-10.5zM350 240h10.5v10.5h-10.5zM330 300h10.5v10.5h-10.5zM170 330h10.5v10.5h-10.5zM300 330h10.5v10.5h-10.5zM210 400h10.5v10.5h-10.5zM170 440h10.5v10.5h-10.5z"/>
<path fill="#0c0c0c" d="M290 50h10.5v10.5h-10.5zM220 120h10.5v10.5h-10.5zM250 120h10.5v10.5h-10.5zM120 230h10.5v10.5h-10.5zM350 230h10.5v10.5h-10.5zM120 240h10.5v10.5h-10.5zM140 300h10.5v10.5h-10.5zM170 430h10.5v10.5h-10.5zM170 450h10.5v10.5h-10.5zM170 460h10.5v10.5h-10.5zM170 470h10.5v10.5h-10.5z"/>
<path fill="#0d0d0d" d="M300 0h10.5v10.5h-10.5zM300 10h10.5v10.5h-10.5zM300 20h10.5v10.5h-10.5zM300 30h10.5v10.5h-10.5zM170 60h10.5v10.5h-10.5zM210 70h10.5v10.5h-10.5zM230 70h10.5v10.5h-10.5zM0 170h30.5v10.5h-30.5zM190 340h10.5v10.5h-10.5zM280 340h10.5v10.5h-10.5zM260 400h10.5v10.5h-10.5zM290 410h10.5v10.5h-10.5z"/>
<path fill="#0e0e0e" d="M220 70h10.5v10.5h-10.5zM230 120h20.5v10.5h-20.5zM30 170h10.5v10.5h-10.5zM330 170h10.5v10.5h-10.5zM440 200h10.5v10.5h-10.5zM0 270h30.5v10.5h-30.5zM130 280h10.5v10.5h-10.5zM340 280h10.5v10.5h-10.5zM220 400h10.5v10.5h-10.5zM300 420h10.5v10.5h-10.5z"/>
<path fill="#0f0f0f" d="M270 60h10.5v10.5h-10.5zM300 140h10.5v10.5h-10.5zM140 170h10.5v10.5h-10.5zM50 190h10.5v10.5h-10.5zM340 190h10.5v10.5h-10.5zM450 200h30.5v10.5h-30.5zM30 270h10.5v10.5h-10.5zM190 410h10.5v10.5h-10.5z"/>
<path fill="#101010" d="M150 40h10.5v10.5h-10.5zM280 130h10.5v10.5h-10.5zM170 140h10.5v10.5h-10.5zM130 190h10.5v10.5h-10.5zM50 250h10.5v10.5h-10.5zM320 310h10.5v10.5h-10.5zM160 320h10.5v10.5h-10.5zM310 320h10.5v10.5h-10.5zM250 400h10.5v10.5h-10.5zM180 420h10.5v10.5h-10.5zM300 440h10.5v10.5h-10.5zM300 450h10.5v10.5h-10.5zM300 460h10.5v10.5h-10.5zM300 470h10.5v10.5h-10.5z"/>
<path fill="#111111" d="M290 40h10.5v10.5h-10.5zM160 50h10.5v10.5h-10.5zM190 130h10.5v10.5h-10.5zM430 200h10.5v10.5h-10.5zM440 250h10.5v10.5h-10.5zM150 310h10.5v10.5h-10.5zM230 400h20.5v10.5h-20.5zM300 430h10.5v10.5h-10.5z"/>
<path fill="#121212" d="M40 180h10.5v10.5h-10.5zM450 250h30.5v10.5h-30.5zM40 260h10.5v10.5h-10.5z"/>
<path fill="#131313" d="M150 0h10.5v10.5h-10.5zM150 10h10.5v10.5h-10.5zM150 20h10.5v10.5h-10.5zM150 30h10.5v10.5h-10.5zM280 50h10.5v10.5h-10.5zM160 150h10.5v10.5h-10.5zM310 150h10.5v10.5h-10.5zM150 160h10.5v10.5h-10.5zM320 160h10.5v10.5h-10.5zM280 410h10.5v10.5h-10.5zM180 440h10.5v10.5h-10.5zM180 450h10.5v10.5h-10.5zM180 460h10.5v10.5h-10.5zM180 470h10.5v10.5h-10.5z"/>
<path fill="#141414" d="M180 60h10.5v10.5h-10.5zM200 340h10.5v10.5h-10.5zM270 340h10.5v10.5h-10.5zM290 420h10.5v10.5h-10.5zM180 430h10.5v10.5h-10.5z"/>
<path fill="#151515" d="M290 0h10.5v10.5h-10.5zM290 10h10.5v10.5h-10.5zM290 20h10.5v10.5h-10.5zM290 30h10.5v10.5h-10.5zM260 60h10.5v10.5h-10.5zM0 180h30.5v10.5h-30.5zM50 200h10.5v10.5h-10.5zM440 210h10.5v10.5h-10.5zM50 240h10.5v10.5h-10.5zM130 270h10.5v10.5h-10.5zM340 270h10.5v10.5h-10.5zM200 410h10.5v10.5h-10.5z"/>
<path fill="#161616" d="M30 180h10.5v10.5h-10.5zM130 200h10.5v10.5h-10.5zM340 200h10.5v10.5h-10.5zM450 210h30.5v10.5h-30.5zM430 250h10.5v10.5h-10.5zM0 260h30.5v10.5h-30.5zM140 290h10.5v10.5h-10.5zM330 290h10.5v10.5h-10.5zM180 330h10.5v10.5h-10.5zM290 330h10.5v10.5h-10.5z"/>
<path fill="#171717" d="M200 130h10.5v10.5h-10.5zM270 130h10.5v10.5h-10.5zM140 180h10.5v10.5h-10.5zM330 180h10.5v10.5h-10.5zM30 260h10.5v10.5h-10.5zM190 420h10.5v10.5h-10.5z"/>
<path fill="#181818" d="M160 40h10.5v10.5h-10.5zM170 50h10.5v10.5h-10.5zM190 60h10.5v10.5h-10.5zM180 140h10.5v10.5h-10.5zM290 140h10.5v10.5h-10.5zM50 210h10.5v10.5h-10.5zM50 230h10.5v10.5h-10.5zM440 240h10.5v10.5h-10.5zM210 340h10.5v10.5h-10.5zM260 340h10.5v10.5h-10.5zM270 410h10.5v10.5h-10.5z"/>
<path fill="#191919" d="M250 60h10.5v10.5h-10.5zM40 190h10.5v10.5h-10.5zM50 220h10.5v10.5h-10.5zM450 240h30.5v10.5h-30.5zM40 250h10.5v10.5h-10.5zM340 260h10.5v10.5h-10.5zM320 300h10.5v10.5h-10.5zM170 320h10.5v10.5h-10.5zM300 320h10.5v10.5h-10.5zM290 440h10.5v10.5h-10.5zM290 450h10.5v10.5h-10.5zM290 460h10.5v10.5h-10.5zM290 470h10.5v10.5h-10.5z"/>
<path fill="#1a1a1a" d="M280 40h10.5v10.5h-10.5zM270 50h10.5v10.5h-10.5zM130 210h10.5v10.5h-10.5zM340 210h10.5v10.5h-10.5zM430 210h10.5v10.5h-10.5zM130 260h10.5v10.5h-10.5zM150 300h10.5v10.5h-10.5zM310 310h10.5v10.5h-10.5zM210 410h10.5v10.5h-10.5zM290 430h10.5v10.5h-10.5z"/>
<path fill="#1b1b1b" d="M210 130h10.5v10.5h-10.5zM260 130h10.5v10.5h-10.5zM300 150h10.5v10.5h-10.5zM320 170h10.5v10.5h-10.5zM440 220h10.5v10.5h-10.5zM160 310h10.5v10.5h-10.5zM220 340h10.5v10.5h-10.5zM250 340h10.5v10.5h-10.5z"/>
<path fill="#1c1c1c" d="M200 60h10.5v10.5h-10.5zM240 60h10.5v10.5h-10.5zM170 150h10.5v10.5h-10.5zM150 170h10.5v10.5h-10.5zM450 220h30.5v10.5h-30.5zM440 230h10.5v10.5h-10.5zM430 240h10.5v10.5h-10.5zM340 250h10.5v10.5h-10.5zM280 330h10.5v10.5h-10.5zM280 420h10.5v10.5h-10.5zM190 440h10.5v10.5h-10.5zM190 450h10.5v10.5h-10.5zM190 460h10.5v10.5h-10.5zM190 470h10.5v10.5h-10.5z"/>
<path fill="#1d1d1d" d="M160 0h10.5v10.5h-10.5zM160 10h10.5v10.5h-10.5zM160 20h10.5v10.5h-10.5zM160 160h10.5v10.5h-10.5zM310 160h10.5v10.5h-10.5zM130 220h10.5v10.5h-10.5zM340 220h10.5v10.5h-10.5zM450 230h30.5v10.5h-30.5zM130 250h10.5v10.5h-10.5zM330 280h10.5v10.5h-10.5zM190 330h10.5v10.5h-10.5zM230 340h20.5v10.5h-20.5zM260 410h10.5v10.5h-10.5zM190 430h10.5v10.5h-10.5z"/>
<path fill="#1e1e1e" d="M160 30h10.5v10.5h-10.5zM210 60h10.5v10.5h-10.5zM230 60h10.5v10.5h-10.5zM220 130h10.5v10.5h-10.5zM250 130h10.5v10.5h-10.5zM0 190h30.5v10.5h-30.5zM330 190h10.5v10.5h-10.5zM340 230h10.5v10.5h-10.5zM340 240h10.5v10.5h-10.5zM140 280h10.5v10.5h-10.5zM220 410h10.5v10.5h-10.5z"/>
<path fill="#1f1f1f" d="M280 0h10.5v10.5h-10.5zM280 10h10.5v10.5h-10.5zM280 20h10.5v10.5h-10.5zM180 50h10.5v10.5h-10.5zM220 60h10.5v10.5h-10.5zM280 140h10.5v10.5h-10.5zM30 190h10.5v10.5h-10.5zM140 190h10.5v10.5h-10.5zM40 200h10.5v10.5h-10.5zM430 220h10.5v10.5h-10.5zM130 230h10.5v10.5h-10.5zM40 240h10.5v10.5h-10.5zM130 240h10.5v10.5h-10.5zM0 250h30.5v10.5h-30.5zM200 420h10.5v10.5h-10.5z"/>
<path fill="#202020" d="M280 30h10.5v10.5h-10.5zM230 130h20.5v10.5h-20.5zM190 140h10.5v10.5h-10.5zM430 230h10.5v10.5h-10.5zM30 250h10.5v10.5h-10.5zM230 410h10.5v10.5h-10.5zM250 410h10.5v10.5h-10.5z"/>
<path fill="#212121" d="M260 50h10.5v10.5h-10.5zM240 410h10.5v10.5h-10.5zM280 440h10.5v10.5h-10.5z"/>
<path fill="#222222" d="M170 40h10.5v10.5h-10.5zM280 450h10.5v10.5h-10.5zM280 460h10.5v10.5h-10.5zM280 470h10.5v10.5h-10.5z"/>
<path fill="#232323" d="M40 210h10.5v10.5h-10.5zM290 320h10.5v10.5h-10.5zM270 330h10.5v10.5h-10.5zM270 420h10.5v10.5h-10.5zM280 430h10.5v10.5h-10.5z"/>
<path fill="#242424" d="M270 40h10.5v10.5h-10.5zM40 230h10.5v10.5h-10.5zM330 270h10.5v10.5h-10.5zM320 290h10.5v10.5h-10.5zM180 320h10.5v10.5h-10.5zM200 330h10.5v10.5h-10.5zM200 440h10.5v10.5h-10.5z"/>
<path fill="#252525" d="M0 200h10.5v10.5h-10.5zM20 200h10.5v10.5h-10.5zM330 200h10.5v10.5h-10.5zM40 220h10.5v10.5h-10.5zM140 270h10.5v10.5h-10.5zM150 290h10.5v10.5h-10.5zM200 450h10.5v10.5h-10.5zM200 460h10.5v10.5h-10.5zM200 470h10.5v10.5h-10.5z"/>
<path fill="#262626" d="M190 50h10.5v10.5h-10.5zM320 180h10.5v10.5h-10.5zM10 200h10.5v10.5h-10.5zM140 200h10.5v10.5h-10.5zM0 240h30.5v10.5h-30.5zM210 420h10.5v10.5h-10.5zM200 430h10.5v10.5h-10.5z"/>
<path fill="#272727" d="M170 0h10.5v10.5h-10.5zM170 10h10.5v10.5h-10.5zM170 20h10.5v10.5h-10.5zM170 30h10.5v10.5h-10.5zM250 50h10.5v10.5h-10.5zM200 140h10.5v10.5h-10.5zM270 140h10.5v10.5h-10.5zM180 150h10.5v10.5h-10.5zM290 150h10.5v10.5h-10.5zM150 180h10.5v10.5h-10.5zM30 200h10.5v10.5h-10.5zM30 240h10.5v10.5h-10.5z"/>
<path fill="#282828" d="M310 300h10.5v10.5h-10.5zM170 310h10.5v10.5h-10.5zM300 310h10.5v10.5h-10.5z"/>
<path fill="#292929" d="M270 0h10.5v10.5h-10.5zM270 10h10.5v10.5h-10.5zM270 20h10.5v10.5h-10.5zM160 300h10.5v10.5h-10.5zM260 420h10.5v10.5h-10.5zM270 440h10.5v10.5h-10.5z"/>
<path fill="#2a2a2a" d="M270 30h10.5v10.5h-10.5zM0 210h30.5v10.5h-30.5zM0 230h10.5v10.5h-10.5zM20 230h10.5v10.5h-10.5zM210 330h10.5v10.5h-10.5zM260 330h10.5v10.5h-10.5zM270 450h10.5v10.5h-10.5zM270 460h10.5v10.5h-10.5zM270 470h10.5v10.5h-10.5z"/>
<path fill="#2b2b2b" d="M180 40h10.5v10.5h-10.5zM200 50h10.5v10.5h-10.5zM300 160h10.5v10.5h-10.5zM160 170h10.5v10.5h-10.5zM310 170h10.5v10.5h-10.5zM30 210h10.5v10.5h-10.5zM10 230h10.5v10.5h-10.5zM330 260h10.5v10.5h-10.5zM220 420h10.5v10.5h-10.5zM270 430h10.5v10.5h-10.5z"/>
<path fill="#2c2c2c" d="M260 40h10.5v10.5h-10.5zM240 50h10.5v10.5h-10.5zM170 160h10.5v10.5h-10.5zM330 210h10.5v10.5h-10.5zM0 220h30.5v10.5h-30.5zM30 230h10.5v10.5h-10.5zM140 260h10.5v10.5h-10.5zM210 440h10.5v10.5h-10.5zM210 450h10.5v10.5h-10.5zM210 460h10.5v10.5h-10.5zM210 470h10.5v10.5h-10.5z"/>
<path fill="#2d2d2d" d="M140 210h10.5v10.5h-10.5zM30 220h10.5v10.5h-10.5zM250 420h10.5v10.5h-10.5zM210 430h10.5v10.5h-10.5z"/>
<path fill="#2e2e2e" d="M210 140h10.5v10.5h-10.5zM260 140h10.5v10.5h-10.5zM280 320h10.5v10.5h-10.5zM220 330h10.5v10.5h-10.5zM250 330h10.5v10.5h-10.5zM230 420h10.5v10.5h-10.5z"/>
<path fill="#2f2f2f" d="M210 50h10.5v10.5h-10.5zM230 50h10.5v10.5h-10.5zM330 250h10.5v10.5h-10.5zM320 280h10.5v10.5h-10.5zM190 320h10.5v10.5h-10.5zM240 420h10.5v10.5h-10.5z"/>
<path fill="#303030" d="M180 0h10.5v10.5h-10.5zM180 10h10.5v10.5h-10.5zM180 20h10.5v10.5h-10.5zM220 50h10.5v10.5h-10.5zM330 220h10.5v10.5h-10.5zM140 250h10.5v10.5h-10.5zM150 280h10.5v10.5h-10.5zM240 330h10.5v10.5h-10.5zM260 440h10.5v10.5h-10.5zM260 450h10.5v10.5h-10.5zM260 460h10.5v10.5h-10.5zM260 470h10.5v10.5h-10.5z"/>
<path fill="#313131" d="M180 30h10.5v10.5h-10.5zM320 190h10.5v10.5h-10.5zM140 220h10.5v10.5h-10.5zM230 330h10.5v10.5h-10.5zM260 430h10.5v10.5h-10.5zM220 440h10.5v10.5h-10.5z"/>
<path fill="#323232" d="M260 0h10.5v10.5h-10.5zM260 10h10.5v10.5h-10.5zM260 20h10.5v10.5h-10.5zM190 40h10.5v10.5h-10.5zM250 140h10.5v10.5h-10.5zM280 150h10.5v10.5h-10.5zM150 190h10.5v10.5h-10.5zM330 230h10.5v10.5h-10.5zM330 240h10.5v10.5h-10.5zM220 450h10.5v10.5h-10.5zM220 460h10.5v10.5h-10.5zM220 470h10.5v10.5h-10.5z"/>
<path fill="#333333" d="M260 30h10.5v10.5h-10.5zM220 140h10.5v10.5h-10.5zM190 150h10.5v10.5h-10.5zM140 230h10.5v10.5h-10.5zM140 240h10.5v10.5h-10.5zM220 430h10.5v10.5h-10.5z"/>
<path fill="#343434" d="M250 40h10.5v10.5h-10.5zM250 440h10.5v10.5h-10.5zM250 450h10.5v10.5h-10.5zM250 460h10.5v10.5h-10.5zM250 470h10.5v10.5h-10.5z"/>
<path fill="#353535" d="M230 140h20.5v10.5h-20.5zM250 430h10.5v10.5h-10.5zM230 440h10.5v10.5h-10.5zM230 450h10.5v10.5h-10.5zM230 460h10.5v10.5h-10.5zM230 470h10.5v10.5h-10.5z"/>
<path fill="#363636" d="M310 290h10.5v10.5h-10.5zM180 310h10.5v10.5h-10.5zM290 310h10.5v10.5h-10.5zM230 430h10.5v10.5h-10.5zM240 440h10.5v10.5h-10.5zM240 450h10.5v10.5h-10.5zM240 460h10.5v10.5h-10.5zM240 470h10.5v10.5h-10.5z"/>
<path fill="#373737" d="M160 290h10.5v10.5h-10.5zM240 430h10.5v10.5h-10.5z"/>
<path fill="#383838" d="M190 20h10.5v10.5h-10.5zM200 40h10.5v10.5h-10.5zM300 300h10.5v10.5h-10.5zM200 320h10.5v10.5h-10.5zM270 320h10.5v10.5h-10.5z"/>
<path fill="#393939" d="M190 0h10.5v10.5h-10.5zM190 10h10.5v10.5h-10.5zM190 30h10.5v10.5h-10.5zM290 160h10.5v10.5h-10.5zM160 180h10.5v10.5h-10.5zM310 180h10.5v10.5h-10.5zM320 270h10.5v10.5h-10.5zM170 300h10.5v10.5h-10.5z"/>
<path fill="#3a3a3a" d="M250 0h10.5v10.5h-10.5zM250 10h10.5v10.5h-10.5zM250 20h10.5v10.5h-10.5zM240 40h10.5v10.5h-10.5zM180 160h10.5v10.5h-10.5zM150 270h10.5v10.5h-10.5z"/>
<path fill="#3b3b3b" d="M250 30h10.5v10.5h-10.5zM320 200h10.5v10.5h-10.5z"/>
<path fill="#3c3c3c" d="M210 40h10.5v10.5h-10.5zM270 150h10.5v10.5h-10.5zM170 170h10.5v10.5h-10.5zM300 170h10.5v10.5h-10.5zM150 200h10.5v10.5h-10.5z"/>
<path fill="#3d3d3d" d="M230 40h10.5v10.5h-10.5zM200 150h10.5v10.5h-10.5z"/>
<path fill="#3e3e3e" d="M220 40h10.5v10.5h-10.5z"/>
<path fill="#3f3f3f" d="M200 0h10.5v10.5h-10.5zM200 10h10.5v10.5h-10.5zM200 20h10.5v10.5h-10.5z"/>
<path fill="#404040" d="M240 0h10.5v10.5h-10.5zM240 20h10.5v10.5h-10.5zM200 30h10.5v10.5h-10.5zM210 320h10.5v10.5h-10.5zM260 320h10.5v10.5h-10.5z"/>
<path fill="#414141" d="M240 10h10.5v10.5h-10.5zM240 30h10.5v10.5h-10.5zM320 260h10.5v10.5h-10.5z"/>
<path fill="#424242" d="M320 210h10.5v10.5h-10.5zM150 260h10.5v10.5h-10.5z"/>
<path fill="#434343" d="M210 20h10.5v10.5h-10.5zM150 210h10.5v10.5h-10.5zM310 280h10.5v10.5h-10.5zM190 310h10.5v10.5h-10.5zM280 310h10.5v10.5h-10.5z"/>
<path fill="#444444" d="M210 0h10.5v10.5h-10.5zM230 0h10.5v10.5h-10.5zM210 10h10.5v10.5h-10.5zM230 10h10.5v10.5h-10.5zM230 20h10.5v10.5h-10.5zM260 150h10.5v10.5h-10.5zM160 280h10.5v10.5h-10.5z"/>
<path fill="#454545" d="M220 0h10.5v10.5h-10.5zM220 10h10.5v10.5h-10.5zM220 20h10.5v10.5h-10.5zM210 30h10.5v10.5h-10.5zM230 30h10.5v10.5h-10.5zM210 150h10.5v10.5h-10.5z"/>
<path fill="#464646" d="M220 30h10.5v10.5h-10.5zM310 190h10.5v10.5h-10.5zM220 320h10.5v10.5h-10.5zM250 320h10.5v10.5h-10.5z"/>
<path fill="#474747" d="M190 160h10.5v10.5h-10.5zM280 160h10.5v10.5h-10.5zM160 190h10.5v10.5h-10.5zM320 250h10.5v10.5h-10.5z"/>
<path fill="#484848" d="M320 220h10.5v10.5h-10.5zM150 250h10.5v10.5h-10.5z"/>
<path fill="#494949" d="M150 220h10.5v10.5h-10.5zM300 290h10.5v10.5h-10.5zM180 300h10.5v10.5h-10.5zM290 300h10.5v10.5h-10.5zM230 320h20.5v10.5h-20.5z"/>
<path fill="#4a4a4a" d="M220 150h10.5v10.5h-10.5zM250 150h10.5v10.5h-10.5zM320 230h10.5v10.5h-10.5zM320 240h10.5v10.5h-10.5zM170 290h10.5v10.5h-10.5z"/>
<path fill="#4b4b4b" d="M150 240h10.5v10.5h-10.5z"/>
<path fill="#4c4c4c" d="M290 170h10.5v10.5h-10.5zM300 180h10.5v10.5h-10.5zM150 230h10.5v10.5h-10.5z"/>
<path fill="#4d4d4d" d="M230 150h20.5v10.5h-20.5zM180 170h10.5v10.5h-10.5zM170 180h10.5v10.5h-10.5z"/>
<path fill="#4f4f4f" d="M310 270h10.5v10.5h-10.5zM200 310h10.5v10.5h-10.5zM270 310h10.5v10.5h-10.5z"/>
<path fill="#505050" d="M160 270h10.5v10.5h-10.5z"/>
<path fill="#525252" d="M310 200h10.5v10.5h-10.5z"/>
<path fill="#535353" d="M200 160h10.5v10.5h-10.5zM270 160h10.5v10.5h-10.5zM160 200h10.5v10.5h-10.5z"/>
<path fill="#585858" d="M260 310h10.5v10.5h-10.5z"/>
<path fill="#595959" d="M300 280h10.5v10.5h-10.5zM190 300h10.5v10.5h-10.5zM280 300h10.5v10.5h-10.5zM210 310h10.5v10.5h-10.5z"/>
<path fill="#5a5a5a" d="M310 260h10.5v10.5h-10.5zM170 280h10.5v10.5h-10.5z"/>
<path fill="#5b5b5b" d="M310 210h10.5v10.5h-10.5zM160 260h10.5v10.5h-10.5z"/>
<path fill="#5c5c5c" d="M300 190h10.5v10.5h-10.5zM160 210h10.5v10.5h-10.5zM290 290h10.5v10.5h-10.5z"/>
<path fill="#5d5d5d" d="M260 160h10.5v10.5h-10.5zM190 170h10.5v10.5h-10.5zM280 170h10.5v10.5h-10.5zM170 190h10.5v10.5h-10.5zM180 290h10.5v10.5h-10.5z"/>
<path fill="#5e5e5e" d="M210 160h10.5v10.5h-10.5z"/>
<path fill="#5f5f5f" d="M250 310h10.5v10.5h-10.5z"/>
<path fill="#606060" d="M290 180h10.5v10.5h-10.5zM220 310h10.5v10.5h-10.5z"/>
<path fill="#616161" d="M180 180h10.5v10.5h-10.5zM310 250h10.5v10.5h-10.5z"/>
<path fill="#626262" d="M310 220h10.5v10.5h-10.5zM160 250h10.5v10.5h-10.5z"/>
<path fill="#636363" d="M160 220h10.5v10.5h-10.5zM230 310h20.5v10.5h-20.5z"/>
<path fill="#646464" d="M250 160h10.5v10.5h-10.5z"/>
<path fill="#656565" d="M220 160h10.5v10.5h-10.5zM310 230h10.5v10.5h-10.5zM310 240h10.5v10.5h-10.5z"/>
<path fill="#666666" d="M160 230h10.5v10.5h-10.5zM160 240h10.5v10.5h-10.5z"/>
<path fill="#676767" d="M200 300h10.5v10.5h-10.5zM270 300h10.5v10.5h-10.5z"/>
<path fill="#686868" d="M230 160h20.5v10.5h-20.5zM300 270h10.5v10.5h-10.5z"/>
<path fill="#696969" d="M170 270h10.5v10.5h-10.5z"/>
<path fill="#6a6a6a" d="M300 200h10.5v10.5h-10.5z"/>
<path fill="#6b6b6b" d="M270 170h10.5v10.5h-10.5zM170 200h10.5v10.5h-10.5z"/>
<path fill="#6c6c6c" d="M200 170h10.5v10.5h-10.5z"/>
<path fill="#6f6f6f" d="M290 280h10.5v10.5h-10.5zM280 290h10.5v10.5h-10.5z"/>
<path fill="#707070" d="M180 280h10.5v10.5h-10.5zM190 290h10.5v10.5h-10.5z"/>
<path fill="#737373" d="M280 180h10.5v10.5h-10.5zM180 190h10.5v10.5h-10.5zM290 190h10.5v10.5h-10.5zM210 300h10.5v10.5h-10.5zM260 300h10.5v10.5h-10.5z"/>
<path fill="#747474" d="M190 180h10.5v10.5h-10.5zM300 260h10.5v10.5h-10.5z"/>
<path fill="#757575" d="M170 260h10.5v10.5h-10.5z"/>
<path fill="#767676" d="M300 210h10.5v10.5h-10.5z"/>
<path fill="#777777" d="M170 210h10.5v10.5h-10.5z"/>
<path fill="#787878" d="M210 170h10.5v10.5h-10.5zM260 170h10.5v10.5h-10.5z"/>
<path fill="#7b7b7b" d="M220 300h10.5v10.5h-10.5zM250 300h10.5v10.5h-10.5z"/>
<path fill="#7d7d7d" d="M300 250h10.5v10.5h-10.5z"/>
<path fill="#7e7e7e" d="M300 220h10.5v10.5h-10.5zM170 250h10.5v10.5h-10.5z"/>
<path fill="#7f7f7f" d="M170 220h10.5v10.5h-10.5z"/>
<path fill="#808080" d="M250 170h10.5v10.5h-10.5zM290 270h10.5v10.5h-10.5zM200 290h10.5v10.5h-10.5zM270 290h10.5v10.5h-10.5zM230 300h20.5v10.5h-20.5z"/>
<path fill="#818181" d="M220 170h10.5v10.5h-10.5zM300 240h10.5v10.5h-10.5zM180 270h10.5v10.5h-10.5z"/>
<path fill="#828282" d="M300 230h10.5v10.5h-10.5z"/>
<path fill="#838383" d="M290 200h10.5v10.5h-10.5zM170 230h10.5v10.5h-10.5zM170 240h10.5v10.5h-10.5z"/>
<path fill="#848484" d="M270 180h10.5v10.5h-10.5zM180 200h10.5v10.5h-10.5zM280 280h10.5v10.5h-10.5z"/>
<path fill="#858585" d="M230 170h20.5v10.5h-20.5zM200 180h10.5v10.5h-10.5zM190 280h10.5v10.5h-10.5z"/>
<path fill="#888888" d="M280 190h10.5v10.5h-10.5z"/>
<path fill="#898989" d="M190 190h10.5v10.5h-10.5z"/>
<path fill="#8e8e8e" d="M210 290h10.5v10.5h-10.5zM260 290h10.5v10.5h-10.5z"/>
<path fill="#8f8f8f" d="M290 260h10.5v10.5h-10.5z"/>
<path fill="#909090" d="M180 260h10.5v10.5h-10.5z"/>
<path fill="#919191" d="M290 210h10.5v10.5h-10.5z"/>
<path fill="#929292" d="M180 210h10.5v10.5h-10.5z"/>
<path fill="#939393" d="M210 180h10.5v10.5h-10.5zM260 180h10.5v10.5h-10.5z"/>
<path fill="#979797" d="M250 290h10.5v10.5h-10.5z"/>
<path fill="#989898" d="M280 270h10.5v10.5h-10.5zM200 280h10.5v10.5h-10.5zM270 280h10.5v10.5h-10.5zM220 290h10.5v10.5h-10.5z"/>
<path fill="#999999" d="M290 250h10.5v10.5h-10.5zM190 270h10.5v10.5h-10.5z"/>
<path fill="#9a9a9a" d="M290 220h10.5v10.5h-10.5zM180 250h10.5v10.5h-10.5z"/>
<path fill="#9b9b9b" d="M280 200h10.5v10.5h-10.5z"/>
<path fill="#9c9c9c" d="M270 190h10.5v10.5h-10.5zM190 200h10.5v10.5h-10.5zM180 220h10.5v10.5h-10.5z"/>
<path fill="#9d9d9d" d="M220 180h10.5v10.5h-10.5zM250 180h10.5v10.5h-10.5zM200 190h10.5v10.5h-10.5zM230 290h20.5v10.5h-20.5z"/>
<path fill="#9f9f9f" d="M290 230h10.5v10.5h-10.5zM290 240h10.5v10.5h-10.5z"/>
<path fill="#a0a0a0" d="M180 230h10.5v10.5h-10.5zM180 240h10.5v10.5h-10.5z"/>
<path fill="#a2a2a2" d="M230 180h20.5v10.5h-20.5z"/>
<path fill="#a8a8a8" d="M280 260h10.5v10.5h-10.5zM210 280h10.5v10.5h-10.5zM260 280h10.5v10.5h-10.5z"/>
<path fill="#a9a9a9" d="M190 260h10.5v10.5h-10.5z"/>
<path fill="#ababab" d="M280 210h10.5v10.5h-10.5z"/>
<path fill="#acacac" d="M260 190h10.5v10.5h-10.5zM190 210h10.5v10.5h-10.5z"/>
<path fill="#adadad" d="M210 190h10.5v10.5h-10.5z"/>
<path fill="#aeaeae" d="M200 270h10.5v10.5h-10.5zM270 270h10.5v10.5h-10.5z"/>
<path fill="#b1b1b1" d="M270 200h10.5v10.5h-10.5z"/>
<path fill="#b2b2b2" d="M200 200h10.5v10.5h-10.5z"/>
<path fill="#b3b3b3" d="M220 280h10.5v10.5h-10.5zM250 280h10.5v10.5h-10.5z"/>
<path fill="#b4b4b4" d="M280 250h10.5v10.5h-10.5z"/>
<path fill="#b5b5b5" d="M190 250h10.5v10.5h-10.5z"/>
<path fill="#b6b6b6" d="M280 220h10.5v10.5h-10.5z"/>
<path fill="#b7b7b7" d="M190 220h10.5v10.5h-10.5z"/>
<path fill="#b8b8b8" d="M220 190h10.5v10.5h-10.5zM250 190h10.5v10.5h-10.5z"/>
<path fill="#b9b9b9" d="M230 280h20.5v10.5h-20.5z"/>
<path fill="#bbbbbb" d="M280 230h10.5v10.5h-10.5zM280 240h10.5v10.5h-10.5z"/>
<path fill="#bcbcbc" d="M190 230h10.5v10.5h-10.5zM190 240h10.5v10.5h-10.5z"/>
<path fill="#bebebe" d="M230 190h20.5v10.5h-20.5z"/>
<path fill="#bfbfbf" d="M260 270h10.5v10.5h-10.5z"/>
<path fill="#c0c0c0" d="M270 260h10.5v10.5h-10.5zM210 270h10.5v10.5h-10.5z"/>
<path fill="#c1c1c1" d="M200 260h10.5v10.5h-10.5z"/>
<path fill="#c3c3c3" d="M260 200h10.5v10.5h-10.5zM270 210h10.5v10.5h-10.5z"/>
<path fill="#c4c4c4" d="M210 200h10.5v10.5h-10.5zM200 210h10.5v10.5h-10.5z"/>
<path fill="#cccccc" d="M220 270h10.5v10.5h-10.5zM250 270h10.5v10.5h-10.5z"/>
<path fill="#cdcdcd" d="M270 250h10.5v10.5h-10.5z"/>
<path fill="#cecece" d="M200 250h10.5v10.5h-10.5z"/>
<path fill="#cfcfcf" d="M270 220h10.5v10.5h-10.5z"/>
<path fill="#d0d0d0" d="M250 200h10.5v10.5h-10.5zM200 220h10.5v10.5h-10.5z"/>
<path fill="#d1d1d1" d="M220 200h10.5v10.5h-10.5z"/>
<path fill="#d3d3d3" d="M260 260h10.5v10.5h-10.5zM230 270h20.5v10.5h-20.5z"/>
<path fill="#d4d4d4" d="M270 240h10.5v10.5h-10.5zM210 260h10.5v10.5h-10.5z"/>
<path fill="#d5d5d5" d="M270 230h10.5v10.5h-10.5zM200 240h10.5v10.5h-10.5z"/>
<path fill="#d6d6d6" d="M260 210h10.5v10.5h-10.5zM200 230h10.5v10.5h-10.5z"/>
<path fill="#d7d7d7" d="M230 200h20.5v10.5h-20.5zM210 210h10.5v10.5h-10.5z"/>
<path fill="#e1e1e1" d="M260 250h10.5v10.5h-10.5zM220 260h10.5v10.5h-10.5zM250 260h10.5v10.5h-10.5z"/>
<path fill="#e2e2e2" d="M210 250h10.5v10.5h-10.5z"/>
<path fill="#e3e3e3" d="M260 220h10.5v10.5h-10.5z"/>
<path fill="#e4e4e4" d="M220 210h10.5v10.5h-10.5zM250 210h10.5v10.5h-10.5zM210 220h10.5v10.5h-10.5z"/>
<path fill="#e8e8e8" d="M230 260h20.5v10.5h-20.5z"/>
<path fill="#e9e9e9" d="M260 230h10.5v10.5h-10.5zM260 240h10.5v10.5h-10.5z"/>
<path fill="#eaeaea" d="M210 230h10.5v10.5h-10.5zM210 240h10.5v10.5h-10.5z"/>
<path fill="#ebebeb" d="M230 210h20.5v10.5h-20.5z"/>
<path fill="#f0f0f0" d="M220 250h10.5v10.5h-10.5zM250 250h10.5v10.5h-10.5z"/>
<path fill="#f2f2f2" d="M220 220h10.5v10.5h-10.5zM250 220h10.5v10.5h-10.5z"/>
<path fill="#f8f8f8" d="M250 240h10.5v10.5h-10.5zM230 250h20.5v10.5h-20.5z"/>
<path fill="#f9f9f9" d="M250 230h10.5v10.5h-10.5zM220 240h10.5v10.5h-10.5z"/>
<path fill="#fafafa" d="M230 220h20.5v10.5h-20.5zM220 230h10.5v10.5h-10.5z"/>
<path fill="#ffffff" d="M230 230h20.5v10.5h-20.5zM230 240h20.5v10.5h-20.5z"/>
</g></g>
<path d="M834.80 117.62V527.30H1244.58" fill="none" stroke="#262626" stroke-width="1.3" stroke-opacity="0.5"/>
<path d="M834.90 527.30v10.6M834.90 117.62v-10.6M834.90 527.30h-10.6M1244.58 527.30h10.6M915.23 527.30v10.6M915.23 117.62v-10.6M834.90 446.97h-10.6M1244.58 446.97h10.6M995.56 527.30v10.6M995.56 117.62v-10.6M834.90 366.64h-10.6M1244.58 366.64h10.6M1075.89 527.30v10.6M1075.89 117.62v-10.6M834.90 286.31h-10.6M1244.58 286.31h10.6M1156.22 527.30v10.6M1156.22 117.62v-10.6M834.90 205.98h-10.6M1244.58 205.98h10.6M1236.55 527.30v10.6M1236.55 117.62v-10.6M834.90 125.65h-10.6M1244.58 125.65h10.6" stroke="#262626" stroke-width="1.7" fill="none"/>
<text class="tk" x="834.90" y="581.50" text-anchor="middle">0</text>
<text class="tk" x="812.50" y="539.90" text-anchor="end">0</text>
<text class="tk" x="915.23" y="581.50" text-anchor="middle">0.1</text>
<text class="tk" x="812.50" y="459.57" text-anchor="end">0.1</text>
<text class="tk" x="995.56" y="581.50" text-anchor="middle">0.2</text>
<text class="tk" x="812.50" y="379.24" text-anchor="end">0.2</text>
<text class="tk" x="1075.89" y="581.50" text-anchor="middle">0.3</text>
<text class="tk" x="812.50" y="298.91" text-anchor="end">0.3</text>
<text class="tk" x="1156.22" y="581.50" text-anchor="middle">0.4</text>
<text class="tk" x="812.50" y="218.58" text-anchor="end">0.4</text>
<text class="tk" x="1236.55" y="581.50" text-anchor="middle">0.5</text>
<text class="tk" x="812.50" y="138.25" text-anchor="end">0.5</text>
<text class="lb" x="1039.74" y="627.30" text-anchor="middle">X (m)</text>
<text class="lb" transform="translate(752.50 322.46) rotate(-90)" text-anchor="middle">Y (m)</text>
<text class="tt" transform="translate(1040.34 100.42) scale(.978 1)" text-anchor="middle"><tspan font-style="italic">N</tspan> = 9, Arr04, Loc. 1.4, F</text>
<text class="pl" x="762.50" y="109.22" text-anchor="end">(c)</text>
<rect x="1278.05" y="118.77" width="38.9" height="406.50" fill="url(#jg)" stroke="#1a1a1a" stroke-width="1.2"/>
<text class="cb" x="1329.25" y="516.41">0.2</text>
<text class="cb" x="1329.25" y="420.65">0.4</text>
<text class="cb" x="1329.25" y="324.89">0.6</text>
<text class="cb" x="1329.25" y="229.13">0.8</text>
<text class="cb" x="1329.25" y="133.37">1</text>
<path d="M1316.95 501.81h-5M1316.95 406.05h-5M1316.95 310.29h-5M1316.95 214.53h-5" stroke="#262626" stroke-width="1.4" fill="none"/>
<path d="M1035.9 329.7h19.2l-9.6 -18.8z" fill="#bdbdbd" stroke="#cfe9e9" stroke-width="0.8"/>
<path d="M1032.3 322.6h26.6M1045.6 309.3v26.6" stroke="#fff" stroke-width="4.7" fill="none"/>
<clipPath id="cld"><rect x="1518.25" y="116.67" width="410.23" height="410.43"/></clipPath>
<g clip-path="url(#cld)"><g filter="url(#jet)" transform="translate(1488.25 86.67)">
<path fill="#141414" d="M120 120h10.5v10.5h-10.5zM120 130h20.5v10.5h-20.5z"/>
<path fill="#151515" d="M130 120h10.5v10.5h-10.5zM130 140h10.5v10.5h-10.5z"/>
<path fill="#161616" d="M110 120h10.5v10.5h-10.5zM110 130h10.5v10.5h-10.5zM140 130h10.5v10.5h-10.5zM120 140h10.5v10.5h-10.5z"/>
<path fill="#171717" d="M120 110h10.5v10.5h-10.5zM140 140h10.5v10.5h-10.5z"/>
<path fill="#181818" d="M110 110h10.5v10.5h-10.5zM100 120h10.5v10.5h-10.5zM140 120h10.5v10.5h-10.5zM110 140h10.5v10.5h-10.5z"/>
<path fill="#191919" d="M130 110h10.5v10.5h-10.5zM130 150h10.5v10.5h-10.5zM340 330h10.5v10.5h-10.5zM340 340h10.5v10.5h-10.5z"/>
<path fill="#1a1a1a" d="M100 110h10.5v10.5h-10.5zM100 130h10.5v10.5h-10.5zM150 130h10.5v10.5h-10.5zM120 150h10.5v10.5h-10.5zM330 330h10.5v10.5h-10.5zM330 340h10.5v10.5h-10.5z"/>
<path fill="#1b1b1b" d="M110 100h10.5v10.5h-10.5zM150 140h10.5v10.5h-10.5zM350 330h10.5v10.5h-10.5zM350 340h10.5v10.5h-10.5z"/>
<path fill="#1c1c1c" d="M120 100h10.5v10.5h-10.5zM150 120h10.5v10.5h-10.5zM100 140h10.5v10.5h-10.5zM110 150h10.5v10.5h-10.5zM140 150h10.5v10.5h-10.5zM330 320h20.5v10.5h-20.5zM340 350h10.5v10.5h-10.5z"/>
<path fill="#1d1d1d" d="M100 100h10.5v10.5h-10.5zM140 110h10.5v10.5h-10.5zM350 320h10.5v10.5h-10.5zM320 330h10.5v10.5h-10.5zM320 340h10.5v10.5h-10.5zM330 350h10.5v10.5h-10.5zM350 350h10.5v10.5h-10.5z"/>
<path fill="#1e1e1e" d="M360 330h10.5v10.5h-10.5zM360 340h10.5v10.5h-10.5z"/>
<path fill="#1f1f1f" d="M130 100h10.5v10.5h-10.5zM90 110h10.5v10.5h-10.5zM90 130h10.5v10.5h-10.5zM100 150h10.5v10.5h-10.5zM120 160h10.5v10.5h-10.5zM320 320h10.5v10.5h-10.5zM320 350h10.5v10.5h-10.5z"/>
<path fill="#202020" d="M410 50h10.5v10.5h-10.5zM100 90h20.5v10.5h-20.5zM90 100h10.5v10.5h-10.5zM90 120h10.5v10.5h-10.5zM160 130h10.5v10.5h-10.5zM130 160h10.5v10.5h-10.5zM340 310h10.5v10.5h-10.5zM360 320h10.5v10.5h-10.5zM360 350h10.5v10.5h-10.5zM340 360h10.5v10.5h-10.5z"/>
<path fill="#212121" d="M400 0h20.5v10.5h-20.5zM400 10h20.5v10.5h-20.5zM400 20h20.5v10.5h-20.5zM400 30h20.5v10.5h-20.5zM410 40h10.5v10.5h-10.5zM410 60h10.5v10.5h-10.5zM90 90h10.5v10.5h-10.5zM90 140h10.5v10.5h-10.5zM110 160h10.5v10.5h-10.5zM330 310h10.5v10.5h-10.5zM350 310h10.5v10.5h-10.5zM310 330h10.5v10.5h-10.5zM310 340h10.5v10.5h-10.5zM330 360h10.5v10.5h-10.5zM350 360h10.5v10.5h-10.5z"/>
<path fill="#222222" d="M390 0h10.5v10.5h-10.5zM390 10h10.5v10.5h-10.5zM390 20h10.5v10.5h-10.5zM390 30h10.5v10.5h-10.5zM420 30h10.5v10.5h-10.5zM400 40h10.5v10.5h-10.5zM420 40h10.5v10.5h-10.5zM400 50h10.5v10.5h-10.5zM420 50h10.5v10.5h-10.5zM120 90h10.5v10.5h-10.5zM150 110h10.5v10.5h-10.5zM150 150h10.5v10.5h-10.5z"/>
<path fill="#232323" d="M370 0h20.5v10.5h-20.5zM420 0h10.5v10.5h-10.5zM370 10h20.5v10.5h-20.5zM420 10h10.5v10.5h-10.5zM370 20h20.5v10.5h-20.5zM420 20h10.5v10.5h-10.5zM370 30h20.5v10.5h-20.5zM350 40h20.5v10.5h-20.5zM360 50h10.5v10.5h-10.5zM400 60h10.5v10.5h-10.5zM420 60h10.5v10.5h-10.5zM80 90h10.5v10.5h-10.5zM80 100h10.5v10.5h-10.5zM160 120h10.5v10.5h-10.5zM160 140h10.5v10.5h-10.5zM90 150h10.5v10.5h-10.5zM360 310h10.5v10.5h-10.5zM370 330h10.5v10.5h-10.5zM370 340h10.5v10.5h-10.5zM320 360h10.5v10.5h-10.5z"/>
<path fill="#242424" d="M340 0h30.5v10.5h-30.5zM340 10h30.5v10.5h-30.5zM340 20h30.5v10.5h-30.5zM340 30h30.5v10.5h-30.5zM370 40h30.5v10.5h-30.5zM350 50h10.5v10.5h-10.5zM390 50h10.5v10.5h-10.5zM390 60h10.5v10.5h-10.5zM80 80h30.5v10.5h-30.5zM140 100h10.5v10.5h-10.5zM100 160h10.5v10.5h-10.5zM140 160h10.5v10.5h-10.5zM320 310h10.5v10.5h-10.5zM310 320h10.5v10.5h-10.5zM370 320h10.5v10.5h-10.5zM310 350h10.5v10.5h-10.5zM370 350h10.5v10.5h-10.5zM360 360h10.5v10.5h-10.5z"/>
<path fill="#252525" d="M330 20h10.5v10.5h-10.5zM340 40h10.5v10.5h-10.5zM430 40h10.5v10.5h-10.5zM370 50h20.5v10.5h-20.5zM430 50h10.5v10.5h-10.5zM380 60h10.5v10.5h-10.5zM80 110h10.5v10.5h-10.5zM80 130h10.5v10.5h-10.5zM80 140h10.5v10.5h-10.5zM120 170h10.5v10.5h-10.5zM340 370h10.5v10.5h-10.5zM340 440h20.5v10.5h-20.5z"/>
<path fill="#262626" d="M330 0h10.5v10.5h-10.5zM430 0h10.5v10.5h-10.5zM330 10h10.5v10.5h-10.5zM430 10h10.5v10.5h-10.5zM430 20h10.5v10.5h-10.5zM330 30h10.5v10.5h-10.5zM430 30h10.5v10.5h-10.5zM450 40h30.5v10.5h-30.5zM340 50h10.5v10.5h-10.5zM450 50h30.5v10.5h-30.5zM430 60h10.5v10.5h-10.5zM450 60h10.5v10.5h-10.5zM470 60h10.5v10.5h-10.5zM380 70h10.5v10.5h-10.5zM110 80h10.5v10.5h-10.5zM130 90h10.5v10.5h-10.5zM80 120h10.5v10.5h-10.5zM340 300h20.5v10.5h-20.5zM330 370h10.5v10.5h-10.5zM350 370h10.5v10.5h-10.5zM320 440h20.5v10.5h-20.5zM360 440h10.5v10.5h-10.5zM340 450h30.5v10.5h-30.5zM330 460h40.5v10.5h-40.5zM330 470h40.5v10.5h-40.5z"/>
<path fill="#272727" d="M320 0h10.5v10.5h-10.5zM440 0h40.5v10.5h-40.5zM320 10h10.5v10.5h-10.5zM440 10h40.5v10.5h-40.5zM320 20h10.5v10.5h-10.5zM440 20h40.5v10.5h-40.5zM440 30h40.5v10.5h-40.5zM330 40h10.5v10.5h-10.5zM440 40h10.5v10.5h-10.5zM440 50h10.5v10.5h-10.5zM350 60h30.5v10.5h-30.5zM440 60h10.5v10.5h-10.5zM460 60h10.5v10.5h-10.5zM370 70h10.5v10.5h-10.5zM390 70h20.5v10.5h-20.5zM420 70h20.5v10.5h-20.5zM450 70h30.5v10.5h-30.5zM430 80h10.5v10.5h-10.5zM70 90h10.5v10.5h-10.5zM80 150h10.5v10.5h-10.5zM370 310h10.5v10.5h-10.5zM310 360h10.5v10.5h-10.5zM370 360h10.5v10.5h-10.5zM320 370h10.5v10.5h-10.5zM360 370h10.5v10.5h-10.5zM340 430h20.5v10.5h-20.5zM310 440h10.5v10.5h-10.5zM370 440h10.5v10.5h-10.5zM320 450h20.5v10.5h-20.5zM320 460h10.5v10.5h-10.5zM370 460h10.5v10.5h-10.5zM320 470h10.5v10.5h-10.5zM370 470h10.5v10.5h-10.5z"/>
<path fill="#282828" d="M320 30h10.5v10.5h-10.5zM80 70h10.5v10.5h-10.5zM410 70h10.5v10.5h-10.5zM440 70h10.5v10.5h-10.5zM70 80h10.5v10.5h-10.5zM450 80h30.5v10.5h-30.5zM70 100h10.5v10.5h-10.5zM70 110h10.5v10.5h-10.5zM170 130h10.5v10.5h-10.5zM90 160h10.5v10.5h-10.5zM130 170h10.5v10.5h-10.5zM330 300h10.5v10.5h-10.5zM360 300h10.5v10.5h-10.5zM300 330h10.5v10.5h-10.5zM380 330h10.5v10.5h-10.5zM300 340h10.5v10.5h-10.5zM380 340h10.5v10.5h-10.5zM320 430h20.5v10.5h-20.5zM360 430h10.5v10.5h-10.5zM380 440h10.5v10.5h-10.5zM310 450h10.5v10.5h-10.5zM370 450h10.5v10.5h-10.5zM310 460h10.5v10.5h-10.5zM380 460h10.5v10.5h-10.5zM310 470h10.5v10.5h-10.5zM380 470h10.5v10.5h-10.5z"/>
<path fill="#292929" d="M320 40h10.5v10.5h-10.5zM330 50h10.5v10.5h-10.5zM90 70h10.5v10.5h-10.5zM120 80h10.5v10.5h-10.5zM420 80h10.5v10.5h-10.5zM440 80h10.5v10.5h-10.5zM160 110h10.5v10.5h-10.5zM70 120h10.5v10.5h-10.5zM70 130h10.5v10.5h-10.5zM70 140h10.5v10.5h-10.5zM110 170h10.5v10.5h-10.5zM380 320h10.5v10.5h-10.5zM380 350h10.5v10.5h-10.5zM370 430h10.5v10.5h-10.5zM300 440h10.5v10.5h-10.5zM390 440h10.5v10.5h-10.5zM380 450h10.5v10.5h-10.5zM300 460h10.5v10.5h-10.5z"/>
<path fill="#2a2a2a" d="M310 0h10.5v10.5h-10.5zM310 10h10.5v10.5h-10.5zM310 20h10.5v10.5h-10.5zM340 60h10.5v10.5h-10.5zM100 70h10.5v10.5h-10.5zM360 70h10.5v10.5h-10.5zM380 80h20.5v10.5h-20.5zM430 90h50.5v10.5h-50.5zM150 100h10.5v10.5h-10.5zM160 150h10.5v10.5h-10.5zM370 300h10.5v10.5h-10.5zM310 310h10.5v10.5h-10.5zM300 350h10.5v10.5h-10.5zM310 370h10.5v10.5h-10.5zM370 370h10.5v10.5h-10.5zM330 380h30.5v10.5h-30.5zM340 420h20.5v10.5h-20.5zM310 430h10.5v10.5h-10.5zM380 430h10.5v10.5h-10.5zM290 440h10.5v10.5h-10.5zM300 450h10.5v10.5h-10.5zM390 450h10.5v10.5h-10.5zM390 460h10.5v10.5h-10.5zM300 470h10.5v10.5h-10.5zM390 470h10.5v10.5h-10.5z"/>
<path fill="#2b2b2b" d="M310 30h10.5v10.5h-10.5zM70 70h10.5v10.5h-10.5zM370 80h10.5v10.5h-10.5zM400 80h10.5v10.5h-10.5zM420 90h10.5v10.5h-10.5zM170 120h10.5v10.5h-10.5zM70 150h10.5v10.5h-10.5zM80 160h10.5v10.5h-10.5zM100 170h10.5v10.5h-10.5zM320 300h10.5v10.5h-10.5zM380 310h10.5v10.5h-10.5zM300 320h10.5v10.5h-10.5zM380 360h10.5v10.5h-10.5zM320 380h10.5v10.5h-10.5zM360 380h10.5v10.5h-10.5zM330 420h10.5v10.5h-10.5zM360 420h10.5v10.5h-10.5zM300 430h10.5v10.5h-10.5zM390 430h10.5v10.5h-10.5zM400 440h10.5v10.5h-10.5zM290 450h10.5v10.5h-10.5zM290 460h10.5v10.5h-10.5zM400 460h10.5v10.5h-10.5zM290 470h10.5v10.5h-10.5zM400 470h10.5v10.5h-10.5z"/>
<path fill="#2c2c2c" d="M310 40h10.5v10.5h-10.5zM320 50h10.5v10.5h-10.5zM350 70h10.5v10.5h-10.5zM60 90h10.5v10.5h-10.5zM60 100h10.5v10.5h-10.5zM60 110h10.5v10.5h-10.5zM60 120h10.5v10.5h-10.5zM60 130h10.5v10.5h-10.5zM60 140h10.5v10.5h-10.5zM170 140h10.5v10.5h-10.5zM150 160h10.5v10.5h-10.5zM350 290h10.5v10.5h-10.5zM300 360h10.5v10.5h-10.5zM370 380h10.5v10.5h-10.5zM330 390h10.5v10.5h-10.5zM350 390h10.5v10.5h-10.5zM330 410h30.5v10.5h-30.5zM320 420h10.5v10.5h-10.5zM370 420h10.5v10.5h-10.5zM280 440h10.5v10.5h-10.5zM400 450h10.5v10.5h-10.5z"/>
<path fill="#2d2d2d" d="M330 60h10.5v10.5h-10.5zM110 70h10.5v10.5h-10.5zM60 80h10.5v10.5h-10.5zM140 90h10.5v10.5h-10.5zM390 90h30.5v10.5h-30.5zM420 100h60.5v10.5h-60.5zM340 290h10.5v10.5h-10.5zM360 290h10.5v10.5h-10.5zM320 390h10.5v10.5h-10.5zM340 390h10.5v10.5h-10.5zM360 390h10.5v10.5h-10.5zM330 400h40.5v10.5h-40.5zM360 410h10.5v10.5h-10.5zM380 420h10.5v10.5h-10.5zM290 430h10.5v10.5h-10.5zM400 430h10.5v10.5h-10.5zM270 440h10.5v10.5h-10.5zM410 440h10.5v10.5h-10.5zM280 450h10.5v10.5h-10.5zM280 460h10.5v10.5h-10.5zM280 470h10.5v10.5h-10.5z"/>
<path fill="#2e2e2e" d="M300 20h10.5v10.5h-10.5zM80 60h10.5v10.5h-10.5zM360 80h10.5v10.5h-10.5zM410 80h10.5v10.5h-10.5zM380 90h10.5v10.5h-10.5zM410 100h10.5v10.5h-10.5zM50 130h10.5v10.5h-10.5zM60 150h10.5v10.5h-10.5zM70 160h10.5v10.5h-10.5zM90 170h10.5v10.5h-10.5zM380 300h10.5v10.5h-10.5zM390 340h10.5v10.5h-10.5zM380 370h10.5v10.5h-10.5zM310 380h10.5v10.5h-10.5zM370 390h10.5v10.5h-10.5zM320 400h10.5v10.5h-10.5zM370 400h10.5v10.5h-10.5zM320 410h10.5v10.5h-10.5zM370 410h10.5v10.5h-10.5zM310 420h10.5v10.5h-10.5zM260 440h10.5v10.5h-10.5zM410 450h10.5v10.5h-10.5zM270 460h10.5v10.5h-10.5zM410 460h10.5v10.5h-10.5zM270 470h10.5v10.5h-10.5zM410 470h10.5v10.5h-10.5z"/>
<path fill="#2f2f2f" d="M300 0h10.5v10.5h-10.5zM300 10h10.5v10.5h-10.5zM300 30h10.5v10.5h-10.5zM310 50h10.5v10.5h-10.5zM70 60h10.5v10.5h-10.5zM90 60h10.5v10.5h-10.5zM60 70h10.5v10.5h-10.5zM130 80h10.5v10.5h-10.5zM400 100h10.5v10.5h-10.5zM420 110h10.5v10.5h-10.5zM50 120h10.5v10.5h-10.5zM50 140h10.5v10.5h-10.5zM330 290h10.5v10.5h-10.5zM370 290h10.5v10.5h-10.5zM390 320h10.5v10.5h-10.5zM390 330h10.5v10.5h-10.5zM300 370h10.5v10.5h-10.5zM380 380h10.5v10.5h-10.5zM310 410h10.5v10.5h-10.5zM380 410h10.5v10.5h-10.5zM390 420h10.5v10.5h-10.5zM280 430h10.5v10.5h-10.5zM410 430h10.5v10.5h-10.5zM270 450h10.5v10.5h-10.5zM260 460h10.5v10.5h-10.5z"/>
<path fill="#303030" d="M340 70h10.5v10.5h-10.5zM370 90h10.5v10.5h-10.5zM390 100h10.5v10.5h-10.5zM50 110h10.5v10.5h-10.5zM170 110h10.5v10.5h-10.5zM410 110h10.5v10.5h-10.5zM430 110h50.5v10.5h-50.5zM40 130h10.5v10.5h-10.5zM50 150h10.5v10.5h-10.5zM390 350h10.5v10.5h-10.5zM310 390h10.5v10.5h-10.5zM380 390h10.5v10.5h-10.5zM310 400h10.5v10.5h-10.5zM380 400h10.5v10.5h-10.5zM300 420h10.5v10.5h-10.5zM250 440h10.5v10.5h-10.5zM260 450h10.5v10.5h-10.5zM260 470h10.5v10.5h-10.5z"/>
<path fill="#313131" d="M300 40h10.5v10.5h-10.5zM60 60h10.5v10.5h-10.5zM100 60h10.5v10.5h-10.5zM320 60h10.5v10.5h-10.5zM50 100h10.5v10.5h-10.5zM160 100h10.5v10.5h-10.5zM40 120h10.5v10.5h-10.5zM40 140h10.5v10.5h-10.5zM60 160h10.5v10.5h-10.5zM80 170h10.5v10.5h-10.5zM140 170h10.5v10.5h-10.5zM310 300h10.5v10.5h-10.5zM300 310h10.5v10.5h-10.5zM390 310h10.5v10.5h-10.5zM390 360h10.5v10.5h-10.5zM390 410h10.5v10.5h-10.5zM400 420h10.5v10.5h-10.5zM270 430h10.5v10.5h-10.5zM420 440h10.5v10.5h-10.5zM250 460h10.5v10.5h-10.5zM250 470h10.5v10.5h-10.5z"/>
<path fill="#323232" d="M300 50h10.5v10.5h-10.5zM120 70h10.5v10.5h-10.5zM50 80h10.5v10.5h-10.5zM350 80h10.5v10.5h-10.5zM50 90h10.5v10.5h-10.5zM380 100h10.5v10.5h-10.5zM400 110h10.5v10.5h-10.5zM10 130h10.5v10.5h-10.5zM30 130h10.5v10.5h-10.5zM30 140h10.5v10.5h-10.5zM40 150h10.5v10.5h-10.5zM380 290h10.5v10.5h-10.5zM290 340h10.5v10.5h-10.5zM290 350h10.5v10.5h-10.5zM390 370h10.5v10.5h-10.5zM300 380h10.5v10.5h-10.5zM300 410h10.5v10.5h-10.5zM260 430h10.5v10.5h-10.5zM240 440h10.5v10.5h-10.5zM250 450h10.5v10.5h-10.5zM420 450h10.5v10.5h-10.5zM420 460h10.5v10.5h-10.5zM420 470h10.5v10.5h-10.5z"/>
<path fill="#333333" d="M0 0h40.5v10.5h-40.5zM0 10h40.5v10.5h-40.5zM0 20h40.5v10.5h-40.5zM0 30h40.5v10.5h-40.5zM50 70h10.5v10.5h-10.5zM360 90h10.5v10.5h-10.5zM40 110h10.5v10.5h-10.5zM410 120h30.5v10.5h-30.5zM0 130h10.5v10.5h-10.5zM20 130h10.5v10.5h-10.5zM0 140h30.5v10.5h-30.5zM170 150h10.5v10.5h-10.5zM50 160h10.5v10.5h-10.5zM70 170h10.5v10.5h-10.5zM350 280h20.5v10.5h-20.5zM320 290h10.5v10.5h-10.5zM390 300h10.5v10.5h-10.5zM290 330h10.5v10.5h-10.5zM390 380h10.5v10.5h-10.5zM300 390h10.5v10.5h-10.5zM390 390h10.5v10.5h-10.5zM300 400h10.5v10.5h-10.5zM390 400h10.5v10.5h-10.5zM290 420h10.5v10.5h-10.5zM250 430h10.5v10.5h-10.5zM420 430h10.5v10.5h-10.5zM240 460h10.5v10.5h-10.5zM240 470h10.5v10.5h-10.5z"/>
<path fill="#343434" d="M290 20h10.5v10.5h-10.5zM60 50h30.5v10.5h-30.5zM50 60h10.5v10.5h-10.5zM330 70h10.5v10.5h-10.5zM150 90h10.5v10.5h-10.5zM390 110h10.5v10.5h-10.5zM0 120h20.5v10.5h-20.5zM30 120h10.5v10.5h-10.5zM440 120h40.5v10.5h-40.5zM180 130h10.5v10.5h-10.5zM0 150h40.5v10.5h-40.5zM40 160h10.5v10.5h-10.5zM160 160h10.5v10.5h-10.5zM120 180h10.5v10.5h-10.5zM370 280h10.5v10.5h-10.5zM290 360h10.5v10.5h-10.5zM400 410h10.5v10.5h-10.5zM410 420h10.5v10.5h-10.5zM240 450h10.5v10.5h-10.5z"/>
<path fill="#353535" d="M290 0h10.5v10.5h-10.5zM290 10h10.5v10.5h-10.5zM0 40h40.5v10.5h-40.5zM50 50h10.5v10.5h-10.5zM90 50h10.5v10.5h-10.5zM110 60h10.5v10.5h-10.5zM310 60h10.5v10.5h-10.5zM40 100h10.5v10.5h-10.5zM370 100h10.5v10.5h-10.5zM20 120h10.5v10.5h-10.5zM180 120h10.5v10.5h-10.5zM400 120h10.5v10.5h-10.5zM60 170h10.5v10.5h-10.5zM110 180h10.5v10.5h-10.5zM340 280h10.5v10.5h-10.5zM390 290h10.5v10.5h-10.5zM290 410h10.5v10.5h-10.5zM230 440h10.5v10.5h-10.5z"/>
<path fill="#363636" d="M40 0h10.5v10.5h-10.5zM40 10h10.5v10.5h-10.5zM40 20h10.5v10.5h-10.5zM40 30h10.5v10.5h-10.5zM290 30h10.5v10.5h-10.5zM40 40h10.5v10.5h-10.5zM40 50h10.5v10.5h-10.5zM290 50h10.5v10.5h-10.5zM140 80h10.5v10.5h-10.5zM30 110h10.5v10.5h-10.5zM0 160h40.5v10.5h-40.5zM50 170h10.5v10.5h-10.5zM380 280h10.5v10.5h-10.5zM290 320h10.5v10.5h-10.5zM400 320h10.5v10.5h-10.5zM400 330h10.5v10.5h-10.5zM400 340h10.5v10.5h-10.5zM290 370h10.5v10.5h-10.5zM400 400h10.5v10.5h-10.5zM280 420h10.5v10.5h-10.5zM240 430h10.5v10.5h-10.5zM430 440h10.5v10.5h-10.5zM230 460h10.5v10.5h-10.5z"/>
<path fill="#373737" d="M50 40h20.5v10.5h-20.5zM0 50h40.5v10.5h-40.5zM40 60h10.5v10.5h-10.5zM40 70h10.5v10.5h-10.5zM40 80h10.5v10.5h-10.5zM340 80h10.5v10.5h-10.5zM40 90h10.5v10.5h-10.5zM170 100h10.5v10.5h-10.5zM0 110h30.5v10.5h-30.5zM380 110h10.5v10.5h-10.5zM420 130h20.5v10.5h-20.5zM180 140h10.5v10.5h-10.5zM40 170h10.5v10.5h-10.5zM100 180h10.5v10.5h-10.5zM400 310h10.5v10.5h-10.5zM400 350h10.5v10.5h-10.5zM400 360h10.5v10.5h-10.5zM290 380h10.5v10.5h-10.5zM400 390h10.5v10.5h-10.5zM290 400h10.5v10.5h-10.5zM410 410h10.5v10.5h-10.5zM270 420h10.5v10.5h-10.5zM450 440h10.5v10.5h-10.5zM470 440h10.5v10.5h-10.5zM230 450h10.5v10.5h-10.5zM430 450h10.5v10.5h-10.5zM430 460h10.5v10.5h-10.5zM230 470h10.5v10.5h-10.5zM430 470h10.5v10.5h-10.5z"/>
<path fill="#383838" d="M50 30h10.5v10.5h-10.5zM70 40h10.5v10.5h-10.5zM100 50h10.5v10.5h-10.5zM130 70h10.5v10.5h-10.5zM350 90h10.5v10.5h-10.5zM390 120h10.5v10.5h-10.5zM410 130h10.5v10.5h-10.5zM440 130h40.5v10.5h-40.5zM80 180h20.5v10.5h-20.5zM130 180h10.5v10.5h-10.5zM330 280h10.5v10.5h-10.5zM390 280h10.5v10.5h-10.5zM400 300h10.5v10.5h-10.5zM400 370h10.5v10.5h-10.5zM400 380h10.5v10.5h-10.5zM290 390h10.5v10.5h-10.5zM420 420h10.5v10.5h-10.5zM430 430h10.5v10.5h-10.5zM440 440h10.5v10.5h-10.5zM460 440h10.5v10.5h-10.5zM450 450h10.5v10.5h-10.5zM450 460h30.5v10.5h-30.5zM450 470h30.5v10.5h-30.5z"/>
<path fill="#393939" d="M50 0h10.5v10.5h-10.5zM50 10h10.5v10.5h-10.5zM50 20h10.5v10.5h-10.5zM80 40h10.5v10.5h-10.5zM0 60h40.5v10.5h-40.5zM300 60h10.5v10.5h-10.5zM320 70h10.5v10.5h-10.5zM30 100h10.5v10.5h-10.5zM360 100h10.5v10.5h-10.5zM180 110h10.5v10.5h-10.5zM0 170h40.5v10.5h-40.5zM150 170h10.5v10.5h-10.5zM60 180h20.5v10.5h-20.5zM360 270h20.5v10.5h-20.5zM400 290h10.5v10.5h-10.5zM300 300h10.5v10.5h-10.5zM280 410h10.5v10.5h-10.5zM260 420h10.5v10.5h-10.5zM230 430h10.5v10.5h-10.5zM220 440h10.5v10.5h-10.5zM440 450h10.5v10.5h-10.5zM460 450h20.5v10.5h-20.5zM440 460h10.5v10.5h-10.5zM440 470h10.5v10.5h-10.5z"/>
<path fill="#3a3a3a" d="M280 20h10.5v10.5h-10.5zM120 60h10.5v10.5h-10.5zM160 90h10.5v10.5h-10.5zM0 100h30.5v10.5h-30.5zM370 110h10.5v10.5h-10.5zM400 130h10.5v10.5h-10.5zM50 180h10.5v10.5h-10.5zM380 270h10.5v10.5h-10.5zM310 290h10.5v10.5h-10.5zM410 400h10.5v10.5h-10.5zM250 420h10.5v10.5h-10.5zM450 430h30.5v10.5h-30.5zM220 460h10.5v10.5h-10.5zM220 470h10.5v10.5h-10.5z"/>
<path fill="#3b3b3b" d="M280 0h10.5v10.5h-10.5zM280 10h10.5v10.5h-10.5zM60 30h10.5v10.5h-10.5zM90 40h10.5v10.5h-10.5zM290 40h10.5v10.5h-10.5zM0 70h20.5v10.5h-20.5zM30 70h10.5v10.5h-10.5zM0 180h50.5v10.5h-50.5zM350 270h10.5v10.5h-10.5zM400 280h10.5v10.5h-10.5zM410 390h10.5v10.5h-10.5zM420 410h10.5v10.5h-10.5zM440 430h10.5v10.5h-10.5zM220 450h10.5v10.5h-10.5z"/>
<path fill="#3c3c3c" d="M60 0h10.5v10.5h-10.5zM60 10h10.5v10.5h-10.5zM60 20h10.5v10.5h-10.5zM280 30h10.5v10.5h-10.5zM110 50h10.5v10.5h-10.5zM20 70h10.5v10.5h-10.5zM330 80h10.5v10.5h-10.5zM10 90h10.5v10.5h-10.5zM30 90h10.5v10.5h-10.5zM380 120h10.5v10.5h-10.5zM420 140h60.5v10.5h-60.5zM390 270h10.5v10.5h-10.5zM320 280h10.5v10.5h-10.5zM290 310h10.5v10.5h-10.5zM280 400h10.5v10.5h-10.5zM270 410h10.5v10.5h-10.5z"/>
<path fill="#3d3d3d" d="M270 20h10.5v10.5h-10.5zM70 30h10.5v10.5h-10.5zM10 80h10.5v10.5h-10.5zM30 80h10.5v10.5h-10.5zM0 90h10.5v10.5h-10.5zM20 90h10.5v10.5h-10.5zM390 130h10.5v10.5h-10.5zM410 140h10.5v10.5h-10.5zM180 150h10.5v10.5h-10.5zM170 160h10.5v10.5h-10.5zM340 270h10.5v10.5h-10.5zM410 300h10.5v10.5h-10.5zM410 310h10.5v10.5h-10.5zM410 320h10.5v10.5h-10.5zM280 340h10.5v10.5h-10.5zM280 350h10.5v10.5h-10.5zM280 360h10.5v10.5h-10.5zM280 370h10.5v10.5h-10.5zM410 380h10.5v10.5h-10.5zM280 390h10.5v10.5h-10.5zM240 420h10.5v10.5h-10.5zM430 420h10.5v10.5h-10.5zM220 430h10.5v10.5h-10.5zM210 440h10.5v10.5h-10.5z"/>
<path fill="#3e3e3e" d="M70 0h10.5v10.5h-10.5zM270 0h10.5v10.5h-10.5zM70 10h10.5v10.5h-10.5zM270 10h10.5v10.5h-10.5zM100 40h10.5v10.5h-10.5zM310 70h10.5v10.5h-10.5zM0 80h10.5v10.5h-10.5zM20 80h10.5v10.5h-10.5zM150 80h10.5v10.5h-10.5zM340 90h10.5v10.5h-10.5zM180 100h10.5v10.5h-10.5zM0 190h60.5v10.5h-60.5zM400 270h10.5v10.5h-10.5zM410 290h10.5v10.5h-10.5zM410 330h10.5v10.5h-10.5zM410 340h10.5v10.5h-10.5zM410 360h10.5v10.5h-10.5zM410 370h10.5v10.5h-10.5zM280 380h10.5v10.5h-10.5zM420 400h10.5v10.5h-10.5zM450 420h10.5v10.5h-10.5zM210 460h10.5v10.5h-10.5z"/>
<path fill="#3f3f3f" d="M70 20h10.5v10.5h-10.5zM80 30h10.5v10.5h-10.5zM290 60h10.5v10.5h-10.5zM140 70h10.5v10.5h-10.5zM350 100h10.5v10.5h-10.5zM360 110h10.5v10.5h-10.5zM400 140h10.5v10.5h-10.5zM60 190h10.5v10.5h-10.5zM370 260h30.5v10.5h-30.5zM410 280h10.5v10.5h-10.5zM280 330h10.5v10.5h-10.5zM410 350h10.5v10.5h-10.5zM260 410h10.5v10.5h-10.5zM440 420h10.5v10.5h-10.5zM460 420h20.5v10.5h-20.5zM210 450h10.5v10.5h-10.5zM210 470h10.5v10.5h-10.5z"/>
<path fill="#404040" d="M80 0h10.5v10.5h-10.5zM80 10h10.5v10.5h-10.5zM260 20h10.5v10.5h-10.5zM270 30h10.5v10.5h-10.5zM130 60h10.5v10.5h-10.5zM170 90h10.5v10.5h-10.5zM190 120h10.5v10.5h-10.5zM370 120h10.5v10.5h-10.5zM190 130h10.5v10.5h-10.5zM430 150h50.5v10.5h-50.5zM70 190h10.5v10.5h-10.5zM0 200h40.5v10.5h-40.5zM360 260h10.5v10.5h-10.5zM400 260h10.5v10.5h-10.5zM330 270h10.5v10.5h-10.5zM410 270h10.5v10.5h-10.5zM420 390h10.5v10.5h-10.5z"/>
<path fill="#414141" d="M260 0h10.5v10.5h-10.5zM80 20h10.5v10.5h-10.5zM90 30h10.5v10.5h-10.5zM120 50h10.5v10.5h-10.5zM380 130h10.5v10.5h-10.5zM420 150h10.5v10.5h-10.5zM140 180h10.5v10.5h-10.5zM80 190h10.5v10.5h-10.5zM40 200h10.5v10.5h-10.5zM20 210h10.5v10.5h-10.5zM420 380h10.5v10.5h-10.5zM270 400h10.5v10.5h-10.5zM430 410h10.5v10.5h-10.5zM200 440h10.5v10.5h-10.5z"/>
<path fill="#424242" d="M90 10h10.5v10.5h-10.5zM260 10h10.5v10.5h-10.5zM110 40h10.5v10.5h-10.5zM320 80h10.5v10.5h-10.5zM190 110h10.5v10.5h-10.5zM410 150h10.5v10.5h-10.5zM160 170h10.5v10.5h-10.5zM50 200h10.5v10.5h-10.5zM0 210h20.5v10.5h-20.5zM30 210h10.5v10.5h-10.5zM350 260h10.5v10.5h-10.5zM410 260h10.5v10.5h-10.5zM420 280h10.5v10.5h-10.5zM300 290h10.5v10.5h-10.5zM420 290h10.5v10.5h-10.5zM420 300h10.5v10.5h-10.5zM430 400h10.5v10.5h-10.5zM250 410h10.5v10.5h-10.5zM450 410h30.5v10.5h-30.5zM230 420h10.5v10.5h-10.5zM210 430h10.5v10.5h-10.5z"/>
<path fill="#434343" d="M90 0h10.5v10.5h-10.5zM90 20h10.5v10.5h-10.5zM260 30h10.5v10.5h-10.5zM300 70h10.5v10.5h-10.5zM190 140h10.5v10.5h-10.5zM390 140h10.5v10.5h-10.5zM90 190h10.5v10.5h-10.5zM20 220h10.5v10.5h-10.5zM380 250h30.5v10.5h-30.5zM420 270h10.5v10.5h-10.5zM310 280h10.5v10.5h-10.5zM420 310h10.5v10.5h-10.5zM420 370h10.5v10.5h-10.5zM440 410h10.5v10.5h-10.5zM200 460h10.5v10.5h-10.5zM200 470h10.5v10.5h-10.5z"/>
<path fill="#444444" d="M100 30h10.5v10.5h-10.5zM440 160h10.5v10.5h-10.5zM460 160h20.5v10.5h-20.5zM100 190h10.5v10.5h-10.5zM60 200h10.5v10.5h-10.5zM40 210h10.5v10.5h-10.5zM0 220h20.5v10.5h-20.5zM30 220h10.5v10.5h-10.5zM370 250h10.5v10.5h-10.5zM410 250h10.5v10.5h-10.5zM420 260h10.5v10.5h-10.5zM290 300h10.5v10.5h-10.5zM280 320h10.5v10.5h-10.5zM420 320h10.5v10.5h-10.5zM270 390h10.5v10.5h-10.5zM430 390h10.5v10.5h-10.5zM450 400h30.5v10.5h-30.5zM200 450h10.5v10.5h-10.5z"/>
<path fill="#454545" d="M100 10h10.5v10.5h-10.5zM160 80h10.5v10.5h-10.5zM180 90h10.5v10.5h-10.5zM330 90h10.5v10.5h-10.5zM190 100h10.5v10.5h-10.5zM400 150h10.5v10.5h-10.5zM420 160h20.5v10.5h-20.5zM450 160h10.5v10.5h-10.5zM110 190h10.5v10.5h-10.5zM20 230h10.5v10.5h-10.5zM420 250h10.5v10.5h-10.5zM340 260h10.5v10.5h-10.5zM320 270h10.5v10.5h-10.5zM420 330h10.5v10.5h-10.5zM420 340h10.5v10.5h-10.5zM420 360h10.5v10.5h-10.5zM270 380h10.5v10.5h-10.5zM450 390h10.5v10.5h-10.5zM440 400h10.5v10.5h-10.5zM240 410h10.5v10.5h-10.5z"/>
<path fill="#464646" d="M100 0h10.5v10.5h-10.5zM100 20h10.5v10.5h-10.5zM250 20h10.5v10.5h-10.5zM340 100h10.5v10.5h-10.5zM350 110h10.5v10.5h-10.5zM360 120h10.5v10.5h-10.5zM370 130h10.5v10.5h-10.5zM50 210h10.5v10.5h-10.5zM0 230h20.5v10.5h-20.5zM400 240h10.5v10.5h-10.5zM360 250h10.5v10.5h-10.5zM430 260h10.5v10.5h-10.5zM430 270h10.5v10.5h-10.5zM430 280h10.5v10.5h-10.5zM420 350h10.5v10.5h-10.5zM270 370h10.5v10.5h-10.5zM440 390h10.5v10.5h-10.5zM460 390h20.5v10.5h-20.5zM260 400h10.5v10.5h-10.5zM190 440h10.5v10.5h-10.5z"/>
<path fill="#474747" d="M250 0h10.5v10.5h-10.5zM250 10h10.5v10.5h-10.5zM120 40h10.5v10.5h-10.5zM130 50h10.5v10.5h-10.5zM140 60h10.5v10.5h-10.5zM380 140h10.5v10.5h-10.5zM180 160h10.5v10.5h-10.5zM410 160h10.5v10.5h-10.5zM70 200h10.5v10.5h-10.5zM40 220h10.5v10.5h-10.5zM30 230h10.5v10.5h-10.5zM20 240h10.5v10.5h-10.5zM390 240h10.5v10.5h-10.5zM410 240h20.5v10.5h-20.5zM430 250h10.5v10.5h-10.5zM450 260h30.5v10.5h-30.5zM450 270h30.5v10.5h-30.5zM450 280h10.5v10.5h-10.5zM430 290h10.5v10.5h-10.5zM270 360h10.5v10.5h-10.5zM430 380h10.5v10.5h-10.5zM220 420h10.5v10.5h-10.5zM200 430h10.5v10.5h-10.5z"/>
<path fill="#484848" d="M110 30h10.5v10.5h-10.5zM250 30h10.5v10.5h-10.5zM150 70h10.5v10.5h-10.5zM190 150h10.5v10.5h-10.5zM390 150h10.5v10.5h-10.5zM430 170h50.5v10.5h-50.5zM120 190h10.5v10.5h-10.5zM0 240h20.5v10.5h-20.5zM380 240h10.5v10.5h-10.5zM440 250h40.5v10.5h-40.5zM440 260h10.5v10.5h-10.5zM440 270h10.5v10.5h-10.5zM440 280h10.5v10.5h-10.5zM460 280h20.5v10.5h-20.5zM450 290h10.5v10.5h-10.5zM470 290h10.5v10.5h-10.5zM430 300h10.5v10.5h-10.5zM450 380h30.5v10.5h-30.5zM190 460h10.5v10.5h-10.5zM190 470h10.5v10.5h-10.5z"/>
<path fill="#494949" d="M110 0h10.5v10.5h-10.5zM110 10h10.5v10.5h-10.5zM270 40h20.5v10.5h-20.5zM280 60h10.5v10.5h-10.5zM290 70h10.5v10.5h-10.5zM170 80h10.5v10.5h-10.5zM310 80h10.5v10.5h-10.5zM400 160h10.5v10.5h-10.5zM420 170h10.5v10.5h-10.5zM60 210h10.5v10.5h-10.5zM400 230h30.5v10.5h-30.5zM30 240h10.5v10.5h-10.5zM370 240h10.5v10.5h-10.5zM430 240h10.5v10.5h-10.5zM450 240h30.5v10.5h-30.5zM0 250h10.5v10.5h-10.5zM20 250h10.5v10.5h-10.5zM330 260h10.5v10.5h-10.5zM440 290h10.5v10.5h-10.5zM460 290h10.5v10.5h-10.5zM450 300h10.5v10.5h-10.5zM430 310h10.5v10.5h-10.5zM270 350h10.5v10.5h-10.5zM430 370h10.5v10.5h-10.5zM440 380h10.5v10.5h-10.5zM190 450h10.5v10.5h-10.5z"/>
<path fill="#4a4a4a" d="M110 20h10.5v10.5h-10.5zM190 90h10.5v10.5h-10.5zM170 170h10.5v10.5h-10.5zM410 170h10.5v10.5h-10.5zM150 180h10.5v10.5h-10.5zM80 200h10.5v10.5h-10.5zM50 220h10.5v10.5h-10.5zM40 230h10.5v10.5h-10.5zM390 230h10.5v10.5h-10.5zM430 230h10.5v10.5h-10.5zM440 240h10.5v10.5h-10.5zM10 250h10.5v10.5h-10.5zM350 250h10.5v10.5h-10.5zM440 300h10.5v10.5h-10.5zM460 300h20.5v10.5h-20.5zM280 310h10.5v10.5h-10.5zM250 400h10.5v10.5h-10.5zM230 410h10.5v10.5h-10.5z"/>
<path fill="#4b4b4b" d="M240 20h10.5v10.5h-10.5zM260 40h10.5v10.5h-10.5zM200 110h10.5v10.5h-10.5zM200 120h10.5v10.5h-10.5zM430 180h50.5v10.5h-50.5zM410 220h20.5v10.5h-20.5zM440 230h40.5v10.5h-40.5zM30 250h10.5v10.5h-10.5zM20 260h10.5v10.5h-10.5zM450 310h30.5v10.5h-30.5zM430 320h10.5v10.5h-10.5zM270 340h10.5v10.5h-10.5zM450 370h30.5v10.5h-30.5zM260 390h10.5v10.5h-10.5zM180 440h10.5v10.5h-10.5z"/>
<path fill="#4c4c4c" d="M240 0h10.5v10.5h-10.5zM240 10h10.5v10.5h-10.5zM130 40h10.5v10.5h-10.5zM280 50h10.5v10.5h-10.5zM180 80h10.5v10.5h-10.5zM200 100h10.5v10.5h-10.5zM200 130h10.5v10.5h-10.5zM360 130h10.5v10.5h-10.5zM370 140h10.5v10.5h-10.5zM420 180h10.5v10.5h-10.5zM400 220h10.5v10.5h-10.5zM430 220h50.5v10.5h-50.5zM380 230h10.5v10.5h-10.5zM360 240h10.5v10.5h-10.5zM0 260h20.5v10.5h-20.5zM310 270h10.5v10.5h-10.5zM300 280h10.5v10.5h-10.5zM440 310h10.5v10.5h-10.5zM450 320h10.5v10.5h-10.5zM470 320h10.5v10.5h-10.5zM430 330h10.5v10.5h-10.5zM430 360h10.5v10.5h-10.5zM440 370h10.5v10.5h-10.5zM210 420h10.5v10.5h-10.5zM190 430h10.5v10.5h-10.5zM180 460h10.5v10.5h-10.5z"/>
<path fill="#4d4d4d" d="M120 30h10.5v10.5h-10.5zM240 30h10.5v10.5h-10.5zM250 40h10.5v10.5h-10.5zM140 50h10.5v10.5h-10.5zM270 50h10.5v10.5h-10.5zM320 90h10.5v10.5h-10.5zM350 120h10.5v10.5h-10.5zM380 150h10.5v10.5h-10.5zM390 160h10.5v10.5h-10.5zM400 170h10.5v10.5h-10.5zM410 180h10.5v10.5h-10.5zM130 190h10.5v10.5h-10.5zM420 190h60.5v10.5h-60.5zM430 200h50.5v10.5h-50.5zM70 210h10.5v10.5h-10.5zM410 210h70.5v10.5h-70.5zM390 220h10.5v10.5h-10.5zM40 240h10.5v10.5h-10.5zM30 260h10.5v10.5h-10.5zM20 270h10.5v10.5h-10.5zM460 320h10.5v10.5h-10.5zM450 330h10.5v10.5h-10.5zM430 340h10.5v10.5h-10.5zM450 360h30.5v10.5h-30.5zM260 380h10.5v10.5h-10.5zM180 470h10.5v10.5h-10.5z"/>
<path fill="#4e4e4e" d="M120 0h10.5v10.5h-10.5zM120 10h10.5v10.5h-10.5zM120 20h10.5v10.5h-10.5zM150 60h10.5v10.5h-10.5zM190 80h10.5v10.5h-10.5zM300 80h10.5v10.5h-10.5zM200 90h10.5v10.5h-10.5zM410 190h10.5v10.5h-10.5zM410 200h20.5v10.5h-20.5zM400 210h10.5v10.5h-10.5zM60 220h10.5v10.5h-10.5zM50 230h10.5v10.5h-10.5zM370 230h10.5v10.5h-10.5zM340 250h10.5v10.5h-10.5zM320 260h10.5v10.5h-10.5zM0 270h10.5v10.5h-10.5zM290 290h10.5v10.5h-10.5zM440 320h10.5v10.5h-10.5zM270 330h10.5v10.5h-10.5zM460 330h20.5v10.5h-20.5zM450 340h10.5v10.5h-10.5zM430 350h10.5v10.5h-10.5zM440 360h10.5v10.5h-10.5zM240 400h10.5v10.5h-10.5zM180 450h10.5v10.5h-10.5z"/>
<path fill="#4f4f4f" d="M260 50h10.5v10.5h-10.5zM270 60h10.5v10.5h-10.5zM160 70h10.5v10.5h-10.5zM280 70h10.5v10.5h-10.5zM330 100h10.5v10.5h-10.5zM340 110h10.5v10.5h-10.5zM200 140h10.5v10.5h-10.5zM400 180h10.5v10.5h-10.5zM90 200h10.5v10.5h-10.5zM400 200h10.5v10.5h-10.5zM380 220h10.5v10.5h-10.5zM10 270h10.5v10.5h-10.5zM440 330h10.5v10.5h-10.5zM460 340h20.5v10.5h-20.5zM450 350h30.5v10.5h-30.5zM220 410h10.5v10.5h-10.5zM170 440h10.5v10.5h-10.5z"/>
<path fill="#505050" d="M200 80h10.5v10.5h-10.5zM190 160h10.5v10.5h-10.5zM390 170h10.5v10.5h-10.5zM400 190h10.5v10.5h-10.5zM390 210h10.5v10.5h-10.5zM30 270h10.5v10.5h-10.5zM440 340h10.5v10.5h-10.5zM440 350h10.5v10.5h-10.5zM260 370h10.5v10.5h-10.5zM180 430h10.5v10.5h-10.5z"/>
<path fill="#515151" d="M230 0h10.5v10.5h-10.5zM230 10h10.5v10.5h-10.5zM230 20h10.5v10.5h-10.5zM130 30h10.5v10.5h-10.5zM240 40h10.5v10.5h-10.5zM250 50h10.5v10.5h-10.5zM260 60h10.5v10.5h-10.5zM170 70h10.5v10.5h-10.5zM380 160h10.5v10.5h-10.5zM160 180h10.5v10.5h-10.5zM390 200h10.5v10.5h-10.5zM350 240h10.5v10.5h-10.5zM40 250h10.5v10.5h-10.5zM20 280h10.5v10.5h-10.5zM250 390h10.5v10.5h-10.5zM170 460h10.5v10.5h-10.5zM170 470h10.5v10.5h-10.5z"/>
<path fill="#525252" d="M130 0h10.5v10.5h-10.5zM130 10h10.5v10.5h-10.5zM230 30h10.5v10.5h-10.5zM140 40h10.5v10.5h-10.5zM180 70h10.5v10.5h-10.5zM210 90h10.5v10.5h-10.5zM370 150h10.5v10.5h-10.5zM390 180h10.5v10.5h-10.5zM390 190h10.5v10.5h-10.5zM380 210h10.5v10.5h-10.5zM370 220h10.5v10.5h-10.5zM360 230h10.5v10.5h-10.5zM50 240h10.5v10.5h-10.5zM330 250h10.5v10.5h-10.5zM0 280h20.5v10.5h-20.5zM280 300h10.5v10.5h-10.5zM200 420h10.5v10.5h-10.5zM170 450h10.5v10.5h-10.5z"/>
<path fill="#535353" d="M130 20h10.5v10.5h-10.5zM240 50h10.5v10.5h-10.5zM250 60h10.5v10.5h-10.5zM190 70h30.5v10.5h-30.5zM270 70h10.5v10.5h-10.5zM210 80h10.5v10.5h-10.5zM290 80h10.5v10.5h-10.5zM210 100h10.5v10.5h-10.5zM350 130h10.5v10.5h-10.5zM360 140h10.5v10.5h-10.5zM200 150h10.5v10.5h-10.5zM180 170h10.5v10.5h-10.5zM80 210h10.5v10.5h-10.5zM60 230h10.5v10.5h-10.5zM30 280h10.5v10.5h-10.5zM270 320h10.5v10.5h-10.5zM260 360h10.5v10.5h-10.5zM230 400h10.5v10.5h-10.5z"/>
<path fill="#545454" d="M230 40h10.5v10.5h-10.5zM150 50h10.5v10.5h-10.5zM160 60h10.5v10.5h-10.5zM260 70h10.5v10.5h-10.5zM210 110h10.5v10.5h-10.5zM100 200h10.5v10.5h-10.5zM380 200h10.5v10.5h-10.5zM70 220h10.5v10.5h-10.5zM40 260h10.5v10.5h-10.5z"/>
<path fill="#555555" d="M220 0h10.5v10.5h-10.5zM220 10h10.5v10.5h-10.5zM220 20h10.5v10.5h-10.5zM230 50h10.5v10.5h-10.5zM210 60h20.5v10.5h-20.5zM240 60h10.5v10.5h-10.5zM220 70h10.5v10.5h-10.5zM220 80h10.5v10.5h-10.5zM310 90h10.5v10.5h-10.5zM380 170h10.5v10.5h-10.5zM310 260h10.5v10.5h-10.5zM300 270h10.5v10.5h-10.5zM20 290h10.5v10.5h-10.5zM250 380h10.5v10.5h-10.5zM240 390h10.5v10.5h-10.5zM210 410h10.5v10.5h-10.5zM170 430h10.5v10.5h-10.5zM160 440h10.5v10.5h-10.5z"/>
<path fill="#565656" d="M140 30h10.5v10.5h-10.5zM220 30h10.5v10.5h-10.5zM220 50h10.5v10.5h-10.5zM200 60h10.5v10.5h-10.5zM230 60h10.5v10.5h-10.5zM230 70h10.5v10.5h-10.5zM250 70h10.5v10.5h-10.5zM220 90h10.5v10.5h-10.5zM210 120h10.5v10.5h-10.5zM340 120h10.5v10.5h-10.5zM380 180h10.5v10.5h-10.5zM140 190h10.5v10.5h-10.5zM380 190h10.5v10.5h-10.5zM370 210h10.5v10.5h-10.5zM360 220h10.5v10.5h-10.5zM340 240h10.5v10.5h-10.5zM50 250h10.5v10.5h-10.5zM0 290h20.5v10.5h-20.5zM260 350h10.5v10.5h-10.5zM160 460h10.5v10.5h-10.5z"/>
<path fill="#575757" d="M140 0h10.5v10.5h-10.5zM140 10h10.5v10.5h-10.5zM140 20h10.5v10.5h-10.5zM220 40h10.5v10.5h-10.5zM170 60h10.5v10.5h-10.5zM190 60h10.5v10.5h-10.5zM240 70h10.5v10.5h-10.5zM230 80h10.5v10.5h-10.5zM280 80h10.5v10.5h-10.5zM110 200h10.5v10.5h-10.5zM350 230h10.5v10.5h-10.5zM290 280h10.5v10.5h-10.5zM160 450h10.5v10.5h-10.5zM160 470h10.5v10.5h-10.5z"/>
<path fill="#585858" d="M150 40h10.5v10.5h-10.5zM210 50h10.5v10.5h-10.5zM180 60h10.5v10.5h-10.5zM320 100h10.5v10.5h-10.5zM210 130h10.5v10.5h-10.5zM370 160h10.5v10.5h-10.5zM370 200h10.5v10.5h-10.5zM60 240h10.5v10.5h-10.5zM320 250h10.5v10.5h-10.5zM40 270h10.5v10.5h-10.5zM30 290h10.5v10.5h-10.5zM190 420h10.5v10.5h-10.5z"/>
<path fill="#595959" d="M210 0h10.5v10.5h-10.5zM210 10h10.5v10.5h-10.5zM210 20h10.5v10.5h-10.5zM210 30h10.5v10.5h-10.5zM210 40h10.5v10.5h-10.5zM160 50h10.5v10.5h-10.5zM200 50h10.5v10.5h-10.5zM240 80h10.5v10.5h-10.5zM270 80h10.5v10.5h-10.5zM230 90h10.5v10.5h-10.5zM220 100h10.5v10.5h-10.5zM330 110h10.5v10.5h-10.5zM360 150h10.5v10.5h-10.5zM200 160h10.5v10.5h-10.5zM170 180h10.5v10.5h-10.5zM70 230h10.5v10.5h-10.5zM270 310h10.5v10.5h-10.5zM220 400h10.5v10.5h-10.5z"/>
<path fill="#5a5a5a" d="M250 80h20.5v10.5h-20.5zM210 140h10.5v10.5h-10.5zM120 200h10.5v10.5h-10.5zM90 210h10.5v10.5h-10.5zM360 210h10.5v10.5h-10.5zM20 300h10.5v10.5h-10.5zM260 340h10.5v10.5h-10.5zM250 370h10.5v10.5h-10.5zM160 430h10.5v10.5h-10.5zM150 440h10.5v10.5h-10.5z"/>
<path fill="#5b5b5b" d="M150 0h10.5v10.5h-10.5zM150 10h10.5v10.5h-10.5zM150 30h10.5v10.5h-10.5zM200 40h10.5v10.5h-10.5zM190 50h10.5v10.5h-10.5zM300 90h10.5v10.5h-10.5zM350 140h10.5v10.5h-10.5zM190 170h10.5v10.5h-10.5zM370 170h10.5v10.5h-10.5zM370 190h10.5v10.5h-10.5zM80 220h10.5v10.5h-10.5zM50 260h10.5v10.5h-10.5zM280 290h10.5v10.5h-10.5zM0 300h20.5v10.5h-20.5z"/>
<path fill="#5c5c5c" d="M200 0h10.5v10.5h-10.5zM200 10h10.5v10.5h-10.5zM150 20h10.5v10.5h-10.5zM200 20h10.5v10.5h-10.5zM200 30h10.5v10.5h-10.5zM160 40h10.5v10.5h-10.5zM170 50h20.5v10.5h-20.5zM240 90h10.5v10.5h-10.5zM220 110h10.5v10.5h-10.5zM340 130h10.5v10.5h-10.5zM370 180h10.5v10.5h-10.5zM350 220h10.5v10.5h-10.5zM330 240h10.5v10.5h-10.5zM240 380h10.5v10.5h-10.5zM230 390h10.5v10.5h-10.5zM200 410h10.5v10.5h-10.5zM150 460h10.5v10.5h-10.5zM150 470h10.5v10.5h-10.5z"/>
<path fill="#5d5d5d" d="M230 100h10.5v10.5h-10.5zM150 190h10.5v10.5h-10.5zM360 200h10.5v10.5h-10.5zM340 230h10.5v10.5h-10.5zM300 260h10.5v10.5h-10.5zM40 280h10.5v10.5h-10.5zM30 300h10.5v10.5h-10.5zM150 450h10.5v10.5h-10.5z"/>
<path fill="#5e5e5e" d="M190 40h10.5v10.5h-10.5zM210 150h10.5v10.5h-10.5zM310 250h10.5v10.5h-10.5zM260 330h10.5v10.5h-10.5zM180 420h10.5v10.5h-10.5z"/>
<path fill="#5f5f5f" d="M160 0h10.5v10.5h-10.5zM190 0h10.5v10.5h-10.5zM160 10h10.5v10.5h-10.5zM190 10h10.5v10.5h-10.5zM190 20h10.5v10.5h-10.5zM160 30h10.5v10.5h-10.5zM190 30h10.5v10.5h-10.5zM170 40h20.5v10.5h-20.5zM290 90h10.5v10.5h-10.5zM360 160h10.5v10.5h-10.5zM60 250h10.5v10.5h-10.5zM250 360h10.5v10.5h-10.5z"/>
<path fill="#606060" d="M160 20h10.5v10.5h-10.5zM250 90h10.5v10.5h-10.5zM240 100h10.5v10.5h-10.5zM220 120h10.5v10.5h-10.5zM360 190h10.5v10.5h-10.5zM130 200h10.5v10.5h-10.5zM350 210h10.5v10.5h-10.5zM70 240h10.5v10.5h-10.5zM50 270h10.5v10.5h-10.5zM210 400h10.5v10.5h-10.5zM150 430h10.5v10.5h-10.5z"/>
<path fill="#616161" d="M260 90h30.5v10.5h-30.5zM310 100h10.5v10.5h-10.5zM180 180h10.5v10.5h-10.5zM320 240h10.5v10.5h-10.5zM290 270h10.5v10.5h-10.5zM270 300h10.5v10.5h-10.5zM20 310h10.5v10.5h-10.5z"/>
<path fill="#626262" d="M180 0h10.5v10.5h-10.5zM180 10h10.5v10.5h-10.5zM180 20h10.5v10.5h-10.5zM180 30h10.5v10.5h-10.5zM230 110h10.5v10.5h-10.5zM220 130h10.5v10.5h-10.5zM350 150h10.5v10.5h-10.5zM360 170h10.5v10.5h-10.5zM360 180h10.5v10.5h-10.5zM160 190h10.5v10.5h-10.5zM100 210h10.5v10.5h-10.5zM340 220h10.5v10.5h-10.5zM80 230h10.5v10.5h-10.5zM40 290h10.5v10.5h-10.5zM0 310h20.5v10.5h-20.5z"/>
<path fill="#636363" d="M170 0h10.5v10.5h-10.5zM170 10h10.5v10.5h-10.5zM170 20h10.5v10.5h-10.5zM170 30h10.5v10.5h-10.5zM330 120h10.5v10.5h-10.5zM210 160h10.5v10.5h-10.5zM200 170h10.5v10.5h-10.5zM350 200h10.5v10.5h-10.5zM90 220h10.5v10.5h-10.5zM330 230h10.5v10.5h-10.5zM220 390h10.5v10.5h-10.5zM190 410h10.5v10.5h-10.5zM170 420h10.5v10.5h-10.5z"/>
<path fill="#646464" d="M320 110h10.5v10.5h-10.5zM30 310h10.5v10.5h-10.5zM260 320h10.5v10.5h-10.5zM240 370h10.5v10.5h-10.5zM140 440h10.5v10.5h-10.5z"/>
<path fill="#656565" d="M250 100h10.5v10.5h-10.5zM220 140h10.5v10.5h-10.5zM340 140h10.5v10.5h-10.5zM60 260h10.5v10.5h-10.5zM280 280h10.5v10.5h-10.5zM250 350h10.5v10.5h-10.5zM230 380h10.5v10.5h-10.5z"/>
<path fill="#666666" d="M240 110h10.5v10.5h-10.5zM230 120h10.5v10.5h-10.5zM300 250h10.5v10.5h-10.5zM140 460h10.5v10.5h-10.5zM140 470h10.5v10.5h-10.5z"/>
<path fill="#676767" d="M350 160h10.5v10.5h-10.5zM190 180h10.5v10.5h-10.5zM350 190h10.5v10.5h-10.5zM110 210h10.5v10.5h-10.5zM340 210h10.5v10.5h-10.5zM310 240h10.5v10.5h-10.5zM50 280h10.5v10.5h-10.5zM140 450h10.5v10.5h-10.5z"/>
<path fill="#686868" d="M260 100h10.5v10.5h-10.5zM300 100h10.5v10.5h-10.5zM220 150h10.5v10.5h-10.5zM170 190h10.5v10.5h-10.5zM140 200h10.5v10.5h-10.5zM200 400h10.5v10.5h-10.5z"/>
<path fill="#696969" d="M270 100h10.5v10.5h-10.5zM350 170h10.5v10.5h-10.5zM350 180h10.5v10.5h-10.5zM330 220h10.5v10.5h-10.5zM320 230h10.5v10.5h-10.5zM70 250h10.5v10.5h-10.5zM290 260h10.5v10.5h-10.5zM40 300h10.5v10.5h-10.5zM160 420h10.5v10.5h-10.5z"/>
<path fill="#6a6a6a" d="M280 100h20.5v10.5h-20.5zM250 110h10.5v10.5h-10.5zM230 130h10.5v10.5h-10.5zM270 290h10.5v10.5h-10.5zM20 320h10.5v10.5h-10.5zM250 340h10.5v10.5h-10.5zM180 410h10.5v10.5h-10.5zM140 430h10.5v10.5h-10.5z"/>
<path fill="#6b6b6b" d="M240 120h10.5v10.5h-10.5zM330 130h10.5v10.5h-10.5zM210 170h10.5v10.5h-10.5zM340 200h10.5v10.5h-10.5zM120 210h10.5v10.5h-10.5zM80 240h10.5v10.5h-10.5zM260 310h10.5v10.5h-10.5z"/>
<path fill="#6c6c6c" d="M340 150h10.5v10.5h-10.5zM100 220h10.5v10.5h-10.5zM60 270h10.5v10.5h-10.5zM0 320h20.5v10.5h-20.5zM240 360h10.5v10.5h-10.5zM210 390h10.5v10.5h-10.5z"/>
<path fill="#6d6d6d" d="M220 160h10.5v10.5h-10.5zM200 180h10.5v10.5h-10.5zM90 230h10.5v10.5h-10.5zM50 290h10.5v10.5h-10.5z"/>
<path fill="#6e6e6e" d="M260 110h10.5v10.5h-10.5zM230 140h10.5v10.5h-10.5zM180 190h10.5v10.5h-10.5zM150 200h10.5v10.5h-10.5zM30 320h10.5v10.5h-10.5zM220 380h10.5v10.5h-10.5z"/>
<path fill="#6f6f6f" d="M310 110h10.5v10.5h-10.5zM340 190h10.5v10.5h-10.5zM330 210h10.5v10.5h-10.5zM300 240h10.5v10.5h-10.5zM280 270h10.5v10.5h-10.5zM230 370h10.5v10.5h-10.5zM130 440h10.5v10.5h-10.5z"/>
<path fill="#707070" d="M250 120h10.5v10.5h-10.5zM240 130h10.5v10.5h-10.5zM340 160h10.5v10.5h-10.5zM320 220h10.5v10.5h-10.5zM310 230h10.5v10.5h-10.5zM250 330h10.5v10.5h-10.5zM190 400h10.5v10.5h-10.5zM170 410h10.5v10.5h-10.5zM150 420h10.5v10.5h-10.5z"/>
<path fill="#717171" d="M270 110h10.5v10.5h-10.5zM320 120h10.5v10.5h-10.5zM130 210h10.5v10.5h-10.5zM290 250h10.5v10.5h-10.5zM70 260h10.5v10.5h-10.5zM40 310h10.5v10.5h-10.5zM130 460h10.5v10.5h-10.5zM130 470h10.5v10.5h-10.5z"/>
<path fill="#727272" d="M230 150h10.5v10.5h-10.5zM340 170h10.5v10.5h-10.5zM340 180h10.5v10.5h-10.5zM260 300h10.5v10.5h-10.5zM130 450h10.5v10.5h-10.5z"/>
<path fill="#737373" d="M330 140h10.5v10.5h-10.5zM160 200h10.5v10.5h-10.5zM60 280h10.5v10.5h-10.5z"/>
<path fill="#747474" d="M280 110h10.5v10.5h-10.5zM260 120h10.5v10.5h-10.5zM220 170h10.5v10.5h-10.5zM210 180h10.5v10.5h-10.5zM190 190h10.5v10.5h-10.5zM330 200h10.5v10.5h-10.5zM110 220h10.5v10.5h-10.5zM270 280h10.5v10.5h-10.5zM50 300h10.5v10.5h-10.5zM20 330h10.5v10.5h-10.5zM200 390h10.5v10.5h-10.5z"/>
<path fill="#757575" d="M300 110h10.5v10.5h-10.5zM240 140h10.5v10.5h-10.5zM80 250h10.5v10.5h-10.5zM0 330h10.5v10.5h-10.5zM240 350h10.5v10.5h-10.5zM130 430h10.5v10.5h-10.5z"/>
<path fill="#767676" d="M290 110h10.5v10.5h-10.5zM250 130h10.5v10.5h-10.5zM230 160h10.5v10.5h-10.5zM320 210h10.5v10.5h-10.5zM250 320h10.5v10.5h-10.5zM10 330h10.5v10.5h-10.5zM160 410h10.5v10.5h-10.5z"/>
<path fill="#777777" d="M310 220h10.5v10.5h-10.5zM100 230h10.5v10.5h-10.5zM300 230h10.5v10.5h-10.5zM90 240h10.5v10.5h-10.5zM280 260h10.5v10.5h-10.5zM180 400h10.5v10.5h-10.5z"/>
<path fill="#787878" d="M270 120h10.5v10.5h-10.5zM330 150h10.5v10.5h-10.5zM330 190h10.5v10.5h-10.5zM170 200h10.5v10.5h-10.5zM140 210h10.5v10.5h-10.5zM290 240h10.5v10.5h-10.5zM30 330h10.5v10.5h-10.5zM210 380h10.5v10.5h-10.5z"/>
<path fill="#797979" d="M200 190h10.5v10.5h-10.5zM140 420h10.5v10.5h-10.5z"/>
<path fill="#7a7a7a" d="M260 130h10.5v10.5h-10.5zM240 150h10.5v10.5h-10.5zM70 270h10.5v10.5h-10.5zM40 320h10.5v10.5h-10.5zM230 360h10.5v10.5h-10.5zM220 370h10.5v10.5h-10.5zM120 440h10.5v10.5h-10.5z"/>
<path fill="#7b7b7b" d="M320 130h10.5v10.5h-10.5zM250 140h10.5v10.5h-10.5zM330 160h10.5v10.5h-10.5zM330 180h10.5v10.5h-10.5zM120 220h10.5v10.5h-10.5zM60 290h10.5v10.5h-10.5zM260 290h10.5v10.5h-10.5z"/>
<path fill="#7c7c7c" d="M280 120h10.5v10.5h-10.5zM310 120h10.5v10.5h-10.5zM230 170h10.5v10.5h-10.5zM330 170h10.5v10.5h-10.5zM220 180h10.5v10.5h-10.5zM320 200h10.5v10.5h-10.5zM50 310h10.5v10.5h-10.5zM240 340h10.5v10.5h-10.5zM120 460h10.5v10.5h-10.5zM120 470h10.5v10.5h-10.5z"/>
<path fill="#7d7d7d" d="M180 200h10.5v10.5h-10.5zM280 250h10.5v10.5h-10.5zM190 390h10.5v10.5h-10.5zM120 450h10.5v10.5h-10.5z"/>
<path fill="#7e7e7e" d="M270 130h10.5v10.5h-10.5zM210 190h10.5v10.5h-10.5zM150 210h10.5v10.5h-10.5zM310 210h10.5v10.5h-10.5zM300 220h10.5v10.5h-10.5zM270 270h10.5v10.5h-10.5zM250 310h10.5v10.5h-10.5zM20 340h10.5v10.5h-10.5zM170 400h10.5v10.5h-10.5zM150 410h10.5v10.5h-10.5z"/>
<path fill="#7f7f7f" d="M240 160h10.5v10.5h-10.5zM290 230h10.5v10.5h-10.5zM0 340h10.5v10.5h-10.5z"/>
<path fill="#808080" d="M320 190h10.5v10.5h-10.5zM80 260h10.5v10.5h-10.5zM10 340h10.5v10.5h-10.5zM120 430h10.5v10.5h-10.5z"/>
<path fill="#818181" d="M290 120h10.5v10.5h-10.5zM260 140h10.5v10.5h-10.5zM250 150h10.5v10.5h-10.5zM110 230h10.5v10.5h-10.5zM280 240h10.5v10.5h-10.5zM30 340h10.5v10.5h-10.5z"/>
<path fill="#828282" d="M300 120h10.5v10.5h-10.5zM320 140h10.5v10.5h-10.5zM190 200h10.5v10.5h-10.5zM130 220h10.5v10.5h-10.5zM70 280h10.5v10.5h-10.5zM200 380h10.5v10.5h-10.5z"/>
<path fill="#838383" d="M280 130h10.5v10.5h-10.5zM230 180h10.5v10.5h-10.5zM320 180h10.5v10.5h-10.5zM310 200h10.5v10.5h-10.5zM160 210h10.5v10.5h-10.5zM100 240h10.5v10.5h-10.5zM90 250h10.5v10.5h-10.5zM260 280h10.5v10.5h-10.5zM60 300h10.5v10.5h-10.5zM40 330h10.5v10.5h-10.5zM240 330h10.5v10.5h-10.5z"/>
<path fill="#848484" d="M240 170h10.5v10.5h-10.5zM220 190h10.5v10.5h-10.5zM300 210h10.5v10.5h-10.5zM130 420h10.5v10.5h-10.5z"/>
<path fill="#858585" d="M320 150h10.5v10.5h-10.5zM320 170h10.5v10.5h-10.5zM290 220h10.5v10.5h-10.5zM270 260h10.5v10.5h-10.5zM250 300h10.5v10.5h-10.5zM50 320h10.5v10.5h-10.5zM20 350h10.5v10.5h-10.5zM230 350h10.5v10.5h-10.5zM110 440h10.5v10.5h-10.5z"/>
<path fill="#868686" d="M270 140h10.5v10.5h-10.5zM250 160h10.5v10.5h-10.5zM320 160h10.5v10.5h-10.5zM200 200h10.5v10.5h-10.5zM280 230h10.5v10.5h-10.5zM0 350h10.5v10.5h-10.5zM210 370h10.5v10.5h-10.5zM180 390h10.5v10.5h-10.5zM160 400h10.5v10.5h-10.5z"/>
<path fill="#878787" d="M260 150h10.5v10.5h-10.5zM10 350h10.5v10.5h-10.5zM140 410h10.5v10.5h-10.5zM110 460h10.5v10.5h-10.5zM110 470h10.5v10.5h-10.5z"/>
<path fill="#888888" d="M310 190h10.5v10.5h-10.5zM270 250h10.5v10.5h-10.5zM220 360h10.5v10.5h-10.5zM110 450h10.5v10.5h-10.5z"/>
<path fill="#898989" d="M240 180h10.5v10.5h-10.5zM230 190h10.5v10.5h-10.5zM210 200h10.5v10.5h-10.5zM170 210h10.5v10.5h-10.5zM140 220h10.5v10.5h-10.5zM30 350h10.5v10.5h-10.5z"/>
<path fill="#8a8a8a" d="M290 130h10.5v10.5h-10.5zM300 200h10.5v10.5h-10.5zM290 210h10.5v10.5h-10.5zM280 220h10.5v10.5h-10.5zM120 230h10.5v10.5h-10.5zM270 240h10.5v10.5h-10.5zM70 290h10.5v10.5h-10.5z"/>
<path fill="#8b8b8b" d="M310 130h10.5v10.5h-10.5zM280 140h10.5v10.5h-10.5zM250 170h10.5v10.5h-10.5zM310 180h10.5v10.5h-10.5zM80 270h10.5v10.5h-10.5zM60 310h10.5v10.5h-10.5zM240 320h10.5v10.5h-10.5zM110 430h10.5v10.5h-10.5z"/>
<path fill="#8c8c8c" d="M270 150h10.5v10.5h-10.5zM260 160h10.5v10.5h-10.5zM270 230h10.5v10.5h-10.5zM260 270h10.5v10.5h-10.5zM250 290h10.5v10.5h-10.5zM40 340h10.5v10.5h-10.5zM20 360h10.5v10.5h-10.5zM190 380h10.5v10.5h-10.5z"/>
<path fill="#8d8d8d" d="M310 170h10.5v10.5h-10.5zM220 200h10.5v10.5h-10.5zM0 360h10.5v10.5h-10.5zM150 400h10.5v10.5h-10.5z"/>
<path fill="#8e8e8e" d="M240 190h10.5v10.5h-10.5zM300 190h10.5v10.5h-10.5zM180 210h10.5v10.5h-10.5zM50 330h10.5v10.5h-10.5zM10 360h10.5v10.5h-10.5zM170 390h10.5v10.5h-10.5zM120 420h10.5v10.5h-10.5z"/>
<path fill="#8f8f8f" d="M300 130h10.5v10.5h-10.5zM310 140h10.5v10.5h-10.5zM310 150h10.5v10.5h-10.5zM310 160h10.5v10.5h-10.5zM250 180h10.5v10.5h-10.5zM290 200h10.5v10.5h-10.5zM280 210h10.5v10.5h-10.5zM270 220h10.5v10.5h-10.5zM30 360h10.5v10.5h-10.5zM100 440h10.5v10.5h-10.5z"/>
<path fill="#909090" d="M260 170h10.5v10.5h-10.5zM230 200h10.5v10.5h-10.5zM150 220h10.5v10.5h-10.5zM110 240h10.5v10.5h-10.5zM90 260h10.5v10.5h-10.5zM230 340h10.5v10.5h-10.5zM100 460h10.5v10.5h-10.5z"/>
<path fill="#919191" d="M290 140h10.5v10.5h-10.5zM280 150h10.5v10.5h-10.5zM270 160h10.5v10.5h-10.5zM300 180h10.5v10.5h-10.5zM190 210h10.5v10.5h-10.5zM260 230h10.5v10.5h-10.5zM260 240h10.5v10.5h-10.5zM100 250h10.5v10.5h-10.5zM200 370h10.5v10.5h-10.5zM130 410h10.5v10.5h-10.5zM100 450h10.5v10.5h-10.5zM100 470h10.5v10.5h-10.5z"/>
<path fill="#929292" d="M250 190h10.5v10.5h-10.5zM240 200h10.5v10.5h-10.5zM260 220h10.5v10.5h-10.5zM260 250h10.5v10.5h-10.5zM260 260h10.5v10.5h-10.5zM250 280h10.5v10.5h-10.5zM240 310h10.5v10.5h-10.5z"/>
<path fill="#939393" d="M300 140h10.5v10.5h-10.5zM300 170h10.5v10.5h-10.5zM260 180h10.5v10.5h-10.5zM290 190h10.5v10.5h-10.5zM280 200h10.5v10.5h-10.5zM200 210h10.5v10.5h-10.5zM270 210h10.5v10.5h-10.5zM160 220h10.5v10.5h-10.5zM130 230h10.5v10.5h-10.5zM70 300h10.5v10.5h-10.5zM60 320h10.5v10.5h-10.5zM40 350h10.5v10.5h-10.5zM20 370h10.5v10.5h-10.5z"/>
<path fill="#949494" d="M290 150h20.5v10.5h-20.5zM280 160h10.5v10.5h-10.5zM300 160h10.5v10.5h-10.5zM270 170h10.5v10.5h-10.5zM250 200h10.5v10.5h-10.5zM260 210h10.5v10.5h-10.5zM80 280h10.5v10.5h-10.5zM210 360h10.5v10.5h-10.5zM0 370h20.5v10.5h-20.5zM100 430h10.5v10.5h-10.5z"/>
<path fill="#959595" d="M290 180h10.5v10.5h-10.5zM210 210h10.5v10.5h-10.5zM250 210h10.5v10.5h-10.5z"/>
<path fill="#969696" d="M290 160h10.5v10.5h-10.5zM280 170h20.5v10.5h-20.5zM270 180h10.5v10.5h-10.5zM260 190h10.5v10.5h-10.5zM280 190h10.5v10.5h-10.5zM260 200h20.5v10.5h-20.5zM220 210h10.5v10.5h-10.5zM240 210h10.5v10.5h-10.5zM250 220h10.5v10.5h-10.5zM250 230h10.5v10.5h-10.5zM250 270h10.5v10.5h-10.5zM50 340h10.5v10.5h-10.5zM220 350h10.5v10.5h-10.5zM30 370h10.5v10.5h-10.5zM180 380h10.5v10.5h-10.5zM160 390h10.5v10.5h-10.5zM140 400h10.5v10.5h-10.5z"/>
<path fill="#979797" d="M280 180h10.5v10.5h-10.5zM230 210h10.5v10.5h-10.5zM90 440h10.5v10.5h-10.5z"/>
<path fill="#989898" d="M270 190h10.5v10.5h-10.5zM250 240h10.5v10.5h-10.5zM230 330h10.5v10.5h-10.5zM110 420h10.5v10.5h-10.5z"/>
<path fill="#999999" d="M250 260h10.5v10.5h-10.5zM240 300h10.5v10.5h-10.5zM40 360h10.5v10.5h-10.5zM20 380h10.5v10.5h-10.5zM90 460h10.5v10.5h-10.5zM90 470h10.5v10.5h-10.5z"/>
<path fill="#9a9a9a" d="M240 220h10.5v10.5h-10.5zM120 240h10.5v10.5h-10.5zM250 250h10.5v10.5h-10.5zM0 380h10.5v10.5h-10.5zM90 450h10.5v10.5h-10.5z"/>
<path fill="#9b9b9b" d="M170 220h10.5v10.5h-10.5zM70 310h10.5v10.5h-10.5zM60 330h10.5v10.5h-10.5zM10 380h10.5v10.5h-10.5zM120 410h10.5v10.5h-10.5z"/>
<path fill="#9c9c9c" d="M80 290h10.5v10.5h-10.5z"/>
<path fill="#9d9d9d" d="M140 230h10.5v10.5h-10.5zM240 230h10.5v10.5h-10.5zM50 350h10.5v10.5h-10.5zM190 370h10.5v10.5h-10.5zM30 380h10.5v10.5h-10.5zM150 390h10.5v10.5h-10.5zM90 430h10.5v10.5h-10.5z"/>
<path fill="#9e9e9e" d="M230 220h10.5v10.5h-10.5zM90 270h10.5v10.5h-10.5z"/>
<path fill="#9f9f9f" d="M230 320h10.5v10.5h-10.5zM130 400h10.5v10.5h-10.5z"/>
<path fill="#a0a0a0" d="M240 240h10.5v10.5h-10.5zM110 250h10.5v10.5h-10.5zM100 260h10.5v10.5h-10.5zM240 290h10.5v10.5h-10.5zM40 370h10.5v10.5h-10.5zM170 380h10.5v10.5h-10.5zM20 390h10.5v10.5h-10.5zM80 440h10.5v10.5h-10.5z"/>
<path fill="#a1a1a1" d="M220 220h10.5v10.5h-10.5zM200 360h10.5v10.5h-10.5zM0 390h10.5v10.5h-10.5zM100 420h10.5v10.5h-10.5zM80 460h10.5v10.5h-10.5zM80 470h10.5v10.5h-10.5z"/>
<path fill="#a2a2a2" d="M180 220h10.5v10.5h-10.5zM10 390h10.5v10.5h-10.5zM80 450h10.5v10.5h-10.5z"/>
<path fill="#a3a3a3" d="M200 220h20.5v10.5h-20.5zM70 320h10.5v10.5h-10.5zM60 340h10.5v10.5h-10.5zM50 360h10.5v10.5h-10.5zM110 410h10.5v10.5h-10.5z"/>
<path fill="#a4a4a4" d="M190 220h10.5v10.5h-10.5zM240 250h10.5v10.5h-10.5zM240 260h10.5v10.5h-10.5zM240 270h10.5v10.5h-10.5zM240 280h10.5v10.5h-10.5zM220 340h10.5v10.5h-10.5zM30 390h10.5v10.5h-10.5zM80 430h10.5v10.5h-10.5z"/>
<path fill="#a5a5a5" d="M150 230h10.5v10.5h-10.5zM230 230h10.5v10.5h-10.5zM130 240h10.5v10.5h-10.5zM210 350h10.5v10.5h-10.5z"/>
<path fill="#a6a6a6" d="M80 300h10.5v10.5h-10.5zM140 390h10.5v10.5h-10.5z"/>
<path fill="#a7a7a7" d="M40 380h10.5v10.5h-10.5z"/>
<path fill="#a8a8a8" d="M180 370h10.5v10.5h-10.5zM160 380h10.5v10.5h-10.5zM120 400h10.5v10.5h-10.5zM90 420h10.5v10.5h-10.5zM70 440h10.5v10.5h-10.5z"/>
<path fill="#a9a9a9" d="M50 370h10.5v10.5h-10.5zM20 400h10.5v10.5h-10.5zM70 460h10.5v10.5h-10.5zM70 470h10.5v10.5h-10.5z"/>
<path fill="#aaaaaa" d="M90 280h10.5v10.5h-10.5zM230 310h10.5v10.5h-10.5zM70 330h10.5v10.5h-10.5zM60 350h10.5v10.5h-10.5zM0 400h20.5v10.5h-20.5zM70 450h10.5v10.5h-10.5z"/>
<path fill="#ababab" d="M160 230h10.5v10.5h-10.5zM230 240h10.5v10.5h-10.5zM100 410h10.5v10.5h-10.5z"/>
<path fill="#acacac" d="M220 230h10.5v10.5h-10.5zM30 400h10.5v10.5h-10.5zM70 430h10.5v10.5h-10.5z"/>
<path fill="#adadad" d="M80 310h10.5v10.5h-10.5z"/>
<path fill="#aeaeae" d="M120 250h10.5v10.5h-10.5zM220 330h10.5v10.5h-10.5zM40 390h10.5v10.5h-10.5zM130 390h10.5v10.5h-10.5zM80 420h10.5v10.5h-10.5z"/>
<path fill="#afafaf" d="M190 360h10.5v10.5h-10.5zM150 380h10.5v10.5h-10.5zM60 440h10.5v10.5h-10.5z"/>
<path fill="#b0b0b0" d="M60 360h10.5v10.5h-10.5zM50 380h10.5v10.5h-10.5zM110 400h10.5v10.5h-10.5zM0 410h10.5v10.5h-10.5zM20 410h10.5v10.5h-10.5zM60 450h10.5v10.5h-10.5zM60 460h10.5v10.5h-10.5zM60 470h10.5v10.5h-10.5z"/>
<path fill="#b1b1b1" d="M230 250h10.5v10.5h-10.5zM230 300h10.5v10.5h-10.5zM70 340h10.5v10.5h-10.5zM10 410h10.5v10.5h-10.5zM90 410h10.5v10.5h-10.5z"/>
<path fill="#b2b2b2" d="M210 230h10.5v10.5h-10.5zM30 410h10.5v10.5h-10.5zM60 430h10.5v10.5h-10.5z"/>
<path fill="#b3b3b3" d="M140 240h10.5v10.5h-10.5zM110 260h10.5v10.5h-10.5zM100 270h10.5v10.5h-10.5zM90 290h10.5v10.5h-10.5zM200 350h10.5v10.5h-10.5zM170 370h10.5v10.5h-10.5z"/>
<path fill="#b4b4b4" d="M170 230h10.5v10.5h-10.5zM80 320h10.5v10.5h-10.5zM40 400h10.5v10.5h-10.5zM20 420h10.5v10.5h-10.5zM70 420h10.5v10.5h-10.5zM50 440h10.5v10.5h-10.5zM50 460h10.5v10.5h-10.5z"/>
<path fill="#b5b5b5" d="M230 260h10.5v10.5h-10.5zM210 340h10.5v10.5h-10.5zM60 370h10.5v10.5h-10.5zM50 390h10.5v10.5h-10.5zM120 390h10.5v10.5h-10.5zM100 400h10.5v10.5h-10.5zM0 420h20.5v10.5h-20.5zM50 450h10.5v10.5h-10.5zM50 470h10.5v10.5h-10.5z"/>
<path fill="#b6b6b6" d="M220 240h10.5v10.5h-10.5zM140 380h10.5v10.5h-10.5zM80 410h10.5v10.5h-10.5zM30 420h10.5v10.5h-10.5zM50 430h10.5v10.5h-10.5z"/>
<path fill="#b7b7b7" d="M230 290h10.5v10.5h-10.5zM70 350h10.5v10.5h-10.5zM20 430h10.5v10.5h-10.5zM0 440h30.5v10.5h-30.5zM40 440h10.5v10.5h-10.5zM0 450h10.5v10.5h-10.5zM20 450h10.5v10.5h-10.5zM0 460h10.5v10.5h-10.5zM20 460h10.5v10.5h-10.5zM40 460h10.5v10.5h-10.5zM0 470h10.5v10.5h-10.5zM20 470h10.5v10.5h-10.5zM40 470h10.5v10.5h-10.5z"/>
<path fill="#b8b8b8" d="M200 230h10.5v10.5h-10.5zM230 270h10.5v10.5h-10.5zM220 320h10.5v10.5h-10.5zM40 410h10.5v10.5h-10.5zM60 420h10.5v10.5h-10.5zM0 430h20.5v10.5h-20.5zM30 440h10.5v10.5h-10.5zM10 450h10.5v10.5h-10.5zM30 450h20.5v10.5h-20.5zM10 460h10.5v10.5h-10.5zM30 460h10.5v10.5h-10.5zM10 470h10.5v10.5h-10.5zM30 470h10.5v10.5h-10.5z"/>
<path fill="#b9b9b9" d="M230 280h10.5v10.5h-10.5zM60 380h10.5v10.5h-10.5zM50 400h10.5v10.5h-10.5zM70 410h10.5v10.5h-10.5zM30 430h20.5v10.5h-20.5z"/>
<path fill="#bababa" d="M180 230h10.5v10.5h-10.5zM80 330h10.5v10.5h-10.5zM90 400h10.5v10.5h-10.5zM40 420h20.5v10.5h-20.5z"/>
<path fill="#bbbbbb" d="M190 230h10.5v10.5h-10.5zM130 250h10.5v10.5h-10.5zM90 300h10.5v10.5h-10.5zM160 370h10.5v10.5h-10.5zM60 390h10.5v10.5h-10.5zM110 390h10.5v10.5h-10.5zM60 410h10.5v10.5h-10.5z"/>
<path fill="#bcbcbc" d="M70 360h10.5v10.5h-10.5zM180 360h10.5v10.5h-10.5zM60 400h10.5v10.5h-10.5zM80 400h10.5v10.5h-10.5zM50 410h10.5v10.5h-10.5z"/>
<path fill="#bdbdbd" d="M130 380h10.5v10.5h-10.5zM70 400h10.5v10.5h-10.5z"/>
<path fill="#bebebe" d="M150 240h10.5v10.5h-10.5z"/>
<path fill="#bfbfbf" d="M80 340h10.5v10.5h-10.5zM70 370h10.5v10.5h-10.5zM100 390h10.5v10.5h-10.5z"/>
<path fill="#c0c0c0" d="M220 250h10.5v10.5h-10.5zM70 390h10.5v10.5h-10.5z"/>
<path fill="#c1c1c1" d="M210 240h10.5v10.5h-10.5zM100 280h10.5v10.5h-10.5zM90 310h10.5v10.5h-10.5zM190 350h10.5v10.5h-10.5zM70 380h10.5v10.5h-10.5zM90 390h10.5v10.5h-10.5z"/>
<path fill="#c2c2c2" d="M120 260h10.5v10.5h-10.5zM220 310h10.5v10.5h-10.5zM210 330h10.5v10.5h-10.5zM150 370h10.5v10.5h-10.5zM120 380h10.5v10.5h-10.5zM80 390h10.5v10.5h-10.5z"/>
<path fill="#c4c4c4" d="M200 340h10.5v10.5h-10.5zM80 350h10.5v10.5h-10.5z"/>
<path fill="#c5c5c5" d="M110 380h10.5v10.5h-10.5z"/>
<path fill="#c6c6c6" d="M90 320h10.5v10.5h-10.5zM80 360h10.5v10.5h-10.5zM170 360h10.5v10.5h-10.5zM80 380h10.5v10.5h-10.5z"/>
<path fill="#c7c7c7" d="M160 240h10.5v10.5h-10.5zM220 260h10.5v10.5h-10.5zM80 370h10.5v10.5h-10.5zM140 370h10.5v10.5h-10.5zM90 380h20.5v10.5h-20.5z"/>
<path fill="#c8c8c8" d="M110 270h10.5v10.5h-10.5z"/>
<path fill="#c9c9c9" d="M140 250h10.5v10.5h-10.5zM90 330h10.5v10.5h-10.5z"/>
<path fill="#cacaca" d="M200 240h10.5v10.5h-10.5zM100 290h10.5v10.5h-10.5zM220 300h10.5v10.5h-10.5z"/>
<path fill="#cbcbcb" d="M130 370h10.5v10.5h-10.5z"/>
<path fill="#cccccc" d="M220 270h10.5v10.5h-10.5zM90 340h10.5v10.5h-10.5zM90 370h10.5v10.5h-10.5z"/>
<path fill="#cdcdcd" d="M210 250h10.5v10.5h-10.5z"/>
<path fill="#cecece" d="M170 240h10.5v10.5h-10.5zM130 260h10.5v10.5h-10.5zM210 320h10.5v10.5h-10.5zM180 350h10.5v10.5h-10.5zM90 360h10.5v10.5h-10.5zM100 370h10.5v10.5h-10.5zM120 370h10.5v10.5h-10.5z"/>
<path fill="#cfcfcf" d="M220 280h10.5v10.5h-10.5zM220 290h10.5v10.5h-10.5zM90 350h10.5v10.5h-10.5zM160 360h10.5v10.5h-10.5zM110 370h10.5v10.5h-10.5z"/>
<path fill="#d0d0d0" d="M100 300h10.5v10.5h-10.5z"/>
<path fill="#d2d2d2" d="M190 240h10.5v10.5h-10.5zM190 340h10.5v10.5h-10.5z"/>
<path fill="#d3d3d3" d="M200 330h10.5v10.5h-10.5z"/>
<path fill="#d4d4d4" d="M100 310h10.5v10.5h-10.5zM100 360h10.5v10.5h-10.5zM150 360h10.5v10.5h-10.5z"/>
<path fill="#d5d5d5" d="M180 240h10.5v10.5h-10.5z"/>
<path fill="#d6d6d6" d="M100 320h10.5v10.5h-10.5zM100 330h10.5v10.5h-10.5zM100 340h10.5v10.5h-10.5zM110 360h10.5v10.5h-10.5z"/>
<path fill="#d7d7d7" d="M150 250h10.5v10.5h-10.5zM210 260h10.5v10.5h-10.5zM120 270h10.5v10.5h-10.5zM100 350h10.5v10.5h-10.5z"/>
<path fill="#d8d8d8" d="M120 360h30.5v10.5h-30.5z"/>
<path fill="#d9d9d9" d="M200 250h10.5v10.5h-10.5zM210 310h10.5v10.5h-10.5z"/>
<path fill="#dadada" d="M140 260h10.5v10.5h-10.5zM110 280h10.5v10.5h-10.5zM170 350h10.5v10.5h-10.5z"/>
<path fill="#dbdbdb" d="M110 350h10.5v10.5h-10.5z"/>
<path fill="#dcdcdc" d="M130 270h10.5v10.5h-10.5z"/>
<path fill="#dddddd" d="M210 270h10.5v10.5h-10.5zM110 340h10.5v10.5h-10.5z"/>
<path fill="#dedede" d="M160 250h10.5v10.5h-10.5zM210 300h10.5v10.5h-10.5zM200 320h10.5v10.5h-10.5zM180 340h10.5v10.5h-10.5z"/>
<path fill="#dfdfdf" d="M110 290h10.5v10.5h-10.5zM120 350h10.5v10.5h-10.5z"/>
<path fill="#e0e0e0" d="M110 330h10.5v10.5h-10.5zM160 350h10.5v10.5h-10.5z"/>
<path fill="#e1e1e1" d="M110 300h10.5v10.5h-10.5zM190 330h10.5v10.5h-10.5z"/>
<path fill="#e2e2e2" d="M210 280h10.5v10.5h-10.5z"/>
<path fill="#e3e3e3" d="M170 250h10.5v10.5h-10.5zM210 290h10.5v10.5h-10.5zM110 320h10.5v10.5h-10.5zM130 350h10.5v10.5h-10.5z"/>
<path fill="#e4e4e4" d="M190 250h10.5v10.5h-10.5zM200 260h10.5v10.5h-10.5zM110 310h10.5v10.5h-10.5zM120 340h10.5v10.5h-10.5zM150 350h10.5v10.5h-10.5z"/>
<path fill="#e5e5e5" d="M140 270h10.5v10.5h-10.5zM140 350h10.5v10.5h-10.5z"/>
<path fill="#e6e6e6" d="M150 260h10.5v10.5h-10.5z"/>
<path fill="#e8e8e8" d="M200 310h10.5v10.5h-10.5zM170 340h10.5v10.5h-10.5z"/>
<path fill="#e9e9e9" d="M180 250h10.5v10.5h-10.5zM200 270h10.5v10.5h-10.5zM120 280h20.5v10.5h-20.5zM190 320h10.5v10.5h-10.5zM120 330h10.5v10.5h-10.5zM180 330h10.5v10.5h-10.5z"/>
<path fill="#eaeaea" d="M130 340h10.5v10.5h-10.5z"/>
<path fill="#ebebeb" d="M120 290h10.5v10.5h-10.5zM200 300h10.5v10.5h-10.5z"/>
<path fill="#ececec" d="M160 260h10.5v10.5h-10.5zM190 260h10.5v10.5h-10.5zM150 270h10.5v10.5h-10.5zM200 280h10.5v10.5h-10.5zM120 300h10.5v10.5h-10.5zM120 320h10.5v10.5h-10.5z"/>
<path fill="#ededed" d="M140 280h10.5v10.5h-10.5zM200 290h10.5v10.5h-10.5zM120 310h10.5v10.5h-10.5zM160 340h10.5v10.5h-10.5z"/>
<path fill="#eeeeee" d="M190 310h10.5v10.5h-10.5z"/>
<path fill="#efefef" d="M170 260h10.5v10.5h-10.5zM130 290h10.5v10.5h-10.5zM140 340h10.5v10.5h-10.5z"/>
<path fill="#f0f0f0" d="M180 260h10.5v10.5h-10.5zM190 270h10.5v10.5h-10.5zM150 280h10.5v10.5h-10.5zM130 300h10.5v10.5h-10.5zM190 300h10.5v10.5h-10.5zM180 320h10.5v10.5h-10.5zM130 330h10.5v10.5h-10.5zM170 330h10.5v10.5h-10.5zM150 340h10.5v10.5h-10.5z"/>
<path fill="#f1f1f1" d="M160 270h10.5v10.5h-10.5z"/>
<path fill="#f2f2f2" d="M170 280h10.5v10.5h-10.5zM190 280h10.5v10.5h-10.5zM140 290h10.5v10.5h-10.5zM180 290h20.5v10.5h-20.5zM180 300h10.5v10.5h-10.5zM180 310h10.5v10.5h-10.5z"/>
<path fill="#f3f3f3" d="M170 270h20.5v10.5h-20.5zM160 280h10.5v10.5h-10.5zM180 280h10.5v10.5h-10.5zM170 290h10.5v10.5h-10.5zM130 310h10.5v10.5h-10.5zM130 320h10.5v10.5h-10.5z"/>
<path fill="#f5f5f5" d="M150 290h10.5v10.5h-10.5zM140 300h10.5v10.5h-10.5z"/>
<path fill="#f6f6f6" d="M160 290h10.5v10.5h-10.5zM140 330h10.5v10.5h-10.5zM160 330h10.5v10.5h-10.5z"/>
<path fill="#f7f7f7" d="M170 300h10.5v10.5h-10.5zM170 320h10.5v10.5h-10.5z"/>
<path fill="#f8f8f8" d="M150 330h10.5v10.5h-10.5z"/>
<path fill="#f9f9f9" d="M170 310h10.5v10.5h-10.5zM140 320h10.5v10.5h-10.5z"/>
<path fill="#fafafa" d="M140 310h10.5v10.5h-10.5z"/>
<path fill="#fcfcfc" d="M150 300h20.5v10.5h-20.5z"/>
<path fill="#fdfdfd" d="M160 320h10.5v10.5h-10.5z"/>
<path fill="#fefefe" d="M150 320h10.5v10.5h-10.5z"/>
<path fill="#ffffff" d="M150 310h20.5v10.5h-20.5z"/>
</g></g>
<path d="M1518.55 117.07V526.75H1928.33" fill="none" stroke="#262626" stroke-width="1.3" stroke-opacity="0.5"/>
<path d="M1518.65 526.75v10.6M1518.65 117.07v-10.6M1518.65 526.75h-10.6M1928.33 526.75h10.6M1598.98 526.75v10.6M1598.98 117.07v-10.6M1518.65 446.42h-10.6M1928.33 446.42h10.6M1679.31 526.75v10.6M1679.31 117.07v-10.6M1518.65 366.09h-10.6M1928.33 366.09h10.6M1759.64 526.75v10.6M1759.64 117.07v-10.6M1518.65 285.76h-10.6M1928.33 285.76h10.6M1839.97 526.75v10.6M1839.97 117.07v-10.6M1518.65 205.43h-10.6M1928.33 205.43h10.6M1920.30 526.75v10.6M1920.30 117.07v-10.6M1518.65 125.10h-10.6M1928.33 125.10h10.6" stroke="#262626" stroke-width="1.7" fill="none"/>
<text class="tk" x="1518.65" y="580.95" text-anchor="middle">0</text>
<text class="tk" x="1496.25" y="539.35" text-anchor="end">0</text>
<text class="tk" x="1598.98" y="580.95" text-anchor="middle">0.1</text>
<text class="tk" x="1496.25" y="459.02" text-anchor="end">0.1</text>
<text class="tk" x="1679.31" y="580.95" text-anchor="middle">0.2</text>
<text class="tk" x="1496.25" y="378.69" text-anchor="end">0.2</text>
<text class="tk" x="1759.64" y="580.95" text-anchor="middle">0.3</text>
<text class="tk" x="1496.25" y="298.36" text-anchor="end">0.3</text>
<text class="tk" x="1839.97" y="580.95" text-anchor="middle">0.4</text>
<text class="tk" x="1496.25" y="218.03" text-anchor="end">0.4</text>
<text class="tk" x="1920.30" y="580.95" text-anchor="middle">0.5</text>
<text class="tk" x="1496.25" y="137.70" text-anchor="end">0.5</text>
<text class="lb" x="1723.49" y="626.75" text-anchor="middle">X (m)</text>
<text class="lb" transform="translate(1436.25 321.91) rotate(-90)" text-anchor="middle">Y (m)</text>
<text class="tt" transform="translate(1724.09 99.87) scale(.978 1)" text-anchor="middle"><tspan font-style="italic">N</tspan> = 9, Arr04, Loc. 2.3, F</text>
<text class="pl" x="1446.25" y="108.67" text-anchor="end">(d)</text>
<rect x="1961.80" y="118.22" width="38.9" height="406.50" fill="url(#jg)" stroke="#1a1a1a" stroke-width="1.2"/>
<text class="cb" x="2013.00" y="515.86">0.2</text>
<text class="cb" x="2013.00" y="420.10">0.4</text>
<text class="cb" x="2013.00" y="324.34">0.6</text>
<text class="cb" x="2013.00" y="228.58">0.8</text>
<text class="cb" x="2013.00" y="132.82">1</text>
<path d="M2000.70 501.26h-5M2000.70 405.50h-5M2000.70 309.74h-5M2000.70 213.98h-5" stroke="#262626" stroke-width="1.4" fill="none"/>
<path d="M1649.2 388.9h19.2l-9.6 -18.8z" fill="#bdbdbd" stroke="#cfe9e9" stroke-width="0.8"/>
<path d="M1667.2 368.2h26.6M1680.5 354.9v26.6" stroke="#fff" stroke-width="4.7" fill="none"/>
<clipPath id="cle"><rect x="834.20" y="733.42" width="410.23" height="410.43"/></clipPath>
<g clip-path="url(#cle)"><g filter="url(#jet)" transform="translate(804.20 703.42)">
<path fill="#000000" d="M350 0h130.5v10.5h-130.5zM350 10h130.5v10.5h-130.5zM350 20h130.5v10.5h-130.5zM350 30h130.5v10.5h-130.5zM350 40h130.5v10.5h-130.5zM350 50h130.5v10.5h-130.5zM360 60h120.5v10.5h-120.5zM370 70h110.5v10.5h-110.5zM370 80h110.5v10.5h-110.5zM380 90h100.5v10.5h-100.5zM390 100h90.5v10.5h-90.5zM390 110h90.5v10.5h-90.5zM380 120h100.5v10.5h-100.5zM370 130h110.5v10.5h-110.5zM360 140h120.5v10.5h-120.5zM360 150h120.5v10.5h-120.5zM80 160h60.5v10.5h-60.5zM360 160h80.5v10.5h-80.5zM450 160h10.5v10.5h-10.5zM470 160h10.5v10.5h-10.5zM70 170h70.5v10.5h-70.5zM350 170h80.5v10.5h-80.5zM50 180h80.5v10.5h-80.5zM350 180h80.5v10.5h-80.5zM40 190h90.5v10.5h-90.5zM350 190h70.5v10.5h-70.5zM40 200h70.5v10.5h-70.5zM350 200h60.5v10.5h-60.5zM40 210h50.5v10.5h-50.5zM360 210h50.5v10.5h-50.5zM50 220h30.5v10.5h-30.5zM360 220h40.5v10.5h-40.5zM360 230h20.5v10.5h-20.5zM350 240h20.5v10.5h-20.5zM350 250h20.5v10.5h-20.5zM350 260h20.5v10.5h-20.5z"/>
<path fill="#010101" d="M340 0h10.5v10.5h-10.5zM340 10h10.5v10.5h-10.5zM340 20h10.5v10.5h-10.5zM340 30h10.5v10.5h-10.5zM340 40h10.5v10.5h-10.5zM350 60h10.5v10.5h-10.5zM360 70h10.5v10.5h-10.5zM360 80h10.5v10.5h-10.5zM360 90h20.5v10.5h-20.5zM370 100h20.5v10.5h-20.5zM370 110h20.5v10.5h-20.5zM110 150h10.5v10.5h-10.5zM350 160h10.5v10.5h-10.5zM440 160h10.5v10.5h-10.5zM460 160h10.5v10.5h-10.5zM430 170h10.5v10.5h-10.5zM130 180h10.5v10.5h-10.5zM30 200h10.5v10.5h-10.5zM410 200h10.5v10.5h-10.5zM350 210h10.5v10.5h-10.5zM40 220h10.5v10.5h-10.5zM350 220h10.5v10.5h-10.5zM350 230h10.5v10.5h-10.5zM380 230h10.5v10.5h-10.5zM370 240h10.5v10.5h-10.5zM340 260h10.5v10.5h-10.5z"/>
<path fill="#020202" d="M340 50h10.5v10.5h-10.5zM350 70h10.5v10.5h-10.5zM360 100h10.5v10.5h-10.5zM370 120h10.5v10.5h-10.5zM120 150h10.5v10.5h-10.5zM350 150h10.5v10.5h-10.5zM60 170h10.5v10.5h-10.5zM440 170h40.5v10.5h-40.5zM420 190h10.5v10.5h-10.5zM400 220h10.5v10.5h-10.5zM390 230h10.5v10.5h-10.5zM340 250h10.5v10.5h-10.5zM350 270h10.5v10.5h-10.5z"/>
<path fill="#030303" d="M330 0h10.5v10.5h-10.5zM330 10h10.5v10.5h-10.5zM330 20h10.5v10.5h-10.5zM330 30h10.5v10.5h-10.5zM330 40h10.5v10.5h-10.5zM340 60h10.5v10.5h-10.5zM350 80h10.5v10.5h-10.5zM350 90h10.5v10.5h-10.5zM350 100h10.5v10.5h-10.5zM360 110h10.5v10.5h-10.5zM340 120h10.5v10.5h-10.5zM360 120h10.5v10.5h-10.5zM360 130h10.5v10.5h-10.5zM100 150h10.5v10.5h-10.5zM430 180h50.5v10.5h-50.5zM10 200h10.5v10.5h-10.5zM420 200h10.5v10.5h-10.5zM30 210h10.5v10.5h-10.5zM410 210h10.5v10.5h-10.5zM400 230h10.5v10.5h-10.5zM340 240h10.5v10.5h-10.5zM380 240h20.5v10.5h-20.5zM370 250h10.5v10.5h-10.5z"/>
<path fill="#040404" d="M330 50h10.5v10.5h-10.5zM340 70h10.5v10.5h-10.5zM350 110h10.5v10.5h-10.5zM350 130h10.5v10.5h-10.5zM350 140h10.5v10.5h-10.5zM70 160h10.5v10.5h-10.5zM140 160h10.5v10.5h-10.5zM340 180h10.5v10.5h-10.5zM340 190h10.5v10.5h-10.5zM430 190h10.5v10.5h-10.5zM0 200h10.5v10.5h-10.5zM340 200h10.5v10.5h-10.5zM10 210h10.5v10.5h-10.5zM340 210h10.5v10.5h-10.5zM420 210h10.5v10.5h-10.5zM410 220h10.5v10.5h-10.5zM340 230h10.5v10.5h-10.5zM400 240h10.5v10.5h-10.5zM430 260h10.5v10.5h-10.5zM340 270h10.5v10.5h-10.5zM360 270h10.5v10.5h-10.5z"/>
<path fill="#050505" d="M330 60h10.5v10.5h-10.5zM340 80h10.5v10.5h-10.5zM340 110h10.5v10.5h-10.5zM90 150h10.5v10.5h-10.5zM130 150h10.5v10.5h-10.5zM340 170h10.5v10.5h-10.5zM440 190h40.5v10.5h-40.5zM20 200h10.5v10.5h-10.5zM0 210h10.5v10.5h-10.5zM20 210h10.5v10.5h-10.5zM340 220h10.5v10.5h-10.5zM410 230h10.5v10.5h-10.5zM410 240h10.5v10.5h-10.5zM380 250h40.5v10.5h-40.5zM370 260h10.5v10.5h-10.5zM420 260h10.5v10.5h-10.5z"/>
<path fill="#060606" d="M320 0h10.5v10.5h-10.5zM320 10h10.5v10.5h-10.5zM320 30h10.5v10.5h-10.5zM320 40h10.5v10.5h-10.5zM340 90h10.5v10.5h-10.5zM350 120h10.5v10.5h-10.5zM140 150h10.5v10.5h-10.5zM340 160h10.5v10.5h-10.5zM140 170h10.5v10.5h-10.5zM40 180h10.5v10.5h-10.5zM0 190h20.5v10.5h-20.5zM30 190h10.5v10.5h-10.5zM110 200h10.5v10.5h-10.5zM430 200h10.5v10.5h-10.5zM450 200h30.5v10.5h-30.5zM420 220h10.5v10.5h-10.5zM420 250h10.5v10.5h-10.5zM330 260h10.5v10.5h-10.5zM400 260h20.5v10.5h-20.5z"/>
<path fill="#070707" d="M320 20h10.5v10.5h-10.5zM320 50h10.5v10.5h-10.5zM330 70h10.5v10.5h-10.5zM340 100h10.5v10.5h-10.5zM340 150h10.5v10.5h-10.5zM20 190h10.5v10.5h-10.5zM440 200h10.5v10.5h-10.5zM430 210h10.5v10.5h-10.5zM420 230h10.5v10.5h-10.5zM420 240h10.5v10.5h-10.5zM330 250h10.5v10.5h-10.5zM380 260h20.5v10.5h-20.5zM330 270h10.5v10.5h-10.5zM370 270h10.5v10.5h-10.5z"/>
<path fill="#080808" d="M340 130h10.5v10.5h-10.5zM340 140h10.5v10.5h-10.5zM80 150h10.5v10.5h-10.5zM150 150h10.5v10.5h-10.5zM60 160h10.5v10.5h-10.5zM150 160h10.5v10.5h-10.5zM50 170h10.5v10.5h-10.5zM330 190h10.5v10.5h-10.5zM330 200h10.5v10.5h-10.5zM450 210h30.5v10.5h-30.5zM0 220h30.5v10.5h-30.5zM20 230h10.5v10.5h-10.5zM450 260h30.5v10.5h-30.5zM420 270h10.5v10.5h-10.5z"/>
<path fill="#090909" d="M320 60h10.5v10.5h-10.5zM330 80h10.5v10.5h-10.5zM110 140h20.5v10.5h-20.5zM30 180h10.5v10.5h-10.5zM330 180h10.5v10.5h-10.5zM330 210h10.5v10.5h-10.5zM440 210h10.5v10.5h-10.5zM30 220h10.5v10.5h-10.5zM330 220h10.5v10.5h-10.5zM430 220h10.5v10.5h-10.5zM0 230h20.5v10.5h-20.5zM30 230h10.5v10.5h-10.5zM50 230h20.5v10.5h-20.5zM330 240h10.5v10.5h-10.5zM380 270h10.5v10.5h-10.5zM410 270h10.5v10.5h-10.5zM430 270h10.5v10.5h-10.5zM340 280h20.5v10.5h-20.5z"/>
<path fill="#0a0a0a" d="M100 140h10.5v10.5h-10.5zM130 140h10.5v10.5h-10.5zM70 150h10.5v10.5h-10.5zM40 170h10.5v10.5h-10.5zM330 170h10.5v10.5h-10.5zM0 180h30.5v10.5h-30.5zM440 220h40.5v10.5h-40.5zM40 230h10.5v10.5h-10.5zM330 230h10.5v10.5h-10.5zM430 230h10.5v10.5h-10.5zM440 260h10.5v10.5h-10.5zM390 270h20.5v10.5h-20.5zM360 280h10.5v10.5h-10.5z"/>
<path fill="#0b0b0b" d="M310 30h10.5v10.5h-10.5zM310 40h10.5v10.5h-10.5zM330 90h10.5v10.5h-10.5zM90 140h10.5v10.5h-10.5zM140 140h10.5v10.5h-10.5zM50 160h10.5v10.5h-10.5zM0 240h10.5v10.5h-10.5zM20 240h10.5v10.5h-10.5zM430 240h10.5v10.5h-10.5zM450 270h30.5v10.5h-30.5zM330 280h10.5v10.5h-10.5z"/>
<path fill="#0c0c0c" d="M310 0h10.5v10.5h-10.5zM310 10h10.5v10.5h-10.5zM310 20h10.5v10.5h-10.5zM310 50h10.5v10.5h-10.5zM320 70h10.5v10.5h-10.5zM150 140h10.5v10.5h-10.5zM60 150h10.5v10.5h-10.5zM160 150h10.5v10.5h-10.5zM160 160h10.5v10.5h-10.5zM330 160h10.5v10.5h-10.5zM150 170h10.5v10.5h-10.5zM120 200h10.5v10.5h-10.5zM440 230h40.5v10.5h-40.5zM10 240h10.5v10.5h-10.5zM450 240h10.5v10.5h-10.5zM470 240h10.5v10.5h-10.5zM430 250h10.5v10.5h-10.5zM320 260h10.5v10.5h-10.5zM440 270h10.5v10.5h-10.5zM370 280h10.5v10.5h-10.5z"/>
<path fill="#0d0d0d" d="M330 100h10.5v10.5h-10.5zM80 140h10.5v10.5h-10.5zM30 170h10.5v10.5h-10.5zM30 240h10.5v10.5h-10.5zM440 240h10.5v10.5h-10.5zM460 240h10.5v10.5h-10.5zM320 250h10.5v10.5h-10.5zM320 270h10.5v10.5h-10.5z"/>
<path fill="#0e0e0e" d="M310 60h10.5v10.5h-10.5zM330 110h10.5v10.5h-10.5zM330 150h10.5v10.5h-10.5zM40 160h10.5v10.5h-10.5zM0 170h30.5v10.5h-30.5zM140 180h10.5v10.5h-10.5zM130 190h10.5v10.5h-10.5zM320 190h10.5v10.5h-10.5zM90 210h10.5v10.5h-10.5zM20 250h10.5v10.5h-10.5zM380 280h10.5v10.5h-10.5z"/>
<path fill="#0f0f0f" d="M320 80h10.5v10.5h-10.5zM110 130h20.5v10.5h-20.5zM70 140h10.5v10.5h-10.5zM160 140h10.5v10.5h-10.5zM330 140h10.5v10.5h-10.5zM50 150h10.5v10.5h-10.5zM320 180h10.5v10.5h-10.5zM320 200h10.5v10.5h-10.5zM320 240h10.5v10.5h-10.5zM0 250h10.5v10.5h-10.5zM450 250h30.5v10.5h-30.5zM320 280h10.5v10.5h-10.5zM390 280h40.5v10.5h-40.5zM340 290h10.5v10.5h-10.5z"/>
<path fill="#101010" d="M100 130h10.5v10.5h-10.5zM130 130h20.5v10.5h-20.5zM330 130h10.5v10.5h-10.5zM320 210h10.5v10.5h-10.5zM320 220h10.5v10.5h-10.5zM320 230h10.5v10.5h-10.5zM10 250h10.5v10.5h-10.5zM440 250h10.5v10.5h-10.5zM330 290h10.5v10.5h-10.5zM350 290h10.5v10.5h-10.5z"/>
<path fill="#111111" d="M300 40h10.5v10.5h-10.5zM330 120h10.5v10.5h-10.5zM150 130h10.5v10.5h-10.5zM60 140h10.5v10.5h-10.5zM40 150h10.5v10.5h-10.5zM320 170h10.5v10.5h-10.5zM430 280h10.5v10.5h-10.5zM360 290h10.5v10.5h-10.5z"/>
<path fill="#121212" d="M300 10h10.5v10.5h-10.5zM300 30h10.5v10.5h-10.5zM300 50h10.5v10.5h-10.5zM310 70h10.5v10.5h-10.5zM320 90h10.5v10.5h-10.5zM90 130h10.5v10.5h-10.5zM0 160h40.5v10.5h-40.5zM160 170h10.5v10.5h-10.5zM70 230h10.5v10.5h-10.5zM40 240h10.5v10.5h-10.5zM30 250h10.5v10.5h-10.5zM20 260h10.5v10.5h-10.5zM320 290h10.5v10.5h-10.5z"/>
<path fill="#131313" d="M300 0h10.5v10.5h-10.5zM300 20h10.5v10.5h-10.5zM80 130h10.5v10.5h-10.5zM50 140h10.5v10.5h-10.5zM170 150h10.5v10.5h-10.5zM170 160h10.5v10.5h-10.5zM320 160h10.5v10.5h-10.5zM80 220h10.5v10.5h-10.5zM0 260h10.5v10.5h-10.5zM450 280h30.5v10.5h-30.5zM370 290h10.5v10.5h-10.5z"/>
<path fill="#141414" d="M300 60h10.5v10.5h-10.5zM160 130h10.5v10.5h-10.5zM40 140h10.5v10.5h-10.5zM0 150h40.5v10.5h-40.5zM310 250h10.5v10.5h-10.5zM10 260h10.5v10.5h-10.5zM310 260h10.5v10.5h-10.5zM310 270h10.5v10.5h-10.5zM440 280h10.5v10.5h-10.5zM380 290h10.5v10.5h-10.5z"/>
<path fill="#151515" d="M320 100h10.5v10.5h-10.5zM70 130h10.5v10.5h-10.5zM0 140h40.5v10.5h-40.5zM320 150h10.5v10.5h-10.5zM310 280h10.5v10.5h-10.5z"/>
<path fill="#161616" d="M310 80h10.5v10.5h-10.5zM120 120h20.5v10.5h-20.5zM20 130h10.5v10.5h-10.5zM50 130h20.5v10.5h-20.5zM170 140h10.5v10.5h-10.5zM150 180h10.5v10.5h-10.5zM310 180h10.5v10.5h-10.5zM310 190h10.5v10.5h-10.5zM310 240h10.5v10.5h-10.5zM30 260h10.5v10.5h-10.5zM20 270h10.5v10.5h-10.5zM390 290h10.5v10.5h-10.5zM330 300h10.5v10.5h-10.5z"/>
<path fill="#171717" d="M110 120h10.5v10.5h-10.5zM140 120h20.5v10.5h-20.5zM0 130h20.5v10.5h-20.5zM30 130h20.5v10.5h-20.5zM320 140h10.5v10.5h-10.5zM170 170h10.5v10.5h-10.5zM310 230h10.5v10.5h-10.5zM400 290h10.5v10.5h-10.5zM340 300h10.5v10.5h-10.5z"/>
<path fill="#181818" d="M290 40h10.5v10.5h-10.5zM290 50h10.5v10.5h-10.5zM320 110h10.5v10.5h-10.5zM0 120h40.5v10.5h-40.5zM100 120h10.5v10.5h-10.5zM310 200h10.5v10.5h-10.5zM310 210h10.5v10.5h-10.5zM310 220h10.5v10.5h-10.5zM50 240h10.5v10.5h-10.5zM0 270h10.5v10.5h-10.5zM310 290h10.5v10.5h-10.5zM410 290h10.5v10.5h-10.5zM320 300h10.5v10.5h-10.5z"/>
<path fill="#191919" d="M300 70h10.5v10.5h-10.5zM90 120h10.5v10.5h-10.5zM160 120h10.5v10.5h-10.5zM170 130h10.5v10.5h-10.5zM320 130h10.5v10.5h-10.5zM310 170h10.5v10.5h-10.5zM100 210h10.5v10.5h-10.5zM420 290h10.5v10.5h-10.5zM350 300h10.5v10.5h-10.5z"/>
<path fill="#1a1a1a" d="M290 30h10.5v10.5h-10.5zM310 90h10.5v10.5h-10.5zM40 120h10.5v10.5h-10.5zM80 120h10.5v10.5h-10.5zM320 120h10.5v10.5h-10.5zM10 270h10.5v10.5h-10.5zM360 300h10.5v10.5h-10.5z"/>
<path fill="#1b1b1b" d="M290 0h10.5v10.5h-10.5zM290 10h10.5v10.5h-10.5zM290 20h10.5v10.5h-10.5zM50 120h30.5v10.5h-30.5zM140 190h10.5v10.5h-10.5zM430 290h10.5v10.5h-10.5zM310 300h10.5v10.5h-10.5zM370 300h10.5v10.5h-10.5z"/>
<path fill="#1c1c1c" d="M290 60h10.5v10.5h-10.5zM0 110h40.5v10.5h-40.5zM310 160h10.5v10.5h-10.5zM450 290h10.5v10.5h-10.5zM380 300h10.5v10.5h-10.5z"/>
<path fill="#1d1d1d" d="M300 80h10.5v10.5h-10.5zM310 100h10.5v10.5h-10.5zM170 120h10.5v10.5h-10.5zM300 250h10.5v10.5h-10.5zM300 260h10.5v10.5h-10.5zM30 270h10.5v10.5h-10.5zM440 290h10.5v10.5h-10.5zM460 290h20.5v10.5h-20.5z"/>
<path fill="#1e1e1e" d="M110 110h30.5v10.5h-30.5zM180 150h10.5v10.5h-10.5zM310 150h10.5v10.5h-10.5zM300 240h10.5v10.5h-10.5zM40 250h10.5v10.5h-10.5zM300 270h10.5v10.5h-10.5zM390 300h10.5v10.5h-10.5z"/>
<path fill="#1f1f1f" d="M40 110h10.5v10.5h-10.5zM100 110h10.5v10.5h-10.5zM140 110h10.5v10.5h-10.5zM180 140h10.5v10.5h-10.5zM180 160h10.5v10.5h-10.5zM160 180h10.5v10.5h-10.5zM300 230h10.5v10.5h-10.5zM320 310h20.5v10.5h-20.5z"/>
<path fill="#202020" d="M50 110h10.5v10.5h-10.5zM90 110h10.5v10.5h-10.5zM150 110h10.5v10.5h-10.5zM310 110h10.5v10.5h-10.5zM310 140h10.5v10.5h-10.5zM130 200h10.5v10.5h-10.5zM300 280h10.5v10.5h-10.5zM400 300h10.5v10.5h-10.5zM340 310h10.5v10.5h-10.5z"/>
<path fill="#212121" d="M290 70h10.5v10.5h-10.5zM0 100h40.5v10.5h-40.5zM60 110h30.5v10.5h-30.5zM300 180h10.5v10.5h-10.5zM300 190h10.5v10.5h-10.5zM300 220h10.5v10.5h-10.5z"/>
<path fill="#222222" d="M300 90h10.5v10.5h-10.5zM160 110h10.5v10.5h-10.5zM310 120h10.5v10.5h-10.5zM310 130h10.5v10.5h-10.5zM300 200h10.5v10.5h-10.5zM110 210h10.5v10.5h-10.5zM300 210h10.5v10.5h-10.5zM90 220h10.5v10.5h-10.5zM60 240h10.5v10.5h-10.5zM300 290h10.5v10.5h-10.5zM410 300h10.5v10.5h-10.5zM350 310h10.5v10.5h-10.5z"/>
<path fill="#232323" d="M280 40h10.5v10.5h-10.5zM280 50h10.5v10.5h-10.5zM180 130h10.5v10.5h-10.5zM300 170h10.5v10.5h-10.5zM310 310h10.5v10.5h-10.5zM360 310h10.5v10.5h-10.5z"/>
<path fill="#242424" d="M280 0h10.5v10.5h-10.5zM280 10h10.5v10.5h-10.5zM280 30h10.5v10.5h-10.5zM40 100h10.5v10.5h-10.5zM420 300h10.5v10.5h-10.5zM370 310h10.5v10.5h-10.5z"/>
<path fill="#252525" d="M280 20h10.5v10.5h-10.5zM20 90h10.5v10.5h-10.5zM300 160h10.5v10.5h-10.5zM300 300h10.5v10.5h-10.5zM380 310h10.5v10.5h-10.5z"/>
<path fill="#262626" d="M280 60h10.5v10.5h-10.5zM290 80h10.5v10.5h-10.5zM0 90h20.5v10.5h-20.5zM30 90h10.5v10.5h-10.5zM50 100h10.5v10.5h-10.5zM100 100h40.5v10.5h-40.5zM300 100h10.5v10.5h-10.5zM170 110h10.5v10.5h-10.5zM180 170h10.5v10.5h-10.5zM430 300h10.5v10.5h-10.5z"/>
<path fill="#272727" d="M90 100h10.5v10.5h-10.5zM300 150h10.5v10.5h-10.5zM170 180h10.5v10.5h-10.5zM80 230h10.5v10.5h-10.5zM290 240h10.5v10.5h-10.5zM290 250h10.5v10.5h-10.5zM450 300h30.5v10.5h-30.5zM390 310h10.5v10.5h-10.5z"/>
<path fill="#282828" d="M60 100h30.5v10.5h-30.5zM140 100h10.5v10.5h-10.5zM180 120h10.5v10.5h-10.5zM150 190h10.5v10.5h-10.5zM290 230h10.5v10.5h-10.5zM440 300h10.5v10.5h-10.5zM320 320h20.5v10.5h-20.5z"/>
<path fill="#292929" d="M40 90h10.5v10.5h-10.5zM300 110h10.5v10.5h-10.5zM300 140h10.5v10.5h-10.5zM290 260h10.5v10.5h-10.5zM20 280h10.5v10.5h-10.5zM400 310h10.5v10.5h-10.5z"/>
<path fill="#2a2a2a" d="M280 70h10.5v10.5h-10.5zM0 80h30.5v10.5h-30.5zM290 90h10.5v10.5h-10.5zM150 100h10.5v10.5h-10.5zM50 250h10.5v10.5h-10.5zM340 320h10.5v10.5h-10.5z"/>
<path fill="#2b2b2b" d="M30 80h10.5v10.5h-10.5zM300 120h10.5v10.5h-10.5zM300 130h10.5v10.5h-10.5zM190 150h10.5v10.5h-10.5zM290 220h10.5v10.5h-10.5zM40 260h10.5v10.5h-10.5zM290 270h10.5v10.5h-10.5zM310 320h10.5v10.5h-10.5z"/>
<path fill="#2c2c2c" d="M50 90h10.5v10.5h-10.5zM190 140h10.5v10.5h-10.5zM120 210h10.5v10.5h-10.5zM0 280h10.5v10.5h-10.5zM300 310h10.5v10.5h-10.5zM410 310h10.5v10.5h-10.5zM350 320h10.5v10.5h-10.5z"/>
<path fill="#2d2d2d" d="M270 40h10.5v10.5h-10.5zM100 90h20.5v10.5h-20.5zM160 100h10.5v10.5h-10.5zM190 160h10.5v10.5h-10.5zM290 180h10.5v10.5h-10.5zM10 280h10.5v10.5h-10.5zM360 320h10.5v10.5h-10.5z"/>
<path fill="#2e2e2e" d="M270 0h10.5v10.5h-10.5zM270 10h10.5v10.5h-10.5zM270 20h10.5v10.5h-10.5zM270 30h10.5v10.5h-10.5zM270 50h10.5v10.5h-10.5zM0 70h10.5v10.5h-10.5zM20 70h10.5v10.5h-10.5zM40 80h10.5v10.5h-10.5zM60 90h10.5v10.5h-10.5zM90 90h10.5v10.5h-10.5zM120 90h10.5v10.5h-10.5zM290 100h10.5v10.5h-10.5zM290 170h10.5v10.5h-10.5zM290 190h10.5v10.5h-10.5zM290 210h10.5v10.5h-10.5zM290 280h10.5v10.5h-10.5zM370 320h20.5v10.5h-20.5z"/>
<path fill="#2f2f2f" d="M10 70h10.5v10.5h-10.5zM30 70h10.5v10.5h-10.5zM280 80h10.5v10.5h-10.5zM80 90h10.5v10.5h-10.5zM130 90h10.5v10.5h-10.5zM180 110h10.5v10.5h-10.5zM190 130h10.5v10.5h-10.5zM290 160h10.5v10.5h-10.5zM420 310h10.5v10.5h-10.5z"/>
<path fill="#303030" d="M270 60h10.5v10.5h-10.5zM70 90h10.5v10.5h-10.5zM140 200h10.5v10.5h-10.5zM290 200h10.5v10.5h-10.5zM100 220h10.5v10.5h-10.5zM70 240h10.5v10.5h-10.5zM30 280h10.5v10.5h-10.5zM390 320h10.5v10.5h-10.5z"/>
<path fill="#313131" d="M50 80h10.5v10.5h-10.5zM170 100h10.5v10.5h-10.5zM290 150h10.5v10.5h-10.5zM160 190h10.5v10.5h-10.5zM290 290h10.5v10.5h-10.5z"/>
<path fill="#323232" d="M20 60h10.5v10.5h-10.5zM140 90h10.5v10.5h-10.5zM290 110h10.5v10.5h-10.5zM290 140h10.5v10.5h-10.5zM180 180h10.5v10.5h-10.5zM280 230h10.5v10.5h-10.5zM280 240h10.5v10.5h-10.5zM430 310h50.5v10.5h-50.5zM320 330h20.5v10.5h-20.5z"/>
<path fill="#333333" d="M0 60h20.5v10.5h-20.5zM30 60h10.5v10.5h-10.5zM40 70h10.5v10.5h-10.5zM280 90h10.5v10.5h-10.5zM190 120h10.5v10.5h-10.5zM290 130h10.5v10.5h-10.5zM280 250h10.5v10.5h-10.5zM300 320h10.5v10.5h-10.5zM400 320h10.5v10.5h-10.5z"/>
<path fill="#343434" d="M270 70h10.5v10.5h-10.5zM60 80h10.5v10.5h-10.5zM100 80h20.5v10.5h-20.5zM290 120h10.5v10.5h-10.5zM190 170h10.5v10.5h-10.5zM280 220h10.5v10.5h-10.5zM310 330h10.5v10.5h-10.5zM340 330h10.5v10.5h-10.5z"/>
<path fill="#353535" d="M50 70h10.5v10.5h-10.5zM80 80h20.5v10.5h-20.5zM120 80h10.5v10.5h-10.5zM150 90h10.5v10.5h-10.5zM290 300h10.5v10.5h-10.5z"/>
<path fill="#363636" d="M70 80h10.5v10.5h-10.5zM280 260h10.5v10.5h-10.5zM410 320h10.5v10.5h-10.5zM350 330h10.5v10.5h-10.5z"/>
<path fill="#373737" d="M260 0h10.5v10.5h-10.5zM260 10h10.5v10.5h-10.5zM260 20h10.5v10.5h-10.5zM260 30h10.5v10.5h-10.5zM260 40h10.5v10.5h-10.5zM0 50h30.5v10.5h-30.5zM40 60h10.5v10.5h-10.5zM280 100h10.5v10.5h-10.5zM200 150h10.5v10.5h-10.5zM360 330h20.5v10.5h-20.5z"/>
<path fill="#383838" d="M30 50h10.5v10.5h-10.5zM260 50h10.5v10.5h-10.5zM60 70h10.5v10.5h-10.5zM130 80h10.5v10.5h-10.5zM270 80h10.5v10.5h-10.5zM160 90h10.5v10.5h-10.5zM180 100h10.5v10.5h-10.5zM200 140h10.5v10.5h-10.5zM280 160h10.5v10.5h-10.5zM280 170h10.5v10.5h-10.5zM280 180h10.5v10.5h-10.5zM280 210h10.5v10.5h-10.5zM60 250h10.5v10.5h-10.5zM380 330h10.5v10.5h-10.5z"/>
<path fill="#393939" d="M50 60h10.5v10.5h-10.5zM70 70h10.5v10.5h-10.5zM190 110h10.5v10.5h-10.5zM280 150h10.5v10.5h-10.5zM280 190h10.5v10.5h-10.5zM420 320h10.5v10.5h-10.5zM390 330h10.5v10.5h-10.5z"/>
<path fill="#3a3a3a" d="M0 40h10.5v10.5h-10.5zM20 40h10.5v10.5h-10.5zM40 50h10.5v10.5h-10.5zM260 60h10.5v10.5h-10.5zM80 70h30.5v10.5h-30.5zM280 110h10.5v10.5h-10.5zM200 160h10.5v10.5h-10.5zM170 190h10.5v10.5h-10.5zM280 200h10.5v10.5h-10.5zM130 210h10.5v10.5h-10.5zM90 230h10.5v10.5h-10.5zM280 270h10.5v10.5h-10.5zM290 310h10.5v10.5h-10.5z"/>
<path fill="#3b3b3b" d="M10 40h10.5v10.5h-10.5zM30 40h10.5v10.5h-10.5zM60 60h10.5v10.5h-10.5zM110 70h10.5v10.5h-10.5zM280 120h10.5v10.5h-10.5zM200 130h10.5v10.5h-10.5zM280 130h10.5v10.5h-10.5zM280 140h10.5v10.5h-10.5zM40 270h10.5v10.5h-10.5zM300 330h10.5v10.5h-10.5zM400 330h10.5v10.5h-10.5z"/>
<path fill="#3c3c3c" d="M50 50h10.5v10.5h-10.5zM140 80h10.5v10.5h-10.5zM170 90h10.5v10.5h-10.5zM270 90h10.5v10.5h-10.5zM50 260h10.5v10.5h-10.5zM320 340h20.5v10.5h-20.5z"/>
<path fill="#3d3d3d" d="M40 40h10.5v10.5h-10.5zM70 60h10.5v10.5h-10.5zM120 70h10.5v10.5h-10.5zM270 230h10.5v10.5h-10.5zM270 240h10.5v10.5h-10.5zM430 320h50.5v10.5h-50.5zM340 340h10.5v10.5h-10.5z"/>
<path fill="#3e3e3e" d="M20 30h10.5v10.5h-10.5zM60 50h10.5v10.5h-10.5zM80 60h20.5v10.5h-20.5zM260 70h10.5v10.5h-10.5zM190 180h10.5v10.5h-10.5zM150 200h10.5v10.5h-10.5zM270 220h10.5v10.5h-10.5zM20 290h10.5v10.5h-10.5zM410 330h10.5v10.5h-10.5zM310 340h10.5v10.5h-10.5z"/>
<path fill="#3f3f3f" d="M20 0h10.5v10.5h-10.5zM250 0h10.5v10.5h-10.5zM0 10h30.5v10.5h-30.5zM250 10h10.5v10.5h-10.5zM250 20h10.5v10.5h-10.5zM0 30h20.5v10.5h-20.5zM30 30h10.5v10.5h-10.5zM250 30h10.5v10.5h-10.5zM50 40h10.5v10.5h-10.5zM70 50h10.5v10.5h-10.5zM100 60h10.5v10.5h-10.5zM150 80h10.5v10.5h-10.5zM270 100h10.5v10.5h-10.5zM200 120h10.5v10.5h-10.5zM280 280h10.5v10.5h-10.5z"/>
<path fill="#404040" d="M0 0h20.5v10.5h-20.5zM30 0h10.5v10.5h-10.5zM30 10h10.5v10.5h-10.5zM0 20h30.5v10.5h-30.5zM60 40h10.5v10.5h-10.5zM250 40h10.5v10.5h-10.5zM190 100h10.5v10.5h-10.5zM270 160h10.5v10.5h-10.5zM270 170h10.5v10.5h-10.5zM110 220h10.5v10.5h-10.5zM270 250h10.5v10.5h-10.5zM290 320h10.5v10.5h-10.5zM350 340h10.5v10.5h-10.5zM370 340h10.5v10.5h-10.5z"/>
<path fill="#414141" d="M30 20h10.5v10.5h-10.5zM40 30h10.5v10.5h-10.5zM80 50h10.5v10.5h-10.5zM250 50h10.5v10.5h-10.5zM110 60h10.5v10.5h-10.5zM130 70h10.5v10.5h-10.5zM260 80h10.5v10.5h-10.5zM180 90h10.5v10.5h-10.5zM270 110h10.5v10.5h-10.5zM270 150h10.5v10.5h-10.5zM200 170h10.5v10.5h-10.5zM270 180h10.5v10.5h-10.5zM270 210h10.5v10.5h-10.5zM0 290h10.5v10.5h-10.5zM420 330h10.5v10.5h-10.5zM360 340h10.5v10.5h-10.5zM380 340h20.5v10.5h-20.5z"/>
<path fill="#424242" d="M40 0h10.5v10.5h-10.5zM40 10h10.5v10.5h-10.5zM40 20h10.5v10.5h-10.5zM50 30h10.5v10.5h-10.5zM70 40h10.5v10.5h-10.5zM90 50h10.5v10.5h-10.5zM160 80h10.5v10.5h-10.5zM270 120h10.5v10.5h-10.5zM270 130h10.5v10.5h-10.5zM270 140h10.5v10.5h-10.5zM210 150h10.5v10.5h-10.5zM180 190h10.5v10.5h-10.5zM270 190h10.5v10.5h-10.5zM270 200h10.5v10.5h-10.5zM10 290h10.5v10.5h-10.5z"/>
<path fill="#434343" d="M50 0h10.5v10.5h-10.5zM50 10h10.5v10.5h-10.5zM50 20h10.5v10.5h-10.5zM60 30h10.5v10.5h-10.5zM80 40h10.5v10.5h-10.5zM250 60h10.5v10.5h-10.5zM200 110h10.5v10.5h-10.5zM210 140h10.5v10.5h-10.5zM280 290h10.5v10.5h-10.5zM400 340h10.5v10.5h-10.5z"/>
<path fill="#444444" d="M60 0h10.5v10.5h-10.5zM60 10h10.5v10.5h-10.5zM60 20h10.5v10.5h-10.5zM70 30h10.5v10.5h-10.5zM100 50h10.5v10.5h-10.5zM120 60h10.5v10.5h-10.5zM260 90h10.5v10.5h-10.5zM210 160h10.5v10.5h-10.5zM450 330h10.5v10.5h-10.5zM300 340h10.5v10.5h-10.5zM320 350h20.5v10.5h-20.5z"/>
<path fill="#454545" d="M70 0h10.5v10.5h-10.5zM70 10h10.5v10.5h-10.5zM90 40h10.5v10.5h-10.5zM140 70h10.5v10.5h-10.5zM170 80h10.5v10.5h-10.5zM80 240h10.5v10.5h-10.5zM430 330h20.5v10.5h-20.5zM460 330h20.5v10.5h-20.5z"/>
<path fill="#464646" d="M240 0h10.5v10.5h-10.5zM240 10h10.5v10.5h-10.5zM70 20h10.5v10.5h-10.5zM240 20h10.5v10.5h-10.5zM80 30h10.5v10.5h-10.5zM240 30h10.5v10.5h-10.5zM110 50h10.5v10.5h-10.5zM250 70h10.5v10.5h-10.5zM190 90h10.5v10.5h-10.5zM260 100h10.5v10.5h-10.5zM210 130h10.5v10.5h-10.5zM260 160h10.5v10.5h-10.5zM270 260h10.5v10.5h-10.5zM30 290h10.5v10.5h-10.5zM290 330h10.5v10.5h-10.5zM410 340h10.5v10.5h-10.5zM340 350h10.5v10.5h-10.5zM430 440h50.5v10.5h-50.5zM440 460h10.5v10.5h-10.5zM460 460h10.5v10.5h-10.5zM440 470h10.5v10.5h-10.5z"/>
<path fill="#474747" d="M80 0h10.5v10.5h-10.5zM80 10h10.5v10.5h-10.5zM80 20h10.5v10.5h-10.5zM100 40h10.5v10.5h-10.5zM240 40h10.5v10.5h-10.5zM130 60h10.5v10.5h-10.5zM260 110h10.5v10.5h-10.5zM260 150h10.5v10.5h-10.5zM260 170h10.5v10.5h-10.5zM160 200h10.5v10.5h-10.5zM310 350h10.5v10.5h-10.5zM350 350h10.5v10.5h-10.5zM440 430h10.5v10.5h-10.5zM460 430h20.5v10.5h-20.5zM430 450h50.5v10.5h-50.5zM430 460h10.5v10.5h-10.5zM450 460h10.5v10.5h-10.5zM470 460h10.5v10.5h-10.5zM430 470h10.5v10.5h-10.5zM450 470h30.5v10.5h-30.5z"/>
<path fill="#484848" d="M90 30h10.5v10.5h-10.5zM200 100h10.5v10.5h-10.5zM260 120h10.5v10.5h-10.5zM260 130h10.5v10.5h-10.5zM260 140h10.5v10.5h-10.5zM260 180h10.5v10.5h-10.5zM280 300h10.5v10.5h-10.5zM420 340h10.5v10.5h-10.5zM360 350h40.5v10.5h-40.5zM430 430h10.5v10.5h-10.5zM450 430h10.5v10.5h-10.5z"/>
<path fill="#494949" d="M90 0h10.5v10.5h-10.5zM90 10h10.5v10.5h-10.5zM90 20h10.5v10.5h-10.5zM110 40h10.5v10.5h-10.5zM120 50h10.5v10.5h-10.5zM240 50h10.5v10.5h-10.5zM150 70h10.5v10.5h-10.5zM180 80h10.5v10.5h-10.5zM250 80h10.5v10.5h-10.5zM210 120h10.5v10.5h-10.5zM220 150h10.5v10.5h-10.5zM260 190h10.5v10.5h-10.5zM140 210h10.5v10.5h-10.5zM260 230h10.5v10.5h-10.5zM420 440h10.5v10.5h-10.5zM420 450h10.5v10.5h-10.5zM420 460h10.5v10.5h-10.5zM420 470h10.5v10.5h-10.5z"/>
<path fill="#4a4a4a" d="M100 10h10.5v10.5h-10.5zM100 30h10.5v10.5h-10.5zM220 140h10.5v10.5h-10.5zM220 160h10.5v10.5h-10.5zM250 160h10.5v10.5h-10.5zM210 170h10.5v10.5h-10.5zM200 180h10.5v10.5h-10.5zM260 220h10.5v10.5h-10.5zM100 230h10.5v10.5h-10.5zM260 240h10.5v10.5h-10.5zM70 250h10.5v10.5h-10.5zM430 340h50.5v10.5h-50.5zM400 350h10.5v10.5h-10.5zM420 430h10.5v10.5h-10.5z"/>
<path fill="#4b4b4b" d="M100 0h10.5v10.5h-10.5zM100 20h10.5v10.5h-10.5zM140 60h10.5v10.5h-10.5zM240 60h10.5v10.5h-10.5zM250 90h10.5v10.5h-10.5zM230 160h10.5v10.5h-10.5zM250 170h10.5v10.5h-10.5zM190 190h10.5v10.5h-10.5zM260 200h10.5v10.5h-10.5zM260 210h10.5v10.5h-10.5zM300 350h10.5v10.5h-10.5zM410 350h10.5v10.5h-10.5zM330 360h10.5v10.5h-10.5zM430 420h50.5v10.5h-50.5zM410 440h10.5v10.5h-10.5zM410 450h10.5v10.5h-10.5zM410 460h10.5v10.5h-10.5zM410 470h10.5v10.5h-10.5z"/>
<path fill="#4c4c4c" d="M230 0h10.5v10.5h-10.5zM230 10h10.5v10.5h-10.5zM230 20h10.5v10.5h-10.5zM110 30h10.5v10.5h-10.5zM230 30h10.5v10.5h-10.5zM120 40h10.5v10.5h-10.5zM130 50h10.5v10.5h-10.5zM160 70h10.5v10.5h-10.5zM190 80h10.5v10.5h-10.5zM200 90h10.5v10.5h-10.5zM230 150h10.5v10.5h-10.5zM250 150h10.5v10.5h-10.5zM240 160h10.5v10.5h-10.5zM240 170h10.5v10.5h-10.5zM270 270h10.5v10.5h-10.5zM290 340h10.5v10.5h-10.5zM320 360h10.5v10.5h-10.5zM340 360h10.5v10.5h-10.5zM410 430h10.5v10.5h-10.5z"/>
<path fill="#4d4d4d" d="M110 0h10.5v10.5h-10.5zM110 10h10.5v10.5h-10.5zM110 20h10.5v10.5h-10.5zM240 70h10.5v10.5h-10.5zM250 100h10.5v10.5h-10.5zM210 110h10.5v10.5h-10.5zM250 110h10.5v10.5h-10.5zM250 120h10.5v10.5h-10.5zM220 130h10.5v10.5h-10.5zM250 130h10.5v10.5h-10.5zM250 140h10.5v10.5h-10.5zM230 170h10.5v10.5h-10.5zM250 180h10.5v10.5h-10.5zM40 280h10.5v10.5h-10.5zM280 310h10.5v10.5h-10.5zM420 350h10.5v10.5h-10.5zM440 350h10.5v10.5h-10.5zM310 360h10.5v10.5h-10.5zM350 360h20.5v10.5h-20.5zM440 410h40.5v10.5h-40.5zM420 420h10.5v10.5h-10.5zM400 440h10.5v10.5h-10.5zM400 450h10.5v10.5h-10.5zM400 460h10.5v10.5h-10.5zM400 470h10.5v10.5h-10.5z"/>
<path fill="#4e4e4e" d="M230 40h10.5v10.5h-10.5zM170 70h10.5v10.5h-10.5zM230 140h10.5v10.5h-10.5zM240 150h10.5v10.5h-10.5zM220 170h10.5v10.5h-10.5zM170 200h10.5v10.5h-10.5zM60 260h10.5v10.5h-10.5zM430 350h10.5v10.5h-10.5zM450 350h30.5v10.5h-30.5zM370 360h30.5v10.5h-30.5zM430 410h10.5v10.5h-10.5zM400 430h10.5v10.5h-10.5z"/>
<path fill="#4f4f4f" d="M120 0h10.5v10.5h-10.5zM120 10h10.5v10.5h-10.5zM120 30h10.5v10.5h-10.5zM130 40h10.5v10.5h-10.5zM230 50h10.5v10.5h-10.5zM210 100h10.5v10.5h-10.5zM240 140h10.5v10.5h-10.5zM400 360h20.5v10.5h-20.5zM440 400h10.5v10.5h-10.5zM410 420h10.5v10.5h-10.5zM390 440h10.5v10.5h-10.5zM390 450h10.5v10.5h-10.5zM390 460h10.5v10.5h-10.5zM390 470h10.5v10.5h-10.5z"/>
<path fill="#505050" d="M120 20h10.5v10.5h-10.5zM140 50h10.5v10.5h-10.5zM150 60h10.5v10.5h-10.5zM230 60h10.5v10.5h-10.5zM180 70h10.5v10.5h-10.5zM200 80h10.5v10.5h-10.5zM240 80h10.5v10.5h-10.5zM240 130h10.5v10.5h-10.5zM240 180h10.5v10.5h-10.5zM250 190h10.5v10.5h-10.5zM120 220h10.5v10.5h-10.5zM260 250h10.5v10.5h-10.5zM50 270h10.5v10.5h-10.5zM300 360h10.5v10.5h-10.5zM420 360h60.5v10.5h-60.5zM430 400h10.5v10.5h-10.5zM450 400h30.5v10.5h-30.5zM420 410h10.5v10.5h-10.5zM390 430h10.5v10.5h-10.5zM380 440h10.5v10.5h-10.5z"/>
<path fill="#515151" d="M220 0h10.5v10.5h-10.5zM220 10h10.5v10.5h-10.5zM220 20h10.5v10.5h-10.5zM210 90h10.5v10.5h-10.5zM240 90h10.5v10.5h-10.5zM230 130h10.5v10.5h-10.5zM280 320h10.5v10.5h-10.5zM290 350h10.5v10.5h-10.5zM320 370h30.5v10.5h-30.5zM440 370h10.5v10.5h-10.5zM460 370h10.5v10.5h-10.5zM440 390h40.5v10.5h-40.5zM410 410h10.5v10.5h-10.5zM400 420h10.5v10.5h-10.5zM380 450h10.5v10.5h-10.5zM380 460h10.5v10.5h-10.5zM380 470h10.5v10.5h-10.5z"/>
<path fill="#525252" d="M130 30h10.5v10.5h-10.5zM220 30h10.5v10.5h-10.5zM220 40h10.5v10.5h-10.5zM160 60h10.5v10.5h-10.5zM190 70h10.5v10.5h-10.5zM230 70h10.5v10.5h-10.5zM240 100h10.5v10.5h-10.5zM240 110h10.5v10.5h-10.5zM220 120h10.5v10.5h-10.5zM240 120h10.5v10.5h-10.5zM250 200h10.5v10.5h-10.5zM20 300h10.5v10.5h-10.5zM310 370h10.5v10.5h-10.5zM350 370h90.5v10.5h-90.5zM450 370h10.5v10.5h-10.5zM470 370h10.5v10.5h-10.5zM430 380h50.5v10.5h-50.5zM430 390h10.5v10.5h-10.5zM420 400h10.5v10.5h-10.5zM380 430h10.5v10.5h-10.5zM370 440h10.5v10.5h-10.5zM370 460h10.5v10.5h-10.5zM370 470h10.5v10.5h-10.5z"/>
<path fill="#535353" d="M130 0h10.5v10.5h-10.5zM130 10h10.5v10.5h-10.5zM130 20h10.5v10.5h-10.5zM140 40h10.5v10.5h-10.5zM220 50h10.5v10.5h-10.5zM220 60h10.5v10.5h-10.5zM200 70h10.5v10.5h-10.5zM210 80h10.5v10.5h-10.5zM230 80h10.5v10.5h-10.5zM220 100h10.5v10.5h-10.5zM220 110h10.5v10.5h-10.5zM210 180h10.5v10.5h-10.5zM230 180h10.5v10.5h-10.5zM200 190h10.5v10.5h-10.5zM180 200h10.5v10.5h-10.5zM270 280h10.5v10.5h-10.5zM410 380h20.5v10.5h-20.5zM420 390h10.5v10.5h-10.5zM410 400h10.5v10.5h-10.5zM400 410h10.5v10.5h-10.5zM390 420h10.5v10.5h-10.5zM370 430h10.5v10.5h-10.5zM360 440h10.5v10.5h-10.5zM370 450h10.5v10.5h-10.5z"/>
<path fill="#545454" d="M150 50h10.5v10.5h-10.5zM170 60h10.5v10.5h-10.5zM210 70h20.5v10.5h-20.5zM220 80h10.5v10.5h-10.5zM220 90h20.5v10.5h-20.5zM230 120h10.5v10.5h-10.5zM220 180h10.5v10.5h-10.5zM280 330h10.5v10.5h-10.5zM300 370h10.5v10.5h-10.5zM380 380h30.5v10.5h-30.5zM410 390h10.5v10.5h-10.5zM400 400h10.5v10.5h-10.5zM390 410h10.5v10.5h-10.5zM380 420h10.5v10.5h-10.5zM350 440h10.5v10.5h-10.5zM360 450h10.5v10.5h-10.5zM360 460h10.5v10.5h-10.5zM360 470h10.5v10.5h-10.5z"/>
<path fill="#555555" d="M210 0h10.5v10.5h-10.5zM210 20h10.5v10.5h-10.5zM140 30h10.5v10.5h-10.5zM180 60h20.5v10.5h-20.5zM210 60h10.5v10.5h-10.5zM230 100h10.5v10.5h-10.5zM230 110h10.5v10.5h-10.5zM240 190h10.5v10.5h-10.5zM250 210h10.5v10.5h-10.5zM0 300h10.5v10.5h-10.5zM290 360h10.5v10.5h-10.5zM320 380h60.5v10.5h-60.5zM390 390h20.5v10.5h-20.5zM390 400h10.5v10.5h-10.5zM380 410h10.5v10.5h-10.5zM360 430h10.5v10.5h-10.5zM340 440h10.5v10.5h-10.5zM350 450h10.5v10.5h-10.5zM340 460h20.5v10.5h-20.5zM340 470h20.5v10.5h-20.5z"/>
<path fill="#565656" d="M140 0h10.5v10.5h-10.5zM140 10h10.5v10.5h-10.5zM210 10h10.5v10.5h-10.5zM140 20h10.5v10.5h-10.5zM210 30h10.5v10.5h-10.5zM150 40h10.5v10.5h-10.5zM210 40h10.5v10.5h-10.5zM160 50h10.5v10.5h-10.5zM210 50h10.5v10.5h-10.5zM200 60h10.5v10.5h-10.5zM250 220h10.5v10.5h-10.5zM90 240h10.5v10.5h-10.5zM10 300h10.5v10.5h-10.5zM310 380h10.5v10.5h-10.5zM370 390h20.5v10.5h-20.5zM380 400h10.5v10.5h-10.5zM370 420h10.5v10.5h-10.5zM340 430h20.5v10.5h-20.5zM240 440h10.5v10.5h-10.5zM270 440h20.5v10.5h-20.5zM310 440h30.5v10.5h-30.5zM330 450h20.5v10.5h-20.5zM330 460h10.5v10.5h-10.5zM330 470h10.5v10.5h-10.5z"/>
<path fill="#575757" d="M200 50h10.5v10.5h-10.5zM250 240h10.5v10.5h-10.5zM350 390h20.5v10.5h-20.5zM370 400h10.5v10.5h-10.5zM370 410h10.5v10.5h-10.5zM360 420h10.5v10.5h-10.5zM330 430h10.5v10.5h-10.5zM230 440h10.5v10.5h-10.5zM250 440h20.5v10.5h-20.5zM290 440h20.5v10.5h-20.5zM270 450h20.5v10.5h-20.5zM310 450h20.5v10.5h-20.5zM240 460h90.5v10.5h-90.5zM260 470h70.5v10.5h-70.5z"/>
<path fill="#585858" d="M150 30h10.5v10.5h-10.5zM170 50h30.5v10.5h-30.5zM190 200h10.5v10.5h-10.5zM130 220h10.5v10.5h-10.5zM250 230h10.5v10.5h-10.5zM260 260h10.5v10.5h-10.5zM270 290h10.5v10.5h-10.5zM280 340h10.5v10.5h-10.5zM290 370h10.5v10.5h-10.5zM300 380h10.5v10.5h-10.5zM320 390h30.5v10.5h-30.5zM350 400h20.5v10.5h-20.5zM350 410h20.5v10.5h-20.5zM350 420h10.5v10.5h-10.5zM270 430h10.5v10.5h-10.5zM310 430h20.5v10.5h-20.5zM240 450h30.5v10.5h-30.5zM290 450h20.5v10.5h-20.5zM240 470h20.5v10.5h-20.5z"/>
<path fill="#595959" d="M150 0h10.5v10.5h-10.5zM200 0h10.5v10.5h-10.5zM150 10h10.5v10.5h-10.5zM200 10h10.5v10.5h-10.5zM150 20h10.5v10.5h-10.5zM200 20h10.5v10.5h-10.5zM200 30h10.5v10.5h-10.5zM160 40h10.5v10.5h-10.5zM200 40h10.5v10.5h-10.5zM230 190h10.5v10.5h-10.5zM240 200h10.5v10.5h-10.5zM150 210h10.5v10.5h-10.5zM310 390h10.5v10.5h-10.5zM330 400h20.5v10.5h-20.5zM340 410h10.5v10.5h-10.5zM330 420h20.5v10.5h-20.5zM250 430h20.5v10.5h-20.5zM280 430h30.5v10.5h-30.5zM220 440h10.5v10.5h-10.5zM230 450h10.5v10.5h-10.5zM230 460h10.5v10.5h-10.5zM230 470h10.5v10.5h-10.5z"/>
<path fill="#5a5a5a" d="M170 40h10.5v10.5h-10.5zM190 40h10.5v10.5h-10.5zM210 190h10.5v10.5h-10.5zM210 210h10.5v10.5h-10.5zM30 300h10.5v10.5h-10.5zM290 380h10.5v10.5h-10.5zM320 400h10.5v10.5h-10.5zM330 410h10.5v10.5h-10.5zM320 420h10.5v10.5h-10.5zM240 430h10.5v10.5h-10.5z"/>
<path fill="#5b5b5b" d="M160 0h10.5v10.5h-10.5zM190 0h10.5v10.5h-10.5zM160 10h10.5v10.5h-10.5zM190 10h10.5v10.5h-10.5zM160 20h10.5v10.5h-10.5zM190 20h10.5v10.5h-10.5zM160 30h10.5v10.5h-10.5zM190 30h10.5v10.5h-10.5zM180 40h10.5v10.5h-10.5zM200 200h10.5v10.5h-10.5zM110 230h10.5v10.5h-10.5zM280 350h10.5v10.5h-10.5zM300 390h10.5v10.5h-10.5zM310 400h10.5v10.5h-10.5zM320 410h10.5v10.5h-10.5zM270 420h10.5v10.5h-10.5zM310 420h10.5v10.5h-10.5zM220 460h10.5v10.5h-10.5zM220 470h10.5v10.5h-10.5z"/>
<path fill="#5c5c5c" d="M170 0h20.5v10.5h-20.5zM170 10h20.5v10.5h-20.5zM170 20h20.5v10.5h-20.5zM170 30h20.5v10.5h-20.5zM220 190h10.5v10.5h-10.5zM270 300h10.5v10.5h-10.5zM280 360h10.5v10.5h-10.5zM290 390h10.5v10.5h-10.5zM310 410h10.5v10.5h-10.5zM260 420h10.5v10.5h-10.5zM280 420h30.5v10.5h-30.5zM230 430h10.5v10.5h-10.5zM210 440h10.5v10.5h-10.5zM220 450h10.5v10.5h-10.5z"/>
<path fill="#5d5d5d" d="M230 200h10.5v10.5h-10.5zM220 210h10.5v10.5h-10.5zM280 370h10.5v10.5h-10.5zM280 380h10.5v10.5h-10.5zM280 390h10.5v10.5h-10.5zM300 400h10.5v10.5h-10.5zM270 410h10.5v10.5h-10.5zM300 410h10.5v10.5h-10.5z"/>
<path fill="#5e5e5e" d="M240 210h10.5v10.5h-10.5zM280 400h10.5v10.5h-10.5zM260 410h10.5v10.5h-10.5zM280 410h10.5v10.5h-10.5zM250 420h10.5v10.5h-10.5zM220 430h10.5v10.5h-10.5zM210 460h10.5v10.5h-10.5zM210 470h10.5v10.5h-10.5z"/>
<path fill="#5f5f5f" d="M160 210h10.5v10.5h-10.5zM250 250h10.5v10.5h-10.5zM70 260h10.5v10.5h-10.5zM40 290h10.5v10.5h-10.5zM270 400h10.5v10.5h-10.5zM290 400h10.5v10.5h-10.5zM290 410h10.5v10.5h-10.5zM210 450h10.5v10.5h-10.5z"/>
<path fill="#606060" d="M260 270h10.5v10.5h-10.5zM270 390h10.5v10.5h-10.5z"/>
<path fill="#616161" d="M170 210h10.5v10.5h-10.5zM140 220h10.5v10.5h-10.5zM100 240h10.5v10.5h-10.5zM80 250h10.5v10.5h-10.5zM60 270h10.5v10.5h-10.5zM270 310h10.5v10.5h-10.5zM240 420h10.5v10.5h-10.5z"/>
<path fill="#626262" d="M210 200h20.5v10.5h-20.5zM230 210h10.5v10.5h-10.5zM240 220h10.5v10.5h-10.5zM20 310h10.5v10.5h-10.5zM270 380h10.5v10.5h-10.5zM260 400h10.5v10.5h-10.5zM250 410h10.5v10.5h-10.5zM210 430h10.5v10.5h-10.5z"/>
<path fill="#646464" d="M180 210h10.5v10.5h-10.5zM200 210h10.5v10.5h-10.5zM0 310h10.5v10.5h-10.5zM270 320h10.5v10.5h-10.5z"/>
<path fill="#656565" d="M190 210h10.5v10.5h-10.5zM270 330h10.5v10.5h-10.5zM270 370h10.5v10.5h-10.5zM230 420h10.5v10.5h-10.5zM200 440h10.5v10.5h-10.5z"/>
<path fill="#666666" d="M50 280h10.5v10.5h-10.5zM10 310h10.5v10.5h-10.5zM270 340h10.5v10.5h-10.5zM270 360h10.5v10.5h-10.5z"/>
<path fill="#676767" d="M270 350h10.5v10.5h-10.5zM260 390h10.5v10.5h-10.5zM200 460h10.5v10.5h-10.5zM200 470h10.5v10.5h-10.5z"/>
<path fill="#686868" d="M220 220h10.5v10.5h-10.5zM240 230h10.5v10.5h-10.5zM250 400h10.5v10.5h-10.5zM240 410h10.5v10.5h-10.5zM200 450h10.5v10.5h-10.5z"/>
<path fill="#696969" d="M210 220h10.5v10.5h-10.5zM230 220h10.5v10.5h-10.5z"/>
<path fill="#6a6a6a" d="M30 310h10.5v10.5h-10.5zM220 420h10.5v10.5h-10.5z"/>
<path fill="#6b6b6b" d="M150 220h10.5v10.5h-10.5zM260 280h10.5v10.5h-10.5zM260 380h10.5v10.5h-10.5zM200 430h10.5v10.5h-10.5z"/>
<path fill="#6c6c6c" d="M240 240h10.5v10.5h-10.5z"/>
<path fill="#6d6d6d" d="M120 230h10.5v10.5h-10.5zM110 240h10.5v10.5h-10.5zM20 320h10.5v10.5h-10.5zM230 410h10.5v10.5h-10.5z"/>
<path fill="#6e6e6e" d="M250 260h10.5v10.5h-10.5zM250 390h10.5v10.5h-10.5z"/>
<path fill="#6f6f6f" d="M90 250h10.5v10.5h-10.5zM260 290h10.5v10.5h-10.5zM40 300h10.5v10.5h-10.5zM0 320h10.5v10.5h-10.5zM260 370h10.5v10.5h-10.5zM240 400h10.5v10.5h-10.5zM190 440h10.5v10.5h-10.5z"/>
<path fill="#707070" d="M160 220h10.5v10.5h-10.5zM130 230h10.5v10.5h-10.5zM80 260h10.5v10.5h-10.5zM70 270h10.5v10.5h-10.5zM60 280h10.5v10.5h-10.5zM50 290h10.5v10.5h-10.5z"/>
<path fill="#717171" d="M200 220h10.5v10.5h-10.5zM10 320h10.5v10.5h-10.5zM210 420h10.5v10.5h-10.5zM190 460h10.5v10.5h-10.5zM190 470h10.5v10.5h-10.5z"/>
<path fill="#727272" d="M170 220h10.5v10.5h-10.5zM260 300h10.5v10.5h-10.5zM190 450h10.5v10.5h-10.5z"/>
<path fill="#737373" d="M260 360h10.5v10.5h-10.5z"/>
<path fill="#747474" d="M240 250h10.5v10.5h-10.5zM30 320h10.5v10.5h-10.5zM250 380h10.5v10.5h-10.5zM220 410h10.5v10.5h-10.5z"/>
<path fill="#757575" d="M180 220h20.5v10.5h-20.5zM140 230h10.5v10.5h-10.5zM100 250h10.5v10.5h-10.5zM190 430h10.5v10.5h-10.5z"/>
<path fill="#767676" d="M150 230h10.5v10.5h-10.5zM260 340h10.5v10.5h-10.5zM260 350h10.5v10.5h-10.5zM230 400h10.5v10.5h-10.5z"/>
<path fill="#777777" d="M230 230h10.5v10.5h-10.5zM20 330h10.5v10.5h-10.5zM260 330h10.5v10.5h-10.5z"/>
<path fill="#787878" d="M240 390h10.5v10.5h-10.5z"/>
<path fill="#797979" d="M120 240h10.5v10.5h-10.5zM110 250h10.5v10.5h-10.5zM260 310h10.5v10.5h-10.5zM260 320h10.5v10.5h-10.5zM0 330h10.5v10.5h-10.5zM250 370h10.5v10.5h-10.5z"/>
<path fill="#7a7a7a" d="M200 420h10.5v10.5h-10.5zM180 440h10.5v10.5h-10.5z"/>
<path fill="#7b7b7b" d="M220 230h10.5v10.5h-10.5zM70 280h10.5v10.5h-10.5zM10 330h10.5v10.5h-10.5z"/>
<path fill="#7c7c7c" d="M160 230h10.5v10.5h-10.5zM180 460h10.5v10.5h-10.5zM180 470h10.5v10.5h-10.5z"/>
<path fill="#7d7d7d" d="M210 230h10.5v10.5h-10.5zM60 290h10.5v10.5h-10.5zM50 300h10.5v10.5h-10.5zM40 310h10.5v10.5h-10.5zM210 410h10.5v10.5h-10.5zM180 450h10.5v10.5h-10.5z"/>
<path fill="#7e7e7e" d="M90 260h10.5v10.5h-10.5zM30 330h10.5v10.5h-10.5zM250 360h10.5v10.5h-10.5zM220 400h10.5v10.5h-10.5z"/>
<path fill="#7f7f7f" d="M80 270h10.5v10.5h-10.5zM240 380h10.5v10.5h-10.5z"/>
<path fill="#808080" d="M240 260h10.5v10.5h-10.5zM230 390h10.5v10.5h-10.5zM180 430h10.5v10.5h-10.5z"/>
<path fill="#818181" d="M250 270h10.5v10.5h-10.5zM170 440h10.5v10.5h-10.5z"/>
<path fill="#828282" d="M170 230h10.5v10.5h-10.5zM130 240h10.5v10.5h-10.5zM190 420h10.5v10.5h-10.5z"/>
<path fill="#838383" d="M200 230h10.5v10.5h-10.5zM250 280h10.5v10.5h-10.5zM250 290h10.5v10.5h-10.5zM240 370h10.5v10.5h-10.5zM170 460h10.5v10.5h-10.5zM170 470h10.5v10.5h-10.5z"/>
<path fill="#848484" d="M230 240h10.5v10.5h-10.5zM20 340h10.5v10.5h-10.5zM250 340h10.5v10.5h-10.5zM250 350h10.5v10.5h-10.5zM170 450h10.5v10.5h-10.5z"/>
<path fill="#858585" d="M180 230h10.5v10.5h-10.5zM250 300h10.5v10.5h-10.5z"/>
<path fill="#868686" d="M190 230h10.5v10.5h-10.5zM250 330h10.5v10.5h-10.5zM200 410h10.5v10.5h-10.5zM160 440h10.5v10.5h-10.5z"/>
<path fill="#878787" d="M120 250h10.5v10.5h-10.5zM230 250h10.5v10.5h-10.5zM0 340h10.5v10.5h-10.5zM230 380h10.5v10.5h-10.5zM220 390h10.5v10.5h-10.5zM210 400h10.5v10.5h-10.5z"/>
<path fill="#888888" d="M140 240h10.5v10.5h-10.5zM100 260h10.5v10.5h-10.5zM10 340h10.5v10.5h-10.5zM240 360h10.5v10.5h-10.5zM170 430h10.5v10.5h-10.5zM160 460h10.5v10.5h-10.5z"/>
<path fill="#898989" d="M70 290h10.5v10.5h-10.5zM250 310h10.5v10.5h-10.5zM40 320h10.5v10.5h-10.5zM250 320h10.5v10.5h-10.5zM160 470h10.5v10.5h-10.5z"/>
<path fill="#8a8a8a" d="M150 240h10.5v10.5h-10.5zM220 240h10.5v10.5h-10.5zM160 450h10.5v10.5h-10.5z"/>
<path fill="#8b8b8b" d="M50 310h10.5v10.5h-10.5z"/>
<path fill="#8c8c8c" d="M30 340h10.5v10.5h-10.5zM240 350h10.5v10.5h-10.5zM190 410h10.5v10.5h-10.5zM180 420h10.5v10.5h-10.5z"/>
<path fill="#8d8d8d" d="M210 240h10.5v10.5h-10.5zM240 270h10.5v10.5h-10.5zM80 280h10.5v10.5h-10.5zM60 300h10.5v10.5h-10.5zM230 370h10.5v10.5h-10.5zM160 430h10.5v10.5h-10.5zM150 440h10.5v10.5h-10.5z"/>
<path fill="#8e8e8e" d="M160 240h10.5v10.5h-10.5zM90 270h10.5v10.5h-10.5zM220 380h10.5v10.5h-10.5z"/>
<path fill="#8f8f8f" d="M230 260h10.5v10.5h-10.5zM150 460h10.5v10.5h-10.5zM150 470h10.5v10.5h-10.5z"/>
<path fill="#909090" d="M110 260h10.5v10.5h-10.5zM240 340h10.5v10.5h-10.5zM150 450h10.5v10.5h-10.5z"/>
<path fill="#919191" d="M200 240h10.5v10.5h-10.5zM240 280h10.5v10.5h-10.5zM210 390h10.5v10.5h-10.5zM200 400h10.5v10.5h-10.5z"/>
<path fill="#929292" d="M220 250h10.5v10.5h-10.5z"/>
<path fill="#939393" d="M170 240h10.5v10.5h-10.5zM240 290h10.5v10.5h-10.5zM240 310h10.5v10.5h-10.5zM20 350h10.5v10.5h-10.5zM230 360h10.5v10.5h-10.5zM140 440h10.5v10.5h-10.5z"/>
<path fill="#949494" d="M130 250h10.5v10.5h-10.5zM240 300h10.5v10.5h-10.5zM40 330h10.5v10.5h-10.5zM240 330h10.5v10.5h-10.5zM150 430h10.5v10.5h-10.5z"/>
<path fill="#959595" d="M180 240h20.5v10.5h-20.5zM230 270h10.5v10.5h-10.5zM240 320h10.5v10.5h-10.5zM0 350h10.5v10.5h-10.5z"/>
<path fill="#969696" d="M170 420h10.5v10.5h-10.5zM140 460h10.5v10.5h-10.5zM140 470h10.5v10.5h-10.5z"/>
<path fill="#979797" d="M10 350h10.5v10.5h-10.5zM230 350h10.5v10.5h-10.5zM220 370h10.5v10.5h-10.5zM180 410h10.5v10.5h-10.5z"/>
<path fill="#989898" d="M210 250h10.5v10.5h-10.5zM50 320h10.5v10.5h-10.5zM140 450h10.5v10.5h-10.5z"/>
<path fill="#999999" d="M210 380h10.5v10.5h-10.5z"/>
<path fill="#9a9a9a" d="M220 260h10.5v10.5h-10.5zM100 270h10.5v10.5h-10.5zM230 280h10.5v10.5h-10.5zM190 400h10.5v10.5h-10.5zM130 440h10.5v10.5h-10.5z"/>
<path fill="#9b9b9b" d="M120 260h10.5v10.5h-10.5zM80 290h10.5v10.5h-10.5zM70 300h10.5v10.5h-10.5zM60 310h10.5v10.5h-10.5zM30 350h10.5v10.5h-10.5z"/>
<path fill="#9c9c9c" d="M140 250h10.5v10.5h-10.5zM230 340h10.5v10.5h-10.5zM140 430h10.5v10.5h-10.5z"/>
<path fill="#9d9d9d" d="M90 280h10.5v10.5h-10.5zM160 420h10.5v10.5h-10.5zM130 460h10.5v10.5h-10.5zM130 470h10.5v10.5h-10.5z"/>
<path fill="#9e9e9e" d="M200 390h10.5v10.5h-10.5zM130 450h10.5v10.5h-10.5z"/>
<path fill="#9f9f9f" d="M200 250h10.5v10.5h-10.5zM20 360h10.5v10.5h-10.5zM120 440h10.5v10.5h-10.5z"/>
<path fill="#a0a0a0" d="M40 340h10.5v10.5h-10.5z"/>
<path fill="#a1a1a1" d="M150 250h10.5v10.5h-10.5zM0 360h10.5v10.5h-10.5z"/>
<path fill="#a2a2a2" d="M230 290h10.5v10.5h-10.5zM10 360h10.5v10.5h-10.5zM220 360h10.5v10.5h-10.5zM120 460h10.5v10.5h-10.5z"/>
<path fill="#a3a3a3" d="M220 270h10.5v10.5h-10.5zM50 330h10.5v10.5h-10.5zM170 410h10.5v10.5h-10.5zM130 430h10.5v10.5h-10.5zM120 470h10.5v10.5h-10.5z"/>
<path fill="#a4a4a4" d="M210 260h10.5v10.5h-10.5zM230 310h10.5v10.5h-10.5zM110 440h10.5v10.5h-10.5zM120 450h10.5v10.5h-10.5z"/>
<path fill="#a5a5a5" d="M160 250h10.5v10.5h-10.5zM190 250h10.5v10.5h-10.5zM230 300h10.5v10.5h-10.5zM230 330h10.5v10.5h-10.5zM20 370h10.5v10.5h-10.5zM210 370h10.5v10.5h-10.5zM180 400h10.5v10.5h-10.5zM150 420h10.5v10.5h-10.5z"/>
<path fill="#a6a6a6" d="M110 270h10.5v10.5h-10.5zM30 360h10.5v10.5h-10.5z"/>
<path fill="#a7a7a7" d="M170 250h20.5v10.5h-20.5zM130 260h10.5v10.5h-10.5zM110 460h10.5v10.5h-10.5zM110 470h10.5v10.5h-10.5z"/>
<path fill="#a8a8a8" d="M60 320h10.5v10.5h-10.5zM230 320h10.5v10.5h-10.5zM0 370h10.5v10.5h-10.5zM110 450h10.5v10.5h-10.5z"/>
<path fill="#a9a9a9" d="M70 310h10.5v10.5h-10.5zM10 370h10.5v10.5h-10.5zM120 430h10.5v10.5h-10.5z"/>
<path fill="#aaaaaa" d="M80 300h10.5v10.5h-10.5z"/>
<path fill="#ababab" d="M100 280h10.5v10.5h-10.5zM220 280h10.5v10.5h-10.5zM90 290h10.5v10.5h-10.5zM20 380h10.5v10.5h-10.5zM100 440h10.5v10.5h-10.5z"/>
<path fill="#acacac" d="M220 350h10.5v10.5h-10.5zM200 380h10.5v10.5h-10.5z"/>
<path fill="#adadad" d="M40 350h10.5v10.5h-10.5zM30 370h10.5v10.5h-10.5zM0 380h10.5v10.5h-10.5zM20 390h10.5v10.5h-10.5zM190 390h10.5v10.5h-10.5zM110 430h10.5v10.5h-10.5z"/>
<path fill="#aeaeae" d="M10 380h10.5v10.5h-10.5zM160 410h10.5v10.5h-10.5zM100 460h10.5v10.5h-10.5zM100 470h10.5v10.5h-10.5z"/>
<path fill="#afafaf" d="M200 260h10.5v10.5h-10.5zM50 340h10.5v10.5h-10.5zM0 390h10.5v10.5h-10.5z"/>
<path fill="#b0b0b0" d="M120 270h10.5v10.5h-10.5zM140 420h10.5v10.5h-10.5zM90 440h10.5v10.5h-10.5zM100 450h10.5v10.5h-10.5z"/>
<path fill="#b1b1b1" d="M140 260h10.5v10.5h-10.5zM10 390h10.5v10.5h-10.5z"/>
<path fill="#b2b2b2" d="M30 380h10.5v10.5h-10.5z"/>
<path fill="#b3b3b3" d="M210 270h10.5v10.5h-10.5zM60 330h10.5v10.5h-10.5zM90 460h10.5v10.5h-10.5z"/>
<path fill="#b4b4b4" d="M30 390h10.5v10.5h-10.5zM20 400h10.5v10.5h-10.5zM100 430h10.5v10.5h-10.5zM90 470h10.5v10.5h-10.5z"/>
<path fill="#b5b5b5" d="M220 340h10.5v10.5h-10.5zM80 440h10.5v10.5h-10.5zM90 450h10.5v10.5h-10.5z"/>
<path fill="#b6b6b6" d="M220 290h10.5v10.5h-10.5zM70 320h10.5v10.5h-10.5zM210 360h10.5v10.5h-10.5zM0 400h10.5v10.5h-10.5zM170 400h10.5v10.5h-10.5z"/>
<path fill="#b7b7b7" d="M150 260h10.5v10.5h-10.5zM110 280h10.5v10.5h-10.5zM10 400h10.5v10.5h-10.5zM80 460h10.5v10.5h-10.5z"/>
<path fill="#b8b8b8" d="M190 260h10.5v10.5h-10.5zM80 310h10.5v10.5h-10.5zM40 360h10.5v10.5h-10.5zM130 420h10.5v10.5h-10.5zM80 470h10.5v10.5h-10.5z"/>
<path fill="#b9b9b9" d="M90 300h10.5v10.5h-10.5zM20 410h10.5v10.5h-10.5zM150 410h10.5v10.5h-10.5zM90 430h10.5v10.5h-10.5zM20 440h10.5v10.5h-10.5zM80 450h10.5v10.5h-10.5z"/>
<path fill="#bababa" d="M100 290h10.5v10.5h-10.5zM50 350h10.5v10.5h-10.5zM30 400h10.5v10.5h-10.5zM70 440h10.5v10.5h-10.5zM20 450h10.5v10.5h-10.5zM20 460h10.5v10.5h-10.5zM20 470h10.5v10.5h-10.5z"/>
<path fill="#bbbbbb" d="M160 260h10.5v10.5h-10.5zM130 270h10.5v10.5h-10.5zM200 370h10.5v10.5h-10.5zM0 410h10.5v10.5h-10.5zM20 430h10.5v10.5h-10.5zM0 440h20.5v10.5h-20.5zM60 440h10.5v10.5h-10.5zM0 460h10.5v10.5h-10.5zM0 470h10.5v10.5h-10.5z"/>
<path fill="#bcbcbc" d="M180 260h10.5v10.5h-10.5zM180 390h10.5v10.5h-10.5zM10 410h10.5v10.5h-10.5zM20 420h10.5v10.5h-10.5zM0 450h20.5v10.5h-20.5zM10 460h10.5v10.5h-10.5zM70 460h10.5v10.5h-10.5zM10 470h10.5v10.5h-10.5z"/>
<path fill="#bdbdbd" d="M170 260h10.5v10.5h-10.5zM220 330h10.5v10.5h-10.5zM0 420h10.5v10.5h-10.5zM0 430h10.5v10.5h-10.5zM80 430h10.5v10.5h-10.5zM30 440h10.5v10.5h-10.5zM60 460h10.5v10.5h-10.5zM70 470h10.5v10.5h-10.5z"/>
<path fill="#bebebe" d="M220 300h10.5v10.5h-10.5zM60 340h10.5v10.5h-10.5zM10 420h10.5v10.5h-10.5zM10 430h10.5v10.5h-10.5zM70 450h10.5v10.5h-10.5zM30 460h10.5v10.5h-10.5zM30 470h10.5v10.5h-10.5zM60 470h10.5v10.5h-10.5z"/>
<path fill="#bfbfbf" d="M30 410h10.5v10.5h-10.5zM120 420h10.5v10.5h-10.5zM30 450h10.5v10.5h-10.5zM60 450h10.5v10.5h-10.5z"/>
<path fill="#c0c0c0" d="M210 280h10.5v10.5h-10.5zM40 370h10.5v10.5h-10.5zM190 380h10.5v10.5h-10.5zM30 430h10.5v10.5h-10.5z"/>
<path fill="#c1c1c1" d="M200 270h10.5v10.5h-10.5zM220 320h10.5v10.5h-10.5zM70 330h10.5v10.5h-10.5zM30 420h10.5v10.5h-10.5zM70 430h10.5v10.5h-10.5z"/>
<path fill="#c2c2c2" d="M220 310h10.5v10.5h-10.5zM140 410h10.5v10.5h-10.5z"/>
<path fill="#c3c3c3" d="M120 280h10.5v10.5h-10.5zM160 400h10.5v10.5h-10.5zM60 430h10.5v10.5h-10.5z"/>
<path fill="#c4c4c4" d="M140 270h10.5v10.5h-10.5zM80 320h10.5v10.5h-10.5zM50 360h10.5v10.5h-10.5z"/>
<path fill="#c5c5c5" d="M210 350h10.5v10.5h-10.5zM110 420h10.5v10.5h-10.5zM40 440h10.5v10.5h-10.5z"/>
<path fill="#c6c6c6" d="M110 290h10.5v10.5h-10.5zM90 310h10.5v10.5h-10.5zM40 380h10.5v10.5h-10.5zM50 440h10.5v10.5h-10.5zM40 460h10.5v10.5h-10.5zM40 470h10.5v10.5h-10.5z"/>
<path fill="#c7c7c7" d="M100 300h10.5v10.5h-10.5zM40 450h10.5v10.5h-10.5zM50 460h10.5v10.5h-10.5z"/>
<path fill="#c8c8c8" d="M60 350h10.5v10.5h-10.5zM50 450h10.5v10.5h-10.5zM50 470h10.5v10.5h-10.5z"/>
<path fill="#c9c9c9" d="M40 430h10.5v10.5h-10.5z"/>
<path fill="#cacaca" d="M170 390h10.5v10.5h-10.5zM130 410h10.5v10.5h-10.5zM100 420h10.5v10.5h-10.5z"/>
<path fill="#cbcbcb" d="M150 270h10.5v10.5h-10.5zM190 270h10.5v10.5h-10.5zM70 340h10.5v10.5h-10.5zM200 360h10.5v10.5h-10.5zM40 390h10.5v10.5h-10.5zM50 430h10.5v10.5h-10.5z"/>
<path fill="#cccccc" d="M210 290h10.5v10.5h-10.5z"/>
<path fill="#cdcdcd" d="M130 280h10.5v10.5h-10.5zM50 370h10.5v10.5h-10.5zM150 400h10.5v10.5h-10.5zM40 420h10.5v10.5h-10.5z"/>
<path fill="#cecece" d="M80 330h10.5v10.5h-10.5zM40 400h10.5v10.5h-10.5zM40 410h10.5v10.5h-10.5zM90 420h10.5v10.5h-10.5z"/>
<path fill="#d0d0d0" d="M160 270h10.5v10.5h-10.5z"/>
<path fill="#d1d1d1" d="M180 270h10.5v10.5h-10.5zM90 320h10.5v10.5h-10.5zM60 360h10.5v10.5h-10.5zM190 370h10.5v10.5h-10.5zM180 380h10.5v10.5h-10.5zM50 420h10.5v10.5h-10.5zM80 420h10.5v10.5h-10.5z"/>
<path fill="#d2d2d2" d="M200 280h10.5v10.5h-10.5zM120 290h10.5v10.5h-10.5zM210 340h10.5v10.5h-10.5zM120 410h10.5v10.5h-10.5zM70 420h10.5v10.5h-10.5z"/>
<path fill="#d3d3d3" d="M170 270h10.5v10.5h-10.5zM110 300h10.5v10.5h-10.5zM100 310h10.5v10.5h-10.5zM60 420h10.5v10.5h-10.5z"/>
<path fill="#d4d4d4" d="M70 350h10.5v10.5h-10.5zM50 380h10.5v10.5h-10.5z"/>
<path fill="#d5d5d5" d="M140 280h10.5v10.5h-10.5zM140 400h10.5v10.5h-10.5z"/>
<path fill="#d6d6d6" d="M110 410h10.5v10.5h-10.5z"/>
<path fill="#d7d7d7" d="M210 300h10.5v10.5h-10.5zM210 330h10.5v10.5h-10.5zM80 340h10.5v10.5h-10.5zM160 390h10.5v10.5h-10.5zM50 410h10.5v10.5h-10.5z"/>
<path fill="#d9d9d9" d="M200 350h10.5v10.5h-10.5zM60 370h10.5v10.5h-10.5zM50 390h10.5v10.5h-10.5z"/>
<path fill="#dadada" d="M90 330h10.5v10.5h-10.5zM100 410h10.5v10.5h-10.5z"/>
<path fill="#dbdbdb" d="M210 320h10.5v10.5h-10.5zM60 410h10.5v10.5h-10.5z"/>
<path fill="#dcdcdc" d="M150 280h10.5v10.5h-10.5zM70 360h10.5v10.5h-10.5zM50 400h10.5v10.5h-10.5zM130 400h10.5v10.5h-10.5z"/>
<path fill="#dddddd" d="M130 290h10.5v10.5h-10.5zM120 300h10.5v10.5h-10.5zM110 310h10.5v10.5h-10.5zM100 320h10.5v10.5h-10.5zM190 360h10.5v10.5h-10.5zM70 410h10.5v10.5h-10.5z"/>
<path fill="#dedede" d="M190 280h10.5v10.5h-10.5zM80 350h10.5v10.5h-10.5zM170 380h10.5v10.5h-10.5z"/>
<path fill="#dfdfdf" d="M200 290h10.5v10.5h-10.5zM210 310h10.5v10.5h-10.5zM80 410h20.5v10.5h-20.5z"/>
<path fill="#e0e0e0" d="M90 340h10.5v10.5h-10.5zM60 380h10.5v10.5h-10.5zM150 390h10.5v10.5h-10.5z"/>
<path fill="#e1e1e1" d="M160 280h10.5v10.5h-10.5z"/>
<path fill="#e2e2e2" d="M180 280h10.5v10.5h-10.5zM70 370h10.5v10.5h-10.5z"/>
<path fill="#e3e3e3" d="M140 290h10.5v10.5h-10.5zM100 330h10.5v10.5h-10.5zM120 400h10.5v10.5h-10.5z"/>
<path fill="#e4e4e4" d="M170 280h10.5v10.5h-10.5zM80 360h10.5v10.5h-10.5zM60 390h10.5v10.5h-10.5zM140 390h10.5v10.5h-10.5zM60 400h10.5v10.5h-10.5z"/>
<path fill="#e5e5e5" d="M120 310h10.5v10.5h-10.5zM110 320h10.5v10.5h-10.5zM180 370h10.5v10.5h-10.5z"/>
<path fill="#e6e6e6" d="M130 300h10.5v10.5h-10.5zM90 350h10.5v10.5h-10.5zM70 400h10.5v10.5h-10.5zM110 400h10.5v10.5h-10.5z"/>
<path fill="#e7e7e7" d="M150 290h10.5v10.5h-10.5zM190 350h10.5v10.5h-10.5zM70 380h10.5v10.5h-10.5zM160 380h10.5v10.5h-10.5z"/>
<path fill="#e8e8e8" d="M200 300h10.5v10.5h-10.5zM100 340h10.5v10.5h-10.5zM200 340h10.5v10.5h-10.5zM100 400h10.5v10.5h-10.5z"/>
<path fill="#e9e9e9" d="M80 370h10.5v10.5h-10.5zM70 390h10.5v10.5h-10.5zM130 390h10.5v10.5h-10.5zM80 400h20.5v10.5h-20.5z"/>
<path fill="#eaeaea" d="M190 290h10.5v10.5h-10.5zM120 320h10.5v10.5h-10.5zM110 330h10.5v10.5h-10.5zM200 330h10.5v10.5h-10.5zM90 360h10.5v10.5h-10.5z"/>
<path fill="#ebebeb" d="M160 290h10.5v10.5h-10.5zM140 300h10.5v10.5h-10.5zM130 310h10.5v10.5h-10.5zM180 360h10.5v10.5h-10.5z"/>
<path fill="#ececec" d="M200 320h10.5v10.5h-10.5zM100 350h10.5v10.5h-10.5zM170 370h10.5v10.5h-10.5zM120 390h10.5v10.5h-10.5z"/>
<path fill="#ededed" d="M170 290h20.5v10.5h-20.5zM200 310h10.5v10.5h-10.5zM110 340h10.5v10.5h-10.5zM80 380h10.5v10.5h-10.5zM150 380h10.5v10.5h-10.5zM80 390h10.5v10.5h-10.5z"/>
<path fill="#eeeeee" d="M150 300h10.5v10.5h-10.5zM120 330h10.5v10.5h-10.5zM190 340h10.5v10.5h-10.5zM90 370h10.5v10.5h-10.5zM90 390h10.5v10.5h-10.5zM110 390h10.5v10.5h-10.5z"/>
<path fill="#efefef" d="M180 350h10.5v10.5h-10.5zM100 360h10.5v10.5h-10.5zM140 380h10.5v10.5h-10.5zM100 390h10.5v10.5h-10.5z"/>
<path fill="#f0f0f0" d="M190 300h10.5v10.5h-10.5zM140 310h10.5v10.5h-10.5zM130 320h10.5v10.5h-10.5zM110 350h10.5v10.5h-10.5zM90 380h10.5v10.5h-10.5z"/>
<path fill="#f1f1f1" d="M160 300h10.5v10.5h-10.5zM190 310h10.5v10.5h-10.5zM190 320h10.5v10.5h-10.5zM130 330h10.5v10.5h-10.5zM120 340h10.5v10.5h-10.5zM180 340h10.5v10.5h-10.5zM110 360h10.5v10.5h-10.5zM100 370h10.5v10.5h-10.5zM100 380h10.5v10.5h-10.5zM130 380h10.5v10.5h-10.5z"/>
<path fill="#f2f2f2" d="M170 300h20.5v10.5h-20.5zM150 310h10.5v10.5h-10.5zM190 330h10.5v10.5h-10.5zM110 370h10.5v10.5h-10.5zM160 370h10.5v10.5h-10.5zM110 380h10.5v10.5h-10.5z"/>
<path fill="#f3f3f3" d="M120 350h10.5v10.5h-10.5zM120 370h10.5v10.5h-10.5zM120 380h10.5v10.5h-10.5z"/>
<path fill="#f4f4f4" d="M160 310h10.5v10.5h-10.5zM180 310h10.5v10.5h-10.5zM120 360h10.5v10.5h-10.5zM170 360h10.5v10.5h-10.5z"/>
<path fill="#f5f5f5" d="M170 310h10.5v10.5h-10.5zM140 320h10.5v10.5h-10.5zM180 320h10.5v10.5h-10.5zM130 340h10.5v10.5h-10.5zM130 370h30.5v10.5h-30.5z"/>
<path fill="#f6f6f6" d="M180 330h10.5v10.5h-10.5zM170 350h10.5v10.5h-10.5z"/>
<path fill="#f7f7f7" d="M130 350h10.5v10.5h-10.5zM130 360h10.5v10.5h-10.5z"/>
<path fill="#f8f8f8" d="M150 320h10.5v10.5h-10.5zM170 320h10.5v10.5h-10.5zM170 340h10.5v10.5h-10.5z"/>
<path fill="#f9f9f9" d="M160 320h10.5v10.5h-10.5zM140 330h10.5v10.5h-10.5zM160 360h10.5v10.5h-10.5z"/>
<path fill="#fafafa" d="M170 330h10.5v10.5h-10.5zM140 360h10.5v10.5h-10.5z"/>
<path fill="#fbfbfb" d="M150 360h10.5v10.5h-10.5z"/>
<path fill="#fcfcfc" d="M140 340h10.5v10.5h-10.5zM140 350h10.5v10.5h-10.5z"/>
<path fill="#fdfdfd" d="M160 350h10.5v10.5h-10.5z"/>
<path fill="#fefefe" d="M160 330h10.5v10.5h-10.5z"/>
<path fill="#ffffff" d="M150 330h10.5v10.5h-10.5zM150 340h20.5v10.5h-20.5zM150 350h10.5v10.5h-10.5z"/>
</g></g>
<path d="M834.50 733.82V1143.50H1244.28" fill="none" stroke="#262626" stroke-width="1.3" stroke-opacity="0.5"/>
<path d="M834.60 1143.50v10.6M834.60 733.82v-10.6M834.60 1143.50h-10.6M1244.28 1143.50h10.6M914.93 1143.50v10.6M914.93 733.82v-10.6M834.60 1063.17h-10.6M1244.28 1063.17h10.6M995.26 1143.50v10.6M995.26 733.82v-10.6M834.60 982.84h-10.6M1244.28 982.84h10.6M1075.59 1143.50v10.6M1075.59 733.82v-10.6M834.60 902.51h-10.6M1244.28 902.51h10.6M1155.92 1143.50v10.6M1155.92 733.82v-10.6M834.60 822.18h-10.6M1244.28 822.18h10.6M1236.25 1143.50v10.6M1236.25 733.82v-10.6M834.60 741.85h-10.6M1244.28 741.85h10.6" stroke="#262626" stroke-width="1.7" fill="none"/>
<text class="tk" x="834.60" y="1197.70" text-anchor="middle">0</text>
<text class="tk" x="812.20" y="1156.10" text-anchor="end">0</text>
<text class="tk" x="914.93" y="1197.70" text-anchor="middle">0.1</text>
<text class="tk" x="812.20" y="1075.77" text-anchor="end">0.1</text>
<text class="tk" x="995.26" y="1197.70" text-anchor="middle">0.2</text>
<text class="tk" x="812.20" y="995.44" text-anchor="end">0.2</text>
<text class="tk" x="1075.59" y="1197.70" text-anchor="middle">0.3</text>
<text class="tk" x="812.20" y="915.11" text-anchor="end">0.3</text>
<text class="tk" x="1155.92" y="1197.70" text-anchor="middle">0.4</text>
<text class="tk" x="812.20" y="834.78" text-anchor="end">0.4</text>
<text class="tk" x="1236.25" y="1197.70" text-anchor="middle">0.5</text>
<text class="tk" x="812.20" y="754.45" text-anchor="end">0.5</text>
<text class="lb" x="1039.44" y="1243.50" text-anchor="middle">X (m)</text>
<text class="lb" transform="translate(752.20 938.66) rotate(-90)" text-anchor="middle">Y (m)</text>
<text class="tt" transform="translate(1040.04 716.62) scale(.978 1)" text-anchor="middle"><tspan font-style="italic">N</tspan> = 9, Arr04, Loc. 3.2, F</text>
<text class="pl" x="762.20" y="725.42" text-anchor="end">(e)</text>
<rect x="1277.75" y="734.97" width="38.9" height="406.50" fill="url(#jg)" stroke="#1a1a1a" stroke-width="1.2"/>
<text class="cb" x="1328.95" y="1132.61">0.2</text>
<text class="cb" x="1328.95" y="1036.85">0.4</text>
<text class="cb" x="1328.95" y="941.09">0.6</text>
<text class="cb" x="1328.95" y="845.33">0.8</text>
<text class="cb" x="1328.95" y="749.57">1</text>
<path d="M1316.65 1118.01h-5M1316.65 1022.25h-5M1316.65 926.49h-5M1316.65 830.73h-5" stroke="#262626" stroke-width="1.4" fill="none"/>
<path d="M955.3 1034.6h19.2l-9.6 -18.8z" fill="#bdbdbd" stroke="#cfe9e9" stroke-width="0.8"/>
<path d="M943.1 1023.5h26.6M956.4 1010.2v26.6" stroke="#fff" stroke-width="4.7" fill="none"/>
<clipPath id="clf"><rect x="1517.05" y="733.42" width="410.23" height="410.43"/></clipPath>
<g clip-path="url(#clf)"><g filter="url(#jet)" transform="translate(1487.05 703.42)">
<path fill="#000000" d="M330 0h150.5v10.5h-150.5zM330 10h150.5v10.5h-150.5zM330 20h150.5v10.5h-150.5zM330 30h150.5v10.5h-150.5zM320 40h160.5v10.5h-160.5zM320 50h160.5v10.5h-160.5zM330 60h150.5v10.5h-150.5zM330 70h150.5v10.5h-150.5zM340 80h140.5v10.5h-140.5zM340 90h140.5v10.5h-140.5zM350 100h130.5v10.5h-130.5zM350 110h130.5v10.5h-130.5zM350 120h130.5v10.5h-130.5zM350 130h130.5v10.5h-130.5zM340 140h140.5v10.5h-140.5zM340 150h140.5v10.5h-140.5zM340 160h140.5v10.5h-140.5zM340 170h100.5v10.5h-100.5zM450 170h10.5v10.5h-10.5zM340 180h90.5v10.5h-90.5zM340 190h80.5v10.5h-80.5zM330 200h80.5v10.5h-80.5zM320 210h70.5v10.5h-70.5zM320 220h50.5v10.5h-50.5zM320 230h40.5v10.5h-40.5zM320 240h30.5v10.5h-30.5z"/>
<path fill="#010101" d="M320 0h10.5v10.5h-10.5zM320 10h10.5v10.5h-10.5zM320 20h10.5v10.5h-10.5zM320 30h10.5v10.5h-10.5zM310 40h10.5v10.5h-10.5zM320 60h10.5v10.5h-10.5zM330 80h10.5v10.5h-10.5zM340 100h10.5v10.5h-10.5zM340 110h10.5v10.5h-10.5zM340 120h10.5v10.5h-10.5zM340 130h10.5v10.5h-10.5zM440 170h10.5v10.5h-10.5zM460 170h20.5v10.5h-20.5zM330 180h10.5v10.5h-10.5zM430 180h50.5v10.5h-50.5zM330 190h10.5v10.5h-10.5zM420 190h20.5v10.5h-20.5zM450 190h10.5v10.5h-10.5zM320 200h10.5v10.5h-10.5zM410 200h20.5v10.5h-20.5zM390 210h20.5v10.5h-20.5zM310 220h10.5v10.5h-10.5zM370 220h30.5v10.5h-30.5zM310 230h10.5v10.5h-10.5zM360 230h20.5v10.5h-20.5zM310 240h10.5v10.5h-10.5zM350 240h10.5v10.5h-10.5zM320 250h20.5v10.5h-20.5z"/>
<path fill="#020202" d="M310 0h10.5v10.5h-10.5zM310 10h10.5v10.5h-10.5zM310 30h10.5v10.5h-10.5zM310 50h10.5v10.5h-10.5zM310 60h10.5v10.5h-10.5zM320 70h10.5v10.5h-10.5zM320 80h10.5v10.5h-10.5zM330 90h10.5v10.5h-10.5zM330 100h10.5v10.5h-10.5zM330 110h10.5v10.5h-10.5zM330 120h10.5v10.5h-10.5zM330 130h10.5v10.5h-10.5zM330 140h10.5v10.5h-10.5zM330 150h10.5v10.5h-10.5zM330 160h10.5v10.5h-10.5zM330 170h10.5v10.5h-10.5zM320 190h10.5v10.5h-10.5zM440 190h10.5v10.5h-10.5zM460 190h20.5v10.5h-20.5zM310 200h10.5v10.5h-10.5zM430 200h50.5v10.5h-50.5zM310 210h10.5v10.5h-10.5zM410 210h20.5v10.5h-20.5zM400 220h10.5v10.5h-10.5zM380 230h10.5v10.5h-10.5zM360 240h10.5v10.5h-10.5zM310 250h10.5v10.5h-10.5zM340 250h10.5v10.5h-10.5zM310 260h30.5v10.5h-30.5zM310 270h20.5v10.5h-20.5z"/>
<path fill="#030303" d="M310 20h10.5v10.5h-10.5zM300 40h10.5v10.5h-10.5zM310 70h10.5v10.5h-10.5zM320 90h10.5v10.5h-10.5zM320 170h10.5v10.5h-10.5zM320 180h10.5v10.5h-10.5zM310 190h10.5v10.5h-10.5zM300 210h10.5v10.5h-10.5zM430 210h10.5v10.5h-10.5zM450 210h30.5v10.5h-30.5zM300 220h10.5v10.5h-10.5zM410 220h20.5v10.5h-20.5zM300 230h10.5v10.5h-10.5zM390 230h20.5v10.5h-20.5zM300 240h10.5v10.5h-10.5zM370 240h10.5v10.5h-10.5zM300 250h10.5v10.5h-10.5zM350 250h10.5v10.5h-10.5zM340 260h10.5v10.5h-10.5zM300 280h20.5v10.5h-20.5zM300 290h10.5v10.5h-10.5z"/>
<path fill="#040404" d="M300 0h10.5v10.5h-10.5zM300 10h10.5v10.5h-10.5zM300 30h10.5v10.5h-10.5zM300 50h10.5v10.5h-10.5zM310 80h10.5v10.5h-10.5zM320 100h10.5v10.5h-10.5zM320 110h10.5v10.5h-10.5zM320 120h10.5v10.5h-10.5zM320 130h10.5v10.5h-10.5zM320 140h10.5v10.5h-10.5zM320 150h10.5v10.5h-10.5zM320 160h10.5v10.5h-10.5zM310 180h10.5v10.5h-10.5zM300 200h10.5v10.5h-10.5zM440 210h10.5v10.5h-10.5zM430 220h10.5v10.5h-10.5zM410 230h10.5v10.5h-10.5zM380 240h10.5v10.5h-10.5zM360 250h10.5v10.5h-10.5zM300 260h10.5v10.5h-10.5zM300 270h10.5v10.5h-10.5zM330 270h10.5v10.5h-10.5zM320 280h10.5v10.5h-10.5zM310 290h10.5v10.5h-10.5zM300 300h10.5v10.5h-10.5z"/>
<path fill="#050505" d="M300 20h10.5v10.5h-10.5zM300 60h10.5v10.5h-10.5zM310 90h10.5v10.5h-10.5zM310 170h10.5v10.5h-10.5zM300 190h10.5v10.5h-10.5zM290 210h10.5v10.5h-10.5zM290 220h10.5v10.5h-10.5zM440 220h40.5v10.5h-40.5zM290 230h10.5v10.5h-10.5zM420 230h10.5v10.5h-10.5zM390 240h10.5v10.5h-10.5zM370 250h10.5v10.5h-10.5zM350 260h10.5v10.5h-10.5zM340 270h10.5v10.5h-10.5zM290 300h10.5v10.5h-10.5zM310 300h10.5v10.5h-10.5z"/>
<path fill="#060606" d="M290 40h10.5v10.5h-10.5zM300 70h10.5v10.5h-10.5zM300 80h10.5v10.5h-10.5zM310 100h10.5v10.5h-10.5zM310 110h10.5v10.5h-10.5zM310 150h10.5v10.5h-10.5zM310 160h10.5v10.5h-10.5zM300 180h10.5v10.5h-10.5zM290 200h10.5v10.5h-10.5zM430 230h10.5v10.5h-10.5zM290 240h10.5v10.5h-10.5zM400 240h10.5v10.5h-10.5zM290 250h10.5v10.5h-10.5zM330 280h10.5v10.5h-10.5zM290 290h10.5v10.5h-10.5zM320 290h10.5v10.5h-10.5zM290 310h20.5v10.5h-20.5z"/>
<path fill="#070707" d="M290 0h10.5v10.5h-10.5zM290 10h10.5v10.5h-10.5zM290 30h10.5v10.5h-10.5zM290 50h10.5v10.5h-10.5zM300 90h10.5v10.5h-10.5zM310 120h10.5v10.5h-10.5zM310 130h10.5v10.5h-10.5zM310 140h10.5v10.5h-10.5zM290 190h10.5v10.5h-10.5zM280 210h10.5v10.5h-10.5zM440 230h40.5v10.5h-40.5zM410 240h20.5v10.5h-20.5zM380 250h10.5v10.5h-10.5zM290 260h10.5v10.5h-10.5zM360 260h10.5v10.5h-10.5zM290 270h10.5v10.5h-10.5zM290 280h10.5v10.5h-10.5z"/>
<path fill="#080808" d="M290 20h10.5v10.5h-10.5zM290 60h10.5v10.5h-10.5zM300 100h10.5v10.5h-10.5zM300 170h10.5v10.5h-10.5zM290 180h10.5v10.5h-10.5zM280 200h10.5v10.5h-10.5zM280 220h10.5v10.5h-10.5zM390 250h10.5v10.5h-10.5zM370 260h10.5v10.5h-10.5zM350 270h10.5v10.5h-10.5zM340 280h10.5v10.5h-10.5zM310 310h10.5v10.5h-10.5zM290 320h20.5v10.5h-20.5z"/>
<path fill="#090909" d="M290 70h10.5v10.5h-10.5zM290 80h10.5v10.5h-10.5zM300 110h10.5v10.5h-10.5zM300 120h10.5v10.5h-10.5zM300 130h10.5v10.5h-10.5zM300 140h10.5v10.5h-10.5zM300 150h10.5v10.5h-10.5zM300 160h10.5v10.5h-10.5zM280 190h10.5v10.5h-10.5zM20 210h10.5v10.5h-10.5zM20 220h10.5v10.5h-10.5zM0 230h10.5v10.5h-10.5zM20 230h10.5v10.5h-10.5zM280 230h10.5v10.5h-10.5zM430 240h10.5v10.5h-10.5zM450 240h10.5v10.5h-10.5zM400 250h10.5v10.5h-10.5zM330 290h10.5v10.5h-10.5zM320 300h10.5v10.5h-10.5z"/>
<path fill="#0a0a0a" d="M290 90h10.5v10.5h-10.5zM290 170h10.5v10.5h-10.5zM280 180h10.5v10.5h-10.5zM20 200h10.5v10.5h-10.5zM270 200h10.5v10.5h-10.5zM0 210h20.5v10.5h-20.5zM270 210h10.5v10.5h-10.5zM0 220h20.5v10.5h-20.5zM10 230h10.5v10.5h-10.5zM280 240h10.5v10.5h-10.5zM440 240h10.5v10.5h-10.5zM460 240h20.5v10.5h-20.5zM410 250h10.5v10.5h-10.5zM380 260h10.5v10.5h-10.5zM360 270h10.5v10.5h-10.5zM290 330h10.5v10.5h-10.5z"/>
<path fill="#0b0b0b" d="M280 30h10.5v10.5h-10.5zM280 40h10.5v10.5h-10.5zM280 50h10.5v10.5h-10.5zM290 100h10.5v10.5h-10.5zM290 160h10.5v10.5h-10.5zM270 190h10.5v10.5h-10.5zM0 200h20.5v10.5h-20.5zM30 210h10.5v10.5h-10.5zM30 220h10.5v10.5h-10.5zM30 230h10.5v10.5h-10.5zM20 240h10.5v10.5h-10.5zM420 250h10.5v10.5h-10.5zM350 280h10.5v10.5h-10.5zM280 310h10.5v10.5h-10.5z"/>
<path fill="#0c0c0c" d="M280 0h10.5v10.5h-10.5zM280 10h10.5v10.5h-10.5zM280 20h10.5v10.5h-10.5zM280 60h10.5v10.5h-10.5zM280 70h10.5v10.5h-10.5zM290 110h10.5v10.5h-10.5zM290 120h10.5v10.5h-10.5zM290 130h10.5v10.5h-10.5zM290 140h10.5v10.5h-10.5zM290 150h10.5v10.5h-10.5zM280 170h10.5v10.5h-10.5zM20 180h10.5v10.5h-10.5zM270 180h10.5v10.5h-10.5zM0 190h30.5v10.5h-30.5zM30 200h10.5v10.5h-10.5zM40 220h10.5v10.5h-10.5zM270 220h10.5v10.5h-10.5zM0 240h20.5v10.5h-20.5zM280 250h10.5v10.5h-10.5zM430 250h10.5v10.5h-10.5zM390 260h10.5v10.5h-10.5zM370 270h10.5v10.5h-10.5zM280 300h10.5v10.5h-10.5zM310 320h10.5v10.5h-10.5zM300 330h10.5v10.5h-10.5z"/>
<path fill="#0d0d0d" d="M280 80h10.5v10.5h-10.5zM280 160h10.5v10.5h-10.5zM0 170h30.5v10.5h-30.5zM0 180h20.5v10.5h-20.5zM30 190h10.5v10.5h-10.5zM260 190h10.5v10.5h-10.5zM260 200h10.5v10.5h-10.5zM40 210h10.5v10.5h-10.5zM50 220h10.5v10.5h-10.5zM440 250h40.5v10.5h-40.5zM280 260h10.5v10.5h-10.5zM400 260h10.5v10.5h-10.5zM340 290h10.5v10.5h-10.5zM330 300h10.5v10.5h-10.5zM320 310h10.5v10.5h-10.5zM280 320h10.5v10.5h-10.5zM280 330h10.5v10.5h-10.5zM280 340h20.5v10.5h-20.5z"/>
<path fill="#0e0e0e" d="M280 90h10.5v10.5h-10.5zM280 100h10.5v10.5h-10.5zM280 150h10.5v10.5h-10.5zM0 160h10.5v10.5h-10.5zM20 160h10.5v10.5h-10.5zM30 170h10.5v10.5h-10.5zM270 170h10.5v10.5h-10.5zM30 180h10.5v10.5h-10.5zM260 180h10.5v10.5h-10.5zM260 210h10.5v10.5h-10.5zM40 230h10.5v10.5h-10.5zM270 230h10.5v10.5h-10.5zM30 240h10.5v10.5h-10.5zM280 270h10.5v10.5h-10.5zM280 280h10.5v10.5h-10.5zM360 280h10.5v10.5h-10.5zM280 290h10.5v10.5h-10.5z"/>
<path fill="#0f0f0f" d="M280 110h10.5v10.5h-10.5zM280 120h10.5v10.5h-10.5zM280 130h10.5v10.5h-10.5zM280 140h10.5v10.5h-10.5zM10 160h10.5v10.5h-10.5zM30 160h10.5v10.5h-10.5zM270 160h10.5v10.5h-10.5zM40 190h10.5v10.5h-10.5zM40 200h10.5v10.5h-10.5zM50 210h20.5v10.5h-20.5zM60 220h10.5v10.5h-10.5zM410 260h10.5v10.5h-10.5zM380 270h10.5v10.5h-10.5zM280 350h10.5v10.5h-10.5z"/>
<path fill="#101010" d="M270 40h10.5v10.5h-10.5zM270 50h10.5v10.5h-10.5zM270 60h10.5v10.5h-10.5zM0 150h10.5v10.5h-10.5zM20 150h10.5v10.5h-10.5zM40 170h10.5v10.5h-10.5zM260 170h10.5v10.5h-10.5zM40 180h20.5v10.5h-20.5zM250 180h10.5v10.5h-10.5zM50 190h10.5v10.5h-10.5zM250 190h10.5v10.5h-10.5zM50 200h20.5v10.5h-20.5zM50 230h10.5v10.5h-10.5zM420 260h10.5v10.5h-10.5zM350 290h10.5v10.5h-10.5zM300 340h10.5v10.5h-10.5zM290 350h10.5v10.5h-10.5z"/>
<path fill="#111111" d="M270 30h10.5v10.5h-10.5zM270 70h10.5v10.5h-10.5zM270 80h10.5v10.5h-10.5zM270 90h10.5v10.5h-10.5zM10 150h10.5v10.5h-10.5zM270 150h10.5v10.5h-10.5zM260 160h10.5v10.5h-10.5zM50 170h10.5v10.5h-10.5zM60 180h10.5v10.5h-10.5zM60 190h10.5v10.5h-10.5zM250 200h10.5v10.5h-10.5zM260 220h10.5v10.5h-10.5zM270 240h10.5v10.5h-10.5zM20 250h10.5v10.5h-10.5zM430 260h10.5v10.5h-10.5zM390 270h10.5v10.5h-10.5zM370 280h10.5v10.5h-10.5zM310 330h10.5v10.5h-10.5z"/>
<path fill="#121212" d="M270 0h10.5v10.5h-10.5zM270 10h10.5v10.5h-10.5zM270 20h10.5v10.5h-10.5zM270 100h10.5v10.5h-10.5zM270 110h10.5v10.5h-10.5zM270 140h10.5v10.5h-10.5zM30 150h10.5v10.5h-10.5zM40 160h20.5v10.5h-20.5zM60 170h10.5v10.5h-10.5zM250 170h10.5v10.5h-10.5zM70 180h10.5v10.5h-10.5zM240 180h10.5v10.5h-10.5zM70 190h10.5v10.5h-10.5zM70 200h10.5v10.5h-10.5zM60 230h10.5v10.5h-10.5zM0 250h10.5v10.5h-10.5zM440 260h40.5v10.5h-40.5zM340 300h10.5v10.5h-10.5zM330 310h10.5v10.5h-10.5zM320 320h10.5v10.5h-10.5zM270 350h10.5v10.5h-10.5zM280 360h10.5v10.5h-10.5z"/>
<path fill="#131313" d="M270 120h10.5v10.5h-10.5zM270 130h10.5v10.5h-10.5zM20 140h10.5v10.5h-10.5zM260 150h10.5v10.5h-10.5zM60 160h10.5v10.5h-10.5zM250 160h10.5v10.5h-10.5zM70 170h10.5v10.5h-10.5zM240 170h10.5v10.5h-10.5zM80 190h10.5v10.5h-10.5zM240 190h10.5v10.5h-10.5zM70 210h10.5v10.5h-10.5zM250 210h10.5v10.5h-10.5zM10 250h10.5v10.5h-10.5zM270 340h10.5v10.5h-10.5zM270 360h10.5v10.5h-10.5zM290 360h10.5v10.5h-10.5zM210 440h10.5v10.5h-10.5zM210 460h10.5v10.5h-10.5zM210 470h10.5v10.5h-10.5z"/>
<path fill="#141414" d="M0 140h20.5v10.5h-20.5zM40 150h10.5v10.5h-10.5zM80 170h10.5v10.5h-10.5zM80 180h10.5v10.5h-10.5zM100 180h20.5v10.5h-20.5zM30 250h10.5v10.5h-10.5zM270 250h10.5v10.5h-10.5zM400 270h10.5v10.5h-10.5zM360 290h10.5v10.5h-10.5zM300 350h10.5v10.5h-10.5zM210 430h10.5v10.5h-10.5zM200 440h10.5v10.5h-10.5zM210 450h10.5v10.5h-10.5z"/>
<path fill="#151515" d="M260 70h10.5v10.5h-10.5zM260 80h10.5v10.5h-10.5zM260 90h10.5v10.5h-10.5zM260 100h10.5v10.5h-10.5zM260 130h10.5v10.5h-10.5zM30 140h10.5v10.5h-10.5zM260 140h10.5v10.5h-10.5zM50 150h10.5v10.5h-10.5zM250 150h10.5v10.5h-10.5zM70 160h10.5v10.5h-10.5zM240 160h10.5v10.5h-10.5zM90 170h20.5v10.5h-20.5zM230 170h10.5v10.5h-10.5zM90 180h10.5v10.5h-10.5zM120 180h10.5v10.5h-10.5zM230 180h10.5v10.5h-10.5zM90 190h30.5v10.5h-30.5zM80 200h10.5v10.5h-10.5zM40 240h10.5v10.5h-10.5zM410 270h10.5v10.5h-10.5zM380 280h10.5v10.5h-10.5zM270 330h10.5v10.5h-10.5zM310 340h10.5v10.5h-10.5zM270 370h20.5v10.5h-20.5zM220 440h10.5v10.5h-10.5zM200 450h10.5v10.5h-10.5zM220 450h10.5v10.5h-10.5zM200 460h10.5v10.5h-10.5zM220 460h10.5v10.5h-10.5zM200 470h10.5v10.5h-10.5zM220 470h10.5v10.5h-10.5z"/>
<path fill="#161616" d="M260 50h10.5v10.5h-10.5zM260 60h10.5v10.5h-10.5zM260 110h10.5v10.5h-10.5zM260 120h10.5v10.5h-10.5zM60 150h10.5v10.5h-10.5zM80 160h10.5v10.5h-10.5zM110 170h10.5v10.5h-10.5zM130 170h30.5v10.5h-30.5zM220 170h10.5v10.5h-10.5zM130 180h10.5v10.5h-10.5zM220 180h10.5v10.5h-10.5zM230 190h10.5v10.5h-10.5zM240 200h10.5v10.5h-10.5zM70 220h10.5v10.5h-10.5zM260 230h10.5v10.5h-10.5zM270 260h10.5v10.5h-10.5zM420 270h10.5v10.5h-10.5zM240 400h10.5v10.5h-10.5zM200 430h10.5v10.5h-10.5zM220 430h10.5v10.5h-10.5z"/>
<path fill="#171717" d="M260 40h10.5v10.5h-10.5zM20 130h10.5v10.5h-10.5zM250 140h10.5v10.5h-10.5zM240 150h10.5v10.5h-10.5zM90 160h10.5v10.5h-10.5zM230 160h10.5v10.5h-10.5zM120 170h10.5v10.5h-10.5zM160 170h10.5v10.5h-10.5zM200 170h20.5v10.5h-20.5zM140 180h10.5v10.5h-10.5zM160 180h10.5v10.5h-10.5zM120 190h10.5v10.5h-10.5zM430 270h10.5v10.5h-10.5zM350 300h10.5v10.5h-10.5zM270 320h10.5v10.5h-10.5zM290 370h10.5v10.5h-10.5zM270 380h10.5v10.5h-10.5zM230 410h20.5v10.5h-20.5z"/>
<path fill="#181818" d="M260 30h10.5v10.5h-10.5zM250 100h10.5v10.5h-10.5zM250 110h10.5v10.5h-10.5zM250 120h10.5v10.5h-10.5zM0 130h20.5v10.5h-20.5zM250 130h10.5v10.5h-10.5zM40 140h10.5v10.5h-10.5zM70 150h10.5v10.5h-10.5zM100 160h10.5v10.5h-10.5zM150 160h10.5v10.5h-10.5zM190 160h40.5v10.5h-40.5zM170 170h30.5v10.5h-30.5zM150 180h10.5v10.5h-10.5zM210 180h10.5v10.5h-10.5zM90 200h10.5v10.5h-10.5zM250 220h10.5v10.5h-10.5zM270 270h10.5v10.5h-10.5zM440 270h40.5v10.5h-40.5zM390 280h10.5v10.5h-10.5zM370 290h10.5v10.5h-10.5zM270 310h10.5v10.5h-10.5zM340 310h10.5v10.5h-10.5zM330 320h10.5v10.5h-10.5zM320 330h10.5v10.5h-10.5zM260 360h10.5v10.5h-10.5zM300 360h10.5v10.5h-10.5zM260 370h10.5v10.5h-10.5zM260 380h10.5v10.5h-10.5zM280 380h10.5v10.5h-10.5zM240 390h10.5v10.5h-10.5zM230 400h10.5v10.5h-10.5zM250 400h10.5v10.5h-10.5zM250 410h10.5v10.5h-10.5zM220 420h20.5v10.5h-20.5z"/>
<path fill="#191919" d="M260 0h10.5v10.5h-10.5zM260 10h10.5v10.5h-10.5zM260 20h10.5v10.5h-10.5zM250 90h10.5v10.5h-10.5zM30 130h10.5v10.5h-10.5zM50 140h10.5v10.5h-10.5zM240 140h10.5v10.5h-10.5zM200 150h10.5v10.5h-10.5zM230 150h10.5v10.5h-10.5zM110 160h40.5v10.5h-40.5zM160 160h10.5v10.5h-10.5zM180 160h10.5v10.5h-10.5zM170 180h10.5v10.5h-10.5zM200 180h10.5v10.5h-10.5zM220 190h10.5v10.5h-10.5zM80 210h10.5v10.5h-10.5zM70 230h10.5v10.5h-10.5zM230 390h10.5v10.5h-10.5zM250 390h10.5v10.5h-10.5zM270 390h10.5v10.5h-10.5zM260 400h10.5v10.5h-10.5zM240 420h10.5v10.5h-10.5zM230 440h10.5v10.5h-10.5zM230 450h10.5v10.5h-10.5zM230 460h10.5v10.5h-10.5zM230 470h10.5v10.5h-10.5z"/>
<path fill="#1a1a1a" d="M250 80h10.5v10.5h-10.5zM240 120h10.5v10.5h-10.5zM240 130h10.5v10.5h-10.5zM60 140h10.5v10.5h-10.5zM230 140h10.5v10.5h-10.5zM80 150h10.5v10.5h-10.5zM180 150h20.5v10.5h-20.5zM210 150h20.5v10.5h-20.5zM170 160h10.5v10.5h-10.5zM180 180h10.5v10.5h-10.5zM240 210h10.5v10.5h-10.5zM50 240h10.5v10.5h-10.5zM260 240h10.5v10.5h-10.5zM20 260h10.5v10.5h-10.5zM270 280h10.5v10.5h-10.5zM270 290h10.5v10.5h-10.5zM270 300h10.5v10.5h-10.5zM260 350h10.5v10.5h-10.5zM310 350h10.5v10.5h-10.5zM250 380h10.5v10.5h-10.5zM260 390h10.5v10.5h-10.5zM270 400h10.5v10.5h-10.5zM260 410h10.5v10.5h-10.5zM210 420h10.5v10.5h-10.5zM250 420h20.5v10.5h-20.5zM230 430h10.5v10.5h-10.5zM190 440h10.5v10.5h-10.5z"/>
<path fill="#1b1b1b" d="M250 70h10.5v10.5h-10.5zM240 110h10.5v10.5h-10.5zM230 120h10.5v10.5h-10.5zM220 130h20.5v10.5h-20.5zM210 140h20.5v10.5h-20.5zM170 150h10.5v10.5h-10.5zM190 180h10.5v10.5h-10.5zM130 190h10.5v10.5h-10.5zM210 190h10.5v10.5h-10.5zM100 200h10.5v10.5h-10.5zM230 200h10.5v10.5h-10.5zM0 260h10.5v10.5h-10.5zM360 300h10.5v10.5h-10.5zM290 380h10.5v10.5h-10.5zM280 390h10.5v10.5h-10.5zM220 410h10.5v10.5h-10.5zM270 410h10.5v10.5h-10.5zM270 420h10.5v10.5h-10.5zM270 430h10.5v10.5h-10.5zM190 460h10.5v10.5h-10.5zM190 470h10.5v10.5h-10.5z"/>
<path fill="#1c1c1c" d="M250 60h10.5v10.5h-10.5zM240 100h10.5v10.5h-10.5zM0 120h10.5v10.5h-10.5zM20 120h10.5v10.5h-10.5zM220 120h10.5v10.5h-10.5zM70 140h10.5v10.5h-10.5zM200 140h10.5v10.5h-10.5zM90 150h10.5v10.5h-10.5zM110 200h10.5v10.5h-10.5zM10 260h10.5v10.5h-10.5zM400 280h10.5v10.5h-10.5zM380 290h10.5v10.5h-10.5zM300 370h10.5v10.5h-10.5zM280 400h10.5v10.5h-10.5zM250 430h20.5v10.5h-20.5zM250 440h30.5v10.5h-30.5zM190 450h10.5v10.5h-10.5zM250 450h30.5v10.5h-30.5zM250 460h30.5v10.5h-30.5zM250 470h30.5v10.5h-30.5z"/>
<path fill="#1d1d1d" d="M230 110h10.5v10.5h-10.5zM10 120h10.5v10.5h-10.5zM40 130h10.5v10.5h-10.5zM210 130h10.5v10.5h-10.5zM190 140h10.5v10.5h-10.5zM120 150h10.5v10.5h-10.5zM160 150h10.5v10.5h-10.5zM120 200h10.5v10.5h-10.5zM320 340h10.5v10.5h-10.5zM280 410h10.5v10.5h-10.5zM280 420h10.5v10.5h-10.5zM190 430h10.5v10.5h-10.5zM240 430h10.5v10.5h-10.5zM280 430h10.5v10.5h-10.5zM240 440h10.5v10.5h-10.5zM280 440h10.5v10.5h-10.5zM240 450h10.5v10.5h-10.5zM280 450h10.5v10.5h-10.5zM240 460h10.5v10.5h-10.5zM280 460h10.5v10.5h-10.5zM240 470h10.5v10.5h-10.5zM280 470h10.5v10.5h-10.5z"/>
<path fill="#1e1e1e" d="M250 50h10.5v10.5h-10.5zM240 90h10.5v10.5h-10.5zM30 120h10.5v10.5h-10.5zM100 150h20.5v10.5h-20.5zM130 150h30.5v10.5h-30.5zM140 190h10.5v10.5h-10.5zM160 190h10.5v10.5h-10.5zM30 260h10.5v10.5h-10.5zM350 310h10.5v10.5h-10.5zM260 340h10.5v10.5h-10.5zM310 360h10.5v10.5h-10.5zM250 370h10.5v10.5h-10.5zM240 380h10.5v10.5h-10.5zM290 390h10.5v10.5h-10.5zM200 420h10.5v10.5h-10.5z"/>
<path fill="#1f1f1f" d="M250 40h10.5v10.5h-10.5zM240 80h10.5v10.5h-10.5zM220 110h10.5v10.5h-10.5zM210 120h10.5v10.5h-10.5zM50 130h10.5v10.5h-10.5zM200 130h10.5v10.5h-10.5zM170 140h20.5v10.5h-20.5zM200 190h10.5v10.5h-10.5zM250 230h10.5v10.5h-10.5zM260 250h10.5v10.5h-10.5zM410 280h10.5v10.5h-10.5zM340 320h10.5v10.5h-10.5zM330 330h10.5v10.5h-10.5z"/>
<path fill="#202020" d="M230 100h10.5v10.5h-10.5zM20 110h10.5v10.5h-10.5zM80 140h10.5v10.5h-10.5zM150 190h10.5v10.5h-10.5zM170 190h10.5v10.5h-10.5zM240 220h10.5v10.5h-10.5zM40 250h10.5v10.5h-10.5zM420 280h20.5v10.5h-20.5zM370 300h10.5v10.5h-10.5zM300 380h10.5v10.5h-10.5zM220 400h10.5v10.5h-10.5zM290 400h10.5v10.5h-10.5z"/>
<path fill="#212121" d="M250 30h10.5v10.5h-10.5zM0 110h20.5v10.5h-20.5zM60 130h10.5v10.5h-10.5zM220 200h10.5v10.5h-10.5zM90 210h10.5v10.5h-10.5zM80 220h10.5v10.5h-10.5zM60 240h10.5v10.5h-10.5zM440 280h40.5v10.5h-40.5zM390 290h10.5v10.5h-10.5zM210 410h10.5v10.5h-10.5zM290 410h10.5v10.5h-10.5zM290 420h10.5v10.5h-10.5zM290 430h10.5v10.5h-10.5zM290 440h10.5v10.5h-10.5zM290 450h10.5v10.5h-10.5zM290 460h10.5v10.5h-10.5zM290 470h10.5v10.5h-10.5z"/>
<path fill="#222222" d="M250 0h10.5v10.5h-10.5zM250 10h10.5v10.5h-10.5zM250 20h10.5v10.5h-10.5zM240 70h10.5v10.5h-10.5zM190 190h10.5v10.5h-10.5zM260 260h10.5v10.5h-10.5zM260 330h10.5v10.5h-10.5zM320 350h10.5v10.5h-10.5zM250 360h10.5v10.5h-10.5z"/>
<path fill="#232323" d="M230 90h10.5v10.5h-10.5zM20 100h10.5v10.5h-10.5zM30 110h10.5v10.5h-10.5zM210 110h10.5v10.5h-10.5zM190 130h10.5v10.5h-10.5zM90 140h10.5v10.5h-10.5zM160 140h10.5v10.5h-10.5zM180 190h10.5v10.5h-10.5zM230 210h10.5v10.5h-10.5zM360 310h10.5v10.5h-10.5zM310 370h10.5v10.5h-10.5z"/>
<path fill="#242424" d="M0 100h10.5v10.5h-10.5zM220 100h10.5v10.5h-10.5zM40 120h10.5v10.5h-10.5zM200 120h10.5v10.5h-10.5zM70 130h10.5v10.5h-10.5zM300 390h10.5v10.5h-10.5z"/>
<path fill="#252525" d="M240 60h10.5v10.5h-10.5zM10 100h10.5v10.5h-10.5zM380 300h10.5v10.5h-10.5zM230 380h10.5v10.5h-10.5z"/>
<path fill="#262626" d="M20 90h10.5v10.5h-10.5zM180 130h10.5v10.5h-10.5zM100 140h10.5v10.5h-10.5zM150 140h10.5v10.5h-10.5zM130 200h10.5v10.5h-10.5zM210 200h10.5v10.5h-10.5zM400 290h10.5v10.5h-10.5zM260 320h10.5v10.5h-10.5zM350 320h10.5v10.5h-10.5zM340 330h10.5v10.5h-10.5zM330 340h10.5v10.5h-10.5zM240 370h10.5v10.5h-10.5zM300 400h10.5v10.5h-10.5zM180 440h10.5v10.5h-10.5z"/>
<path fill="#272727" d="M230 80h10.5v10.5h-10.5zM0 90h10.5v10.5h-10.5zM30 100h10.5v10.5h-10.5zM50 120h10.5v10.5h-10.5zM110 140h20.5v10.5h-20.5zM140 140h10.5v10.5h-10.5zM100 210h10.5v10.5h-10.5zM250 240h10.5v10.5h-10.5zM260 270h10.5v10.5h-10.5zM250 350h10.5v10.5h-10.5zM320 360h10.5v10.5h-10.5zM220 390h10.5v10.5h-10.5zM180 460h10.5v10.5h-10.5z"/>
<path fill="#282828" d="M240 50h10.5v10.5h-10.5zM20 80h10.5v10.5h-10.5zM10 90h10.5v10.5h-10.5zM130 140h10.5v10.5h-10.5zM310 380h10.5v10.5h-10.5zM300 410h10.5v10.5h-10.5zM180 450h10.5v10.5h-10.5zM180 470h10.5v10.5h-10.5z"/>
<path fill="#292929" d="M240 40h10.5v10.5h-10.5zM80 130h10.5v10.5h-10.5zM260 310h10.5v10.5h-10.5zM370 310h10.5v10.5h-10.5zM300 420h10.5v10.5h-10.5zM300 430h10.5v10.5h-10.5z"/>
<path fill="#2a2a2a" d="M20 70h10.5v10.5h-10.5zM0 80h10.5v10.5h-10.5zM30 90h10.5v10.5h-10.5zM220 90h10.5v10.5h-10.5zM40 110h10.5v10.5h-10.5zM190 120h10.5v10.5h-10.5zM170 130h10.5v10.5h-10.5zM20 270h10.5v10.5h-10.5zM260 280h10.5v10.5h-10.5zM410 290h10.5v10.5h-10.5zM190 420h10.5v10.5h-10.5zM300 440h10.5v10.5h-10.5zM300 450h10.5v10.5h-10.5zM300 460h10.5v10.5h-10.5zM300 470h10.5v10.5h-10.5z"/>
<path fill="#2b2b2b" d="M0 70h10.5v10.5h-10.5zM230 70h10.5v10.5h-10.5zM10 80h10.5v10.5h-10.5zM210 100h10.5v10.5h-10.5zM200 110h10.5v10.5h-10.5zM60 120h10.5v10.5h-10.5zM240 230h10.5v10.5h-10.5zM50 250h10.5v10.5h-10.5zM260 290h10.5v10.5h-10.5zM260 300h10.5v10.5h-10.5zM390 300h10.5v10.5h-10.5zM330 350h10.5v10.5h-10.5zM200 410h10.5v10.5h-10.5zM180 430h10.5v10.5h-10.5z"/>
<path fill="#2c2c2c" d="M240 30h10.5v10.5h-10.5zM20 60h10.5v10.5h-10.5zM10 70h10.5v10.5h-10.5zM200 200h10.5v10.5h-10.5zM110 210h10.5v10.5h-10.5zM220 210h10.5v10.5h-10.5zM0 270h10.5v10.5h-10.5zM360 320h10.5v10.5h-10.5zM320 370h10.5v10.5h-10.5zM310 390h10.5v10.5h-10.5zM210 400h10.5v10.5h-10.5z"/>
<path fill="#2d2d2d" d="M240 0h10.5v10.5h-10.5zM240 10h10.5v10.5h-10.5zM240 20h10.5v10.5h-10.5zM30 80h10.5v10.5h-10.5zM140 200h10.5v10.5h-10.5zM90 220h10.5v10.5h-10.5zM230 220h10.5v10.5h-10.5zM70 240h10.5v10.5h-10.5zM10 270h10.5v10.5h-10.5zM420 290h10.5v10.5h-10.5zM350 330h10.5v10.5h-10.5zM340 340h10.5v10.5h-10.5z"/>
<path fill="#2e2e2e" d="M0 60h10.5v10.5h-10.5zM90 130h10.5v10.5h-10.5zM160 130h10.5v10.5h-10.5zM250 250h10.5v10.5h-10.5zM430 290h10.5v10.5h-10.5zM250 340h10.5v10.5h-10.5z"/>
<path fill="#2f2f2f" d="M20 50h10.5v10.5h-10.5zM10 60h10.5v10.5h-10.5zM230 60h10.5v10.5h-10.5zM30 70h10.5v10.5h-10.5zM50 110h10.5v10.5h-10.5zM180 120h10.5v10.5h-10.5zM80 230h10.5v10.5h-10.5zM440 290h40.5v10.5h-40.5zM240 360h10.5v10.5h-10.5zM310 400h10.5v10.5h-10.5z"/>
<path fill="#303030" d="M220 80h10.5v10.5h-10.5zM40 100h10.5v10.5h-10.5zM70 120h10.5v10.5h-10.5zM150 200h10.5v10.5h-10.5zM190 200h10.5v10.5h-10.5zM30 270h10.5v10.5h-10.5zM380 310h10.5v10.5h-10.5z"/>
<path fill="#313131" d="M20 40h10.5v10.5h-10.5zM0 50h10.5v10.5h-10.5zM100 130h10.5v10.5h-10.5zM150 130h10.5v10.5h-10.5zM160 200h10.5v10.5h-10.5zM40 260h10.5v10.5h-10.5zM400 300h10.5v10.5h-10.5zM330 360h10.5v10.5h-10.5zM320 380h10.5v10.5h-10.5zM310 410h10.5v10.5h-10.5z"/>
<path fill="#323232" d="M0 40h10.5v10.5h-10.5zM10 50h10.5v10.5h-10.5zM30 60h10.5v10.5h-10.5zM210 90h10.5v10.5h-10.5zM190 110h10.5v10.5h-10.5zM170 200h20.5v10.5h-20.5zM120 210h10.5v10.5h-10.5zM310 420h10.5v10.5h-10.5z"/>
<path fill="#333333" d="M10 40h10.5v10.5h-10.5zM230 50h10.5v10.5h-10.5zM200 100h10.5v10.5h-10.5zM110 130h10.5v10.5h-10.5zM140 130h10.5v10.5h-10.5zM370 320h10.5v10.5h-10.5zM230 370h10.5v10.5h-10.5zM310 430h10.5v10.5h-10.5zM310 450h10.5v10.5h-10.5z"/>
<path fill="#343434" d="M30 50h10.5v10.5h-10.5zM120 130h20.5v10.5h-20.5zM250 260h10.5v10.5h-10.5zM250 330h10.5v10.5h-10.5zM340 350h10.5v10.5h-10.5zM310 440h10.5v10.5h-10.5zM310 460h10.5v10.5h-10.5zM310 470h10.5v10.5h-10.5z"/>
<path fill="#353535" d="M0 30h10.5v10.5h-10.5zM20 30h10.5v10.5h-10.5zM230 40h10.5v10.5h-10.5zM220 70h10.5v10.5h-10.5zM60 110h10.5v10.5h-10.5zM170 120h10.5v10.5h-10.5zM210 210h10.5v10.5h-10.5zM360 330h10.5v10.5h-10.5zM350 340h10.5v10.5h-10.5zM220 380h10.5v10.5h-10.5zM320 390h10.5v10.5h-10.5z"/>
<path fill="#363636" d="M20 0h10.5v10.5h-10.5zM20 10h10.5v10.5h-10.5zM10 30h10.5v10.5h-10.5zM30 30h10.5v10.5h-10.5zM30 40h10.5v10.5h-10.5zM40 90h10.5v10.5h-10.5zM80 120h10.5v10.5h-10.5zM240 240h10.5v10.5h-10.5zM330 370h10.5v10.5h-10.5zM170 440h10.5v10.5h-10.5z"/>
<path fill="#373737" d="M0 0h20.5v10.5h-20.5zM0 10h20.5v10.5h-20.5zM20 20h10.5v10.5h-10.5zM50 100h10.5v10.5h-10.5zM410 300h10.5v10.5h-10.5zM390 310h10.5v10.5h-10.5z"/>
<path fill="#383838" d="M30 0h10.5v10.5h-10.5zM30 10h10.5v10.5h-10.5zM0 20h20.5v10.5h-20.5zM30 20h10.5v10.5h-10.5zM230 30h10.5v10.5h-10.5zM100 220h10.5v10.5h-10.5zM60 250h10.5v10.5h-10.5zM190 410h10.5v10.5h-10.5zM170 460h10.5v10.5h-10.5zM170 470h10.5v10.5h-10.5z"/>
<path fill="#393939" d="M230 0h10.5v10.5h-10.5zM230 10h10.5v10.5h-10.5zM230 20h10.5v10.5h-10.5zM210 80h10.5v10.5h-10.5zM180 110h10.5v10.5h-10.5zM250 270h10.5v10.5h-10.5zM240 350h10.5v10.5h-10.5zM210 390h10.5v10.5h-10.5zM320 400h10.5v10.5h-10.5zM170 450h10.5v10.5h-10.5z"/>
<path fill="#3a3a3a" d="M220 60h10.5v10.5h-10.5zM90 120h10.5v10.5h-10.5zM160 120h10.5v10.5h-10.5zM130 210h10.5v10.5h-10.5zM220 220h10.5v10.5h-10.5zM230 230h10.5v10.5h-10.5zM420 300h10.5v10.5h-10.5zM250 320h10.5v10.5h-10.5zM380 320h10.5v10.5h-10.5zM340 360h10.5v10.5h-10.5zM200 400h10.5v10.5h-10.5zM180 420h10.5v10.5h-10.5z"/>
<path fill="#3b3b3b" d="M40 80h10.5v10.5h-10.5zM200 90h10.5v10.5h-10.5zM190 100h10.5v10.5h-10.5zM320 410h10.5v10.5h-10.5z"/>
<path fill="#3c3c3c" d="M70 110h10.5v10.5h-10.5zM20 280h10.5v10.5h-10.5zM370 330h10.5v10.5h-10.5zM330 380h10.5v10.5h-10.5zM170 430h10.5v10.5h-10.5z"/>
<path fill="#3d3d3d" d="M100 120h10.5v10.5h-10.5zM150 120h10.5v10.5h-10.5zM200 210h10.5v10.5h-10.5zM250 280h10.5v10.5h-10.5zM350 350h10.5v10.5h-10.5zM320 420h10.5v10.5h-10.5z"/>
<path fill="#3e3e3e" d="M50 90h10.5v10.5h-10.5zM0 280h10.5v10.5h-10.5zM430 300h50.5v10.5h-50.5zM250 310h10.5v10.5h-10.5zM400 310h10.5v10.5h-10.5zM360 340h10.5v10.5h-10.5z"/>
<path fill="#3f3f3f" d="M220 50h10.5v10.5h-10.5zM40 70h10.5v10.5h-10.5zM60 100h10.5v10.5h-10.5zM140 120h10.5v10.5h-10.5zM90 230h10.5v10.5h-10.5zM240 250h10.5v10.5h-10.5zM50 260h10.5v10.5h-10.5zM10 280h10.5v10.5h-10.5zM320 430h10.5v10.5h-10.5zM320 440h10.5v10.5h-10.5zM320 450h10.5v10.5h-10.5zM320 460h10.5v10.5h-10.5zM320 470h10.5v10.5h-10.5z"/>
<path fill="#404040" d="M210 70h10.5v10.5h-10.5zM110 120h10.5v10.5h-10.5zM250 290h10.5v10.5h-10.5zM250 300h10.5v10.5h-10.5zM230 360h10.5v10.5h-10.5zM330 390h10.5v10.5h-10.5z"/>
<path fill="#414141" d="M170 110h10.5v10.5h-10.5zM120 120h20.5v10.5h-20.5zM140 210h10.5v10.5h-10.5zM110 220h10.5v10.5h-10.5zM240 340h10.5v10.5h-10.5zM340 370h10.5v10.5h-10.5z"/>
<path fill="#424242" d="M80 110h10.5v10.5h-10.5zM390 320h10.5v10.5h-10.5z"/>
<path fill="#434343" d="M40 0h10.5v10.5h-10.5zM40 10h10.5v10.5h-10.5zM40 20h10.5v10.5h-10.5zM220 40h10.5v10.5h-10.5zM40 60h10.5v10.5h-10.5zM200 80h10.5v10.5h-10.5zM180 100h10.5v10.5h-10.5zM190 210h10.5v10.5h-10.5zM30 280h10.5v10.5h-10.5zM410 310h10.5v10.5h-10.5z"/>
<path fill="#444444" d="M40 30h10.5v10.5h-10.5zM190 90h10.5v10.5h-10.5zM350 360h10.5v10.5h-10.5zM330 400h10.5v10.5h-10.5z"/>
<path fill="#454545" d="M210 60h10.5v10.5h-10.5zM50 80h10.5v10.5h-10.5zM210 220h10.5v10.5h-10.5zM40 270h10.5v10.5h-10.5zM380 330h10.5v10.5h-10.5zM220 370h10.5v10.5h-10.5z"/>
<path fill="#464646" d="M220 0h10.5v10.5h-10.5zM220 10h10.5v10.5h-10.5zM220 30h10.5v10.5h-10.5zM40 50h10.5v10.5h-10.5zM70 100h10.5v10.5h-10.5zM90 110h10.5v10.5h-10.5zM80 240h10.5v10.5h-10.5zM230 240h10.5v10.5h-10.5zM160 440h10.5v10.5h-10.5z"/>
<path fill="#474747" d="M220 20h10.5v10.5h-10.5zM40 40h10.5v10.5h-10.5zM160 110h10.5v10.5h-10.5zM150 210h10.5v10.5h-10.5zM180 210h10.5v10.5h-10.5zM240 260h10.5v10.5h-10.5zM420 310h10.5v10.5h-10.5zM370 340h10.5v10.5h-10.5zM360 350h10.5v10.5h-10.5zM340 380h10.5v10.5h-10.5zM330 410h10.5v10.5h-10.5z"/>
<path fill="#484848" d="M60 90h10.5v10.5h-10.5zM170 210h10.5v10.5h-10.5zM70 250h10.5v10.5h-10.5zM240 330h10.5v10.5h-10.5z"/>
<path fill="#494949" d="M150 110h10.5v10.5h-10.5zM160 210h10.5v10.5h-10.5zM120 220h10.5v10.5h-10.5zM220 230h10.5v10.5h-10.5zM400 320h10.5v10.5h-10.5zM190 400h10.5v10.5h-10.5zM180 410h10.5v10.5h-10.5zM330 420h10.5v10.5h-10.5zM160 460h10.5v10.5h-10.5zM160 470h10.5v10.5h-10.5z"/>
<path fill="#4a4a4a" d="M200 70h10.5v10.5h-10.5zM170 100h10.5v10.5h-10.5zM100 110h10.5v10.5h-10.5zM430 310h50.5v10.5h-50.5zM330 440h10.5v10.5h-10.5zM160 450h10.5v10.5h-10.5zM330 450h10.5v10.5h-10.5zM330 460h10.5v10.5h-10.5zM330 470h10.5v10.5h-10.5z"/>
<path fill="#4b4b4b" d="M210 50h10.5v10.5h-10.5zM50 70h10.5v10.5h-10.5zM200 390h10.5v10.5h-10.5zM330 430h10.5v10.5h-10.5z"/>
<path fill="#4c4c4c" d="M190 80h10.5v10.5h-10.5zM180 90h10.5v10.5h-10.5zM110 110h10.5v10.5h-10.5zM140 110h10.5v10.5h-10.5zM230 350h10.5v10.5h-10.5zM350 370h10.5v10.5h-10.5zM210 380h10.5v10.5h-10.5zM340 390h10.5v10.5h-10.5zM440 440h10.5v10.5h-10.5z"/>
<path fill="#4d4d4d" d="M80 100h10.5v10.5h-10.5zM100 230h10.5v10.5h-10.5zM240 270h10.5v10.5h-10.5zM20 290h10.5v10.5h-10.5zM390 330h10.5v10.5h-10.5zM170 420h10.5v10.5h-10.5zM460 440h10.5v10.5h-10.5zM440 450h10.5v10.5h-10.5zM440 460h10.5v10.5h-10.5zM440 470h10.5v10.5h-10.5z"/>
<path fill="#4e4e4e" d="M120 110h20.5v10.5h-20.5zM60 260h10.5v10.5h-10.5zM240 320h10.5v10.5h-10.5zM440 430h10.5v10.5h-10.5zM450 440h10.5v10.5h-10.5zM470 440h10.5v10.5h-10.5zM460 450h10.5v10.5h-10.5zM460 460h20.5v10.5h-20.5zM460 470h20.5v10.5h-20.5z"/>
<path fill="#4f4f4f" d="M210 40h10.5v10.5h-10.5zM70 90h10.5v10.5h-10.5zM200 220h10.5v10.5h-10.5zM0 290h10.5v10.5h-10.5zM410 320h10.5v10.5h-10.5zM360 360h10.5v10.5h-10.5zM160 430h10.5v10.5h-10.5zM460 430h10.5v10.5h-10.5zM450 450h10.5v10.5h-10.5zM470 450h10.5v10.5h-10.5zM450 460h10.5v10.5h-10.5zM450 470h10.5v10.5h-10.5z"/>
<path fill="#505050" d="M200 60h10.5v10.5h-10.5zM60 80h10.5v10.5h-10.5zM160 100h10.5v10.5h-10.5zM380 340h10.5v10.5h-10.5zM340 400h10.5v10.5h-10.5zM450 430h10.5v10.5h-10.5zM470 430h10.5v10.5h-10.5zM430 440h10.5v10.5h-10.5zM430 460h10.5v10.5h-10.5zM430 470h10.5v10.5h-10.5z"/>
<path fill="#515151" d="M50 60h10.5v10.5h-10.5zM130 220h10.5v10.5h-10.5zM230 250h10.5v10.5h-10.5zM10 290h10.5v10.5h-10.5zM370 350h10.5v10.5h-10.5zM430 450h10.5v10.5h-10.5z"/>
<path fill="#525252" d="M90 100h10.5v10.5h-10.5zM240 280h10.5v10.5h-10.5zM220 360h10.5v10.5h-10.5zM350 380h10.5v10.5h-10.5zM430 430h10.5v10.5h-10.5z"/>
<path fill="#535353" d="M420 320h10.5v10.5h-10.5zM340 410h10.5v10.5h-10.5z"/>
<path fill="#545454" d="M210 0h10.5v10.5h-10.5zM210 10h10.5v10.5h-10.5zM210 30h10.5v10.5h-10.5zM190 70h10.5v10.5h-10.5zM170 90h10.5v10.5h-10.5zM30 290h10.5v10.5h-10.5zM240 310h10.5v10.5h-10.5zM440 320h10.5v10.5h-10.5zM400 330h10.5v10.5h-10.5zM440 420h10.5v10.5h-10.5z"/>
<path fill="#555555" d="M210 20h10.5v10.5h-10.5zM180 80h10.5v10.5h-10.5zM150 100h10.5v10.5h-10.5zM240 290h10.5v10.5h-10.5zM430 320h10.5v10.5h-10.5zM450 320h30.5v10.5h-30.5zM340 420h10.5v10.5h-10.5zM460 420h10.5v10.5h-10.5zM340 440h10.5v10.5h-10.5zM340 450h10.5v10.5h-10.5zM340 460h10.5v10.5h-10.5zM340 470h10.5v10.5h-10.5z"/>
<path fill="#565656" d="M50 50h10.5v10.5h-10.5zM200 50h10.5v10.5h-10.5zM80 90h10.5v10.5h-10.5zM100 100h10.5v10.5h-10.5zM210 230h10.5v10.5h-10.5zM50 270h10.5v10.5h-10.5zM360 370h10.5v10.5h-10.5zM450 420h10.5v10.5h-10.5zM470 420h10.5v10.5h-10.5zM340 430h10.5v10.5h-10.5z"/>
<path fill="#575757" d="M110 230h10.5v10.5h-10.5zM90 240h10.5v10.5h-10.5zM240 300h10.5v10.5h-10.5zM230 340h10.5v10.5h-10.5zM350 390h10.5v10.5h-10.5z"/>
<path fill="#585858" d="M60 70h10.5v10.5h-10.5zM140 100h10.5v10.5h-10.5zM140 220h10.5v10.5h-10.5zM190 220h10.5v10.5h-10.5zM220 240h10.5v10.5h-10.5zM40 280h10.5v10.5h-10.5zM390 340h10.5v10.5h-10.5zM430 420h10.5v10.5h-10.5zM150 440h10.5v10.5h-10.5z"/>
<path fill="#595959" d="M50 40h10.5v10.5h-10.5zM70 80h10.5v10.5h-10.5zM110 100h10.5v10.5h-10.5zM410 330h10.5v10.5h-10.5zM380 350h10.5v10.5h-10.5zM370 360h10.5v10.5h-10.5zM440 410h10.5v10.5h-10.5zM420 440h10.5v10.5h-10.5zM420 460h10.5v10.5h-10.5zM420 470h10.5v10.5h-10.5z"/>
<path fill="#5a5a5a" d="M160 90h10.5v10.5h-10.5zM120 100h20.5v10.5h-20.5zM230 260h10.5v10.5h-10.5zM350 400h10.5v10.5h-10.5zM450 410h30.5v10.5h-30.5zM420 450h10.5v10.5h-10.5z"/>
<path fill="#5b5b5b" d="M200 40h10.5v10.5h-10.5zM190 60h10.5v10.5h-10.5zM420 430h10.5v10.5h-10.5zM150 460h10.5v10.5h-10.5zM150 470h10.5v10.5h-10.5z"/>
<path fill="#5c5c5c" d="M90 90h10.5v10.5h-10.5zM210 370h10.5v10.5h-10.5zM360 380h10.5v10.5h-10.5zM190 390h10.5v10.5h-10.5zM180 400h10.5v10.5h-10.5zM430 410h10.5v10.5h-10.5z"/>
<path fill="#5d5d5d" d="M180 70h10.5v10.5h-10.5zM170 80h10.5v10.5h-10.5zM180 220h10.5v10.5h-10.5zM20 300h10.5v10.5h-10.5zM230 330h10.5v10.5h-10.5zM420 330h10.5v10.5h-10.5zM440 330h10.5v10.5h-10.5zM440 400h10.5v10.5h-10.5zM170 410h10.5v10.5h-10.5zM350 410h10.5v10.5h-10.5zM150 450h10.5v10.5h-10.5z"/>
<path fill="#5e5e5e" d="M430 330h10.5v10.5h-10.5zM450 330h30.5v10.5h-30.5zM400 340h10.5v10.5h-10.5zM220 350h10.5v10.5h-10.5zM450 400h30.5v10.5h-30.5z"/>
<path fill="#5f5f5f" d="M60 60h10.5v10.5h-10.5zM170 220h10.5v10.5h-10.5zM80 250h10.5v10.5h-10.5zM70 260h10.5v10.5h-10.5zM0 300h10.5v10.5h-10.5zM200 380h10.5v10.5h-10.5zM350 420h10.5v10.5h-10.5zM420 420h10.5v10.5h-10.5zM350 440h10.5v10.5h-10.5zM410 440h10.5v10.5h-10.5zM350 450h10.5v10.5h-10.5zM350 460h10.5v10.5h-10.5zM350 470h10.5v10.5h-10.5z"/>
<path fill="#606060" d="M50 30h10.5v10.5h-10.5zM200 30h10.5v10.5h-10.5zM80 80h10.5v10.5h-10.5zM150 90h10.5v10.5h-10.5zM370 370h10.5v10.5h-10.5zM360 390h10.5v10.5h-10.5zM430 400h10.5v10.5h-10.5zM350 430h10.5v10.5h-10.5zM410 450h10.5v10.5h-10.5zM410 460h10.5v10.5h-10.5zM410 470h10.5v10.5h-10.5z"/>
<path fill="#616161" d="M200 0h10.5v10.5h-10.5zM200 10h10.5v10.5h-10.5zM190 50h10.5v10.5h-10.5zM100 90h10.5v10.5h-10.5zM150 220h20.5v10.5h-20.5zM120 230h10.5v10.5h-10.5zM200 230h10.5v10.5h-10.5zM10 300h10.5v10.5h-10.5zM390 350h10.5v10.5h-10.5zM380 360h10.5v10.5h-10.5zM440 390h10.5v10.5h-10.5zM460 390h10.5v10.5h-10.5zM160 420h10.5v10.5h-10.5zM150 430h10.5v10.5h-10.5zM410 430h10.5v10.5h-10.5zM380 440h10.5v10.5h-10.5zM400 440h10.5v10.5h-10.5zM380 460h10.5v10.5h-10.5z"/>
<path fill="#626262" d="M50 0h10.5v10.5h-10.5zM50 10h10.5v10.5h-10.5zM200 20h10.5v10.5h-10.5zM70 70h10.5v10.5h-10.5zM100 240h10.5v10.5h-10.5zM230 270h10.5v10.5h-10.5zM410 340h10.5v10.5h-10.5zM450 390h10.5v10.5h-10.5zM470 390h10.5v10.5h-10.5zM360 400h10.5v10.5h-10.5zM420 410h10.5v10.5h-10.5zM360 440h20.5v10.5h-20.5zM390 440h10.5v10.5h-10.5zM380 450h10.5v10.5h-10.5zM400 450h10.5v10.5h-10.5zM390 460h20.5v10.5h-20.5zM380 470h30.5v10.5h-30.5z"/>
<path fill="#636363" d="M50 20h10.5v10.5h-10.5zM140 90h10.5v10.5h-10.5zM220 250h10.5v10.5h-10.5zM230 320h10.5v10.5h-10.5zM440 340h40.5v10.5h-40.5zM430 390h10.5v10.5h-10.5zM380 430h10.5v10.5h-10.5zM360 450h20.5v10.5h-20.5zM390 450h10.5v10.5h-10.5zM360 460h20.5v10.5h-20.5zM360 470h20.5v10.5h-20.5z"/>
<path fill="#646464" d="M160 80h10.5v10.5h-10.5zM30 300h10.5v10.5h-10.5zM420 340h20.5v10.5h-20.5zM370 380h10.5v10.5h-10.5zM440 380h10.5v10.5h-10.5zM460 380h10.5v10.5h-10.5zM360 410h10.5v10.5h-10.5zM410 420h10.5v10.5h-10.5zM360 430h20.5v10.5h-20.5zM390 430h20.5v10.5h-20.5zM140 440h10.5v10.5h-10.5z"/>
<path fill="#656565" d="M180 60h10.5v10.5h-10.5zM110 90h10.5v10.5h-10.5zM60 270h10.5v10.5h-10.5zM440 350h10.5v10.5h-10.5zM460 350h20.5v10.5h-20.5zM440 370h10.5v10.5h-10.5zM450 380h10.5v10.5h-10.5zM470 380h10.5v10.5h-10.5zM360 420h10.5v10.5h-10.5z"/>
<path fill="#666666" d="M190 40h10.5v10.5h-10.5zM60 50h10.5v10.5h-10.5zM170 70h10.5v10.5h-10.5zM120 90h20.5v10.5h-20.5zM210 240h10.5v10.5h-10.5zM230 280h10.5v10.5h-10.5zM400 350h10.5v10.5h-10.5zM450 350h10.5v10.5h-10.5zM210 360h10.5v10.5h-10.5zM440 360h10.5v10.5h-10.5zM460 360h10.5v10.5h-10.5zM460 370h20.5v10.5h-20.5zM430 380h10.5v10.5h-10.5zM420 400h10.5v10.5h-10.5zM410 410h10.5v10.5h-10.5z"/>
<path fill="#676767" d="M90 80h10.5v10.5h-10.5zM130 230h10.5v10.5h-10.5zM430 350h10.5v10.5h-10.5zM390 360h10.5v10.5h-10.5zM450 360h10.5v10.5h-10.5zM470 360h10.5v10.5h-10.5zM380 370h10.5v10.5h-10.5zM450 370h10.5v10.5h-10.5zM370 390h10.5v10.5h-10.5zM370 420h10.5v10.5h-10.5zM400 420h10.5v10.5h-10.5z"/>
<path fill="#686868" d="M230 310h10.5v10.5h-10.5zM410 350h20.5v10.5h-20.5zM430 360h10.5v10.5h-10.5zM430 370h10.5v10.5h-10.5zM420 390h10.5v10.5h-10.5zM370 400h10.5v10.5h-10.5zM370 410h10.5v10.5h-10.5zM380 420h20.5v10.5h-20.5zM140 460h10.5v10.5h-10.5zM140 470h10.5v10.5h-10.5z"/>
<path fill="#696969" d="M40 290h10.5v10.5h-10.5zM230 290h10.5v10.5h-10.5zM380 380h10.5v10.5h-10.5zM410 400h10.5v10.5h-10.5zM400 410h10.5v10.5h-10.5z"/>
<path fill="#6a6a6a" d="M80 70h10.5v10.5h-10.5zM150 80h10.5v10.5h-10.5zM190 230h10.5v10.5h-10.5zM50 280h10.5v10.5h-10.5zM220 340h10.5v10.5h-10.5zM400 360h10.5v10.5h-10.5zM420 380h10.5v10.5h-10.5zM380 410h20.5v10.5h-20.5zM140 450h10.5v10.5h-10.5z"/>
<path fill="#6b6b6b" d="M190 0h10.5v10.5h-10.5zM190 10h10.5v10.5h-10.5zM190 30h10.5v10.5h-10.5zM60 40h10.5v10.5h-10.5zM180 50h10.5v10.5h-10.5zM70 60h10.5v10.5h-10.5zM230 300h10.5v10.5h-10.5zM410 360h20.5v10.5h-20.5zM390 370h10.5v10.5h-10.5zM420 370h10.5v10.5h-10.5zM380 390h10.5v10.5h-10.5zM410 390h10.5v10.5h-10.5zM380 400h10.5v10.5h-10.5z"/>
<path fill="#6c6c6c" d="M190 20h10.5v10.5h-10.5zM100 80h10.5v10.5h-10.5zM110 240h10.5v10.5h-10.5zM220 260h10.5v10.5h-10.5zM20 310h10.5v10.5h-10.5zM390 400h20.5v10.5h-20.5z"/>
<path fill="#6d6d6d" d="M140 230h10.5v10.5h-10.5zM400 370h20.5v10.5h-20.5zM390 380h10.5v10.5h-10.5zM410 380h10.5v10.5h-10.5zM390 390h20.5v10.5h-20.5z"/>
<path fill="#6e6e6e" d="M170 60h10.5v10.5h-10.5zM160 70h10.5v10.5h-10.5zM140 80h10.5v10.5h-10.5zM0 310h10.5v10.5h-10.5zM190 380h10.5v10.5h-10.5zM400 380h10.5v10.5h-10.5zM180 390h10.5v10.5h-10.5z"/>
<path fill="#6f6f6f" d="M60 10h10.5v10.5h-10.5zM180 40h10.5v10.5h-10.5zM90 250h10.5v10.5h-10.5zM140 430h10.5v10.5h-10.5z"/>
<path fill="#707070" d="M60 0h10.5v10.5h-10.5zM60 20h10.5v10.5h-10.5zM60 30h10.5v10.5h-10.5zM110 80h10.5v10.5h-10.5zM180 230h10.5v10.5h-10.5zM80 260h10.5v10.5h-10.5zM10 310h10.5v10.5h-10.5zM220 330h10.5v10.5h-10.5zM210 350h10.5v10.5h-10.5zM200 370h10.5v10.5h-10.5zM170 400h10.5v10.5h-10.5zM130 440h10.5v10.5h-10.5z"/>
<path fill="#717171" d="M90 70h10.5v10.5h-10.5zM130 80h10.5v10.5h-10.5zM200 240h10.5v10.5h-10.5z"/>
<path fill="#727272" d="M70 50h10.5v10.5h-10.5zM120 80h10.5v10.5h-10.5zM150 230h10.5v10.5h-10.5zM210 250h10.5v10.5h-10.5zM160 410h10.5v10.5h-10.5z"/>
<path fill="#737373" d="M170 230h10.5v10.5h-10.5zM70 270h10.5v10.5h-10.5zM30 310h10.5v10.5h-10.5zM130 460h10.5v10.5h-10.5z"/>
<path fill="#747474" d="M180 10h10.5v10.5h-10.5zM180 30h10.5v10.5h-10.5zM170 50h10.5v10.5h-10.5zM80 60h10.5v10.5h-10.5zM150 70h10.5v10.5h-10.5zM160 230h10.5v10.5h-10.5zM120 240h10.5v10.5h-10.5zM220 270h10.5v10.5h-10.5zM130 470h10.5v10.5h-10.5z"/>
<path fill="#757575" d="M180 0h10.5v10.5h-10.5zM180 20h10.5v10.5h-10.5zM150 420h10.5v10.5h-10.5zM130 450h10.5v10.5h-10.5z"/>
<path fill="#767676" d="M160 60h10.5v10.5h-10.5zM220 320h10.5v10.5h-10.5z"/>
<path fill="#777777" d="M70 40h10.5v10.5h-10.5zM100 70h10.5v10.5h-10.5zM100 250h10.5v10.5h-10.5z"/>
<path fill="#787878" d="M60 280h10.5v10.5h-10.5zM50 290h10.5v10.5h-10.5zM40 300h10.5v10.5h-10.5z"/>
<path fill="#797979" d="M170 40h10.5v10.5h-10.5zM140 70h10.5v10.5h-10.5zM220 280h10.5v10.5h-10.5z"/>
<path fill="#7a7a7a" d="M190 240h10.5v10.5h-10.5zM210 340h10.5v10.5h-10.5zM200 360h10.5v10.5h-10.5z"/>
<path fill="#7b7b7b" d="M70 30h10.5v10.5h-10.5zM90 60h10.5v10.5h-10.5zM110 70h10.5v10.5h-10.5zM130 70h10.5v10.5h-10.5zM130 240h10.5v10.5h-10.5zM220 310h10.5v10.5h-10.5zM20 320h10.5v10.5h-10.5zM130 430h10.5v10.5h-10.5z"/>
<path fill="#7c7c7c" d="M70 0h10.5v10.5h-10.5zM70 10h10.5v10.5h-10.5zM70 20h10.5v10.5h-10.5zM170 30h10.5v10.5h-10.5zM80 50h10.5v10.5h-10.5zM160 50h10.5v10.5h-10.5zM150 60h10.5v10.5h-10.5zM120 70h10.5v10.5h-10.5zM220 290h10.5v10.5h-10.5z"/>
<path fill="#7d7d7d" d="M170 0h10.5v10.5h-10.5zM170 10h10.5v10.5h-10.5zM170 20h10.5v10.5h-10.5zM210 260h10.5v10.5h-10.5zM220 300h10.5v10.5h-10.5zM0 320h10.5v10.5h-10.5z"/>
<path fill="#7e7e7e" d="M90 260h10.5v10.5h-10.5zM10 320h10.5v10.5h-10.5z"/>
<path fill="#7f7f7f" d="M110 250h10.5v10.5h-10.5zM200 250h10.5v10.5h-10.5z"/>
<path fill="#808080" d="M140 240h10.5v10.5h-10.5zM180 240h10.5v10.5h-10.5zM190 370h10.5v10.5h-10.5zM180 380h10.5v10.5h-10.5zM120 440h10.5v10.5h-10.5z"/>
<path fill="#818181" d="M80 40h10.5v10.5h-10.5zM160 40h10.5v10.5h-10.5zM100 60h10.5v10.5h-10.5zM140 60h10.5v10.5h-10.5zM80 270h10.5v10.5h-10.5z"/>
<path fill="#828282" d="M30 320h10.5v10.5h-10.5zM120 460h10.5v10.5h-10.5z"/>
<path fill="#838383" d="M210 330h10.5v10.5h-10.5zM120 470h10.5v10.5h-10.5z"/>
<path fill="#848484" d="M90 50h10.5v10.5h-10.5zM150 50h10.5v10.5h-10.5zM110 60h10.5v10.5h-10.5zM150 240h10.5v10.5h-10.5zM170 240h10.5v10.5h-10.5zM200 350h10.5v10.5h-10.5zM170 390h10.5v10.5h-10.5zM120 450h10.5v10.5h-10.5z"/>
<path fill="#858585" d="M80 0h10.5v10.5h-10.5zM160 0h10.5v10.5h-10.5zM80 10h10.5v10.5h-10.5zM160 10h10.5v10.5h-10.5zM160 20h10.5v10.5h-10.5zM80 30h10.5v10.5h-10.5zM160 30h10.5v10.5h-10.5zM130 60h10.5v10.5h-10.5zM160 240h10.5v10.5h-10.5zM70 280h10.5v10.5h-10.5z"/>
<path fill="#868686" d="M80 20h10.5v10.5h-10.5zM120 60h10.5v10.5h-10.5zM120 250h10.5v10.5h-10.5zM210 270h10.5v10.5h-10.5z"/>
<path fill="#878787" d="M50 300h10.5v10.5h-10.5zM40 310h10.5v10.5h-10.5zM160 400h10.5v10.5h-10.5zM150 410h10.5v10.5h-10.5zM140 420h10.5v10.5h-10.5z"/>
<path fill="#888888" d="M150 40h10.5v10.5h-10.5zM100 260h10.5v10.5h-10.5zM60 290h10.5v10.5h-10.5zM120 430h10.5v10.5h-10.5z"/>
<path fill="#898989" d="M90 40h10.5v10.5h-10.5zM100 50h10.5v10.5h-10.5zM140 50h10.5v10.5h-10.5zM190 250h10.5v10.5h-10.5zM20 330h10.5v10.5h-10.5z"/>
<path fill="#8b8b8b" d="M210 320h10.5v10.5h-10.5zM0 330h10.5v10.5h-10.5zM200 340h10.5v10.5h-10.5z"/>
<path fill="#8c8c8c" d="M150 30h10.5v10.5h-10.5zM130 50h10.5v10.5h-10.5zM200 260h10.5v10.5h-10.5zM10 330h10.5v10.5h-10.5z"/>
<path fill="#8d8d8d" d="M150 0h10.5v10.5h-10.5zM150 10h10.5v10.5h-10.5zM150 20h10.5v10.5h-10.5zM90 30h10.5v10.5h-10.5zM110 50h10.5v10.5h-10.5zM130 250h10.5v10.5h-10.5zM210 280h10.5v10.5h-10.5z"/>
<path fill="#8e8e8e" d="M90 0h10.5v10.5h-10.5zM90 10h10.5v10.5h-10.5zM90 20h10.5v10.5h-10.5zM140 40h10.5v10.5h-10.5zM120 50h10.5v10.5h-10.5zM90 270h10.5v10.5h-10.5z"/>
<path fill="#8f8f8f" d="M100 40h10.5v10.5h-10.5zM210 310h10.5v10.5h-10.5zM190 360h10.5v10.5h-10.5z"/>
<path fill="#909090" d="M110 260h10.5v10.5h-10.5zM210 300h10.5v10.5h-10.5zM30 330h10.5v10.5h-10.5z"/>
<path fill="#919191" d="M180 250h10.5v10.5h-10.5zM80 280h10.5v10.5h-10.5zM180 370h10.5v10.5h-10.5z"/>
<path fill="#929292" d="M130 40h10.5v10.5h-10.5zM210 290h10.5v10.5h-10.5z"/>
<path fill="#939393" d="M140 0h10.5v10.5h-10.5zM140 10h10.5v10.5h-10.5zM140 20h10.5v10.5h-10.5zM140 30h10.5v10.5h-10.5zM110 40h10.5v10.5h-10.5zM140 250h10.5v10.5h-10.5z"/>
<path fill="#949494" d="M100 0h10.5v10.5h-10.5zM100 10h10.5v10.5h-10.5zM100 20h10.5v10.5h-10.5zM100 30h10.5v10.5h-10.5zM120 40h10.5v10.5h-10.5zM150 250h10.5v10.5h-10.5zM110 440h10.5v10.5h-10.5z"/>
<path fill="#959595" d="M40 320h10.5v10.5h-10.5z"/>
<path fill="#969696" d="M70 290h10.5v10.5h-10.5zM50 310h10.5v10.5h-10.5zM20 340h10.5v10.5h-10.5z"/>
<path fill="#979797" d="M130 0h10.5v10.5h-10.5zM130 10h10.5v10.5h-10.5zM130 30h10.5v10.5h-10.5zM160 250h20.5v10.5h-20.5zM120 260h10.5v10.5h-10.5zM200 270h10.5v10.5h-10.5zM170 380h10.5v10.5h-10.5z"/>
<path fill="#989898" d="M110 0h10.5v10.5h-10.5zM110 10h10.5v10.5h-10.5zM110 20h10.5v10.5h-10.5zM130 20h10.5v10.5h-10.5zM110 30h10.5v10.5h-10.5zM60 300h10.5v10.5h-10.5zM200 330h10.5v10.5h-10.5zM0 340h10.5v10.5h-10.5z"/>
<path fill="#999999" d="M120 30h10.5v10.5h-10.5zM100 270h10.5v10.5h-10.5zM10 340h10.5v10.5h-10.5zM130 420h10.5v10.5h-10.5zM110 460h10.5v10.5h-10.5z"/>
<path fill="#9a9a9a" d="M120 0h10.5v10.5h-10.5zM120 10h10.5v10.5h-10.5zM120 20h10.5v10.5h-10.5zM190 260h10.5v10.5h-10.5zM110 470h10.5v10.5h-10.5z"/>
<path fill="#9c9c9c" d="M190 350h10.5v10.5h-10.5zM110 450h10.5v10.5h-10.5z"/>
<path fill="#9d9d9d" d="M30 340h10.5v10.5h-10.5zM160 390h10.5v10.5h-10.5zM150 400h10.5v10.5h-10.5z"/>
<path fill="#9e9e9e" d="M90 280h10.5v10.5h-10.5zM140 410h10.5v10.5h-10.5z"/>
<path fill="#a1a1a1" d="M130 260h10.5v10.5h-10.5z"/>
<path fill="#a2a2a2" d="M110 270h10.5v10.5h-10.5zM80 290h10.5v10.5h-10.5z"/>
<path fill="#a3a3a3" d="M40 330h10.5v10.5h-10.5z"/>
<path fill="#a4a4a4" d="M180 260h10.5v10.5h-10.5zM200 280h10.5v10.5h-10.5zM50 320h10.5v10.5h-10.5z"/>
<path fill="#a5a5a5" d="M190 340h10.5v10.5h-10.5zM20 350h10.5v10.5h-10.5zM110 430h10.5v10.5h-10.5z"/>
<path fill="#a6a6a6" d="M70 300h10.5v10.5h-10.5zM200 320h10.5v10.5h-10.5zM180 360h10.5v10.5h-10.5z"/>
<path fill="#a7a7a7" d="M60 310h10.5v10.5h-10.5zM0 350h10.5v10.5h-10.5z"/>
<path fill="#a8a8a8" d="M140 260h10.5v10.5h-10.5zM10 350h10.5v10.5h-10.5zM170 370h10.5v10.5h-10.5z"/>
<path fill="#ababab" d="M150 260h10.5v10.5h-10.5zM120 270h10.5v10.5h-10.5zM100 280h10.5v10.5h-10.5zM200 310h10.5v10.5h-10.5z"/>
<path fill="#acacac" d="M190 270h10.5v10.5h-10.5zM200 300h10.5v10.5h-10.5zM30 350h10.5v10.5h-10.5zM120 420h10.5v10.5h-10.5z"/>
<path fill="#adadad" d="M170 260h10.5v10.5h-10.5zM200 290h10.5v10.5h-10.5z"/>
<path fill="#aeaeae" d="M160 260h10.5v10.5h-10.5z"/>
<path fill="#afafaf" d="M90 290h10.5v10.5h-10.5z"/>
<path fill="#b1b1b1" d="M40 340h10.5v10.5h-10.5z"/>
<path fill="#b2b2b2" d="M160 380h10.5v10.5h-10.5z"/>
<path fill="#b3b3b3" d="M50 330h10.5v10.5h-10.5z"/>
<path fill="#b4b4b4" d="M80 300h10.5v10.5h-10.5zM20 360h10.5v10.5h-10.5zM130 410h10.5v10.5h-10.5z"/>
<path fill="#b5b5b5" d="M60 320h10.5v10.5h-10.5zM190 330h10.5v10.5h-10.5z"/>
<path fill="#b6b6b6" d="M130 270h10.5v10.5h-10.5zM110 280h10.5v10.5h-10.5zM70 310h10.5v10.5h-10.5zM150 390h10.5v10.5h-10.5z"/>
<path fill="#b7b7b7" d="M180 350h10.5v10.5h-10.5zM0 360h10.5v10.5h-10.5z"/>
<path fill="#b8b8b8" d="M10 360h10.5v10.5h-10.5z"/>
<path fill="#b9b9b9" d="M140 400h10.5v10.5h-10.5z"/>
<path fill="#bcbcbc" d="M100 290h10.5v10.5h-10.5zM30 360h10.5v10.5h-10.5z"/>
<path fill="#bebebe" d="M180 270h10.5v10.5h-10.5zM190 280h10.5v10.5h-10.5z"/>
<path fill="#bfbfbf" d="M170 360h10.5v10.5h-10.5zM100 440h10.5v10.5h-10.5z"/>
<path fill="#c0c0c0" d="M140 270h10.5v10.5h-10.5zM120 280h10.5v10.5h-10.5zM90 300h10.5v10.5h-10.5zM50 340h10.5v10.5h-10.5zM40 350h10.5v10.5h-10.5z"/>
<path fill="#c2c2c2" d="M20 370h10.5v10.5h-10.5z"/>
<path fill="#c3c3c3" d="M60 330h10.5v10.5h-10.5z"/>
<path fill="#c4c4c4" d="M80 310h10.5v10.5h-10.5zM0 370h10.5v10.5h-10.5zM100 460h10.5v10.5h-10.5z"/>
<path fill="#c5c5c5" d="M70 320h10.5v10.5h-10.5zM190 320h10.5v10.5h-10.5z"/>
<path fill="#c6c6c6" d="M10 370h10.5v10.5h-10.5zM100 470h10.5v10.5h-10.5z"/>
<path fill="#c7c7c7" d="M150 270h10.5v10.5h-10.5z"/>
<path fill="#c8c8c8" d="M170 270h10.5v10.5h-10.5zM110 290h10.5v10.5h-10.5zM160 370h10.5v10.5h-10.5zM100 450h10.5v10.5h-10.5z"/>
<path fill="#c9c9c9" d="M180 340h10.5v10.5h-10.5zM30 370h10.5v10.5h-10.5z"/>
<path fill="#cacaca" d="M160 270h10.5v10.5h-10.5zM150 380h10.5v10.5h-10.5zM120 410h10.5v10.5h-10.5z"/>
<path fill="#cbcbcb" d="M130 280h10.5v10.5h-10.5z"/>
<path fill="#cdcdcd" d="M190 290h10.5v10.5h-10.5zM100 300h10.5v10.5h-10.5z"/>
<path fill="#cecece" d="M190 310h10.5v10.5h-10.5zM50 350h10.5v10.5h-10.5zM40 360h10.5v10.5h-10.5zM20 380h10.5v10.5h-10.5z"/>
<path fill="#d0d0d0" d="M90 310h10.5v10.5h-10.5zM60 340h10.5v10.5h-10.5zM0 380h10.5v10.5h-10.5zM140 390h10.5v10.5h-10.5z"/>
<path fill="#d1d1d1" d="M170 350h10.5v10.5h-10.5zM130 400h10.5v10.5h-10.5z"/>
<path fill="#d2d2d2" d="M70 330h10.5v10.5h-10.5zM10 380h10.5v10.5h-10.5zM100 430h10.5v10.5h-10.5z"/>
<path fill="#d3d3d3" d="M120 290h10.5v10.5h-10.5zM80 320h10.5v10.5h-10.5z"/>
<path fill="#d5d5d5" d="M190 300h10.5v10.5h-10.5zM30 380h10.5v10.5h-10.5zM110 420h10.5v10.5h-10.5z"/>
<path fill="#d6d6d6" d="M140 280h10.5v10.5h-10.5z"/>
<path fill="#d7d7d7" d="M180 280h10.5v10.5h-10.5zM20 390h10.5v10.5h-10.5z"/>
<path fill="#d9d9d9" d="M110 300h10.5v10.5h-10.5z"/>
<path fill="#dadada" d="M0 390h10.5v10.5h-10.5z"/>
<path fill="#dbdbdb" d="M100 310h10.5v10.5h-10.5zM60 350h10.5v10.5h-10.5zM50 360h10.5v10.5h-10.5zM40 370h10.5v10.5h-10.5zM10 390h10.5v10.5h-10.5zM90 440h10.5v10.5h-10.5z"/>
<path fill="#dcdcdc" d="M20 440h10.5v10.5h-10.5z"/>
<path fill="#dddddd" d="M130 290h10.5v10.5h-10.5zM180 330h10.5v10.5h-10.5zM70 340h10.5v10.5h-10.5zM160 360h10.5v10.5h-10.5zM150 370h10.5v10.5h-10.5zM20 460h10.5v10.5h-10.5z"/>
<path fill="#dedede" d="M90 320h10.5v10.5h-10.5zM0 440h20.5v10.5h-20.5zM20 450h10.5v10.5h-10.5zM20 470h10.5v10.5h-10.5z"/>
<path fill="#dfdfdf" d="M150 280h10.5v10.5h-10.5zM80 330h10.5v10.5h-10.5zM140 380h10.5v10.5h-10.5zM30 390h10.5v10.5h-10.5zM20 400h10.5v10.5h-10.5zM0 450h10.5v10.5h-10.5zM0 460h20.5v10.5h-20.5zM90 460h10.5v10.5h-10.5zM0 470h20.5v10.5h-20.5z"/>
<path fill="#e0e0e0" d="M170 340h10.5v10.5h-10.5zM120 400h10.5v10.5h-10.5zM110 410h10.5v10.5h-10.5zM20 430h10.5v10.5h-10.5zM30 440h10.5v10.5h-10.5zM10 450h10.5v10.5h-10.5zM90 470h10.5v10.5h-10.5z"/>
<path fill="#e1e1e1" d="M160 280h10.5v10.5h-10.5zM0 430h10.5v10.5h-10.5zM90 450h10.5v10.5h-10.5zM30 460h10.5v10.5h-10.5z"/>
<path fill="#e2e2e2" d="M180 320h10.5v10.5h-10.5zM0 400h10.5v10.5h-10.5zM20 410h10.5v10.5h-10.5zM20 420h10.5v10.5h-10.5zM10 430h10.5v10.5h-10.5zM30 450h10.5v10.5h-10.5zM30 470h10.5v10.5h-10.5z"/>
<path fill="#e3e3e3" d="M170 280h10.5v10.5h-10.5zM120 300h10.5v10.5h-10.5zM10 400h10.5v10.5h-10.5zM80 440h10.5v10.5h-10.5z"/>
<path fill="#e4e4e4" d="M0 420h10.5v10.5h-10.5zM30 430h10.5v10.5h-10.5z"/>
<path fill="#e5e5e5" d="M160 350h10.5v10.5h-10.5zM0 410h10.5v10.5h-10.5zM10 420h10.5v10.5h-10.5z"/>
<path fill="#e6e6e6" d="M140 290h10.5v10.5h-10.5zM180 290h10.5v10.5h-10.5zM110 310h10.5v10.5h-10.5zM70 350h10.5v10.5h-10.5zM60 360h10.5v10.5h-10.5zM50 370h10.5v10.5h-10.5zM40 380h10.5v10.5h-10.5zM10 410h10.5v10.5h-10.5zM80 460h10.5v10.5h-10.5z"/>
<path fill="#e7e7e7" d="M180 310h10.5v10.5h-10.5zM100 320h10.5v10.5h-10.5zM30 400h10.5v10.5h-10.5zM70 440h10.5v10.5h-10.5zM80 470h10.5v10.5h-10.5z"/>
<path fill="#e8e8e8" d="M80 340h10.5v10.5h-10.5zM30 420h10.5v10.5h-10.5zM40 440h10.5v10.5h-10.5zM80 450h10.5v10.5h-10.5z"/>
<path fill="#e9e9e9" d="M90 330h10.5v10.5h-10.5zM130 390h10.5v10.5h-10.5zM90 430h10.5v10.5h-10.5zM70 460h10.5v10.5h-10.5z"/>
<path fill="#eaeaea" d="M130 300h10.5v10.5h-10.5zM140 370h10.5v10.5h-10.5zM30 410h10.5v10.5h-10.5zM60 440h10.5v10.5h-10.5zM70 450h10.5v10.5h-10.5zM40 460h10.5v10.5h-10.5zM40 470h10.5v10.5h-10.5zM70 470h10.5v10.5h-10.5z"/>
<path fill="#ebebeb" d="M50 440h10.5v10.5h-10.5zM40 450h10.5v10.5h-10.5z"/>
<path fill="#ececec" d="M130 380h10.5v10.5h-10.5zM110 400h10.5v10.5h-10.5zM50 460h20.5v10.5h-20.5zM60 470h10.5v10.5h-10.5z"/>
<path fill="#ededed" d="M150 290h10.5v10.5h-10.5zM160 340h10.5v10.5h-10.5zM150 360h10.5v10.5h-10.5zM40 430h10.5v10.5h-10.5zM70 430h10.5v10.5h-10.5zM50 450h20.5v10.5h-20.5zM50 470h10.5v10.5h-10.5z"/>
<path fill="#eeeeee" d="M180 300h10.5v10.5h-10.5zM120 310h10.5v10.5h-10.5zM70 360h10.5v10.5h-10.5zM60 370h10.5v10.5h-10.5zM50 380h10.5v10.5h-10.5zM40 390h10.5v10.5h-10.5zM120 390h10.5v10.5h-10.5zM80 430h10.5v10.5h-10.5z"/>
<path fill="#efefef" d="M160 290h10.5v10.5h-10.5zM100 330h10.5v10.5h-10.5zM170 330h10.5v10.5h-10.5zM80 350h10.5v10.5h-10.5zM100 410h10.5v10.5h-10.5z"/>
<path fill="#f0f0f0" d="M170 290h10.5v10.5h-10.5zM140 300h10.5v10.5h-10.5zM110 320h10.5v10.5h-10.5zM90 340h10.5v10.5h-10.5zM130 370h10.5v10.5h-10.5zM100 400h10.5v10.5h-10.5zM50 430h20.5v10.5h-20.5z"/>
<path fill="#f2f2f2" d="M170 320h10.5v10.5h-10.5zM150 350h10.5v10.5h-10.5z"/>
<path fill="#f3f3f3" d="M160 300h20.5v10.5h-20.5zM170 310h10.5v10.5h-10.5zM110 390h10.5v10.5h-10.5z"/>
<path fill="#f4f4f4" d="M150 300h10.5v10.5h-10.5zM130 310h10.5v10.5h-10.5zM150 340h10.5v10.5h-10.5zM80 360h10.5v10.5h-10.5zM140 360h10.5v10.5h-10.5zM70 370h10.5v10.5h-10.5zM120 380h10.5v10.5h-10.5zM90 400h10.5v10.5h-10.5zM40 420h10.5v10.5h-10.5z"/>
<path fill="#f5f5f5" d="M160 330h10.5v10.5h-10.5zM120 370h10.5v10.5h-10.5zM60 380h10.5v10.5h-10.5zM50 390h10.5v10.5h-10.5z"/>
<path fill="#f6f6f6" d="M120 320h10.5v10.5h-10.5zM100 340h10.5v10.5h-10.5zM90 350h10.5v10.5h-10.5zM100 390h10.5v10.5h-10.5z"/>
<path fill="#f7f7f7" d="M110 330h10.5v10.5h-10.5zM40 400h10.5v10.5h-10.5zM90 410h10.5v10.5h-10.5zM70 420h10.5v10.5h-10.5zM90 420h20.5v10.5h-20.5z"/>
<path fill="#f8f8f8" d="M140 310h10.5v10.5h-10.5zM160 310h10.5v10.5h-10.5zM130 360h10.5v10.5h-10.5zM80 370h10.5v10.5h-10.5zM70 380h10.5v10.5h-10.5zM110 380h10.5v10.5h-10.5zM90 390h10.5v10.5h-10.5zM50 420h10.5v10.5h-10.5z"/>
<path fill="#f9f9f9" d="M150 310h10.5v10.5h-10.5zM160 320h10.5v10.5h-10.5zM90 360h10.5v10.5h-10.5zM100 380h10.5v10.5h-10.5zM40 410h10.5v10.5h-10.5zM60 420h10.5v10.5h-10.5zM80 420h10.5v10.5h-10.5z"/>
<path fill="#fafafa" d="M150 330h10.5v10.5h-10.5zM100 350h10.5v10.5h-10.5zM140 350h10.5v10.5h-10.5zM90 370h10.5v10.5h-10.5zM80 380h20.5v10.5h-20.5zM60 390h10.5v10.5h-10.5zM50 400h10.5v10.5h-10.5z"/>
<path fill="#fbfbfb" d="M130 320h10.5v10.5h-10.5zM100 370h20.5v10.5h-20.5zM70 390h20.5v10.5h-20.5zM80 400h10.5v10.5h-10.5zM50 410h10.5v10.5h-10.5zM80 410h10.5v10.5h-10.5z"/>
<path fill="#fcfcfc" d="M140 320h20.5v10.5h-20.5zM100 360h10.5v10.5h-10.5zM120 360h10.5v10.5h-10.5zM70 410h10.5v10.5h-10.5z"/>
<path fill="#fdfdfd" d="M120 330h10.5v10.5h-10.5zM110 340h10.5v10.5h-10.5zM140 340h10.5v10.5h-10.5zM110 360h10.5v10.5h-10.5zM60 400h20.5v10.5h-20.5zM60 410h10.5v10.5h-10.5z"/>
<path fill="#fefefe" d="M140 330h10.5v10.5h-10.5zM110 350h10.5v10.5h-10.5z"/>
<path fill="#ffffff" d="M130 330h10.5v10.5h-10.5zM120 340h20.5v10.5h-20.5zM120 350h20.5v10.5h-20.5z"/>
</g></g>
<path d="M1517.35 733.82V1143.50H1927.13" fill="none" stroke="#262626" stroke-width="1.3" stroke-opacity="0.5"/>
<path d="M1517.45 1143.50v10.6M1517.45 733.82v-10.6M1517.45 1143.50h-10.6M1927.13 1143.50h10.6M1597.78 1143.50v10.6M1597.78 733.82v-10.6M1517.45 1063.17h-10.6M1927.13 1063.17h10.6M1678.11 1143.50v10.6M1678.11 733.82v-10.6M1517.45 982.84h-10.6M1927.13 982.84h10.6M1758.44 1143.50v10.6M1758.44 733.82v-10.6M1517.45 902.51h-10.6M1927.13 902.51h10.6M1838.77 1143.50v10.6M1838.77 733.82v-10.6M1517.45 822.18h-10.6M1927.13 822.18h10.6M1919.10 1143.50v10.6M1919.10 733.82v-10.6M1517.45 741.85h-10.6M1927.13 741.85h10.6" stroke="#262626" stroke-width="1.7" fill="none"/>
<text class="tk" x="1517.45" y="1197.70" text-anchor="middle">0</text>
<text class="tk" x="1495.05" y="1156.10" text-anchor="end">0</text>
<text class="tk" x="1597.78" y="1197.70" text-anchor="middle">0.1</text>
<text class="tk" x="1495.05" y="1075.77" text-anchor="end">0.1</text>
<text class="tk" x="1678.11" y="1197.70" text-anchor="middle">0.2</text>
<text class="tk" x="1495.05" y="995.44" text-anchor="end">0.2</text>
<text class="tk" x="1758.44" y="1197.70" text-anchor="middle">0.3</text>
<text class="tk" x="1495.05" y="915.11" text-anchor="end">0.3</text>
<text class="tk" x="1838.77" y="1197.70" text-anchor="middle">0.4</text>
<text class="tk" x="1495.05" y="834.78" text-anchor="end">0.4</text>
<text class="tk" x="1919.10" y="1197.70" text-anchor="middle">0.5</text>
<text class="tk" x="1495.05" y="754.45" text-anchor="end">0.5</text>
<text class="lb" x="1722.29" y="1243.50" text-anchor="middle">X (m)</text>
<text class="lb" transform="translate(1435.05 938.66) rotate(-90)" text-anchor="middle">Y (m)</text>
<text class="tt" transform="translate(1722.89 716.62) scale(.978 1)" text-anchor="middle"><tspan font-style="italic">N</tspan> = 9, Arr04, Loc. 4.1, F</text>
<text class="pl" x="1445.05" y="725.42" text-anchor="end">(f)</text>
<rect x="1960.60" y="734.97" width="38.9" height="406.50" fill="url(#jg)" stroke="#1a1a1a" stroke-width="1.2"/>
<text class="cb" x="2011.80" y="1132.61">0.2</text>
<text class="cb" x="2011.80" y="1036.85">0.4</text>
<text class="cb" x="2011.80" y="941.09">0.6</text>
<text class="cb" x="2011.80" y="845.33">0.8</text>
<text class="cb" x="2011.80" y="749.57">1</text>
<path d="M1999.50 1118.01h-5M1999.50 1022.25h-5M1999.50 926.49h-5M1999.50 830.73h-5" stroke="#262626" stroke-width="1.4" fill="none"/>
<path d="M1606.3 1052.6h19.2l-9.6 -18.8z" fill="#bdbdbd" stroke="#cfe9e9" stroke-width="0.8"/>
<path d="M1580.4 1069.1h26.6M1593.7 1055.8v26.6" stroke="#fff" stroke-width="4.7" fill="none"/>
</svg></body></html>
